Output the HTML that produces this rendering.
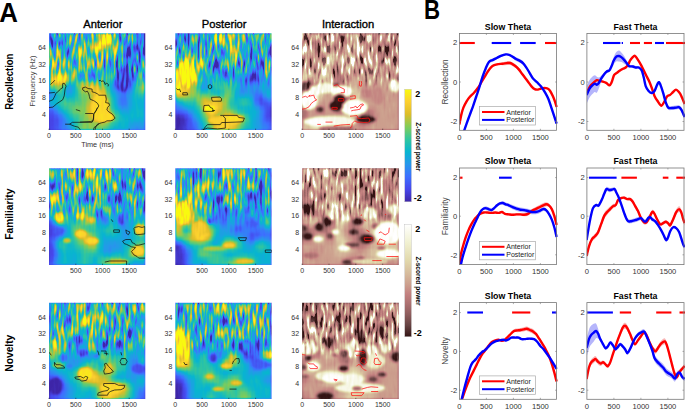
<!DOCTYPE html>
<html><head><meta charset="utf-8"><style>
html,body{margin:0;padding:0;background:#fff;width:685px;height:409px;overflow:hidden;position:relative}
</style></head><body>
<svg width="685" height="409" viewBox="0 0 685 409" style="position:absolute;left:0;top:0">
<defs>
<filter id="bl08" x="0" y="0" width="1" height="1"><feGaussianBlur stdDeviation="0.8" edgeMode="duplicate"/></filter>
<filter id="bl12" x="0" y="0" width="1" height="1"><feGaussianBlur stdDeviation="1.2" edgeMode="duplicate"/></filter>
<filter id="bl18" x="0" y="0" width="1" height="1"><feGaussianBlur stdDeviation="1.8" edgeMode="duplicate"/></filter>
<filter id="bl25" x="0" y="0" width="1" height="1"><feGaussianBlur stdDeviation="2.5" edgeMode="duplicate"/></filter>
</defs>
<filter id="hfra" x="0" y="0" width="1" height="1" color-interpolation-filters="sRGB"><feGaussianBlur in="SourceGraphic" stdDeviation="1.2" edgeMode="duplicate" result="base"/><feTurbulence type="fractalNoise" baseFrequency="0.4 0.08" numOctaves="1" seed="3" result="turb"/><feColorMatrix in="turb" type="matrix" values="1 0 0 0 0 0 0 0 0 0 0 0 0 0 0 0 0 0 0 1" result="n0"/><feOffset in="n0" dx="0" dy="0" result="n"/><feColorMatrix in="base" type="matrix" values="0 1 0 0 0 0 0 0 0 0 0 0 0 0 0 0 0 0 0 1" result="m"/><feComposite in="n" in2="m" operator="arithmetic" k1="1.8" k2="0" k3="-0.900" k4="0.5" result="pert"/><feComposite in="base" in2="pert" operator="arithmetic" k1="0" k2="1" k3="1" k4="-0.5" result="sum"/><feColorMatrix in="sum" type="matrix" values="1 0 0 0 0 1 0 0 0 0 1 0 0 0 0 0 0 0 0 1" result="gray"/><feComponentTransfer in="gray"><feFuncR type="table" tableValues="0.243 0.263 0.278 0.263 0.243 0.200 0.153 0.090 0.031 0.110 0.192 0.349 0.506 0.682 0.863 0.925 0.988 0.984 0.976"/><feFuncG type="table" tableValues="0.149 0.216 0.278 0.357 0.435 0.514 0.592 0.651 0.710 0.741 0.776 0.788 0.800 0.769 0.741 0.776 0.812 0.898 0.984"/><feFuncB type="table" tableValues="0.659 0.792 0.922 0.961 1.000 0.961 0.922 0.871 0.816 0.722 0.624 0.486 0.349 0.255 0.161 0.173 0.188 0.122 0.055"/></feComponentTransfer></filter>
<svg x="49" y="33.2" width="96.30" height="96.70" viewBox="0 0 96.30 96.70" preserveAspectRatio="none" overflow="hidden">
<g filter="url(#hfra)">
<linearGradient id="gra0"><stop offset="0.000" stop-color="#55ff00"/><stop offset="0.053" stop-color="#5cff00"/><stop offset="0.105" stop-color="#72ff00"/><stop offset="0.158" stop-color="#75ff00"/><stop offset="0.211" stop-color="#71ff00"/><stop offset="0.263" stop-color="#83ff00"/><stop offset="0.316" stop-color="#91ff00"/><stop offset="0.368" stop-color="#8eff00"/><stop offset="0.421" stop-color="#95ff00"/><stop offset="0.474" stop-color="#b1ff00"/><stop offset="0.526" stop-color="#d7ff00"/><stop offset="0.579" stop-color="#ddff00"/><stop offset="0.632" stop-color="#c0ff00"/><stop offset="0.684" stop-color="#99ff00"/><stop offset="0.737" stop-color="#80ff00"/><stop offset="0.789" stop-color="#74ff00"/><stop offset="0.842" stop-color="#61ff00"/><stop offset="0.895" stop-color="#55ff00"/><stop offset="0.947" stop-color="#58ff00"/><stop offset="1.000" stop-color="#59ff00"/></linearGradient>
<rect x="0" y="0.00" width="96.30" height="4.53" fill="url(#gra0)"/>
<linearGradient id="gra1"><stop offset="0.000" stop-color="#4aff00"/><stop offset="0.053" stop-color="#4fff00"/><stop offset="0.105" stop-color="#61ff00"/><stop offset="0.158" stop-color="#6bff00"/><stop offset="0.211" stop-color="#74ff00"/><stop offset="0.263" stop-color="#87ff00"/><stop offset="0.316" stop-color="#8fff00"/><stop offset="0.368" stop-color="#8cff00"/><stop offset="0.421" stop-color="#9aff00"/><stop offset="0.474" stop-color="#c0ff00"/><stop offset="0.526" stop-color="#e8ff00"/><stop offset="0.579" stop-color="#e6ff00"/><stop offset="0.632" stop-color="#c5ff00"/><stop offset="0.684" stop-color="#a3ff00"/><stop offset="0.737" stop-color="#86ff00"/><stop offset="0.789" stop-color="#6eff00"/><stop offset="0.842" stop-color="#58ff00"/><stop offset="0.895" stop-color="#4dff00"/><stop offset="0.947" stop-color="#4dff00"/><stop offset="1.000" stop-color="#4eff00"/></linearGradient>
<rect x="0" y="4.03" width="96.30" height="4.53" fill="url(#gra1)"/>
<linearGradient id="gra2"><stop offset="0.000" stop-color="#39ff00"/><stop offset="0.053" stop-color="#3dff00"/><stop offset="0.105" stop-color="#4bff00"/><stop offset="0.158" stop-color="#5fff00"/><stop offset="0.211" stop-color="#76ff00"/><stop offset="0.263" stop-color="#8aff00"/><stop offset="0.316" stop-color="#8dff00"/><stop offset="0.368" stop-color="#8aff00"/><stop offset="0.421" stop-color="#a3ff00"/><stop offset="0.474" stop-color="#d5ff00"/><stop offset="0.526" stop-color="#feff00"/><stop offset="0.579" stop-color="#f0ff00"/><stop offset="0.632" stop-color="#c8ff00"/><stop offset="0.684" stop-color="#b2ff00"/><stop offset="0.737" stop-color="#8fff00"/><stop offset="0.789" stop-color="#60ff00"/><stop offset="0.842" stop-color="#46ff00"/><stop offset="0.895" stop-color="#3dff00"/><stop offset="0.947" stop-color="#3cff00"/><stop offset="1.000" stop-color="#3cff00"/></linearGradient>
<rect x="0" y="8.06" width="96.30" height="4.53" fill="url(#gra2)"/>
<linearGradient id="gra3"><stop offset="0.000" stop-color="#3aff00"/><stop offset="0.053" stop-color="#43ff00"/><stop offset="0.105" stop-color="#5eff00"/><stop offset="0.158" stop-color="#69ff00"/><stop offset="0.211" stop-color="#6aff00"/><stop offset="0.263" stop-color="#81ff00"/><stop offset="0.316" stop-color="#90ff00"/><stop offset="0.368" stop-color="#93ff00"/><stop offset="0.421" stop-color="#a5ff00"/><stop offset="0.474" stop-color="#ccff00"/><stop offset="0.526" stop-color="#f0ff00"/><stop offset="0.579" stop-color="#dcff00"/><stop offset="0.632" stop-color="#b7ff00"/><stop offset="0.684" stop-color="#b1ff00"/><stop offset="0.737" stop-color="#8dff00"/><stop offset="0.789" stop-color="#4eff00"/><stop offset="0.842" stop-color="#35ff00"/><stop offset="0.895" stop-color="#36ff00"/><stop offset="0.947" stop-color="#3cff00"/><stop offset="1.000" stop-color="#3dff00"/></linearGradient>
<rect x="0" y="12.09" width="96.30" height="4.53" fill="url(#gra3)"/>
<linearGradient id="gra4"><stop offset="0.000" stop-color="#55ff00"/><stop offset="0.053" stop-color="#65ff00"/><stop offset="0.105" stop-color="#94ff00"/><stop offset="0.158" stop-color="#83ff00"/><stop offset="0.211" stop-color="#58ff00"/><stop offset="0.263" stop-color="#72ff00"/><stop offset="0.316" stop-color="#9aff00"/><stop offset="0.368" stop-color="#a4ff00"/><stop offset="0.421" stop-color="#9cff00"/><stop offset="0.474" stop-color="#a5ff00"/><stop offset="0.526" stop-color="#bfff00"/><stop offset="0.579" stop-color="#b1ff00"/><stop offset="0.632" stop-color="#98ff00"/><stop offset="0.684" stop-color="#9eff00"/><stop offset="0.737" stop-color="#7dff00"/><stop offset="0.789" stop-color="#3eff00"/><stop offset="0.842" stop-color="#2dff00"/><stop offset="0.895" stop-color="#3bff00"/><stop offset="0.947" stop-color="#4cff00"/><stop offset="1.000" stop-color="#50ff00"/></linearGradient>
<rect x="0" y="16.12" width="96.30" height="4.53" fill="url(#gra4)"/>
<linearGradient id="gra5"><stop offset="0.000" stop-color="#7fff00"/><stop offset="0.053" stop-color="#8dff00"/><stop offset="0.105" stop-color="#afff00"/><stop offset="0.158" stop-color="#8dff00"/><stop offset="0.211" stop-color="#57ff00"/><stop offset="0.263" stop-color="#75ff00"/><stop offset="0.316" stop-color="#a6ff00"/><stop offset="0.368" stop-color="#b0ff00"/><stop offset="0.421" stop-color="#91ff00"/><stop offset="0.474" stop-color="#81ff00"/><stop offset="0.526" stop-color="#97ff00"/><stop offset="0.579" stop-color="#96ff00"/><stop offset="0.632" stop-color="#89ff00"/><stop offset="0.684" stop-color="#8dff00"/><stop offset="0.737" stop-color="#6dff00"/><stop offset="0.789" stop-color="#3aff00"/><stop offset="0.842" stop-color="#33ff00"/><stop offset="0.895" stop-color="#46ff00"/><stop offset="0.947" stop-color="#55ff00"/><stop offset="1.000" stop-color="#58ff00"/></linearGradient>
<rect x="0" y="20.15" width="96.30" height="4.53" fill="url(#gra5)"/>
<linearGradient id="gra6"><stop offset="0.000" stop-color="#a5ff00"/><stop offset="0.053" stop-color="#a6ff00"/><stop offset="0.105" stop-color="#a2ff00"/><stop offset="0.158" stop-color="#82ff00"/><stop offset="0.211" stop-color="#68ff00"/><stop offset="0.263" stop-color="#8aff00"/><stop offset="0.316" stop-color="#b1ff00"/><stop offset="0.368" stop-color="#b0ff00"/><stop offset="0.421" stop-color="#88ff00"/><stop offset="0.474" stop-color="#72ff00"/><stop offset="0.526" stop-color="#88ff00"/><stop offset="0.579" stop-color="#93ff00"/><stop offset="0.632" stop-color="#8cff00"/><stop offset="0.684" stop-color="#83ff00"/><stop offset="0.737" stop-color="#61ff00"/><stop offset="0.789" stop-color="#3bff00"/><stop offset="0.842" stop-color="#42ff00"/><stop offset="0.895" stop-color="#53ff00"/><stop offset="0.947" stop-color="#54ff00"/><stop offset="1.000" stop-color="#53ff00"/></linearGradient>
<rect x="0" y="24.18" width="96.30" height="4.53" fill="url(#gra6)"/>
<linearGradient id="gra7"><stop offset="0.000" stop-color="#a7ff00"/><stop offset="0.053" stop-color="#a2ff00"/><stop offset="0.105" stop-color="#8eff00"/><stop offset="0.158" stop-color="#79ff00"/><stop offset="0.211" stop-color="#7aff00"/><stop offset="0.263" stop-color="#9cff00"/><stop offset="0.316" stop-color="#b5ff00"/><stop offset="0.368" stop-color="#aaff00"/><stop offset="0.421" stop-color="#85ff00"/><stop offset="0.474" stop-color="#74ff00"/><stop offset="0.526" stop-color="#88ff00"/><stop offset="0.579" stop-color="#91ff00"/><stop offset="0.632" stop-color="#88ff00"/><stop offset="0.684" stop-color="#79ff00"/><stop offset="0.737" stop-color="#53ff00"/><stop offset="0.789" stop-color="#33ff00"/><stop offset="0.842" stop-color="#47ff00"/><stop offset="0.895" stop-color="#5fff00"/><stop offset="0.947" stop-color="#5cff00"/><stop offset="1.000" stop-color="#5aff00"/></linearGradient>
<rect x="0" y="28.20" width="96.30" height="4.53" fill="url(#gra7)"/>
<linearGradient id="gra8"><stop offset="0.000" stop-color="#91ff00"/><stop offset="0.053" stop-color="#90ff00"/><stop offset="0.105" stop-color="#89ff00"/><stop offset="0.158" stop-color="#81ff00"/><stop offset="0.211" stop-color="#86ff00"/><stop offset="0.263" stop-color="#a3ff00"/><stop offset="0.316" stop-color="#afff00"/><stop offset="0.368" stop-color="#9cff00"/><stop offset="0.421" stop-color="#7fff00"/><stop offset="0.474" stop-color="#79ff00"/><stop offset="0.526" stop-color="#8bff00"/><stop offset="0.579" stop-color="#89ff00"/><stop offset="0.632" stop-color="#77ff00"/><stop offset="0.684" stop-color="#6aff00"/><stop offset="0.737" stop-color="#44ff00"/><stop offset="0.789" stop-color="#23ff00"/><stop offset="0.842" stop-color="#3eff00"/><stop offset="0.895" stop-color="#64ff00"/><stop offset="0.947" stop-color="#6cff00"/><stop offset="1.000" stop-color="#6cff00"/></linearGradient>
<rect x="0" y="32.23" width="96.30" height="4.53" fill="url(#gra8)"/>
<linearGradient id="gra9"><stop offset="0.000" stop-color="#96da00"/><stop offset="0.053" stop-color="#97da00"/><stop offset="0.105" stop-color="#9ada00"/><stop offset="0.158" stop-color="#98da00"/><stop offset="0.211" stop-color="#98da00"/><stop offset="0.263" stop-color="#a2da00"/><stop offset="0.316" stop-color="#9eda00"/><stop offset="0.368" stop-color="#84da00"/><stop offset="0.421" stop-color="#69da00"/><stop offset="0.474" stop-color="#6bda00"/><stop offset="0.526" stop-color="#89da00"/><stop offset="0.579" stop-color="#85da00"/><stop offset="0.632" stop-color="#6ada00"/><stop offset="0.684" stop-color="#59da00"/><stop offset="0.737" stop-color="#38da00"/><stop offset="0.789" stop-color="#1ada00"/><stop offset="0.842" stop-color="#32da00"/><stop offset="0.895" stop-color="#5ada00"/><stop offset="0.947" stop-color="#6fda00"/><stop offset="1.000" stop-color="#73da00"/></linearGradient>
<rect x="0" y="36.26" width="96.30" height="4.53" fill="url(#gra9)"/>
<linearGradient id="gra10"><stop offset="0.000" stop-color="#b8b000"/><stop offset="0.053" stop-color="#b9b000"/><stop offset="0.105" stop-color="#bab000"/><stop offset="0.158" stop-color="#b5b000"/><stop offset="0.211" stop-color="#a9b000"/><stop offset="0.263" stop-color="#9cb000"/><stop offset="0.316" stop-color="#8bb000"/><stop offset="0.368" stop-color="#71b000"/><stop offset="0.421" stop-color="#53b000"/><stop offset="0.474" stop-color="#59b000"/><stop offset="0.526" stop-color="#85b000"/><stop offset="0.579" stop-color="#89b000"/><stop offset="0.632" stop-color="#68b000"/><stop offset="0.684" stop-color="#4bb000"/><stop offset="0.737" stop-color="#2eb000"/><stop offset="0.789" stop-color="#1cb000"/><stop offset="0.842" stop-color="#29b000"/><stop offset="0.895" stop-color="#4ab000"/><stop offset="0.947" stop-color="#69b000"/><stop offset="1.000" stop-color="#71b000"/></linearGradient>
<rect x="0" y="40.29" width="96.30" height="4.53" fill="url(#gra10)"/>
<linearGradient id="gra11"><stop offset="0.000" stop-color="#cb8500"/><stop offset="0.053" stop-color="#cd8500"/><stop offset="0.105" stop-color="#d28500"/><stop offset="0.158" stop-color="#c08500"/><stop offset="0.211" stop-color="#a18500"/><stop offset="0.263" stop-color="#8f8500"/><stop offset="0.316" stop-color="#8a8500"/><stop offset="0.368" stop-color="#858500"/><stop offset="0.421" stop-color="#718500"/><stop offset="0.474" stop-color="#6f8500"/><stop offset="0.526" stop-color="#8b8500"/><stop offset="0.579" stop-color="#918500"/><stop offset="0.632" stop-color="#748500"/><stop offset="0.684" stop-color="#478500"/><stop offset="0.737" stop-color="#268500"/><stop offset="0.789" stop-color="#1b8500"/><stop offset="0.842" stop-color="#278500"/><stop offset="0.895" stop-color="#4b8500"/><stop offset="0.947" stop-color="#788500"/><stop offset="1.000" stop-color="#848500"/></linearGradient>
<rect x="0" y="44.32" width="96.30" height="4.53" fill="url(#gra11)"/>
<linearGradient id="gra12"><stop offset="0.000" stop-color="#b95b00"/><stop offset="0.053" stop-color="#c15b00"/><stop offset="0.105" stop-color="#d25b00"/><stop offset="0.158" stop-color="#b45b00"/><stop offset="0.211" stop-color="#825b00"/><stop offset="0.263" stop-color="#7f5b00"/><stop offset="0.316" stop-color="#9a5b00"/><stop offset="0.368" stop-color="#b45b00"/><stop offset="0.421" stop-color="#b55b00"/><stop offset="0.474" stop-color="#a95b00"/><stop offset="0.526" stop-color="#a05b00"/><stop offset="0.579" stop-color="#9b5b00"/><stop offset="0.632" stop-color="#845b00"/><stop offset="0.684" stop-color="#4d5b00"/><stop offset="0.737" stop-color="#225b00"/><stop offset="0.789" stop-color="#1a5b00"/><stop offset="0.842" stop-color="#2f5b00"/><stop offset="0.895" stop-color="#615b00"/><stop offset="0.947" stop-color="#985b00"/><stop offset="1.000" stop-color="#a75b00"/></linearGradient>
<rect x="0" y="48.35" width="96.30" height="4.53" fill="url(#gra12)"/>
<linearGradient id="gra13"><stop offset="0.000" stop-color="#8a3000"/><stop offset="0.053" stop-color="#973000"/><stop offset="0.105" stop-color="#b93000"/><stop offset="0.158" stop-color="#9a3000"/><stop offset="0.211" stop-color="#613000"/><stop offset="0.263" stop-color="#743000"/><stop offset="0.316" stop-color="#a43000"/><stop offset="0.368" stop-color="#c63000"/><stop offset="0.421" stop-color="#d43000"/><stop offset="0.474" stop-color="#d03000"/><stop offset="0.526" stop-color="#bf3000"/><stop offset="0.579" stop-color="#aa3000"/><stop offset="0.632" stop-color="#893000"/><stop offset="0.684" stop-color="#563000"/><stop offset="0.737" stop-color="#2c3000"/><stop offset="0.789" stop-color="#223000"/><stop offset="0.842" stop-color="#3f3000"/><stop offset="0.895" stop-color="#743000"/><stop offset="0.947" stop-color="#a53000"/><stop offset="1.000" stop-color="#b13000"/></linearGradient>
<rect x="0" y="52.38" width="96.30" height="4.53" fill="url(#gra13)"/>
<linearGradient id="gra14"><stop offset="0.000" stop-color="#591b00"/><stop offset="0.053" stop-color="#691b00"/><stop offset="0.105" stop-color="#951b00"/><stop offset="0.158" stop-color="#801b00"/><stop offset="0.211" stop-color="#521b00"/><stop offset="0.263" stop-color="#721b00"/><stop offset="0.316" stop-color="#a01b00"/><stop offset="0.368" stop-color="#b31b00"/><stop offset="0.421" stop-color="#c11b00"/><stop offset="0.474" stop-color="#d31b00"/><stop offset="0.526" stop-color="#dc1b00"/><stop offset="0.579" stop-color="#bc1b00"/><stop offset="0.632" stop-color="#861b00"/><stop offset="0.684" stop-color="#5f1b00"/><stop offset="0.737" stop-color="#3f1b00"/><stop offset="0.789" stop-color="#331b00"/><stop offset="0.842" stop-color="#511b00"/><stop offset="0.895" stop-color="#7c1b00"/><stop offset="0.947" stop-color="#971b00"/><stop offset="1.000" stop-color="#9c1b00"/></linearGradient>
<rect x="0" y="56.41" width="96.30" height="4.53" fill="url(#gra14)"/>
<linearGradient id="gra15"><stop offset="0.000" stop-color="#501500"/><stop offset="0.053" stop-color="#5d1500"/><stop offset="0.105" stop-color="#841500"/><stop offset="0.158" stop-color="#7c1500"/><stop offset="0.211" stop-color="#601500"/><stop offset="0.263" stop-color="#771500"/><stop offset="0.316" stop-color="#971500"/><stop offset="0.368" stop-color="#a41500"/><stop offset="0.421" stop-color="#b01500"/><stop offset="0.474" stop-color="#cc1500"/><stop offset="0.526" stop-color="#e91500"/><stop offset="0.579" stop-color="#cb1500"/><stop offset="0.632" stop-color="#8d1500"/><stop offset="0.684" stop-color="#651500"/><stop offset="0.737" stop-color="#461500"/><stop offset="0.789" stop-color="#3a1500"/><stop offset="0.842" stop-color="#5b1500"/><stop offset="0.895" stop-color="#7c1500"/><stop offset="0.947" stop-color="#831500"/><stop offset="1.000" stop-color="#831500"/></linearGradient>
<rect x="0" y="60.44" width="96.30" height="4.53" fill="url(#gra15)"/>
<linearGradient id="gra16"><stop offset="0.000" stop-color="#690f00"/><stop offset="0.053" stop-color="#700f00"/><stop offset="0.105" stop-color="#870f00"/><stop offset="0.158" stop-color="#8b0f00"/><stop offset="0.211" stop-color="#800f00"/><stop offset="0.263" stop-color="#830f00"/><stop offset="0.316" stop-color="#920f00"/><stop offset="0.368" stop-color="#a50f00"/><stop offset="0.421" stop-color="#b30f00"/><stop offset="0.474" stop-color="#ca0f00"/><stop offset="0.526" stop-color="#e50f00"/><stop offset="0.579" stop-color="#d30f00"/><stop offset="0.632" stop-color="#9e0f00"/><stop offset="0.684" stop-color="#690f00"/><stop offset="0.737" stop-color="#410f00"/><stop offset="0.789" stop-color="#370f00"/><stop offset="0.842" stop-color="#5b0f00"/><stop offset="0.895" stop-color="#790f00"/><stop offset="0.947" stop-color="#770f00"/><stop offset="1.000" stop-color="#740f00"/></linearGradient>
<rect x="0" y="64.47" width="96.30" height="4.53" fill="url(#gra16)"/>
<linearGradient id="gra17"><stop offset="0.000" stop-color="#680d00"/><stop offset="0.053" stop-color="#6e0d00"/><stop offset="0.105" stop-color="#840d00"/><stop offset="0.158" stop-color="#930d00"/><stop offset="0.211" stop-color="#950d00"/><stop offset="0.263" stop-color="#940d00"/><stop offset="0.316" stop-color="#990d00"/><stop offset="0.368" stop-color="#a90d00"/><stop offset="0.421" stop-color="#be0d00"/><stop offset="0.474" stop-color="#d50d00"/><stop offset="0.526" stop-color="#e20d00"/><stop offset="0.579" stop-color="#d10d00"/><stop offset="0.632" stop-color="#a40d00"/><stop offset="0.684" stop-color="#6e0d00"/><stop offset="0.737" stop-color="#450d00"/><stop offset="0.789" stop-color="#3c0d00"/><stop offset="0.842" stop-color="#5c0d00"/><stop offset="0.895" stop-color="#750d00"/><stop offset="0.947" stop-color="#710d00"/><stop offset="1.000" stop-color="#6e0d00"/></linearGradient>
<rect x="0" y="68.50" width="96.30" height="4.53" fill="url(#gra17)"/>
<linearGradient id="gra18"><stop offset="0.000" stop-color="#450c00"/><stop offset="0.053" stop-color="#4f0c00"/><stop offset="0.105" stop-color="#720c00"/><stop offset="0.158" stop-color="#890c00"/><stop offset="0.211" stop-color="#930c00"/><stop offset="0.263" stop-color="#a20c00"/><stop offset="0.316" stop-color="#a60c00"/><stop offset="0.368" stop-color="#a90c00"/><stop offset="0.421" stop-color="#c70c00"/><stop offset="0.474" stop-color="#e50c00"/><stop offset="0.526" stop-color="#e60c00"/><stop offset="0.579" stop-color="#cb0c00"/><stop offset="0.632" stop-color="#a20c00"/><stop offset="0.684" stop-color="#780c00"/><stop offset="0.737" stop-color="#570c00"/><stop offset="0.789" stop-color="#4b0c00"/><stop offset="0.842" stop-color="#610c00"/><stop offset="0.895" stop-color="#740c00"/><stop offset="0.947" stop-color="#710c00"/><stop offset="1.000" stop-color="#6f0c00"/></linearGradient>
<rect x="0" y="72.53" width="96.30" height="4.53" fill="url(#gra18)"/>
<linearGradient id="gra19"><stop offset="0.000" stop-color="#270c00"/><stop offset="0.053" stop-color="#310c00"/><stop offset="0.105" stop-color="#540c00"/><stop offset="0.158" stop-color="#730c00"/><stop offset="0.211" stop-color="#880c00"/><stop offset="0.263" stop-color="#a00c00"/><stop offset="0.316" stop-color="#a70c00"/><stop offset="0.368" stop-color="#a80c00"/><stop offset="0.421" stop-color="#c60c00"/><stop offset="0.474" stop-color="#e80c00"/><stop offset="0.526" stop-color="#eb0c00"/><stop offset="0.579" stop-color="#d30c00"/><stop offset="0.632" stop-color="#ae0c00"/><stop offset="0.684" stop-color="#8b0c00"/><stop offset="0.737" stop-color="#6d0c00"/><stop offset="0.789" stop-color="#5e0c00"/><stop offset="0.842" stop-color="#690c00"/><stop offset="0.895" stop-color="#760c00"/><stop offset="0.947" stop-color="#740c00"/><stop offset="1.000" stop-color="#730c00"/></linearGradient>
<rect x="0" y="76.55" width="96.30" height="4.53" fill="url(#gra19)"/>
<linearGradient id="gra20"><stop offset="0.000" stop-color="#1c0b00"/><stop offset="0.053" stop-color="#210b00"/><stop offset="0.105" stop-color="#370b00"/><stop offset="0.158" stop-color="#590b00"/><stop offset="0.211" stop-color="#7a0b00"/><stop offset="0.263" stop-color="#8e0b00"/><stop offset="0.316" stop-color="#9a0b00"/><stop offset="0.368" stop-color="#a80b00"/><stop offset="0.421" stop-color="#be0b00"/><stop offset="0.474" stop-color="#d80b00"/><stop offset="0.526" stop-color="#e80b00"/><stop offset="0.579" stop-color="#df0b00"/><stop offset="0.632" stop-color="#c10b00"/><stop offset="0.684" stop-color="#9c0b00"/><stop offset="0.737" stop-color="#7d0b00"/><stop offset="0.789" stop-color="#6d0b00"/><stop offset="0.842" stop-color="#700b00"/><stop offset="0.895" stop-color="#750b00"/><stop offset="0.947" stop-color="#750b00"/><stop offset="1.000" stop-color="#740b00"/></linearGradient>
<rect x="0" y="80.58" width="96.30" height="4.53" fill="url(#gra20)"/>
<linearGradient id="gra21"><stop offset="0.000" stop-color="#1a0b00"/><stop offset="0.053" stop-color="#1d0b00"/><stop offset="0.105" stop-color="#2b0b00"/><stop offset="0.158" stop-color="#480b00"/><stop offset="0.211" stop-color="#6a0b00"/><stop offset="0.263" stop-color="#800b00"/><stop offset="0.316" stop-color="#940b00"/><stop offset="0.368" stop-color="#a80b00"/><stop offset="0.421" stop-color="#b40b00"/><stop offset="0.474" stop-color="#c20b00"/><stop offset="0.526" stop-color="#d40b00"/><stop offset="0.579" stop-color="#d20b00"/><stop offset="0.632" stop-color="#b90b00"/><stop offset="0.684" stop-color="#970b00"/><stop offset="0.737" stop-color="#7e0b00"/><stop offset="0.789" stop-color="#740b00"/><stop offset="0.842" stop-color="#6d0b00"/><stop offset="0.895" stop-color="#6b0b00"/><stop offset="0.947" stop-color="#6b0b00"/><stop offset="1.000" stop-color="#6b0b00"/></linearGradient>
<rect x="0" y="84.61" width="96.30" height="4.53" fill="url(#gra21)"/>
<linearGradient id="gra22"><stop offset="0.000" stop-color="#1a0b00"/><stop offset="0.053" stop-color="#1e0b00"/><stop offset="0.105" stop-color="#2e0b00"/><stop offset="0.158" stop-color="#430b00"/><stop offset="0.211" stop-color="#5b0b00"/><stop offset="0.263" stop-color="#7b0b00"/><stop offset="0.316" stop-color="#980b00"/><stop offset="0.368" stop-color="#a90b00"/><stop offset="0.421" stop-color="#ad0b00"/><stop offset="0.474" stop-color="#b00b00"/><stop offset="0.526" stop-color="#b60b00"/><stop offset="0.579" stop-color="#af0b00"/><stop offset="0.632" stop-color="#980b00"/><stop offset="0.684" stop-color="#800b00"/><stop offset="0.737" stop-color="#750b00"/><stop offset="0.789" stop-color="#730b00"/><stop offset="0.842" stop-color="#640b00"/><stop offset="0.895" stop-color="#590b00"/><stop offset="0.947" stop-color="#5a0b00"/><stop offset="1.000" stop-color="#5c0b00"/></linearGradient>
<rect x="0" y="88.64" width="96.30" height="4.53" fill="url(#gra22)"/>
<linearGradient id="gra23"><stop offset="0.000" stop-color="#1a0a00"/><stop offset="0.053" stop-color="#1f0a00"/><stop offset="0.105" stop-color="#330a00"/><stop offset="0.158" stop-color="#420a00"/><stop offset="0.211" stop-color="#540a00"/><stop offset="0.263" stop-color="#7a0a00"/><stop offset="0.316" stop-color="#9b0a00"/><stop offset="0.368" stop-color="#a90a00"/><stop offset="0.421" stop-color="#aa0a00"/><stop offset="0.474" stop-color="#a80a00"/><stop offset="0.526" stop-color="#a70a00"/><stop offset="0.579" stop-color="#9a0a00"/><stop offset="0.632" stop-color="#850a00"/><stop offset="0.684" stop-color="#720a00"/><stop offset="0.737" stop-color="#6f0a00"/><stop offset="0.789" stop-color="#710a00"/><stop offset="0.842" stop-color="#5e0a00"/><stop offset="0.895" stop-color="#4f0a00"/><stop offset="0.947" stop-color="#510a00"/><stop offset="1.000" stop-color="#530a00"/></linearGradient>
<rect x="0" y="92.67" width="96.30" height="4.53" fill="url(#gra23)"/>
<ellipse cx="51.0" cy="74.8" rx="9.0" ry="14.0" fill="#e80c00"/>
<ellipse cx="57.0" cy="83.8" rx="8.0" ry="5.0" fill="#eb0b00"/>
<ellipse cx="74.0" cy="46.8" rx="8.0" ry="12.0" fill="#178100"/>
<ellipse cx="11.0" cy="46.8" rx="5.0" ry="5.0" fill="#e38100"/>
</g>
<path d="M1.5,51.4 L5.9,47.0" fill="none" stroke="#111" stroke-width="0.75" stroke-linejoin="round"/>
<path d="M0.0,68.1 L3.9,66.6 L5.9,62.7 L6.8,60.2 L9.8,57.8 L11.7,55.5 L13.5,54.8 L13.7,50.4 L15.2,50.0 L17.1,52.9 L16.1,55.8 L15.7,58.8 L15.2,62.7 L13.7,66.6 L10.8,68.5 L7.8,70.5 L3.9,73.9 L0.0,74.4" fill="none" stroke="#111" stroke-width="0.75" stroke-linejoin="round"/>
<path d="M0.0,59.8 L5.9,59.2" fill="none" stroke="#111" stroke-width="0.75" stroke-linejoin="round"/>
<path d="M16.1,91.0 L20.5,91.0 L23.5,89.1 L43.1,89.1 L44.5,86.2 L45.0,80.3 L47.0,77.3 L48.9,74.4" fill="none" stroke="#111" stroke-width="0.75" stroke-linejoin="round"/>
<path d="M20.5,91.0 L25.4,93.0 L29.4,94.0 L31.3,96.7" fill="none" stroke="#111" stroke-width="0.75" stroke-linejoin="round"/>
<path d="M46.0,96.7 L47.0,93.0 L50.0,90.6" fill="none" stroke="#111" stroke-width="0.75" stroke-linejoin="round"/>
<path d="M26.9,76.4 L31.3,77.8" fill="none" stroke="#111" stroke-width="0.75" stroke-linejoin="round"/>
<path d="M36.2,80.3 L44.0,80.3" fill="none" stroke="#111" stroke-width="0.75" stroke-linejoin="round"/>
<path d="M33.7,54.6 L36.4,53.9 L39.1,55.3 L43.1,55.9 L43.1,58.6 L45.8,59.3 L48.5,60.7 L49.9,62.0 L56.6,62.0 L57.3,66.0 L56.6,69.4 L60.0,70.1 L60.6,72.1 L58.6,74.1 L57.9,76.8 L60.0,78.8 L63.3,80.9 L65.3,83.6 L66.0,84.9 L64.0,86.9 L61.3,87.6 L57.9,87.6 L55.9,88.9 L52.5,89.6 L48.5,91.0 L47.2,93.0 L45.1,94.3 L44.5,96.7" fill="none" stroke="#111" stroke-width="0.75" stroke-linejoin="round"/>
<path d="M33.7,54.6 L33.7,56.6 L36.4,58.6 L38.4,58.0 L39.8,60.7 L40.4,63.3 L41.1,66.0 L44.5,67.4 L45.8,68.1 L48.5,70.1 L49.9,72.8 L47.8,75.5 L47.2,77.5 L45.8,79.5 L44.5,80.9 L44.5,84.9 L43.8,87.6 L41.8,88.3 L31.0,88.9" fill="none" stroke="#111" stroke-width="0.75" stroke-linejoin="round"/>
<path d="M49.9,47.6 L51.5,47.2 L52.5,48.3 L54.0,47.6 L55.5,48.8 L56.0,51.3 L57.8,50.0 L59.5,51.4 L59.0,53.2" fill="none" stroke="#111" stroke-width="0.75" stroke-linejoin="round"/>
</svg>
<filter id="hfrp" x="0" y="0" width="1" height="1" color-interpolation-filters="sRGB"><feGaussianBlur in="SourceGraphic" stdDeviation="1.2" edgeMode="duplicate" result="base"/><feTurbulence type="fractalNoise" baseFrequency="0.4 0.08" numOctaves="1" seed="7" result="turb"/><feColorMatrix in="turb" type="matrix" values="1 0 0 0 0 0 0 0 0 0 0 0 0 0 0 0 0 0 0 1" result="n0"/><feOffset in="n0" dx="0" dy="0" result="n"/><feColorMatrix in="base" type="matrix" values="0 1 0 0 0 0 0 0 0 0 0 0 0 0 0 0 0 0 0 1" result="m"/><feComposite in="n" in2="m" operator="arithmetic" k1="1.8" k2="0" k3="-0.900" k4="0.5" result="pert"/><feComposite in="base" in2="pert" operator="arithmetic" k1="0" k2="1" k3="1" k4="-0.5" result="sum"/><feColorMatrix in="sum" type="matrix" values="1 0 0 0 0 1 0 0 0 0 1 0 0 0 0 0 0 0 0 1" result="gray"/><feComponentTransfer in="gray"><feFuncR type="table" tableValues="0.243 0.263 0.278 0.263 0.243 0.200 0.153 0.090 0.031 0.110 0.192 0.349 0.506 0.682 0.863 0.925 0.988 0.984 0.976"/><feFuncG type="table" tableValues="0.149 0.216 0.278 0.357 0.435 0.514 0.592 0.651 0.710 0.741 0.776 0.788 0.800 0.769 0.741 0.776 0.812 0.898 0.984"/><feFuncB type="table" tableValues="0.659 0.792 0.922 0.961 1.000 0.961 0.922 0.871 0.816 0.722 0.624 0.486 0.349 0.255 0.161 0.173 0.188 0.122 0.055"/></feComponentTransfer></filter>
<svg x="175.3" y="33.2" width="96.30" height="96.70" viewBox="0 0 96.30 96.70" preserveAspectRatio="none" overflow="hidden">
<g filter="url(#hfrp)">
<linearGradient id="grp0"><stop offset="0.000" stop-color="#34ff00"/><stop offset="0.053" stop-color="#37ff00"/><stop offset="0.105" stop-color="#49ff00"/><stop offset="0.158" stop-color="#67ff00"/><stop offset="0.211" stop-color="#74ff00"/><stop offset="0.263" stop-color="#58ff00"/><stop offset="0.316" stop-color="#5bff00"/><stop offset="0.368" stop-color="#8bff00"/><stop offset="0.421" stop-color="#a7ff00"/><stop offset="0.474" stop-color="#acff00"/><stop offset="0.526" stop-color="#aaff00"/><stop offset="0.579" stop-color="#abff00"/><stop offset="0.632" stop-color="#aaff00"/><stop offset="0.684" stop-color="#9bff00"/><stop offset="0.737" stop-color="#82ff00"/><stop offset="0.789" stop-color="#74ff00"/><stop offset="0.842" stop-color="#88ff00"/><stop offset="0.895" stop-color="#8fff00"/><stop offset="0.947" stop-color="#76ff00"/><stop offset="1.000" stop-color="#6dff00"/></linearGradient>
<rect x="0" y="0.00" width="96.30" height="4.53" fill="url(#grp0)"/>
<linearGradient id="grp1"><stop offset="0.000" stop-color="#3eff00"/><stop offset="0.053" stop-color="#42ff00"/><stop offset="0.105" stop-color="#51ff00"/><stop offset="0.158" stop-color="#64ff00"/><stop offset="0.211" stop-color="#6aff00"/><stop offset="0.263" stop-color="#5fff00"/><stop offset="0.316" stop-color="#65ff00"/><stop offset="0.368" stop-color="#84ff00"/><stop offset="0.421" stop-color="#9cff00"/><stop offset="0.474" stop-color="#a7ff00"/><stop offset="0.526" stop-color="#abff00"/><stop offset="0.579" stop-color="#acff00"/><stop offset="0.632" stop-color="#a6ff00"/><stop offset="0.684" stop-color="#93ff00"/><stop offset="0.737" stop-color="#79ff00"/><stop offset="0.789" stop-color="#6aff00"/><stop offset="0.842" stop-color="#7bff00"/><stop offset="0.895" stop-color="#84ff00"/><stop offset="0.947" stop-color="#74ff00"/><stop offset="1.000" stop-color="#6eff00"/></linearGradient>
<rect x="0" y="4.03" width="96.30" height="4.53" fill="url(#grp1)"/>
<linearGradient id="grp2"><stop offset="0.000" stop-color="#4eff00"/><stop offset="0.053" stop-color="#53ff00"/><stop offset="0.105" stop-color="#64ff00"/><stop offset="0.158" stop-color="#63ff00"/><stop offset="0.211" stop-color="#5aff00"/><stop offset="0.263" stop-color="#68ff00"/><stop offset="0.316" stop-color="#74ff00"/><stop offset="0.368" stop-color="#77ff00"/><stop offset="0.421" stop-color="#86ff00"/><stop offset="0.474" stop-color="#9cff00"/><stop offset="0.526" stop-color="#aaff00"/><stop offset="0.579" stop-color="#aeff00"/><stop offset="0.632" stop-color="#a3ff00"/><stop offset="0.684" stop-color="#86ff00"/><stop offset="0.737" stop-color="#68ff00"/><stop offset="0.789" stop-color="#5aff00"/><stop offset="0.842" stop-color="#68ff00"/><stop offset="0.895" stop-color="#75ff00"/><stop offset="0.947" stop-color="#72ff00"/><stop offset="1.000" stop-color="#70ff00"/></linearGradient>
<rect x="0" y="8.06" width="96.30" height="4.53" fill="url(#grp2)"/>
<linearGradient id="grp3"><stop offset="0.000" stop-color="#4fff00"/><stop offset="0.053" stop-color="#5aff00"/><stop offset="0.105" stop-color="#7aff00"/><stop offset="0.158" stop-color="#71ff00"/><stop offset="0.211" stop-color="#55ff00"/><stop offset="0.263" stop-color="#5fff00"/><stop offset="0.316" stop-color="#6dff00"/><stop offset="0.368" stop-color="#6eff00"/><stop offset="0.421" stop-color="#79ff00"/><stop offset="0.474" stop-color="#8bff00"/><stop offset="0.526" stop-color="#9fff00"/><stop offset="0.579" stop-color="#b3ff00"/><stop offset="0.632" stop-color="#b0ff00"/><stop offset="0.684" stop-color="#85ff00"/><stop offset="0.737" stop-color="#5cff00"/><stop offset="0.789" stop-color="#54ff00"/><stop offset="0.842" stop-color="#6cff00"/><stop offset="0.895" stop-color="#7cff00"/><stop offset="0.947" stop-color="#74ff00"/><stop offset="1.000" stop-color="#71ff00"/></linearGradient>
<rect x="0" y="12.09" width="96.30" height="4.53" fill="url(#grp3)"/>
<linearGradient id="grp4"><stop offset="0.000" stop-color="#48ff00"/><stop offset="0.053" stop-color="#59ff00"/><stop offset="0.105" stop-color="#90ff00"/><stop offset="0.158" stop-color="#90ff00"/><stop offset="0.211" stop-color="#63ff00"/><stop offset="0.263" stop-color="#51ff00"/><stop offset="0.316" stop-color="#5aff00"/><stop offset="0.368" stop-color="#6dff00"/><stop offset="0.421" stop-color="#75ff00"/><stop offset="0.474" stop-color="#7aff00"/><stop offset="0.526" stop-color="#8cff00"/><stop offset="0.579" stop-color="#b4ff00"/><stop offset="0.632" stop-color="#c3ff00"/><stop offset="0.684" stop-color="#8dff00"/><stop offset="0.737" stop-color="#5aff00"/><stop offset="0.789" stop-color="#56ff00"/><stop offset="0.842" stop-color="#7dff00"/><stop offset="0.895" stop-color="#8eff00"/><stop offset="0.947" stop-color="#77ff00"/><stop offset="1.000" stop-color="#6fff00"/></linearGradient>
<rect x="0" y="16.12" width="96.30" height="4.53" fill="url(#grp4)"/>
<linearGradient id="grp5"><stop offset="0.000" stop-color="#57ff00"/><stop offset="0.053" stop-color="#6bff00"/><stop offset="0.105" stop-color="#acff00"/><stop offset="0.158" stop-color="#b0ff00"/><stop offset="0.211" stop-color="#7eff00"/><stop offset="0.263" stop-color="#66ff00"/><stop offset="0.316" stop-color="#6aff00"/><stop offset="0.368" stop-color="#74ff00"/><stop offset="0.421" stop-color="#6fff00"/><stop offset="0.474" stop-color="#6bff00"/><stop offset="0.526" stop-color="#7cff00"/><stop offset="0.579" stop-color="#a8ff00"/><stop offset="0.632" stop-color="#bdff00"/><stop offset="0.684" stop-color="#8dff00"/><stop offset="0.737" stop-color="#58ff00"/><stop offset="0.789" stop-color="#4dff00"/><stop offset="0.842" stop-color="#6dff00"/><stop offset="0.895" stop-color="#80ff00"/><stop offset="0.947" stop-color="#71ff00"/><stop offset="1.000" stop-color="#6bff00"/></linearGradient>
<rect x="0" y="20.15" width="96.30" height="4.53" fill="url(#grp5)"/>
<linearGradient id="grp6"><stop offset="0.000" stop-color="#78ff00"/><stop offset="0.053" stop-color="#8cff00"/><stop offset="0.105" stop-color="#cbff00"/><stop offset="0.158" stop-color="#caff00"/><stop offset="0.211" stop-color="#9dff00"/><stop offset="0.263" stop-color="#98ff00"/><stop offset="0.316" stop-color="#93ff00"/><stop offset="0.368" stop-color="#79ff00"/><stop offset="0.421" stop-color="#62ff00"/><stop offset="0.474" stop-color="#5eff00"/><stop offset="0.526" stop-color="#71ff00"/><stop offset="0.579" stop-color="#90ff00"/><stop offset="0.632" stop-color="#9eff00"/><stop offset="0.684" stop-color="#83ff00"/><stop offset="0.737" stop-color="#59ff00"/><stop offset="0.789" stop-color="#3bff00"/><stop offset="0.842" stop-color="#3fff00"/><stop offset="0.895" stop-color="#55ff00"/><stop offset="0.947" stop-color="#68ff00"/><stop offset="1.000" stop-color="#6dff00"/></linearGradient>
<rect x="0" y="24.18" width="96.30" height="4.53" fill="url(#grp6)"/>
<linearGradient id="grp7"><stop offset="0.000" stop-color="#86ff00"/><stop offset="0.053" stop-color="#9cff00"/><stop offset="0.105" stop-color="#e0ff00"/><stop offset="0.158" stop-color="#e0ff00"/><stop offset="0.211" stop-color="#b1ff00"/><stop offset="0.263" stop-color="#aeff00"/><stop offset="0.316" stop-color="#9fff00"/><stop offset="0.368" stop-color="#6fff00"/><stop offset="0.421" stop-color="#50ff00"/><stop offset="0.474" stop-color="#4eff00"/><stop offset="0.526" stop-color="#61ff00"/><stop offset="0.579" stop-color="#76ff00"/><stop offset="0.632" stop-color="#82ff00"/><stop offset="0.684" stop-color="#7dff00"/><stop offset="0.737" stop-color="#65ff00"/><stop offset="0.789" stop-color="#41ff00"/><stop offset="0.842" stop-color="#29ff00"/><stop offset="0.895" stop-color="#40ff00"/><stop offset="0.947" stop-color="#78ff00"/><stop offset="1.000" stop-color="#88ff00"/></linearGradient>
<rect x="0" y="28.20" width="96.30" height="4.53" fill="url(#grp7)"/>
<linearGradient id="grp8"><stop offset="0.000" stop-color="#80ff00"/><stop offset="0.053" stop-color="#99ff00"/><stop offset="0.105" stop-color="#e9ff00"/><stop offset="0.158" stop-color="#f2ff00"/><stop offset="0.211" stop-color="#bdff00"/><stop offset="0.263" stop-color="#a3ff00"/><stop offset="0.316" stop-color="#87ff00"/><stop offset="0.368" stop-color="#5dff00"/><stop offset="0.421" stop-color="#41ff00"/><stop offset="0.474" stop-color="#3fff00"/><stop offset="0.526" stop-color="#51ff00"/><stop offset="0.579" stop-color="#66ff00"/><stop offset="0.632" stop-color="#75ff00"/><stop offset="0.684" stop-color="#7aff00"/><stop offset="0.737" stop-color="#70ff00"/><stop offset="0.789" stop-color="#55ff00"/><stop offset="0.842" stop-color="#31ff00"/><stop offset="0.895" stop-color="#49ff00"/><stop offset="0.947" stop-color="#97ff00"/><stop offset="1.000" stop-color="#aeff00"/></linearGradient>
<rect x="0" y="32.23" width="96.30" height="4.53" fill="url(#grp8)"/>
<linearGradient id="grp9"><stop offset="0.000" stop-color="#8ada00"/><stop offset="0.053" stop-color="#a1da00"/><stop offset="0.105" stop-color="#efda00"/><stop offset="0.158" stop-color="#ffda00"/><stop offset="0.211" stop-color="#cfda00"/><stop offset="0.263" stop-color="#a1da00"/><stop offset="0.316" stop-color="#7cda00"/><stop offset="0.368" stop-color="#5dda00"/><stop offset="0.421" stop-color="#41da00"/><stop offset="0.474" stop-color="#3bda00"/><stop offset="0.526" stop-color="#50da00"/><stop offset="0.579" stop-color="#67da00"/><stop offset="0.632" stop-color="#70da00"/><stop offset="0.684" stop-color="#69da00"/><stop offset="0.737" stop-color="#5dda00"/><stop offset="0.789" stop-color="#4cda00"/><stop offset="0.842" stop-color="#33da00"/><stop offset="0.895" stop-color="#4eda00"/><stop offset="0.947" stop-color="#9ada00"/><stop offset="1.000" stop-color="#b1da00"/></linearGradient>
<rect x="0" y="36.26" width="96.30" height="4.53" fill="url(#grp9)"/>
<linearGradient id="grp10"><stop offset="0.000" stop-color="#acb000"/><stop offset="0.053" stop-color="#bcb000"/><stop offset="0.105" stop-color="#f3b000"/><stop offset="0.158" stop-color="#ffb000"/><stop offset="0.211" stop-color="#e1b000"/><stop offset="0.263" stop-color="#aab000"/><stop offset="0.316" stop-color="#83b000"/><stop offset="0.368" stop-color="#6db000"/><stop offset="0.421" stop-color="#51b000"/><stop offset="0.474" stop-color="#49b000"/><stop offset="0.526" stop-color="#60b000"/><stop offset="0.579" stop-color="#74b000"/><stop offset="0.632" stop-color="#6eb000"/><stop offset="0.684" stop-color="#50b000"/><stop offset="0.737" stop-color="#35b000"/><stop offset="0.789" stop-color="#29b000"/><stop offset="0.842" stop-color="#28b000"/><stop offset="0.895" stop-color="#48b000"/><stop offset="0.947" stop-color="#7db000"/><stop offset="1.000" stop-color="#8cb000"/></linearGradient>
<rect x="0" y="40.29" width="96.30" height="4.53" fill="url(#grp10)"/>
<linearGradient id="grp11"><stop offset="0.000" stop-color="#d58500"/><stop offset="0.053" stop-color="#dc8500"/><stop offset="0.105" stop-color="#f48500"/><stop offset="0.158" stop-color="#f88500"/><stop offset="0.211" stop-color="#d68500"/><stop offset="0.263" stop-color="#9a8500"/><stop offset="0.316" stop-color="#778500"/><stop offset="0.368" stop-color="#748500"/><stop offset="0.421" stop-color="#6c8500"/><stop offset="0.474" stop-color="#698500"/><stop offset="0.526" stop-color="#768500"/><stop offset="0.579" stop-color="#7c8500"/><stop offset="0.632" stop-color="#6e8500"/><stop offset="0.684" stop-color="#4c8500"/><stop offset="0.737" stop-color="#298500"/><stop offset="0.789" stop-color="#1b8500"/><stop offset="0.842" stop-color="#2c8500"/><stop offset="0.895" stop-color="#4a8500"/><stop offset="0.947" stop-color="#608500"/><stop offset="1.000" stop-color="#648500"/></linearGradient>
<rect x="0" y="44.32" width="96.30" height="4.53" fill="url(#grp11)"/>
<linearGradient id="grp12"><stop offset="0.000" stop-color="#f75b00"/><stop offset="0.053" stop-color="#f65b00"/><stop offset="0.105" stop-color="#ef5b00"/><stop offset="0.158" stop-color="#dd5b00"/><stop offset="0.211" stop-color="#b55b00"/><stop offset="0.263" stop-color="#755b00"/><stop offset="0.316" stop-color="#5a5b00"/><stop offset="0.368" stop-color="#6e5b00"/><stop offset="0.421" stop-color="#825b00"/><stop offset="0.474" stop-color="#8a5b00"/><stop offset="0.526" stop-color="#895b00"/><stop offset="0.579" stop-color="#7f5b00"/><stop offset="0.632" stop-color="#6f5b00"/><stop offset="0.684" stop-color="#5a5b00"/><stop offset="0.737" stop-color="#3e5b00"/><stop offset="0.789" stop-color="#2d5b00"/><stop offset="0.842" stop-color="#415b00"/><stop offset="0.895" stop-color="#555b00"/><stop offset="0.947" stop-color="#545b00"/><stop offset="1.000" stop-color="#525b00"/></linearGradient>
<rect x="0" y="48.35" width="96.30" height="4.53" fill="url(#grp12)"/>
<linearGradient id="grp13"><stop offset="0.000" stop-color="#ff3000"/><stop offset="0.053" stop-color="#ff3000"/><stop offset="0.105" stop-color="#e73000"/><stop offset="0.158" stop-color="#cb3000"/><stop offset="0.211" stop-color="#a33000"/><stop offset="0.263" stop-color="#6a3000"/><stop offset="0.316" stop-color="#583000"/><stop offset="0.368" stop-color="#713000"/><stop offset="0.421" stop-color="#813000"/><stop offset="0.474" stop-color="#8c3000"/><stop offset="0.526" stop-color="#963000"/><stop offset="0.579" stop-color="#893000"/><stop offset="0.632" stop-color="#6f3000"/><stop offset="0.684" stop-color="#5d3000"/><stop offset="0.737" stop-color="#4c3000"/><stop offset="0.789" stop-color="#423000"/><stop offset="0.842" stop-color="#4b3000"/><stop offset="0.895" stop-color="#583000"/><stop offset="0.947" stop-color="#5d3000"/><stop offset="1.000" stop-color="#5d3000"/></linearGradient>
<rect x="0" y="52.38" width="96.30" height="4.53" fill="url(#grp13)"/>
<linearGradient id="grp14"><stop offset="0.000" stop-color="#f81b00"/><stop offset="0.053" stop-color="#f21b00"/><stop offset="0.105" stop-color="#d91b00"/><stop offset="0.158" stop-color="#c11b00"/><stop offset="0.211" stop-color="#a71b00"/><stop offset="0.263" stop-color="#831b00"/><stop offset="0.316" stop-color="#791b00"/><stop offset="0.368" stop-color="#841b00"/><stop offset="0.421" stop-color="#751b00"/><stop offset="0.474" stop-color="#791b00"/><stop offset="0.526" stop-color="#a01b00"/><stop offset="0.579" stop-color="#971b00"/><stop offset="0.632" stop-color="#6d1b00"/><stop offset="0.684" stop-color="#551b00"/><stop offset="0.737" stop-color="#501b00"/><stop offset="0.789" stop-color="#4f1b00"/><stop offset="0.842" stop-color="#441b00"/><stop offset="0.895" stop-color="#4c1b00"/><stop offset="0.947" stop-color="#6b1b00"/><stop offset="1.000" stop-color="#741b00"/></linearGradient>
<rect x="0" y="56.41" width="96.30" height="4.53" fill="url(#grp14)"/>
<linearGradient id="grp15"><stop offset="0.000" stop-color="#ca1500"/><stop offset="0.053" stop-color="#c81500"/><stop offset="0.105" stop-color="#bf1500"/><stop offset="0.158" stop-color="#b21500"/><stop offset="0.211" stop-color="#a61500"/><stop offset="0.263" stop-color="#a21500"/><stop offset="0.316" stop-color="#a21500"/><stop offset="0.368" stop-color="#9b1500"/><stop offset="0.421" stop-color="#831500"/><stop offset="0.474" stop-color="#861500"/><stop offset="0.526" stop-color="#aa1500"/><stop offset="0.579" stop-color="#9a1500"/><stop offset="0.632" stop-color="#6c1500"/><stop offset="0.684" stop-color="#601500"/><stop offset="0.737" stop-color="#661500"/><stop offset="0.789" stop-color="#5e1500"/><stop offset="0.842" stop-color="#371500"/><stop offset="0.895" stop-color="#341500"/><stop offset="0.947" stop-color="#621500"/><stop offset="1.000" stop-color="#711500"/></linearGradient>
<rect x="0" y="60.44" width="96.30" height="4.53" fill="url(#grp15)"/>
<linearGradient id="grp16"><stop offset="0.000" stop-color="#8a0f00"/><stop offset="0.053" stop-color="#8e0f00"/><stop offset="0.105" stop-color="#9b0f00"/><stop offset="0.158" stop-color="#990f00"/><stop offset="0.211" stop-color="#970f00"/><stop offset="0.263" stop-color="#b30f00"/><stop offset="0.316" stop-color="#c20f00"/><stop offset="0.368" stop-color="#b70f00"/><stop offset="0.421" stop-color="#af0f00"/><stop offset="0.474" stop-color="#b30f00"/><stop offset="0.526" stop-color="#b30f00"/><stop offset="0.579" stop-color="#900f00"/><stop offset="0.632" stop-color="#6f0f00"/><stop offset="0.684" stop-color="#7c0f00"/><stop offset="0.737" stop-color="#880f00"/><stop offset="0.789" stop-color="#6e0f00"/><stop offset="0.842" stop-color="#320f00"/><stop offset="0.895" stop-color="#1e0f00"/><stop offset="0.947" stop-color="#430f00"/><stop offset="1.000" stop-color="#500f00"/></linearGradient>
<rect x="0" y="64.47" width="96.30" height="4.53" fill="url(#grp16)"/>
<linearGradient id="grp17"><stop offset="0.000" stop-color="#5b0d00"/><stop offset="0.053" stop-color="#620d00"/><stop offset="0.105" stop-color="#7a0d00"/><stop offset="0.158" stop-color="#800d00"/><stop offset="0.211" stop-color="#860d00"/><stop offset="0.263" stop-color="#ae0d00"/><stop offset="0.316" stop-color="#d10d00"/><stop offset="0.368" stop-color="#da0d00"/><stop offset="0.421" stop-color="#d90d00"/><stop offset="0.474" stop-color="#cd0d00"/><stop offset="0.526" stop-color="#b10d00"/><stop offset="0.579" stop-color="#8a0d00"/><stop offset="0.632" stop-color="#740d00"/><stop offset="0.684" stop-color="#820d00"/><stop offset="0.737" stop-color="#8c0d00"/><stop offset="0.789" stop-color="#750d00"/><stop offset="0.842" stop-color="#400d00"/><stop offset="0.895" stop-color="#210d00"/><stop offset="0.947" stop-color="#2a0d00"/><stop offset="1.000" stop-color="#2f0d00"/></linearGradient>
<rect x="0" y="68.50" width="96.30" height="4.53" fill="url(#grp17)"/>
<linearGradient id="grp18"><stop offset="0.000" stop-color="#420c00"/><stop offset="0.053" stop-color="#480c00"/><stop offset="0.105" stop-color="#5d0c00"/><stop offset="0.158" stop-color="#6b0c00"/><stop offset="0.211" stop-color="#790c00"/><stop offset="0.263" stop-color="#990c00"/><stop offset="0.316" stop-color="#ce0c00"/><stop offset="0.368" stop-color="#f80c00"/><stop offset="0.421" stop-color="#eb0c00"/><stop offset="0.474" stop-color="#c60c00"/><stop offset="0.526" stop-color="#ab0c00"/><stop offset="0.579" stop-color="#940c00"/><stop offset="0.632" stop-color="#800c00"/><stop offset="0.684" stop-color="#760c00"/><stop offset="0.737" stop-color="#760c00"/><stop offset="0.789" stop-color="#730c00"/><stop offset="0.842" stop-color="#5c0c00"/><stop offset="0.895" stop-color="#3c0c00"/><stop offset="0.947" stop-color="#230c00"/><stop offset="1.000" stop-color="#1d0c00"/></linearGradient>
<rect x="0" y="72.53" width="96.30" height="4.53" fill="url(#grp18)"/>
<linearGradient id="grp19"><stop offset="0.000" stop-color="#280c00"/><stop offset="0.053" stop-color="#2c0c00"/><stop offset="0.105" stop-color="#3c0c00"/><stop offset="0.158" stop-color="#540c00"/><stop offset="0.211" stop-color="#6c0c00"/><stop offset="0.263" stop-color="#880c00"/><stop offset="0.316" stop-color="#c10c00"/><stop offset="0.368" stop-color="#f70c00"/><stop offset="0.421" stop-color="#dd0c00"/><stop offset="0.474" stop-color="#b40c00"/><stop offset="0.526" stop-color="#b50c00"/><stop offset="0.579" stop-color="#b00c00"/><stop offset="0.632" stop-color="#9a0c00"/><stop offset="0.684" stop-color="#830c00"/><stop offset="0.737" stop-color="#750c00"/><stop offset="0.789" stop-color="#710c00"/><stop offset="0.842" stop-color="#6a0c00"/><stop offset="0.895" stop-color="#4c0c00"/><stop offset="0.947" stop-color="#200c00"/><stop offset="1.000" stop-color="#140c00"/></linearGradient>
<rect x="0" y="76.55" width="96.30" height="4.53" fill="url(#grp19)"/>
<linearGradient id="grp20"><stop offset="0.000" stop-color="#090b00"/><stop offset="0.053" stop-color="#0c0b00"/><stop offset="0.105" stop-color="#1c0b00"/><stop offset="0.158" stop-color="#3b0b00"/><stop offset="0.211" stop-color="#5e0b00"/><stop offset="0.263" stop-color="#7d0b00"/><stop offset="0.316" stop-color="#ae0b00"/><stop offset="0.368" stop-color="#d70b00"/><stop offset="0.421" stop-color="#bd0b00"/><stop offset="0.474" stop-color="#ac0b00"/><stop offset="0.526" stop-color="#cf0b00"/><stop offset="0.579" stop-color="#d30b00"/><stop offset="0.632" stop-color="#b90b00"/><stop offset="0.684" stop-color="#a70b00"/><stop offset="0.737" stop-color="#8f0b00"/><stop offset="0.789" stop-color="#720b00"/><stop offset="0.842" stop-color="#650b00"/><stop offset="0.895" stop-color="#4a0b00"/><stop offset="0.947" stop-color="#1f0b00"/><stop offset="1.000" stop-color="#130b00"/></linearGradient>
<rect x="0" y="80.58" width="96.30" height="4.53" fill="url(#grp20)"/>
<linearGradient id="grp21"><stop offset="0.000" stop-color="#000b00"/><stop offset="0.053" stop-color="#000b00"/><stop offset="0.105" stop-color="#0e0b00"/><stop offset="0.158" stop-color="#2b0b00"/><stop offset="0.211" stop-color="#4e0b00"/><stop offset="0.263" stop-color="#710b00"/><stop offset="0.316" stop-color="#990b00"/><stop offset="0.368" stop-color="#b80b00"/><stop offset="0.421" stop-color="#b40b00"/><stop offset="0.474" stop-color="#bc0b00"/><stop offset="0.526" stop-color="#e20b00"/><stop offset="0.579" stop-color="#e30b00"/><stop offset="0.632" stop-color="#c80b00"/><stop offset="0.684" stop-color="#b60b00"/><stop offset="0.737" stop-color="#980b00"/><stop offset="0.789" stop-color="#730b00"/><stop offset="0.842" stop-color="#600b00"/><stop offset="0.895" stop-color="#480b00"/><stop offset="0.947" stop-color="#270b00"/><stop offset="1.000" stop-color="#1e0b00"/></linearGradient>
<rect x="0" y="84.61" width="96.30" height="4.53" fill="url(#grp21)"/>
<linearGradient id="grp22"><stop offset="0.000" stop-color="#000b00"/><stop offset="0.053" stop-color="#000b00"/><stop offset="0.105" stop-color="#120b00"/><stop offset="0.158" stop-color="#270b00"/><stop offset="0.211" stop-color="#3f0b00"/><stop offset="0.263" stop-color="#620b00"/><stop offset="0.316" stop-color="#870b00"/><stop offset="0.368" stop-color="#a90b00"/><stop offset="0.421" stop-color="#c50b00"/><stop offset="0.474" stop-color="#db0b00"/><stop offset="0.526" stop-color="#e60b00"/><stop offset="0.579" stop-color="#de0b00"/><stop offset="0.632" stop-color="#c50b00"/><stop offset="0.684" stop-color="#a60b00"/><stop offset="0.737" stop-color="#890b00"/><stop offset="0.789" stop-color="#720b00"/><stop offset="0.842" stop-color="#600b00"/><stop offset="0.895" stop-color="#4b0b00"/><stop offset="0.947" stop-color="#350b00"/><stop offset="1.000" stop-color="#300b00"/></linearGradient>
<rect x="0" y="88.64" width="96.30" height="4.53" fill="url(#grp22)"/>
<linearGradient id="grp23"><stop offset="0.000" stop-color="#000a00"/><stop offset="0.053" stop-color="#040a00"/><stop offset="0.105" stop-color="#170a00"/><stop offset="0.158" stop-color="#260a00"/><stop offset="0.211" stop-color="#380a00"/><stop offset="0.263" stop-color="#5a0a00"/><stop offset="0.316" stop-color="#7f0a00"/><stop offset="0.368" stop-color="#a40a00"/><stop offset="0.421" stop-color="#d10a00"/><stop offset="0.474" stop-color="#ec0a00"/><stop offset="0.526" stop-color="#e50a00"/><stop offset="0.579" stop-color="#d80a00"/><stop offset="0.632" stop-color="#c10a00"/><stop offset="0.684" stop-color="#990a00"/><stop offset="0.737" stop-color="#7d0a00"/><stop offset="0.789" stop-color="#720a00"/><stop offset="0.842" stop-color="#620a00"/><stop offset="0.895" stop-color="#4e0a00"/><stop offset="0.947" stop-color="#3d0a00"/><stop offset="1.000" stop-color="#390a00"/></linearGradient>
<rect x="0" y="92.67" width="96.30" height="4.53" fill="url(#grp23)"/>
<ellipse cx="33.2" cy="75.1" rx="5.0" ry="3.0" fill="#ff0c00"/>
<ellipse cx="49.7" cy="87.3" rx="17.0" ry="4.5" fill="#e30b00"/>
<ellipse cx="59.7" cy="84.8" rx="9.0" ry="2.5" fill="#f10b00"/>
<ellipse cx="9.7" cy="41.8" rx="9.0" ry="14.0" fill="#ffb500"/>
<ellipse cx="40.7" cy="65.8" rx="5.0" ry="2.5" fill="#d41000"/>
</g>
<path d="M33.0,52.3 L34.8,51.4 L36.5,52.6 L36.3,54.8 L34.6,55.7 L33.1,54.8 Z" fill="none" stroke="#111" stroke-width="0.75" stroke-linejoin="round"/>
<path d="M1.1,55.3 L2.7,56.8 L4.2,55.8 L5.4,58.8" fill="none" stroke="#111" stroke-width="0.75" stroke-linejoin="round"/>
<path d="M7.5,59.5 L11.9,59.5 L12.4,61.7 L7.5,61.7 Z" fill="none" stroke="#111" stroke-width="0.75" stroke-linejoin="round"/>
<path d="M36.2,64.2 L44.7,63.8 L46.4,65.6 L45.9,68.0 L37.2,68.0 L36.5,66.4 Z" fill="none" stroke="#111" stroke-width="0.75" stroke-linejoin="round"/>
<path d="M28.0,78.2 L28.7,72.3 L33.7,72.0 L35.1,74.4 L37.2,75.1 L38.2,78.2 Z" fill="none" stroke="#111" stroke-width="0.75" stroke-linejoin="round"/>
<path d="M45.0,82.2 L62.0,82.2 L63.4,84.3 L69.1,85.0 L67.7,88.6 L50.7,89.3 L46.4,89.3 L45.0,91.4 L32.3,91.4 L30.1,93.5 L28.0,96.7" fill="none" stroke="#111" stroke-width="0.75" stroke-linejoin="round"/>
<path d="M47.8,82.9 L50.0,85.0 L50.0,94.9 L42.2,95.7 L32.3,94.9 L27.3,96.7" fill="none" stroke="#111" stroke-width="0.75" stroke-linejoin="round"/>
<path d="M36.7,77.3 L39.7,77.3" fill="none" stroke="#111" stroke-width="0.75" stroke-linejoin="round"/>
</svg>
<filter id="hfri" x="0" y="0" width="1" height="1" color-interpolation-filters="sRGB"><feGaussianBlur in="SourceGraphic" stdDeviation="1.2" edgeMode="duplicate" result="base"/><feTurbulence type="fractalNoise" baseFrequency="0.38 0.09" numOctaves="1" seed="11" result="turb"/><feColorMatrix in="turb" type="matrix" values="1 0 0 0 0 0 0 0 0 0 0 0 0 0 0 0 0 0 0 1" result="n0"/><feComponentTransfer in="n0" result="n"><feFuncR type="table" tableValues="0 0.2 0.3 0.38 0.47 0.5 0.53 0.62 0.7 0.8 1"/></feComponentTransfer><feColorMatrix in="base" type="matrix" values="0 1 0 0 0 0 0 0 0 0 0 0 0 0 0 0 0 0 0 1" result="m"/><feComposite in="n" in2="m" operator="arithmetic" k1="5.0" k2="0" k3="-2.500" k4="0.5" result="pert"/><feComposite in="base" in2="pert" operator="arithmetic" k1="0" k2="1" k3="1" k4="-0.5" result="sum"/><feColorMatrix in="sum" type="matrix" values="1 0 0 0 0 1 0 0 0 0 1 0 0 0 0 0 0 0 0 1" result="gray"/><feComponentTransfer in="gray"><feFuncR type="table" tableValues="0.200 0.298 0.396 0.475 0.557 0.620 0.682 0.725 0.765 0.784 0.800 0.820 0.839 0.863 0.886 0.918 0.945 0.973 1.000"/><feFuncG type="table" tableValues="0.078 0.169 0.259 0.310 0.365 0.408 0.447 0.478 0.506 0.565 0.620 0.675 0.733 0.792 0.851 0.898 0.945 0.973 1.000"/><feFuncB type="table" tableValues="0.078 0.169 0.259 0.310 0.365 0.408 0.447 0.475 0.502 0.529 0.553 0.584 0.612 0.643 0.675 0.749 0.824 0.914 1.000"/></feComponentTransfer></filter>
<svg x="302.1" y="33.2" width="96.70" height="96.70" viewBox="0 0 96.70 96.70" preserveAspectRatio="none" overflow="hidden">
<g filter="url(#hfri)">
<linearGradient id="gri0"><stop offset="0.000" stop-color="#8fff00"/><stop offset="0.053" stop-color="#8cff00"/><stop offset="0.105" stop-color="#7dff00"/><stop offset="0.158" stop-color="#6cff00"/><stop offset="0.211" stop-color="#71ff00"/><stop offset="0.263" stop-color="#9aff00"/><stop offset="0.316" stop-color="#abff00"/><stop offset="0.368" stop-color="#96ff00"/><stop offset="0.421" stop-color="#8cff00"/><stop offset="0.474" stop-color="#96ff00"/><stop offset="0.526" stop-color="#a5ff00"/><stop offset="0.579" stop-color="#a1ff00"/><stop offset="0.632" stop-color="#8bff00"/><stop offset="0.684" stop-color="#75ff00"/><stop offset="0.737" stop-color="#7bff00"/><stop offset="0.789" stop-color="#8dff00"/><stop offset="0.842" stop-color="#80ff00"/><stop offset="0.895" stop-color="#70ff00"/><stop offset="0.947" stop-color="#71ff00"/><stop offset="1.000" stop-color="#72ff00"/></linearGradient>
<rect x="0" y="0.00" width="96.70" height="4.53" fill="url(#gri0)"/>
<linearGradient id="gri1"><stop offset="0.000" stop-color="#91ff00"/><stop offset="0.053" stop-color="#8aff00"/><stop offset="0.105" stop-color="#70ff00"/><stop offset="0.158" stop-color="#63ff00"/><stop offset="0.211" stop-color="#75ff00"/><stop offset="0.263" stop-color="#9eff00"/><stop offset="0.316" stop-color="#a4ff00"/><stop offset="0.368" stop-color="#84ff00"/><stop offset="0.421" stop-color="#79ff00"/><stop offset="0.474" stop-color="#8eff00"/><stop offset="0.526" stop-color="#aeff00"/><stop offset="0.579" stop-color="#aaff00"/><stop offset="0.632" stop-color="#89ff00"/><stop offset="0.684" stop-color="#6eff00"/><stop offset="0.737" stop-color="#79ff00"/><stop offset="0.789" stop-color="#90ff00"/><stop offset="0.842" stop-color="#7cff00"/><stop offset="0.895" stop-color="#68ff00"/><stop offset="0.947" stop-color="#70ff00"/><stop offset="1.000" stop-color="#74ff00"/></linearGradient>
<rect x="0" y="4.03" width="96.70" height="4.53" fill="url(#gri1)"/>
<linearGradient id="gri2"><stop offset="0.000" stop-color="#94ff00"/><stop offset="0.053" stop-color="#87ff00"/><stop offset="0.105" stop-color="#5fff00"/><stop offset="0.158" stop-color="#56ff00"/><stop offset="0.211" stop-color="#78ff00"/><stop offset="0.263" stop-color="#a3ff00"/><stop offset="0.316" stop-color="#9aff00"/><stop offset="0.368" stop-color="#65ff00"/><stop offset="0.421" stop-color="#59ff00"/><stop offset="0.474" stop-color="#83ff00"/><stop offset="0.526" stop-color="#bcff00"/><stop offset="0.579" stop-color="#b7ff00"/><stop offset="0.632" stop-color="#87ff00"/><stop offset="0.684" stop-color="#69ff00"/><stop offset="0.737" stop-color="#7aff00"/><stop offset="0.789" stop-color="#91ff00"/><stop offset="0.842" stop-color="#71ff00"/><stop offset="0.895" stop-color="#5aff00"/><stop offset="0.947" stop-color="#6eff00"/><stop offset="1.000" stop-color="#76ff00"/></linearGradient>
<rect x="0" y="8.06" width="96.70" height="4.53" fill="url(#gri2)"/>
<linearGradient id="gri3"><stop offset="0.000" stop-color="#92ff00"/><stop offset="0.053" stop-color="#8aff00"/><stop offset="0.105" stop-color="#6bff00"/><stop offset="0.158" stop-color="#55ff00"/><stop offset="0.211" stop-color="#69ff00"/><stop offset="0.263" stop-color="#a4ff00"/><stop offset="0.316" stop-color="#9dff00"/><stop offset="0.368" stop-color="#57ff00"/><stop offset="0.421" stop-color="#56ff00"/><stop offset="0.474" stop-color="#8dff00"/><stop offset="0.526" stop-color="#beff00"/><stop offset="0.579" stop-color="#b4ff00"/><stop offset="0.632" stop-color="#8cff00"/><stop offset="0.684" stop-color="#7dff00"/><stop offset="0.737" stop-color="#86ff00"/><stop offset="0.789" stop-color="#87ff00"/><stop offset="0.842" stop-color="#62ff00"/><stop offset="0.895" stop-color="#52ff00"/><stop offset="0.947" stop-color="#6bff00"/><stop offset="1.000" stop-color="#75ff00"/></linearGradient>
<rect x="0" y="12.09" width="96.70" height="4.53" fill="url(#gri3)"/>
<linearGradient id="gri4"><stop offset="0.000" stop-color="#8dff00"/><stop offset="0.053" stop-color="#8fff00"/><stop offset="0.105" stop-color="#8dff00"/><stop offset="0.158" stop-color="#64ff00"/><stop offset="0.211" stop-color="#55ff00"/><stop offset="0.263" stop-color="#a5ff00"/><stop offset="0.316" stop-color="#afff00"/><stop offset="0.368" stop-color="#65ff00"/><stop offset="0.421" stop-color="#73ff00"/><stop offset="0.474" stop-color="#a9ff00"/><stop offset="0.526" stop-color="#b5ff00"/><stop offset="0.579" stop-color="#a0ff00"/><stop offset="0.632" stop-color="#91ff00"/><stop offset="0.684" stop-color="#9fff00"/><stop offset="0.737" stop-color="#99ff00"/><stop offset="0.789" stop-color="#76ff00"/><stop offset="0.842" stop-color="#57ff00"/><stop offset="0.895" stop-color="#55ff00"/><stop offset="0.947" stop-color="#6bff00"/><stop offset="1.000" stop-color="#72ff00"/></linearGradient>
<rect x="0" y="16.12" width="96.70" height="4.53" fill="url(#gri4)"/>
<linearGradient id="gri5"><stop offset="0.000" stop-color="#8bff00"/><stop offset="0.053" stop-color="#8fff00"/><stop offset="0.105" stop-color="#96ff00"/><stop offset="0.158" stop-color="#74ff00"/><stop offset="0.211" stop-color="#65ff00"/><stop offset="0.263" stop-color="#b1ff00"/><stop offset="0.316" stop-color="#c4ff00"/><stop offset="0.368" stop-color="#8aff00"/><stop offset="0.421" stop-color="#93ff00"/><stop offset="0.474" stop-color="#b6ff00"/><stop offset="0.526" stop-color="#afff00"/><stop offset="0.579" stop-color="#92ff00"/><stop offset="0.632" stop-color="#87ff00"/><stop offset="0.684" stop-color="#a1ff00"/><stop offset="0.737" stop-color="#9eff00"/><stop offset="0.789" stop-color="#76ff00"/><stop offset="0.842" stop-color="#5cff00"/><stop offset="0.895" stop-color="#5fff00"/><stop offset="0.947" stop-color="#74ff00"/><stop offset="1.000" stop-color="#7aff00"/></linearGradient>
<rect x="0" y="20.15" width="96.70" height="4.53" fill="url(#gri5)"/>
<linearGradient id="gri6"><stop offset="0.000" stop-color="#8eff00"/><stop offset="0.053" stop-color="#8bff00"/><stop offset="0.105" stop-color="#7fff00"/><stop offset="0.158" stop-color="#7dff00"/><stop offset="0.211" stop-color="#95ff00"/><stop offset="0.263" stop-color="#c2ff00"/><stop offset="0.316" stop-color="#caff00"/><stop offset="0.368" stop-color="#abff00"/><stop offset="0.421" stop-color="#a4ff00"/><stop offset="0.474" stop-color="#afff00"/><stop offset="0.526" stop-color="#b1ff00"/><stop offset="0.579" stop-color="#8fff00"/><stop offset="0.632" stop-color="#74ff00"/><stop offset="0.684" stop-color="#88ff00"/><stop offset="0.737" stop-color="#97ff00"/><stop offset="0.789" stop-color="#87ff00"/><stop offset="0.842" stop-color="#6fff00"/><stop offset="0.895" stop-color="#6dff00"/><stop offset="0.947" stop-color="#83ff00"/><stop offset="1.000" stop-color="#8aff00"/></linearGradient>
<rect x="0" y="24.18" width="96.70" height="4.53" fill="url(#gri6)"/>
<linearGradient id="gri7"><stop offset="0.000" stop-color="#97ff00"/><stop offset="0.053" stop-color="#8bff00"/><stop offset="0.105" stop-color="#6bff00"/><stop offset="0.158" stop-color="#83ff00"/><stop offset="0.211" stop-color="#baff00"/><stop offset="0.263" stop-color="#c2ff00"/><stop offset="0.316" stop-color="#adff00"/><stop offset="0.368" stop-color="#9dff00"/><stop offset="0.421" stop-color="#a2ff00"/><stop offset="0.474" stop-color="#afff00"/><stop offset="0.526" stop-color="#acff00"/><stop offset="0.579" stop-color="#8cff00"/><stop offset="0.632" stop-color="#74ff00"/><stop offset="0.684" stop-color="#86ff00"/><stop offset="0.737" stop-color="#98ff00"/><stop offset="0.789" stop-color="#92ff00"/><stop offset="0.842" stop-color="#7fff00"/><stop offset="0.895" stop-color="#7dff00"/><stop offset="0.947" stop-color="#90ff00"/><stop offset="1.000" stop-color="#96ff00"/></linearGradient>
<rect x="0" y="28.20" width="96.70" height="4.53" fill="url(#gri7)"/>
<linearGradient id="gri8"><stop offset="0.000" stop-color="#a7ff00"/><stop offset="0.053" stop-color="#97ff00"/><stop offset="0.105" stop-color="#6bff00"/><stop offset="0.158" stop-color="#89ff00"/><stop offset="0.211" stop-color="#c6ff00"/><stop offset="0.263" stop-color="#b3ff00"/><stop offset="0.316" stop-color="#7eff00"/><stop offset="0.368" stop-color="#68ff00"/><stop offset="0.421" stop-color="#91ff00"/><stop offset="0.474" stop-color="#b3ff00"/><stop offset="0.526" stop-color="#9eff00"/><stop offset="0.579" stop-color="#86ff00"/><stop offset="0.632" stop-color="#88ff00"/><stop offset="0.684" stop-color="#9fff00"/><stop offset="0.737" stop-color="#a2ff00"/><stop offset="0.789" stop-color="#90ff00"/><stop offset="0.842" stop-color="#88ff00"/><stop offset="0.895" stop-color="#8bff00"/><stop offset="0.947" stop-color="#93ff00"/><stop offset="1.000" stop-color="#95ff00"/></linearGradient>
<rect x="0" y="32.23" width="96.70" height="4.53" fill="url(#gri8)"/>
<linearGradient id="gri9"><stop offset="0.000" stop-color="#c0da00"/><stop offset="0.053" stop-color="#b0da00"/><stop offset="0.105" stop-color="#81da00"/><stop offset="0.158" stop-color="#96da00"/><stop offset="0.211" stop-color="#c9da00"/><stop offset="0.263" stop-color="#b2da00"/><stop offset="0.316" stop-color="#71da00"/><stop offset="0.368" stop-color="#4ada00"/><stop offset="0.421" stop-color="#76da00"/><stop offset="0.474" stop-color="#a0da00"/><stop offset="0.526" stop-color="#90da00"/><stop offset="0.579" stop-color="#85da00"/><stop offset="0.632" stop-color="#93da00"/><stop offset="0.684" stop-color="#a5da00"/><stop offset="0.737" stop-color="#a0da00"/><stop offset="0.789" stop-color="#8dda00"/><stop offset="0.842" stop-color="#8dda00"/><stop offset="0.895" stop-color="#8eda00"/><stop offset="0.947" stop-color="#85da00"/><stop offset="1.000" stop-color="#82da00"/></linearGradient>
<rect x="0" y="36.26" width="96.70" height="4.53" fill="url(#gri9)"/>
<linearGradient id="gri10"><stop offset="0.000" stop-color="#d2b000"/><stop offset="0.053" stop-color="#c3b000"/><stop offset="0.105" stop-color="#97b000"/><stop offset="0.158" stop-color="#a1b000"/><stop offset="0.211" stop-color="#cab000"/><stop offset="0.263" stop-color="#bfb000"/><stop offset="0.316" stop-color="#86b000"/><stop offset="0.368" stop-color="#52b000"/><stop offset="0.421" stop-color="#5eb000"/><stop offset="0.474" stop-color="#80b000"/><stop offset="0.526" stop-color="#8ab000"/><stop offset="0.579" stop-color="#8bb000"/><stop offset="0.632" stop-color="#8fb000"/><stop offset="0.684" stop-color="#95b000"/><stop offset="0.737" stop-color="#92b000"/><stop offset="0.789" stop-color="#8db000"/><stop offset="0.842" stop-color="#91b000"/><stop offset="0.895" stop-color="#89b000"/><stop offset="0.947" stop-color="#74b000"/><stop offset="1.000" stop-color="#6eb000"/></linearGradient>
<rect x="0" y="40.29" width="96.70" height="4.53" fill="url(#gri10)"/>
<linearGradient id="gri11"><stop offset="0.000" stop-color="#bb8500"/><stop offset="0.053" stop-color="#ad8500"/><stop offset="0.105" stop-color="#838500"/><stop offset="0.158" stop-color="#918500"/><stop offset="0.211" stop-color="#c18500"/><stop offset="0.263" stop-color="#bf8500"/><stop offset="0.316" stop-color="#8e8500"/><stop offset="0.368" stop-color="#5c8500"/><stop offset="0.421" stop-color="#608500"/><stop offset="0.474" stop-color="#7f8500"/><stop offset="0.526" stop-color="#918500"/><stop offset="0.579" stop-color="#938500"/><stop offset="0.632" stop-color="#8e8500"/><stop offset="0.684" stop-color="#8c8500"/><stop offset="0.737" stop-color="#8c8500"/><stop offset="0.789" stop-color="#8e8500"/><stop offset="0.842" stop-color="#8f8500"/><stop offset="0.895" stop-color="#8a8500"/><stop offset="0.947" stop-color="#7e8500"/><stop offset="1.000" stop-color="#7b8500"/></linearGradient>
<rect x="0" y="44.32" width="96.70" height="4.53" fill="url(#gri11)"/>
<linearGradient id="gri12"><stop offset="0.000" stop-color="#885b00"/><stop offset="0.053" stop-color="#7b5b00"/><stop offset="0.105" stop-color="#585b00"/><stop offset="0.158" stop-color="#755b00"/><stop offset="0.211" stop-color="#b15b00"/><stop offset="0.263" stop-color="#ac5b00"/><stop offset="0.316" stop-color="#825b00"/><stop offset="0.368" stop-color="#655b00"/><stop offset="0.421" stop-color="#765b00"/><stop offset="0.474" stop-color="#955b00"/><stop offset="0.526" stop-color="#a25b00"/><stop offset="0.579" stop-color="#9b5b00"/><stop offset="0.632" stop-color="#905b00"/><stop offset="0.684" stop-color="#8f5b00"/><stop offset="0.737" stop-color="#8f5b00"/><stop offset="0.789" stop-color="#8e5b00"/><stop offset="0.842" stop-color="#8b5b00"/><stop offset="0.895" stop-color="#915b00"/><stop offset="0.947" stop-color="#9d5b00"/><stop offset="1.000" stop-color="#a15b00"/></linearGradient>
<rect x="0" y="48.35" width="96.70" height="4.53" fill="url(#gri12)"/>
<linearGradient id="gri13"><stop offset="0.000" stop-color="#743000"/><stop offset="0.053" stop-color="#6e3000"/><stop offset="0.105" stop-color="#623000"/><stop offset="0.158" stop-color="#813000"/><stop offset="0.211" stop-color="#a93000"/><stop offset="0.263" stop-color="#983000"/><stop offset="0.316" stop-color="#853000"/><stop offset="0.368" stop-color="#863000"/><stop offset="0.421" stop-color="#7b3000"/><stop offset="0.474" stop-color="#873000"/><stop offset="0.526" stop-color="#ae3000"/><stop offset="0.579" stop-color="#a43000"/><stop offset="0.632" stop-color="#823000"/><stop offset="0.684" stop-color="#823000"/><stop offset="0.737" stop-color="#8b3000"/><stop offset="0.789" stop-color="#8e3000"/><stop offset="0.842" stop-color="#8b3000"/><stop offset="0.895" stop-color="#933000"/><stop offset="0.947" stop-color="#a73000"/><stop offset="1.000" stop-color="#ad3000"/></linearGradient>
<rect x="0" y="52.38" width="96.70" height="4.53" fill="url(#gri13)"/>
<linearGradient id="gri14"><stop offset="0.000" stop-color="#8f1b00"/><stop offset="0.053" stop-color="#931b00"/><stop offset="0.105" stop-color="#a31b00"/><stop offset="0.158" stop-color="#b01b00"/><stop offset="0.211" stop-color="#a91b00"/><stop offset="0.263" stop-color="#8e1b00"/><stop offset="0.316" stop-color="#981b00"/><stop offset="0.368" stop-color="#ad1b00"/><stop offset="0.421" stop-color="#691b00"/><stop offset="0.474" stop-color="#571b00"/><stop offset="0.526" stop-color="#b21b00"/><stop offset="0.579" stop-color="#af1b00"/><stop offset="0.632" stop-color="#6d1b00"/><stop offset="0.684" stop-color="#6a1b00"/><stop offset="0.737" stop-color="#811b00"/><stop offset="0.789" stop-color="#8d1b00"/><stop offset="0.842" stop-color="#8e1b00"/><stop offset="0.895" stop-color="#8f1b00"/><stop offset="0.947" stop-color="#961b00"/><stop offset="1.000" stop-color="#981b00"/></linearGradient>
<rect x="0" y="56.41" width="96.70" height="4.53" fill="url(#gri14)"/>
<linearGradient id="gri15"><stop offset="0.000" stop-color="#c01500"/><stop offset="0.053" stop-color="#c51500"/><stop offset="0.105" stop-color="#d51500"/><stop offset="0.158" stop-color="#c91500"/><stop offset="0.211" stop-color="#a51500"/><stop offset="0.263" stop-color="#8d1500"/><stop offset="0.316" stop-color="#991500"/><stop offset="0.368" stop-color="#9e1500"/><stop offset="0.421" stop-color="#501500"/><stop offset="0.474" stop-color="#451500"/><stop offset="0.526" stop-color="#b41500"/><stop offset="0.579" stop-color="#ba1500"/><stop offset="0.632" stop-color="#741500"/><stop offset="0.684" stop-color="#6c1500"/><stop offset="0.737" stop-color="#801500"/><stop offset="0.789" stop-color="#8d1500"/><stop offset="0.842" stop-color="#901500"/><stop offset="0.895" stop-color="#8c1500"/><stop offset="0.947" stop-color="#8a1500"/><stop offset="1.000" stop-color="#891500"/></linearGradient>
<rect x="0" y="60.44" width="96.70" height="4.53" fill="url(#gri15)"/>
<linearGradient id="gri16"><stop offset="0.000" stop-color="#e30f00"/><stop offset="0.053" stop-color="#e30f00"/><stop offset="0.105" stop-color="#db0f00"/><stop offset="0.158" stop-color="#ba0f00"/><stop offset="0.211" stop-color="#960f00"/><stop offset="0.263" stop-color="#910f00"/><stop offset="0.316" stop-color="#840f00"/><stop offset="0.368" stop-color="#5c0f00"/><stop offset="0.421" stop-color="#3b0f00"/><stop offset="0.474" stop-color="#5d0f00"/><stop offset="0.526" stop-color="#b70f00"/><stop offset="0.579" stop-color="#c30f00"/><stop offset="0.632" stop-color="#970f00"/><stop offset="0.684" stop-color="#870f00"/><stop offset="0.737" stop-color="#890f00"/><stop offset="0.789" stop-color="#8e0f00"/><stop offset="0.842" stop-color="#8e0f00"/><stop offset="0.895" stop-color="#8d0f00"/><stop offset="0.947" stop-color="#8b0f00"/><stop offset="1.000" stop-color="#8b0f00"/></linearGradient>
<rect x="0" y="64.47" width="96.70" height="4.53" fill="url(#gri16)"/>
<linearGradient id="gri17"><stop offset="0.000" stop-color="#d50d00"/><stop offset="0.053" stop-color="#d30d00"/><stop offset="0.105" stop-color="#c30d00"/><stop offset="0.158" stop-color="#9e0d00"/><stop offset="0.211" stop-color="#840d00"/><stop offset="0.263" stop-color="#930d00"/><stop offset="0.316" stop-color="#740d00"/><stop offset="0.368" stop-color="#2b0d00"/><stop offset="0.421" stop-color="#2f0d00"/><stop offset="0.474" stop-color="#740d00"/><stop offset="0.526" stop-color="#bb0d00"/><stop offset="0.579" stop-color="#ca0d00"/><stop offset="0.632" stop-color="#ad0d00"/><stop offset="0.684" stop-color="#940d00"/><stop offset="0.737" stop-color="#8b0d00"/><stop offset="0.789" stop-color="#8e0d00"/><stop offset="0.842" stop-color="#8e0d00"/><stop offset="0.895" stop-color="#8e0d00"/><stop offset="0.947" stop-color="#8f0d00"/><stop offset="1.000" stop-color="#8f0d00"/></linearGradient>
<rect x="0" y="68.50" width="96.70" height="4.53" fill="url(#gri17)"/>
<linearGradient id="gri18"><stop offset="0.000" stop-color="#a20c00"/><stop offset="0.053" stop-color="#a30c00"/><stop offset="0.105" stop-color="#a00c00"/><stop offset="0.158" stop-color="#860c00"/><stop offset="0.211" stop-color="#750c00"/><stop offset="0.263" stop-color="#900c00"/><stop offset="0.316" stop-color="#750c00"/><stop offset="0.368" stop-color="#2c0c00"/><stop offset="0.421" stop-color="#360c00"/><stop offset="0.474" stop-color="#7e0c00"/><stop offset="0.526" stop-color="#bf0c00"/><stop offset="0.579" stop-color="#c40c00"/><stop offset="0.632" stop-color="#a00c00"/><stop offset="0.684" stop-color="#830c00"/><stop offset="0.737" stop-color="#800c00"/><stop offset="0.789" stop-color="#8d0c00"/><stop offset="0.842" stop-color="#8f0c00"/><stop offset="0.895" stop-color="#8d0c00"/><stop offset="0.947" stop-color="#8e0c00"/><stop offset="1.000" stop-color="#8f0c00"/></linearGradient>
<rect x="0" y="72.53" width="96.70" height="4.53" fill="url(#gri18)"/>
<linearGradient id="gri19"><stop offset="0.000" stop-color="#820c00"/><stop offset="0.053" stop-color="#840c00"/><stop offset="0.105" stop-color="#880c00"/><stop offset="0.158" stop-color="#7b0c00"/><stop offset="0.211" stop-color="#730c00"/><stop offset="0.263" stop-color="#890c00"/><stop offset="0.316" stop-color="#800c00"/><stop offset="0.368" stop-color="#570c00"/><stop offset="0.421" stop-color="#5f0c00"/><stop offset="0.474" stop-color="#940c00"/><stop offset="0.526" stop-color="#c10c00"/><stop offset="0.579" stop-color="#a30c00"/><stop offset="0.632" stop-color="#670c00"/><stop offset="0.684" stop-color="#5c0c00"/><stop offset="0.737" stop-color="#730c00"/><stop offset="0.789" stop-color="#8d0c00"/><stop offset="0.842" stop-color="#910c00"/><stop offset="0.895" stop-color="#8d0c00"/><stop offset="0.947" stop-color="#8d0c00"/><stop offset="1.000" stop-color="#8e0c00"/></linearGradient>
<rect x="0" y="76.55" width="96.70" height="4.53" fill="url(#gri19)"/>
<linearGradient id="gri20"><stop offset="0.000" stop-color="#860b00"/><stop offset="0.053" stop-color="#860b00"/><stop offset="0.105" stop-color="#860b00"/><stop offset="0.158" stop-color="#830b00"/><stop offset="0.211" stop-color="#810b00"/><stop offset="0.263" stop-color="#870b00"/><stop offset="0.316" stop-color="#8e0b00"/><stop offset="0.368" stop-color="#930b00"/><stop offset="0.421" stop-color="#980b00"/><stop offset="0.474" stop-color="#ad0b00"/><stop offset="0.526" stop-color="#bd0b00"/><stop offset="0.579" stop-color="#760b00"/><stop offset="0.632" stop-color="#250b00"/><stop offset="0.684" stop-color="#3a0b00"/><stop offset="0.737" stop-color="#6e0b00"/><stop offset="0.789" stop-color="#8d0b00"/><stop offset="0.842" stop-color="#910b00"/><stop offset="0.895" stop-color="#8d0b00"/><stop offset="0.947" stop-color="#8d0b00"/><stop offset="1.000" stop-color="#8e0b00"/></linearGradient>
<rect x="0" y="80.58" width="96.70" height="4.53" fill="url(#gri20)"/>
<linearGradient id="gri21"><stop offset="0.000" stop-color="#960b00"/><stop offset="0.053" stop-color="#970b00"/><stop offset="0.105" stop-color="#990b00"/><stop offset="0.158" stop-color="#9e0b00"/><stop offset="0.211" stop-color="#9d0b00"/><stop offset="0.263" stop-color="#930b00"/><stop offset="0.316" stop-color="#9d0b00"/><stop offset="0.368" stop-color="#b30b00"/><stop offset="0.421" stop-color="#aa0b00"/><stop offset="0.474" stop-color="#a60b00"/><stop offset="0.526" stop-color="#ac0b00"/><stop offset="0.579" stop-color="#670b00"/><stop offset="0.632" stop-color="#220b00"/><stop offset="0.684" stop-color="#440b00"/><stop offset="0.737" stop-color="#780b00"/><stop offset="0.789" stop-color="#8d0b00"/><stop offset="0.842" stop-color="#8f0b00"/><stop offset="0.895" stop-color="#8d0b00"/><stop offset="0.947" stop-color="#8e0b00"/><stop offset="1.000" stop-color="#8e0b00"/></linearGradient>
<rect x="0" y="84.61" width="96.70" height="4.53" fill="url(#gri21)"/>
<linearGradient id="gri22"><stop offset="0.000" stop-color="#a30b00"/><stop offset="0.053" stop-color="#a70b00"/><stop offset="0.105" stop-color="#b60b00"/><stop offset="0.158" stop-color="#c00b00"/><stop offset="0.211" stop-color="#bb0b00"/><stop offset="0.263" stop-color="#a80b00"/><stop offset="0.316" stop-color="#a80b00"/><stop offset="0.368" stop-color="#b10b00"/><stop offset="0.421" stop-color="#930b00"/><stop offset="0.474" stop-color="#810b00"/><stop offset="0.526" stop-color="#930b00"/><stop offset="0.579" stop-color="#790b00"/><stop offset="0.632" stop-color="#590b00"/><stop offset="0.684" stop-color="#710b00"/><stop offset="0.737" stop-color="#8b0b00"/><stop offset="0.789" stop-color="#8e0b00"/><stop offset="0.842" stop-color="#8e0b00"/><stop offset="0.895" stop-color="#8e0b00"/><stop offset="0.947" stop-color="#8e0b00"/><stop offset="1.000" stop-color="#8e0b00"/></linearGradient>
<rect x="0" y="88.64" width="96.70" height="4.53" fill="url(#gri22)"/>
<linearGradient id="gri23"><stop offset="0.000" stop-color="#a90a00"/><stop offset="0.053" stop-color="#af0a00"/><stop offset="0.105" stop-color="#c40a00"/><stop offset="0.158" stop-color="#d20a00"/><stop offset="0.211" stop-color="#ca0a00"/><stop offset="0.263" stop-color="#b40a00"/><stop offset="0.316" stop-color="#ad0a00"/><stop offset="0.368" stop-color="#aa0a00"/><stop offset="0.421" stop-color="#810a00"/><stop offset="0.474" stop-color="#6b0a00"/><stop offset="0.526" stop-color="#860a00"/><stop offset="0.579" stop-color="#880a00"/><stop offset="0.632" stop-color="#7c0a00"/><stop offset="0.684" stop-color="#8c0a00"/><stop offset="0.737" stop-color="#950a00"/><stop offset="0.789" stop-color="#8e0a00"/><stop offset="0.842" stop-color="#8c0a00"/><stop offset="0.895" stop-color="#8e0a00"/><stop offset="0.947" stop-color="#8e0a00"/><stop offset="1.000" stop-color="#8e0a00"/></linearGradient>
<rect x="0" y="92.67" width="96.70" height="4.53" fill="url(#gri23)"/>
<ellipse cx="6.9" cy="66.8" rx="8.8" ry="10.0" fill="#ff0e00"/>
<ellipse cx="11.9" cy="57.8" rx="7.5" ry="5.0" fill="#ff1c00"/>
<ellipse cx="22.9" cy="54.8" rx="10.0" ry="5.6" fill="#f12c00"/>
<ellipse cx="39.9" cy="58.3" rx="10.6" ry="6.2" fill="#ff1b00"/>
<ellipse cx="51.9" cy="74.3" rx="13.8" ry="8.1" fill="#ff0c00"/>
<ellipse cx="27.9" cy="88.6" rx="26.2" ry="5.9" fill="#f10b00"/>
<ellipse cx="15.9" cy="88.8" rx="11.2" ry="3.8" fill="#ff0b00"/>
<ellipse cx="92.9" cy="52.8" rx="5.6" ry="6.2" fill="#f14100"/>
<ellipse cx="37.7" cy="66.2" rx="6.2" ry="5.6" fill="#000f00"/>
<ellipse cx="33.9" cy="72.8" rx="6.9" ry="5.6" fill="#000c00"/>
<ellipse cx="63.9" cy="86.3" rx="10.0" ry="3.8" fill="#000b00"/>
<ellipse cx="3.4" cy="53.3" rx="5.0" ry="5.0" fill="#1c3c00"/>
<ellipse cx="17.9" cy="76.3" rx="3.8" ry="3.1" fill="#0e0c00"/>
<ellipse cx="33.9" cy="51.4" rx="3.2" ry="1.9" fill="#1c5000"/>
<ellipse cx="33.9" cy="95.3" rx="17.5" ry="2.5" fill="#470a00"/>
<ellipse cx="2.4" cy="80.8" rx="3.1" ry="5.0" fill="#550c00"/>
<ellipse cx="75.9" cy="62.8" rx="6.2" ry="8.8" fill="#771400"/>
</g>
<path d="M6.9,63.1 L11.6,61.9 L12.8,65.4 L14.6,66.6 L11.6,68.3 L9.3,70.1 L6.9,73.6 L3.4,75.4 L-0.1,76.0" fill="none" stroke="#ff1010" stroke-width="0.75" stroke-linejoin="round"/>
<path d="M-0.1,64.2 L3.4,63.1 L5.2,64.2 L6.4,63.1 L8.1,61.9" fill="none" stroke="#ff1010" stroke-width="0.75" stroke-linejoin="round"/>
<path d="M36.3,65.4 L41.6,65.4 L41.6,67.8 L36.3,67.8 Z" fill="none" stroke="#ff1010" stroke-width="0.75" stroke-linejoin="round"/>
<path d="M29.8,74.2 L35.1,74.2 L35.1,76.0 L29.8,76.0 Z" fill="none" stroke="#ff1010" stroke-width="0.75" stroke-linejoin="round"/>
<path d="M31.6,52.5 L35.1,51.3 L37.5,53.7 L39.8,54.8 L42.2,56.0 L42.2,59.5 L38.6,59.5" fill="none" stroke="#ff1010" stroke-width="0.75" stroke-linejoin="round"/>
<path d="M15.2,91.2 L18.7,91.2" fill="none" stroke="#ff1010" stroke-width="0.75" stroke-linejoin="round"/>
<path d="M23.4,88.9 L30.4,88.9" fill="none" stroke="#ff1010" stroke-width="0.75" stroke-linejoin="round"/>
<path d="M31.6,93.0 L38.6,91.8 L47.9,91.2" fill="none" stroke="#ff1010" stroke-width="0.75" stroke-linejoin="round"/>
<path d="M57.3,47.8 L57.3,52.5 L59.1,53.1 L59.6,50.1 L59.1,47.8" fill="none" stroke="#ff1010" stroke-width="0.75" stroke-linejoin="round"/>
<path d="M47.9,63.1 L53.2,62.5 L53.2,65.4 L47.9,66.0" fill="none" stroke="#ff1010" stroke-width="0.75" stroke-linejoin="round"/>
<path d="M47.9,74.8 L51.4,74.2 L53.8,73.0 L54.9,74.8 L56.7,73.0 L58.5,71.3 L60.8,70.7 L61.4,71.9 L59.1,73.0 L57.9,76.0 L54.9,76.6 L51.4,77.1 L49.1,77.7" fill="none" stroke="#ff1010" stroke-width="0.75" stroke-linejoin="round"/>
<path d="M47.9,83.0 L54.9,82.4 L56.1,85.4 L59.6,85.4 L66.7,84.8 L67.9,87.7 L65.5,89.5 L54.9,88.9 L52.6,87.7 L50.2,90.1 L49.7,93.6 L47.9,94.8" fill="none" stroke="#ff1010" stroke-width="0.75" stroke-linejoin="round"/>
</svg>
<filter id="hffa" x="0" y="0" width="1" height="1" color-interpolation-filters="sRGB"><feGaussianBlur in="SourceGraphic" stdDeviation="1.2" edgeMode="duplicate" result="base"/><feTurbulence type="fractalNoise" baseFrequency="0.4 0.08" numOctaves="1" seed="5" result="turb"/><feColorMatrix in="turb" type="matrix" values="1 0 0 0 0 0 0 0 0 0 0 0 0 0 0 0 0 0 0 1" result="n0"/><feOffset in="n0" dx="0" dy="0" result="n"/><feColorMatrix in="base" type="matrix" values="0 1 0 0 0 0 0 0 0 0 0 0 0 0 0 0 0 0 0 1" result="m"/><feComposite in="n" in2="m" operator="arithmetic" k1="1.8" k2="0" k3="-0.900" k4="0.5" result="pert"/><feComposite in="base" in2="pert" operator="arithmetic" k1="0" k2="1" k3="1" k4="-0.5" result="sum"/><feColorMatrix in="sum" type="matrix" values="1 0 0 0 0 1 0 0 0 0 1 0 0 0 0 0 0 0 0 1" result="gray"/><feComponentTransfer in="gray"><feFuncR type="table" tableValues="0.243 0.263 0.278 0.263 0.243 0.200 0.153 0.090 0.031 0.110 0.192 0.349 0.506 0.682 0.863 0.925 0.988 0.984 0.976"/><feFuncG type="table" tableValues="0.149 0.216 0.278 0.357 0.435 0.514 0.592 0.651 0.710 0.741 0.776 0.788 0.800 0.769 0.741 0.776 0.812 0.898 0.984"/><feFuncB type="table" tableValues="0.659 0.792 0.922 0.961 1.000 0.961 0.922 0.871 0.816 0.722 0.624 0.486 0.349 0.255 0.161 0.173 0.188 0.122 0.055"/></feComponentTransfer></filter>
<svg x="49" y="168.2" width="96.30" height="96.70" viewBox="0 0 96.30 96.70" preserveAspectRatio="none" overflow="hidden">
<g filter="url(#hffa)">
<linearGradient id="gfa0"><stop offset="0.000" stop-color="#4aff00"/><stop offset="0.053" stop-color="#5aff00"/><stop offset="0.105" stop-color="#8dff00"/><stop offset="0.158" stop-color="#8aff00"/><stop offset="0.211" stop-color="#6eff00"/><stop offset="0.263" stop-color="#85ff00"/><stop offset="0.316" stop-color="#8aff00"/><stop offset="0.368" stop-color="#72ff00"/><stop offset="0.421" stop-color="#8bff00"/><stop offset="0.474" stop-color="#afff00"/><stop offset="0.526" stop-color="#b0ff00"/><stop offset="0.579" stop-color="#9eff00"/><stop offset="0.632" stop-color="#88ff00"/><stop offset="0.684" stop-color="#77ff00"/><stop offset="0.737" stop-color="#6eff00"/><stop offset="0.789" stop-color="#73ff00"/><stop offset="0.842" stop-color="#8aff00"/><stop offset="0.895" stop-color="#84ff00"/><stop offset="0.947" stop-color="#5bff00"/><stop offset="1.000" stop-color="#4fff00"/></linearGradient>
<rect x="0" y="0.00" width="96.30" height="4.53" fill="url(#gfa0)"/>
<linearGradient id="gfa1"><stop offset="0.000" stop-color="#59ff00"/><stop offset="0.053" stop-color="#60ff00"/><stop offset="0.105" stop-color="#77ff00"/><stop offset="0.158" stop-color="#7cff00"/><stop offset="0.211" stop-color="#79ff00"/><stop offset="0.263" stop-color="#88ff00"/><stop offset="0.316" stop-color="#82ff00"/><stop offset="0.368" stop-color="#6fff00"/><stop offset="0.421" stop-color="#91ff00"/><stop offset="0.474" stop-color="#b4ff00"/><stop offset="0.526" stop-color="#abff00"/><stop offset="0.579" stop-color="#9fff00"/><stop offset="0.632" stop-color="#93ff00"/><stop offset="0.684" stop-color="#7bff00"/><stop offset="0.737" stop-color="#68ff00"/><stop offset="0.789" stop-color="#6bff00"/><stop offset="0.842" stop-color="#89ff00"/><stop offset="0.895" stop-color="#87ff00"/><stop offset="0.947" stop-color="#5cff00"/><stop offset="1.000" stop-color="#4eff00"/></linearGradient>
<rect x="0" y="4.03" width="96.30" height="4.53" fill="url(#gfa1)"/>
<linearGradient id="gfa2"><stop offset="0.000" stop-color="#70ff00"/><stop offset="0.053" stop-color="#69ff00"/><stop offset="0.105" stop-color="#57ff00"/><stop offset="0.158" stop-color="#67ff00"/><stop offset="0.211" stop-color="#8aff00"/><stop offset="0.263" stop-color="#92ff00"/><stop offset="0.316" stop-color="#7aff00"/><stop offset="0.368" stop-color="#6dff00"/><stop offset="0.421" stop-color="#9fff00"/><stop offset="0.474" stop-color="#bfff00"/><stop offset="0.526" stop-color="#9fff00"/><stop offset="0.579" stop-color="#9cff00"/><stop offset="0.632" stop-color="#a5ff00"/><stop offset="0.684" stop-color="#84ff00"/><stop offset="0.737" stop-color="#5eff00"/><stop offset="0.789" stop-color="#5bff00"/><stop offset="0.842" stop-color="#83ff00"/><stop offset="0.895" stop-color="#8aff00"/><stop offset="0.947" stop-color="#5dff00"/><stop offset="1.000" stop-color="#4eff00"/></linearGradient>
<rect x="0" y="8.06" width="96.30" height="4.53" fill="url(#gfa2)"/>
<linearGradient id="gfa3"><stop offset="0.000" stop-color="#73ff00"/><stop offset="0.053" stop-color="#6fff00"/><stop offset="0.105" stop-color="#65ff00"/><stop offset="0.158" stop-color="#70ff00"/><stop offset="0.211" stop-color="#8dff00"/><stop offset="0.263" stop-color="#a1ff00"/><stop offset="0.316" stop-color="#8bff00"/><stop offset="0.368" stop-color="#72ff00"/><stop offset="0.421" stop-color="#acff00"/><stop offset="0.474" stop-color="#c7ff00"/><stop offset="0.526" stop-color="#8dff00"/><stop offset="0.579" stop-color="#8cff00"/><stop offset="0.632" stop-color="#a9ff00"/><stop offset="0.684" stop-color="#8cff00"/><stop offset="0.737" stop-color="#5dff00"/><stop offset="0.789" stop-color="#50ff00"/><stop offset="0.842" stop-color="#76ff00"/><stop offset="0.895" stop-color="#82ff00"/><stop offset="0.947" stop-color="#5bff00"/><stop offset="1.000" stop-color="#4eff00"/></linearGradient>
<rect x="0" y="12.09" width="96.30" height="4.53" fill="url(#gfa3)"/>
<linearGradient id="gfa4"><stop offset="0.000" stop-color="#66ff00"/><stop offset="0.053" stop-color="#73ff00"/><stop offset="0.105" stop-color="#97ff00"/><stop offset="0.158" stop-color="#8dff00"/><stop offset="0.211" stop-color="#7dff00"/><stop offset="0.263" stop-color="#afff00"/><stop offset="0.316" stop-color="#abff00"/><stop offset="0.368" stop-color="#78ff00"/><stop offset="0.421" stop-color="#abff00"/><stop offset="0.474" stop-color="#c7ff00"/><stop offset="0.526" stop-color="#80ff00"/><stop offset="0.579" stop-color="#77ff00"/><stop offset="0.632" stop-color="#9aff00"/><stop offset="0.684" stop-color="#8aff00"/><stop offset="0.737" stop-color="#62ff00"/><stop offset="0.789" stop-color="#50ff00"/><stop offset="0.842" stop-color="#68ff00"/><stop offset="0.895" stop-color="#72ff00"/><stop offset="0.947" stop-color="#58ff00"/><stop offset="1.000" stop-color="#4fff00"/></linearGradient>
<rect x="0" y="16.12" width="96.30" height="4.53" fill="url(#gfa4)"/>
<linearGradient id="gfa5"><stop offset="0.000" stop-color="#78ff00"/><stop offset="0.053" stop-color="#85ff00"/><stop offset="0.105" stop-color="#a7ff00"/><stop offset="0.158" stop-color="#87ff00"/><stop offset="0.211" stop-color="#67ff00"/><stop offset="0.263" stop-color="#b1ff00"/><stop offset="0.316" stop-color="#b3ff00"/><stop offset="0.368" stop-color="#66ff00"/><stop offset="0.421" stop-color="#8eff00"/><stop offset="0.474" stop-color="#b9ff00"/><stop offset="0.526" stop-color="#87ff00"/><stop offset="0.579" stop-color="#77ff00"/><stop offset="0.632" stop-color="#84ff00"/><stop offset="0.684" stop-color="#70ff00"/><stop offset="0.737" stop-color="#5bff00"/><stop offset="0.789" stop-color="#5dff00"/><stop offset="0.842" stop-color="#70ff00"/><stop offset="0.895" stop-color="#71ff00"/><stop offset="0.947" stop-color="#5bff00"/><stop offset="1.000" stop-color="#54ff00"/></linearGradient>
<rect x="0" y="20.15" width="96.30" height="4.53" fill="url(#gfa5)"/>
<linearGradient id="gfa6"><stop offset="0.000" stop-color="#a2ff00"/><stop offset="0.053" stop-color="#9fff00"/><stop offset="0.105" stop-color="#8dff00"/><stop offset="0.158" stop-color="#61ff00"/><stop offset="0.211" stop-color="#58ff00"/><stop offset="0.263" stop-color="#a4ff00"/><stop offset="0.316" stop-color="#9dff00"/><stop offset="0.368" stop-color="#45ff00"/><stop offset="0.421" stop-color="#64ff00"/><stop offset="0.474" stop-color="#a4ff00"/><stop offset="0.526" stop-color="#a0ff00"/><stop offset="0.579" stop-color="#8cff00"/><stop offset="0.632" stop-color="#71ff00"/><stop offset="0.684" stop-color="#4bff00"/><stop offset="0.737" stop-color="#4aff00"/><stop offset="0.789" stop-color="#6dff00"/><stop offset="0.842" stop-color="#87ff00"/><stop offset="0.895" stop-color="#7eff00"/><stop offset="0.947" stop-color="#5eff00"/><stop offset="1.000" stop-color="#55ff00"/></linearGradient>
<rect x="0" y="24.17" width="96.30" height="4.53" fill="url(#gfa6)"/>
<linearGradient id="gfa7"><stop offset="0.000" stop-color="#adff00"/><stop offset="0.053" stop-color="#a5ff00"/><stop offset="0.105" stop-color="#81ff00"/><stop offset="0.158" stop-color="#59ff00"/><stop offset="0.211" stop-color="#5bff00"/><stop offset="0.263" stop-color="#95ff00"/><stop offset="0.316" stop-color="#8aff00"/><stop offset="0.368" stop-color="#40ff00"/><stop offset="0.421" stop-color="#57ff00"/><stop offset="0.474" stop-color="#9cff00"/><stop offset="0.526" stop-color="#b8ff00"/><stop offset="0.579" stop-color="#9fff00"/><stop offset="0.632" stop-color="#68ff00"/><stop offset="0.684" stop-color="#3dff00"/><stop offset="0.737" stop-color="#40ff00"/><stop offset="0.789" stop-color="#6bff00"/><stop offset="0.842" stop-color="#90ff00"/><stop offset="0.895" stop-color="#84ff00"/><stop offset="0.947" stop-color="#53ff00"/><stop offset="1.000" stop-color="#44ff00"/></linearGradient>
<rect x="0" y="28.20" width="96.30" height="4.53" fill="url(#gfa7)"/>
<linearGradient id="gfa8"><stop offset="0.000" stop-color="#96ff00"/><stop offset="0.053" stop-color="#95ff00"/><stop offset="0.105" stop-color="#8dff00"/><stop offset="0.158" stop-color="#75ff00"/><stop offset="0.211" stop-color="#6bff00"/><stop offset="0.263" stop-color="#8aff00"/><stop offset="0.316" stop-color="#86ff00"/><stop offset="0.368" stop-color="#5fff00"/><stop offset="0.421" stop-color="#6dff00"/><stop offset="0.474" stop-color="#9dff00"/><stop offset="0.526" stop-color="#b9ff00"/><stop offset="0.579" stop-color="#9fff00"/><stop offset="0.632" stop-color="#6aff00"/><stop offset="0.684" stop-color="#4eff00"/><stop offset="0.737" stop-color="#47ff00"/><stop offset="0.789" stop-color="#5aff00"/><stop offset="0.842" stop-color="#87ff00"/><stop offset="0.895" stop-color="#82ff00"/><stop offset="0.947" stop-color="#42ff00"/><stop offset="1.000" stop-color="#2fff00"/></linearGradient>
<rect x="0" y="32.23" width="96.30" height="4.53" fill="url(#gfa8)"/>
<linearGradient id="gfa9"><stop offset="0.000" stop-color="#8bda00"/><stop offset="0.053" stop-color="#8dda00"/><stop offset="0.105" stop-color="#90da00"/><stop offset="0.158" stop-color="#82da00"/><stop offset="0.211" stop-color="#75da00"/><stop offset="0.263" stop-color="#84da00"/><stop offset="0.316" stop-color="#8eda00"/><stop offset="0.368" stop-color="#85da00"/><stop offset="0.421" stop-color="#81da00"/><stop offset="0.474" stop-color="#89da00"/><stop offset="0.526" stop-color="#92da00"/><stop offset="0.579" stop-color="#85da00"/><stop offset="0.632" stop-color="#70da00"/><stop offset="0.684" stop-color="#67da00"/><stop offset="0.737" stop-color="#56da00"/><stop offset="0.789" stop-color="#52da00"/><stop offset="0.842" stop-color="#7fda00"/><stop offset="0.895" stop-color="#85da00"/><stop offset="0.947" stop-color="#4dda00"/><stop offset="1.000" stop-color="#3ada00"/></linearGradient>
<rect x="0" y="36.26" width="96.30" height="4.53" fill="url(#gfa9)"/>
<linearGradient id="gfa10"><stop offset="0.000" stop-color="#90b000"/><stop offset="0.053" stop-color="#8fb000"/><stop offset="0.105" stop-color="#8bb000"/><stop offset="0.158" stop-color="#7db000"/><stop offset="0.211" stop-color="#73b000"/><stop offset="0.263" stop-color="#81b000"/><stop offset="0.316" stop-color="#98b000"/><stop offset="0.368" stop-color="#a1b000"/><stop offset="0.421" stop-color="#8bb000"/><stop offset="0.474" stop-color="#68b000"/><stop offset="0.526" stop-color="#52b000"/><stop offset="0.579" stop-color="#5db000"/><stop offset="0.632" stop-color="#75b000"/><stop offset="0.684" stop-color="#78b000"/><stop offset="0.737" stop-color="#62b000"/><stop offset="0.789" stop-color="#56b000"/><stop offset="0.842" stop-color="#7db000"/><stop offset="0.895" stop-color="#8eb000"/><stop offset="0.947" stop-color="#6cb000"/><stop offset="1.000" stop-color="#60b000"/></linearGradient>
<rect x="0" y="40.29" width="96.30" height="4.53" fill="url(#gfa10)"/>
<linearGradient id="gfa11"><stop offset="0.000" stop-color="#818500"/><stop offset="0.053" stop-color="#8a8500"/><stop offset="0.105" stop-color="#a08500"/><stop offset="0.158" stop-color="#908500"/><stop offset="0.211" stop-color="#708500"/><stop offset="0.263" stop-color="#7b8500"/><stop offset="0.316" stop-color="#9c8500"/><stop offset="0.368" stop-color="#b08500"/><stop offset="0.421" stop-color="#a08500"/><stop offset="0.474" stop-color="#698500"/><stop offset="0.526" stop-color="#2f8500"/><stop offset="0.579" stop-color="#418500"/><stop offset="0.632" stop-color="#748500"/><stop offset="0.684" stop-color="#778500"/><stop offset="0.737" stop-color="#5b8500"/><stop offset="0.789" stop-color="#4e8500"/><stop offset="0.842" stop-color="#738500"/><stop offset="0.895" stop-color="#898500"/><stop offset="0.947" stop-color="#768500"/><stop offset="1.000" stop-color="#6e8500"/></linearGradient>
<rect x="0" y="44.32" width="96.30" height="4.53" fill="url(#gfa11)"/>
<linearGradient id="gfa12"><stop offset="0.000" stop-color="#5b5b00"/><stop offset="0.053" stop-color="#735b00"/><stop offset="0.105" stop-color="#bd5b00"/><stop offset="0.158" stop-color="#b05b00"/><stop offset="0.211" stop-color="#6f5b00"/><stop offset="0.263" stop-color="#775b00"/><stop offset="0.316" stop-color="#9a5b00"/><stop offset="0.368" stop-color="#ae5b00"/><stop offset="0.421" stop-color="#b75b00"/><stop offset="0.474" stop-color="#8a5b00"/><stop offset="0.526" stop-color="#385b00"/><stop offset="0.579" stop-color="#3f5b00"/><stop offset="0.632" stop-color="#725b00"/><stop offset="0.684" stop-color="#695b00"/><stop offset="0.737" stop-color="#475b00"/><stop offset="0.789" stop-color="#3c5b00"/><stop offset="0.842" stop-color="#615b00"/><stop offset="0.895" stop-color="#7b5b00"/><stop offset="0.947" stop-color="#6e5b00"/><stop offset="1.000" stop-color="#685b00"/></linearGradient>
<rect x="0" y="48.35" width="96.30" height="4.53" fill="url(#gfa12)"/>
<linearGradient id="gfa13"><stop offset="0.000" stop-color="#373000"/><stop offset="0.053" stop-color="#503000"/><stop offset="0.105" stop-color="#9e3000"/><stop offset="0.158" stop-color="#9f3000"/><stop offset="0.211" stop-color="#713000"/><stop offset="0.263" stop-color="#823000"/><stop offset="0.316" stop-color="#9a3000"/><stop offset="0.368" stop-color="#9e3000"/><stop offset="0.421" stop-color="#b13000"/><stop offset="0.474" stop-color="#993000"/><stop offset="0.526" stop-color="#523000"/><stop offset="0.579" stop-color="#553000"/><stop offset="0.632" stop-color="#7b3000"/><stop offset="0.684" stop-color="#693000"/><stop offset="0.737" stop-color="#463000"/><stop offset="0.789" stop-color="#3c3000"/><stop offset="0.842" stop-color="#583000"/><stop offset="0.895" stop-color="#783000"/><stop offset="0.947" stop-color="#843000"/><stop offset="1.000" stop-color="#863000"/></linearGradient>
<rect x="0" y="52.38" width="96.30" height="4.53" fill="url(#gfa13)"/>
<linearGradient id="gfa14"><stop offset="0.000" stop-color="#211b00"/><stop offset="0.053" stop-color="#2b1b00"/><stop offset="0.105" stop-color="#4e1b00"/><stop offset="0.158" stop-color="#631b00"/><stop offset="0.211" stop-color="#731b00"/><stop offset="0.263" stop-color="#971b00"/><stop offset="0.316" stop-color="#a11b00"/><stop offset="0.368" stop-color="#8e1b00"/><stop offset="0.421" stop-color="#951b00"/><stop offset="0.474" stop-color="#8e1b00"/><stop offset="0.526" stop-color="#6b1b00"/><stop offset="0.579" stop-color="#731b00"/><stop offset="0.632" stop-color="#8a1b00"/><stop offset="0.684" stop-color="#771b00"/><stop offset="0.737" stop-color="#5a1b00"/><stop offset="0.789" stop-color="#4e1b00"/><stop offset="0.842" stop-color="#5a1b00"/><stop offset="0.895" stop-color="#821b00"/><stop offset="0.947" stop-color="#b31b00"/><stop offset="1.000" stop-color="#bf1b00"/></linearGradient>
<rect x="0" y="56.41" width="96.30" height="4.53" fill="url(#gfa14)"/>
<linearGradient id="gfa15"><stop offset="0.000" stop-color="#161500"/><stop offset="0.053" stop-color="#171500"/><stop offset="0.105" stop-color="#231500"/><stop offset="0.158" stop-color="#431500"/><stop offset="0.211" stop-color="#731500"/><stop offset="0.263" stop-color="#a21500"/><stop offset="0.316" stop-color="#ad1500"/><stop offset="0.368" stop-color="#9b1500"/><stop offset="0.421" stop-color="#921500"/><stop offset="0.474" stop-color="#881500"/><stop offset="0.526" stop-color="#771500"/><stop offset="0.579" stop-color="#7e1500"/><stop offset="0.632" stop-color="#8c1500"/><stop offset="0.684" stop-color="#811500"/><stop offset="0.737" stop-color="#691500"/><stop offset="0.789" stop-color="#571500"/><stop offset="0.842" stop-color="#5d1500"/><stop offset="0.895" stop-color="#851500"/><stop offset="0.947" stop-color="#bb1500"/><stop offset="1.000" stop-color="#c91500"/></linearGradient>
<rect x="0" y="60.44" width="96.30" height="4.53" fill="url(#gfa15)"/>
<linearGradient id="gfa16"><stop offset="0.000" stop-color="#130f00"/><stop offset="0.053" stop-color="#1a0f00"/><stop offset="0.105" stop-color="#350f00"/><stop offset="0.158" stop-color="#520f00"/><stop offset="0.211" stop-color="#730f00"/><stop offset="0.263" stop-color="#9b0f00"/><stop offset="0.316" stop-color="#b70f00"/><stop offset="0.368" stop-color="#bc0f00"/><stop offset="0.421" stop-color="#af0f00"/><stop offset="0.474" stop-color="#950f00"/><stop offset="0.526" stop-color="#780f00"/><stop offset="0.579" stop-color="#730f00"/><stop offset="0.632" stop-color="#7c0f00"/><stop offset="0.684" stop-color="#7d0f00"/><stop offset="0.737" stop-color="#690f00"/><stop offset="0.789" stop-color="#540f00"/><stop offset="0.842" stop-color="#5f0f00"/><stop offset="0.895" stop-color="#7e0f00"/><stop offset="0.947" stop-color="#9a0f00"/><stop offset="1.000" stop-color="#a10f00"/></linearGradient>
<rect x="0" y="64.47" width="96.30" height="4.53" fill="url(#gfa16)"/>
<linearGradient id="gfa17"><stop offset="0.000" stop-color="#1e0d00"/><stop offset="0.053" stop-color="#2c0d00"/><stop offset="0.105" stop-color="#5c0d00"/><stop offset="0.158" stop-color="#700d00"/><stop offset="0.211" stop-color="#720d00"/><stop offset="0.263" stop-color="#900d00"/><stop offset="0.316" stop-color="#b30d00"/><stop offset="0.368" stop-color="#c70d00"/><stop offset="0.421" stop-color="#c70d00"/><stop offset="0.474" stop-color="#ab0d00"/><stop offset="0.526" stop-color="#7b0d00"/><stop offset="0.579" stop-color="#660d00"/><stop offset="0.632" stop-color="#6a0d00"/><stop offset="0.684" stop-color="#6c0d00"/><stop offset="0.737" stop-color="#630d00"/><stop offset="0.789" stop-color="#5b0d00"/><stop offset="0.842" stop-color="#660d00"/><stop offset="0.895" stop-color="#7a0d00"/><stop offset="0.947" stop-color="#880d00"/><stop offset="1.000" stop-color="#8b0d00"/></linearGradient>
<rect x="0" y="68.50" width="96.30" height="4.53" fill="url(#gfa17)"/>
<linearGradient id="gfa18"><stop offset="0.000" stop-color="#2e0c00"/><stop offset="0.053" stop-color="#400c00"/><stop offset="0.105" stop-color="#7a0c00"/><stop offset="0.158" stop-color="#860c00"/><stop offset="0.211" stop-color="#710c00"/><stop offset="0.263" stop-color="#850c00"/><stop offset="0.316" stop-color="#a10c00"/><stop offset="0.368" stop-color="#b40c00"/><stop offset="0.421" stop-color="#ca0c00"/><stop offset="0.474" stop-color="#bc0c00"/><stop offset="0.526" stop-color="#800c00"/><stop offset="0.579" stop-color="#5f0c00"/><stop offset="0.632" stop-color="#5b0c00"/><stop offset="0.684" stop-color="#580c00"/><stop offset="0.737" stop-color="#5e0c00"/><stop offset="0.789" stop-color="#6b0c00"/><stop offset="0.842" stop-color="#770c00"/><stop offset="0.895" stop-color="#870c00"/><stop offset="0.947" stop-color="#980c00"/><stop offset="1.000" stop-color="#9d0c00"/></linearGradient>
<rect x="0" y="72.52" width="96.30" height="4.53" fill="url(#gfa18)"/>
<linearGradient id="gfa19"><stop offset="0.000" stop-color="#2a0c00"/><stop offset="0.053" stop-color="#3d0c00"/><stop offset="0.105" stop-color="#7c0c00"/><stop offset="0.158" stop-color="#8a0c00"/><stop offset="0.211" stop-color="#710c00"/><stop offset="0.263" stop-color="#7a0c00"/><stop offset="0.316" stop-color="#8c0c00"/><stop offset="0.368" stop-color="#9c0c00"/><stop offset="0.421" stop-color="#b90c00"/><stop offset="0.474" stop-color="#b50c00"/><stop offset="0.526" stop-color="#7f0c00"/><stop offset="0.579" stop-color="#580c00"/><stop offset="0.632" stop-color="#4e0c00"/><stop offset="0.684" stop-color="#510c00"/><stop offset="0.737" stop-color="#5d0c00"/><stop offset="0.789" stop-color="#720c00"/><stop offset="0.842" stop-color="#8f0c00"/><stop offset="0.895" stop-color="#aa0c00"/><stop offset="0.947" stop-color="#b80c00"/><stop offset="1.000" stop-color="#bb0c00"/></linearGradient>
<rect x="0" y="76.55" width="96.30" height="4.53" fill="url(#gfa19)"/>
<linearGradient id="gfa20"><stop offset="0.000" stop-color="#180b00"/><stop offset="0.053" stop-color="#2a0b00"/><stop offset="0.105" stop-color="#680b00"/><stop offset="0.158" stop-color="#800b00"/><stop offset="0.211" stop-color="#710b00"/><stop offset="0.263" stop-color="#700b00"/><stop offset="0.316" stop-color="#7d0b00"/><stop offset="0.368" stop-color="#8f0b00"/><stop offset="0.421" stop-color="#9e0b00"/><stop offset="0.474" stop-color="#990b00"/><stop offset="0.526" stop-color="#790b00"/><stop offset="0.579" stop-color="#580b00"/><stop offset="0.632" stop-color="#4c0b00"/><stop offset="0.684" stop-color="#5e0b00"/><stop offset="0.737" stop-color="#650b00"/><stop offset="0.789" stop-color="#6f0b00"/><stop offset="0.842" stop-color="#a40b00"/><stop offset="0.895" stop-color="#cd0b00"/><stop offset="0.947" stop-color="#cd0b00"/><stop offset="1.000" stop-color="#ca0b00"/></linearGradient>
<rect x="0" y="80.58" width="96.30" height="4.53" fill="url(#gfa20)"/>
<linearGradient id="gfa21"><stop offset="0.000" stop-color="#170b00"/><stop offset="0.053" stop-color="#270b00"/><stop offset="0.105" stop-color="#5d0b00"/><stop offset="0.158" stop-color="#780b00"/><stop offset="0.211" stop-color="#710b00"/><stop offset="0.263" stop-color="#6b0b00"/><stop offset="0.316" stop-color="#780b00"/><stop offset="0.368" stop-color="#8b0b00"/><stop offset="0.421" stop-color="#890b00"/><stop offset="0.474" stop-color="#800b00"/><stop offset="0.526" stop-color="#7a0b00"/><stop offset="0.579" stop-color="#6d0b00"/><stop offset="0.632" stop-color="#690b00"/><stop offset="0.684" stop-color="#7d0b00"/><stop offset="0.737" stop-color="#7c0b00"/><stop offset="0.789" stop-color="#760b00"/><stop offset="0.842" stop-color="#9f0b00"/><stop offset="0.895" stop-color="#bf0b00"/><stop offset="0.947" stop-color="#b80b00"/><stop offset="1.000" stop-color="#b30b00"/></linearGradient>
<rect x="0" y="84.61" width="96.30" height="4.53" fill="url(#gfa21)"/>
<linearGradient id="gfa22"><stop offset="0.000" stop-color="#2b0b00"/><stop offset="0.053" stop-color="#370b00"/><stop offset="0.105" stop-color="#620b00"/><stop offset="0.158" stop-color="#780b00"/><stop offset="0.211" stop-color="#710b00"/><stop offset="0.263" stop-color="#6c0b00"/><stop offset="0.316" stop-color="#7a0b00"/><stop offset="0.368" stop-color="#8c0b00"/><stop offset="0.421" stop-color="#800b00"/><stop offset="0.474" stop-color="#740b00"/><stop offset="0.526" stop-color="#820b00"/><stop offset="0.579" stop-color="#900b00"/><stop offset="0.632" stop-color="#990b00"/><stop offset="0.684" stop-color="#a10b00"/><stop offset="0.737" stop-color="#980b00"/><stop offset="0.789" stop-color="#880b00"/><stop offset="0.842" stop-color="#850b00"/><stop offset="0.895" stop-color="#870b00"/><stop offset="0.947" stop-color="#850b00"/><stop offset="1.000" stop-color="#840b00"/></linearGradient>
<rect x="0" y="88.64" width="96.30" height="4.53" fill="url(#gfa22)"/>
<linearGradient id="gfa23"><stop offset="0.000" stop-color="#370a00"/><stop offset="0.053" stop-color="#420a00"/><stop offset="0.105" stop-color="#670a00"/><stop offset="0.158" stop-color="#790a00"/><stop offset="0.211" stop-color="#710a00"/><stop offset="0.263" stop-color="#6d0a00"/><stop offset="0.316" stop-color="#7c0a00"/><stop offset="0.368" stop-color="#8e0a00"/><stop offset="0.421" stop-color="#7d0a00"/><stop offset="0.474" stop-color="#710a00"/><stop offset="0.526" stop-color="#870a00"/><stop offset="0.579" stop-color="#a30a00"/><stop offset="0.632" stop-color="#b30a00"/><stop offset="0.684" stop-color="#b30a00"/><stop offset="0.737" stop-color="#a70a00"/><stop offset="0.789" stop-color="#920a00"/><stop offset="0.842" stop-color="#750a00"/><stop offset="0.895" stop-color="#650a00"/><stop offset="0.947" stop-color="#680a00"/><stop offset="1.000" stop-color="#6a0a00"/></linearGradient>
<rect x="0" y="92.67" width="96.30" height="4.53" fill="url(#gfa23)"/>
<ellipse cx="10.0" cy="48.8" rx="4.5" ry="5.0" fill="#f16b00"/>
<ellipse cx="32.0" cy="47.8" rx="5.0" ry="3.5" fill="#e37600"/>
<ellipse cx="43.0" cy="51.8" rx="3.5" ry="3.0" fill="#d44c00"/>
<ellipse cx="32.0" cy="65.8" rx="6.0" ry="4.0" fill="#e81000"/>
<ellipse cx="43.0" cy="72.8" rx="7.0" ry="3.5" fill="#e80c00"/>
<ellipse cx="18.0" cy="72.3" rx="4.0" ry="2.5" fill="#c60c00"/>
<ellipse cx="10.0" cy="62.8" rx="6.0" ry="4.0" fill="#2a1400"/>
<ellipse cx="51.5" cy="45.3" rx="4.0" ry="4.0" fill="#2a9000"/>
<ellipse cx="72.0" cy="50.8" rx="4.0" ry="6.0" fill="#2a5600"/>
<ellipse cx="2.0" cy="84.8" rx="2.5" ry="12.0" fill="#1c0b00"/>
<ellipse cx="70.0" cy="93.0" rx="9.5" ry="1.8" fill="#d40b00"/>
<ellipse cx="90.6" cy="61.2" rx="5.0" ry="5.5" fill="#e31700"/>
<ellipse cx="89.0" cy="82.8" rx="6.5" ry="5.0" fill="#e30b00"/>
</g>
<path d="M62.3,51.2 L63.9,53.6" fill="none" stroke="#111" stroke-width="0.75" stroke-linejoin="round"/>
<path d="M64.7,61.7 L70.4,61.7 L70.4,64.1 L64.7,64.1 Z" fill="none" stroke="#111" stroke-width="0.75" stroke-linejoin="round"/>
<path d="M76.8,61.7 L78.5,62.8 L80.9,63.8 L79.5,66.5 L77.5,65.3 Z" fill="none" stroke="#111" stroke-width="0.75" stroke-linejoin="round"/>
<path d="M84.9,60.0 L85.7,59.2 L89.7,58.4 L93.0,59.2 L95.9,58.4 L95.9,65.7 L88.1,66.5 L85.7,65.7 Z" fill="none" stroke="#111" stroke-width="0.75" stroke-linejoin="round"/>
<path d="M73.6,73.0 L76.8,71.3 L81.7,71.3 L83.3,74.6 L85.7,75.4 L86.5,77.0 L89.7,77.0 L95.9,75.4" fill="none" stroke="#111" stroke-width="0.75" stroke-linejoin="round"/>
<path d="M95.9,89.9 L89.7,89.9 L88.1,88.3 L84.9,86.7 L82.5,83.4 L84.9,81.0 L86.5,79.4 L82.5,78.6 L77.6,76.2 L75.2,75.4 L73.6,73.0" fill="none" stroke="#111" stroke-width="0.75" stroke-linejoin="round"/>
<path d="M55.8,93.9 L60.7,92.8 L77.6,92.8 L77.6,96.6" fill="none" stroke="#111" stroke-width="0.75" stroke-linejoin="round"/>
</svg>
<filter id="hffp" x="0" y="0" width="1" height="1" color-interpolation-filters="sRGB"><feGaussianBlur in="SourceGraphic" stdDeviation="1.2" edgeMode="duplicate" result="base"/><feTurbulence type="fractalNoise" baseFrequency="0.4 0.08" numOctaves="1" seed="13" result="turb"/><feColorMatrix in="turb" type="matrix" values="1 0 0 0 0 0 0 0 0 0 0 0 0 0 0 0 0 0 0 1" result="n0"/><feOffset in="n0" dx="0" dy="0" result="n"/><feColorMatrix in="base" type="matrix" values="0 1 0 0 0 0 0 0 0 0 0 0 0 0 0 0 0 0 0 1" result="m"/><feComposite in="n" in2="m" operator="arithmetic" k1="1.8" k2="0" k3="-0.900" k4="0.5" result="pert"/><feComposite in="base" in2="pert" operator="arithmetic" k1="0" k2="1" k3="1" k4="-0.5" result="sum"/><feColorMatrix in="sum" type="matrix" values="1 0 0 0 0 1 0 0 0 0 1 0 0 0 0 0 0 0 0 1" result="gray"/><feComponentTransfer in="gray"><feFuncR type="table" tableValues="0.243 0.263 0.278 0.263 0.243 0.200 0.153 0.090 0.031 0.110 0.192 0.349 0.506 0.682 0.863 0.925 0.988 0.984 0.976"/><feFuncG type="table" tableValues="0.149 0.216 0.278 0.357 0.435 0.514 0.592 0.651 0.710 0.741 0.776 0.788 0.800 0.769 0.741 0.776 0.812 0.898 0.984"/><feFuncB type="table" tableValues="0.659 0.792 0.922 0.961 1.000 0.961 0.922 0.871 0.816 0.722 0.624 0.486 0.349 0.255 0.161 0.173 0.188 0.122 0.055"/></feComponentTransfer></filter>
<svg x="175.3" y="168.2" width="96.30" height="96.70" viewBox="0 0 96.30 96.70" preserveAspectRatio="none" overflow="hidden">
<g filter="url(#hffp)">
<linearGradient id="gfp0"><stop offset="0.000" stop-color="#50ff00"/><stop offset="0.053" stop-color="#5cff00"/><stop offset="0.105" stop-color="#83ff00"/><stop offset="0.158" stop-color="#8dff00"/><stop offset="0.211" stop-color="#79ff00"/><stop offset="0.263" stop-color="#6cff00"/><stop offset="0.316" stop-color="#7aff00"/><stop offset="0.368" stop-color="#8eff00"/><stop offset="0.421" stop-color="#76ff00"/><stop offset="0.474" stop-color="#7dff00"/><stop offset="0.526" stop-color="#beff00"/><stop offset="0.579" stop-color="#baff00"/><stop offset="0.632" stop-color="#8dff00"/><stop offset="0.684" stop-color="#88ff00"/><stop offset="0.737" stop-color="#92ff00"/><stop offset="0.789" stop-color="#91ff00"/><stop offset="0.842" stop-color="#82ff00"/><stop offset="0.895" stop-color="#6aff00"/><stop offset="0.947" stop-color="#55ff00"/><stop offset="1.000" stop-color="#50ff00"/></linearGradient>
<rect x="0" y="0.00" width="96.30" height="4.53" fill="url(#gfp0)"/>
<linearGradient id="gfp1"><stop offset="0.000" stop-color="#4bff00"/><stop offset="0.053" stop-color="#5aff00"/><stop offset="0.105" stop-color="#88ff00"/><stop offset="0.158" stop-color="#83ff00"/><stop offset="0.211" stop-color="#5eff00"/><stop offset="0.263" stop-color="#65ff00"/><stop offset="0.316" stop-color="#84ff00"/><stop offset="0.368" stop-color="#91ff00"/><stop offset="0.421" stop-color="#75ff00"/><stop offset="0.474" stop-color="#7dff00"/><stop offset="0.526" stop-color="#bbff00"/><stop offset="0.579" stop-color="#b1ff00"/><stop offset="0.632" stop-color="#83ff00"/><stop offset="0.684" stop-color="#88ff00"/><stop offset="0.737" stop-color="#91ff00"/><stop offset="0.789" stop-color="#87ff00"/><stop offset="0.842" stop-color="#77ff00"/><stop offset="0.895" stop-color="#67ff00"/><stop offset="0.947" stop-color="#5cff00"/><stop offset="1.000" stop-color="#5aff00"/></linearGradient>
<rect x="0" y="4.03" width="96.30" height="4.53" fill="url(#gfp1)"/>
<linearGradient id="gfp2"><stop offset="0.000" stop-color="#47ff00"/><stop offset="0.053" stop-color="#5aff00"/><stop offset="0.105" stop-color="#8eff00"/><stop offset="0.158" stop-color="#72ff00"/><stop offset="0.211" stop-color="#39ff00"/><stop offset="0.263" stop-color="#62ff00"/><stop offset="0.316" stop-color="#95ff00"/><stop offset="0.368" stop-color="#94ff00"/><stop offset="0.421" stop-color="#74ff00"/><stop offset="0.474" stop-color="#7cff00"/><stop offset="0.526" stop-color="#b0ff00"/><stop offset="0.579" stop-color="#9eff00"/><stop offset="0.632" stop-color="#74ff00"/><stop offset="0.684" stop-color="#86ff00"/><stop offset="0.737" stop-color="#8fff00"/><stop offset="0.789" stop-color="#76ff00"/><stop offset="0.842" stop-color="#62ff00"/><stop offset="0.895" stop-color="#5fff00"/><stop offset="0.947" stop-color="#69ff00"/><stop offset="1.000" stop-color="#6dff00"/></linearGradient>
<rect x="0" y="8.06" width="96.30" height="4.53" fill="url(#gfp2)"/>
<linearGradient id="gfp3"><stop offset="0.000" stop-color="#5aff00"/><stop offset="0.053" stop-color="#66ff00"/><stop offset="0.105" stop-color="#85ff00"/><stop offset="0.158" stop-color="#6dff00"/><stop offset="0.211" stop-color="#4cff00"/><stop offset="0.263" stop-color="#7cff00"/><stop offset="0.316" stop-color="#a0ff00"/><stop offset="0.368" stop-color="#8cff00"/><stop offset="0.421" stop-color="#72ff00"/><stop offset="0.474" stop-color="#7aff00"/><stop offset="0.526" stop-color="#99ff00"/><stop offset="0.579" stop-color="#8cff00"/><stop offset="0.632" stop-color="#72ff00"/><stop offset="0.684" stop-color="#80ff00"/><stop offset="0.737" stop-color="#88ff00"/><stop offset="0.789" stop-color="#74ff00"/><stop offset="0.842" stop-color="#54ff00"/><stop offset="0.895" stop-color="#52ff00"/><stop offset="0.947" stop-color="#6fff00"/><stop offset="1.000" stop-color="#79ff00"/></linearGradient>
<rect x="0" y="12.09" width="96.30" height="4.53" fill="url(#gfp3)"/>
<linearGradient id="gfp4"><stop offset="0.000" stop-color="#81ff00"/><stop offset="0.053" stop-color="#7dff00"/><stop offset="0.105" stop-color="#74ff00"/><stop offset="0.158" stop-color="#79ff00"/><stop offset="0.211" stop-color="#90ff00"/><stop offset="0.263" stop-color="#a8ff00"/><stop offset="0.316" stop-color="#9fff00"/><stop offset="0.368" stop-color="#7bff00"/><stop offset="0.421" stop-color="#6fff00"/><stop offset="0.474" stop-color="#75ff00"/><stop offset="0.526" stop-color="#7bff00"/><stop offset="0.579" stop-color="#82ff00"/><stop offset="0.632" stop-color="#82ff00"/><stop offset="0.684" stop-color="#79ff00"/><stop offset="0.737" stop-color="#7cff00"/><stop offset="0.789" stop-color="#79ff00"/><stop offset="0.842" stop-color="#4eff00"/><stop offset="0.895" stop-color="#43ff00"/><stop offset="0.947" stop-color="#6cff00"/><stop offset="1.000" stop-color="#7aff00"/></linearGradient>
<rect x="0" y="16.12" width="96.30" height="4.53" fill="url(#gfp4)"/>
<linearGradient id="gfp5"><stop offset="0.000" stop-color="#9eff00"/><stop offset="0.053" stop-color="#94ff00"/><stop offset="0.105" stop-color="#79ff00"/><stop offset="0.158" stop-color="#8cff00"/><stop offset="0.211" stop-color="#b7ff00"/><stop offset="0.263" stop-color="#b4ff00"/><stop offset="0.316" stop-color="#91ff00"/><stop offset="0.368" stop-color="#70ff00"/><stop offset="0.421" stop-color="#6bff00"/><stop offset="0.474" stop-color="#6bff00"/><stop offset="0.526" stop-color="#66ff00"/><stop offset="0.579" stop-color="#81ff00"/><stop offset="0.632" stop-color="#98ff00"/><stop offset="0.684" stop-color="#7cff00"/><stop offset="0.737" stop-color="#68ff00"/><stop offset="0.789" stop-color="#61ff00"/><stop offset="0.842" stop-color="#3fff00"/><stop offset="0.895" stop-color="#3dff00"/><stop offset="0.947" stop-color="#69ff00"/><stop offset="1.000" stop-color="#77ff00"/></linearGradient>
<rect x="0" y="20.15" width="96.30" height="4.53" fill="url(#gfp5)"/>
<linearGradient id="gfp6"><stop offset="0.000" stop-color="#a8ff00"/><stop offset="0.053" stop-color="#a3ff00"/><stop offset="0.105" stop-color="#97ff00"/><stop offset="0.158" stop-color="#a1ff00"/><stop offset="0.211" stop-color="#b0ff00"/><stop offset="0.263" stop-color="#9fff00"/><stop offset="0.316" stop-color="#84ff00"/><stop offset="0.368" stop-color="#71ff00"/><stop offset="0.421" stop-color="#64ff00"/><stop offset="0.474" stop-color="#5cff00"/><stop offset="0.526" stop-color="#62ff00"/><stop offset="0.579" stop-color="#8aff00"/><stop offset="0.632" stop-color="#a7ff00"/><stop offset="0.684" stop-color="#88ff00"/><stop offset="0.737" stop-color="#54ff00"/><stop offset="0.789" stop-color="#30ff00"/><stop offset="0.842" stop-color="#29ff00"/><stop offset="0.895" stop-color="#42ff00"/><stop offset="0.947" stop-color="#6aff00"/><stop offset="1.000" stop-color="#75ff00"/></linearGradient>
<rect x="0" y="24.17" width="96.30" height="4.53" fill="url(#gfp6)"/>
<linearGradient id="gfp7"><stop offset="0.000" stop-color="#acff00"/><stop offset="0.053" stop-color="#b0ff00"/><stop offset="0.105" stop-color="#baff00"/><stop offset="0.158" stop-color="#b7ff00"/><stop offset="0.211" stop-color="#a8ff00"/><stop offset="0.263" stop-color="#9bff00"/><stop offset="0.316" stop-color="#8eff00"/><stop offset="0.368" stop-color="#78ff00"/><stop offset="0.421" stop-color="#56ff00"/><stop offset="0.474" stop-color="#4eff00"/><stop offset="0.526" stop-color="#70ff00"/><stop offset="0.579" stop-color="#99ff00"/><stop offset="0.632" stop-color="#a8ff00"/><stop offset="0.684" stop-color="#8dff00"/><stop offset="0.737" stop-color="#4cff00"/><stop offset="0.789" stop-color="#14ff00"/><stop offset="0.842" stop-color="#22ff00"/><stop offset="0.895" stop-color="#50ff00"/><stop offset="0.947" stop-color="#70ff00"/><stop offset="1.000" stop-color="#77ff00"/></linearGradient>
<rect x="0" y="28.20" width="96.30" height="4.53" fill="url(#gfp7)"/>
<linearGradient id="gfp8"><stop offset="0.000" stop-color="#b7ff00"/><stop offset="0.053" stop-color="#bfff00"/><stop offset="0.105" stop-color="#d7ff00"/><stop offset="0.158" stop-color="#caff00"/><stop offset="0.211" stop-color="#abff00"/><stop offset="0.263" stop-color="#aaff00"/><stop offset="0.316" stop-color="#a3ff00"/><stop offset="0.368" stop-color="#7bff00"/><stop offset="0.421" stop-color="#47ff00"/><stop offset="0.474" stop-color="#44ff00"/><stop offset="0.526" stop-color="#81ff00"/><stop offset="0.579" stop-color="#a0ff00"/><stop offset="0.632" stop-color="#98ff00"/><stop offset="0.684" stop-color="#85ff00"/><stop offset="0.737" stop-color="#53ff00"/><stop offset="0.789" stop-color="#23ff00"/><stop offset="0.842" stop-color="#34ff00"/><stop offset="0.895" stop-color="#5dff00"/><stop offset="0.947" stop-color="#73ff00"/><stop offset="1.000" stop-color="#78ff00"/></linearGradient>
<rect x="0" y="32.23" width="96.30" height="4.53" fill="url(#gfp8)"/>
<linearGradient id="gfp9"><stop offset="0.000" stop-color="#d2da00"/><stop offset="0.053" stop-color="#dada00"/><stop offset="0.105" stop-color="#edda00"/><stop offset="0.158" stop-color="#d2da00"/><stop offset="0.211" stop-color="#a2da00"/><stop offset="0.263" stop-color="#9dda00"/><stop offset="0.316" stop-color="#95da00"/><stop offset="0.368" stop-color="#70da00"/><stop offset="0.421" stop-color="#43da00"/><stop offset="0.474" stop-color="#41da00"/><stop offset="0.526" stop-color="#72da00"/><stop offset="0.579" stop-color="#87da00"/><stop offset="0.632" stop-color="#7eda00"/><stop offset="0.684" stop-color="#73da00"/><stop offset="0.737" stop-color="#66da00"/><stop offset="0.789" stop-color="#58da00"/><stop offset="0.842" stop-color="#55da00"/><stop offset="0.895" stop-color="#5cda00"/><stop offset="0.947" stop-color="#67da00"/><stop offset="1.000" stop-color="#6ada00"/></linearGradient>
<rect x="0" y="36.26" width="96.30" height="4.53" fill="url(#gfp9)"/>
<linearGradient id="gfp10"><stop offset="0.000" stop-color="#f3b000"/><stop offset="0.053" stop-color="#f9b000"/><stop offset="0.105" stop-color="#ffb000"/><stop offset="0.158" stop-color="#d3b000"/><stop offset="0.211" stop-color="#90b000"/><stop offset="0.263" stop-color="#7ab000"/><stop offset="0.316" stop-color="#71b000"/><stop offset="0.368" stop-color="#5cb000"/><stop offset="0.421" stop-color="#48b000"/><stop offset="0.474" stop-color="#40b000"/><stop offset="0.526" stop-color="#49b000"/><stop offset="0.579" stop-color="#5bb000"/><stop offset="0.632" stop-color="#63b000"/><stop offset="0.684" stop-color="#5db000"/><stop offset="0.737" stop-color="#73b000"/><stop offset="0.789" stop-color="#8fb000"/><stop offset="0.842" stop-color="#72b000"/><stop offset="0.895" stop-color="#54b000"/><stop offset="0.947" stop-color="#57b000"/><stop offset="1.000" stop-color="#5ab000"/></linearGradient>
<rect x="0" y="40.29" width="96.30" height="4.53" fill="url(#gfp10)"/>
<linearGradient id="gfp11"><stop offset="0.000" stop-color="#fb8500"/><stop offset="0.053" stop-color="#ff8500"/><stop offset="0.105" stop-color="#ff8500"/><stop offset="0.158" stop-color="#dd8500"/><stop offset="0.211" stop-color="#8e8500"/><stop offset="0.263" stop-color="#7e8500"/><stop offset="0.316" stop-color="#778500"/><stop offset="0.368" stop-color="#598500"/><stop offset="0.421" stop-color="#408500"/><stop offset="0.474" stop-color="#348500"/><stop offset="0.526" stop-color="#388500"/><stop offset="0.579" stop-color="#4b8500"/><stop offset="0.632" stop-color="#588500"/><stop offset="0.684" stop-color="#508500"/><stop offset="0.737" stop-color="#638500"/><stop offset="0.789" stop-color="#808500"/><stop offset="0.842" stop-color="#6c8500"/><stop offset="0.895" stop-color="#598500"/><stop offset="0.947" stop-color="#658500"/><stop offset="1.000" stop-color="#6a8500"/></linearGradient>
<rect x="0" y="44.32" width="96.30" height="4.53" fill="url(#gfp11)"/>
<linearGradient id="gfp12"><stop offset="0.000" stop-color="#e85b00"/><stop offset="0.053" stop-color="#f55b00"/><stop offset="0.105" stop-color="#ff5b00"/><stop offset="0.158" stop-color="#e75b00"/><stop offset="0.211" stop-color="#9f5b00"/><stop offset="0.263" stop-color="#aa5b00"/><stop offset="0.316" stop-color="#a95b00"/><stop offset="0.368" stop-color="#6d5b00"/><stop offset="0.421" stop-color="#335b00"/><stop offset="0.474" stop-color="#265b00"/><stop offset="0.526" stop-color="#465b00"/><stop offset="0.579" stop-color="#5d5b00"/><stop offset="0.632" stop-color="#5a5b00"/><stop offset="0.684" stop-color="#4b5b00"/><stop offset="0.737" stop-color="#3d5b00"/><stop offset="0.789" stop-color="#3a5b00"/><stop offset="0.842" stop-color="#4b5b00"/><stop offset="0.895" stop-color="#695b00"/><stop offset="0.947" stop-color="#875b00"/><stop offset="1.000" stop-color="#8e5b00"/></linearGradient>
<rect x="0" y="48.35" width="96.30" height="4.53" fill="url(#gfp12)"/>
<linearGradient id="gfp13"><stop offset="0.000" stop-color="#d63000"/><stop offset="0.053" stop-color="#da3000"/><stop offset="0.105" stop-color="#e13000"/><stop offset="0.158" stop-color="#c93000"/><stop offset="0.211" stop-color="#b13000"/><stop offset="0.263" stop-color="#c53000"/><stop offset="0.316" stop-color="#c23000"/><stop offset="0.368" stop-color="#893000"/><stop offset="0.421" stop-color="#433000"/><stop offset="0.474" stop-color="#2e3000"/><stop offset="0.526" stop-color="#563000"/><stop offset="0.579" stop-color="#643000"/><stop offset="0.632" stop-color="#533000"/><stop offset="0.684" stop-color="#443000"/><stop offset="0.737" stop-color="#2d3000"/><stop offset="0.789" stop-color="#1d3000"/><stop offset="0.842" stop-color="#383000"/><stop offset="0.895" stop-color="#673000"/><stop offset="0.947" stop-color="#8b3000"/><stop offset="1.000" stop-color="#943000"/></linearGradient>
<rect x="0" y="52.38" width="96.30" height="4.53" fill="url(#gfp13)"/>
<linearGradient id="gfp14"><stop offset="0.000" stop-color="#d11b00"/><stop offset="0.053" stop-color="#c21b00"/><stop offset="0.105" stop-color="#911b00"/><stop offset="0.158" stop-color="#951b00"/><stop offset="0.211" stop-color="#bf1b00"/><stop offset="0.263" stop-color="#c81b00"/><stop offset="0.316" stop-color="#be1b00"/><stop offset="0.368" stop-color="#a41b00"/><stop offset="0.421" stop-color="#6b1b00"/><stop offset="0.474" stop-color="#4b1b00"/><stop offset="0.526" stop-color="#5a1b00"/><stop offset="0.579" stop-color="#571b00"/><stop offset="0.632" stop-color="#431b00"/><stop offset="0.684" stop-color="#3c1b00"/><stop offset="0.737" stop-color="#391b00"/><stop offset="0.789" stop-color="#351b00"/><stop offset="0.842" stop-color="#3b1b00"/><stop offset="0.895" stop-color="#511b00"/><stop offset="0.947" stop-color="#6b1b00"/><stop offset="1.000" stop-color="#721b00"/></linearGradient>
<rect x="0" y="56.41" width="96.30" height="4.53" fill="url(#gfp14)"/>
<linearGradient id="gfp15"><stop offset="0.000" stop-color="#d11500"/><stop offset="0.053" stop-color="#bb1500"/><stop offset="0.105" stop-color="#7a1500"/><stop offset="0.158" stop-color="#8d1500"/><stop offset="0.211" stop-color="#d41500"/><stop offset="0.263" stop-color="#e01500"/><stop offset="0.316" stop-color="#cf1500"/><stop offset="0.368" stop-color="#b71500"/><stop offset="0.421" stop-color="#811500"/><stop offset="0.474" stop-color="#5a1500"/><stop offset="0.526" stop-color="#5b1500"/><stop offset="0.579" stop-color="#4d1500"/><stop offset="0.632" stop-color="#3b1500"/><stop offset="0.684" stop-color="#401500"/><stop offset="0.737" stop-color="#441500"/><stop offset="0.789" stop-color="#3c1500"/><stop offset="0.842" stop-color="#361500"/><stop offset="0.895" stop-color="#3b1500"/><stop offset="0.947" stop-color="#491500"/><stop offset="1.000" stop-color="#4d1500"/></linearGradient>
<rect x="0" y="60.44" width="96.30" height="4.53" fill="url(#gfp15)"/>
<linearGradient id="gfp16"><stop offset="0.000" stop-color="#c10f00"/><stop offset="0.053" stop-color="#b70f00"/><stop offset="0.105" stop-color="#9b0f00"/><stop offset="0.158" stop-color="#b00f00"/><stop offset="0.211" stop-color="#e70f00"/><stop offset="0.263" stop-color="#ff0f00"/><stop offset="0.316" stop-color="#f00f00"/><stop offset="0.368" stop-color="#bb0f00"/><stop offset="0.421" stop-color="#790f00"/><stop offset="0.474" stop-color="#5a0f00"/><stop offset="0.526" stop-color="#650f00"/><stop offset="0.579" stop-color="#5a0f00"/><stop offset="0.632" stop-color="#490f00"/><stop offset="0.684" stop-color="#520f00"/><stop offset="0.737" stop-color="#460f00"/><stop offset="0.789" stop-color="#280f00"/><stop offset="0.842" stop-color="#2b0f00"/><stop offset="0.895" stop-color="#380f00"/><stop offset="0.947" stop-color="#3c0f00"/><stop offset="1.000" stop-color="#3c0f00"/></linearGradient>
<rect x="0" y="64.47" width="96.30" height="4.53" fill="url(#gfp16)"/>
<linearGradient id="gfp17"><stop offset="0.000" stop-color="#880d00"/><stop offset="0.053" stop-color="#8d0d00"/><stop offset="0.105" stop-color="#a10d00"/><stop offset="0.158" stop-color="#ba0d00"/><stop offset="0.211" stop-color="#d50d00"/><stop offset="0.263" stop-color="#ec0d00"/><stop offset="0.316" stop-color="#dc0d00"/><stop offset="0.368" stop-color="#a30d00"/><stop offset="0.421" stop-color="#6a0d00"/><stop offset="0.474" stop-color="#620d00"/><stop offset="0.526" stop-color="#890d00"/><stop offset="0.579" stop-color="#8a0d00"/><stop offset="0.632" stop-color="#710d00"/><stop offset="0.684" stop-color="#6c0d00"/><stop offset="0.737" stop-color="#4c0d00"/><stop offset="0.789" stop-color="#280d00"/><stop offset="0.842" stop-color="#3e0d00"/><stop offset="0.895" stop-color="#550d00"/><stop offset="0.947" stop-color="#4b0d00"/><stop offset="1.000" stop-color="#460d00"/></linearGradient>
<rect x="0" y="68.50" width="96.30" height="4.53" fill="url(#gfp17)"/>
<linearGradient id="gfp18"><stop offset="0.000" stop-color="#350c00"/><stop offset="0.053" stop-color="#430c00"/><stop offset="0.105" stop-color="#760c00"/><stop offset="0.158" stop-color="#9a0c00"/><stop offset="0.211" stop-color="#a40c00"/><stop offset="0.263" stop-color="#a90c00"/><stop offset="0.316" stop-color="#9d0c00"/><stop offset="0.368" stop-color="#7e0c00"/><stop offset="0.421" stop-color="#630c00"/><stop offset="0.474" stop-color="#760c00"/><stop offset="0.526" stop-color="#b40c00"/><stop offset="0.579" stop-color="#bf0c00"/><stop offset="0.632" stop-color="#9e0c00"/><stop offset="0.684" stop-color="#7f0c00"/><stop offset="0.737" stop-color="#590c00"/><stop offset="0.789" stop-color="#450c00"/><stop offset="0.842" stop-color="#6a0c00"/><stop offset="0.895" stop-color="#810c00"/><stop offset="0.947" stop-color="#6a0c00"/><stop offset="1.000" stop-color="#610c00"/></linearGradient>
<rect x="0" y="72.52" width="96.30" height="4.53" fill="url(#gfp18)"/>
<linearGradient id="gfp19"><stop offset="0.000" stop-color="#010c00"/><stop offset="0.053" stop-color="#110c00"/><stop offset="0.105" stop-color="#490c00"/><stop offset="0.158" stop-color="#710c00"/><stop offset="0.211" stop-color="#7f0c00"/><stop offset="0.263" stop-color="#8a0c00"/><stop offset="0.316" stop-color="#850c00"/><stop offset="0.368" stop-color="#740c00"/><stop offset="0.421" stop-color="#6d0c00"/><stop offset="0.474" stop-color="#850c00"/><stop offset="0.526" stop-color="#b20c00"/><stop offset="0.579" stop-color="#b90c00"/><stop offset="0.632" stop-color="#9d0c00"/><stop offset="0.684" stop-color="#7d0c00"/><stop offset="0.737" stop-color="#630c00"/><stop offset="0.789" stop-color="#5f0c00"/><stop offset="0.842" stop-color="#7f0c00"/><stop offset="0.895" stop-color="#8f0c00"/><stop offset="0.947" stop-color="#7a0c00"/><stop offset="1.000" stop-color="#730c00"/></linearGradient>
<rect x="0" y="76.55" width="96.30" height="4.53" fill="url(#gfp19)"/>
<linearGradient id="gfp20"><stop offset="0.000" stop-color="#000b00"/><stop offset="0.053" stop-color="#050b00"/><stop offset="0.105" stop-color="#300b00"/><stop offset="0.158" stop-color="#560b00"/><stop offset="0.211" stop-color="#740b00"/><stop offset="0.263" stop-color="#990b00"/><stop offset="0.316" stop-color="#9e0b00"/><stop offset="0.368" stop-color="#870b00"/><stop offset="0.421" stop-color="#840b00"/><stop offset="0.474" stop-color="#8a0b00"/><stop offset="0.526" stop-color="#860b00"/><stop offset="0.579" stop-color="#810b00"/><stop offset="0.632" stop-color="#7b0b00"/><stop offset="0.684" stop-color="#710b00"/><stop offset="0.737" stop-color="#6a0b00"/><stop offset="0.789" stop-color="#6c0b00"/><stop offset="0.842" stop-color="#770b00"/><stop offset="0.895" stop-color="#7c0b00"/><stop offset="0.947" stop-color="#750b00"/><stop offset="1.000" stop-color="#730b00"/></linearGradient>
<rect x="0" y="80.58" width="96.30" height="4.53" fill="url(#gfp20)"/>
<linearGradient id="gfp21"><stop offset="0.000" stop-color="#000b00"/><stop offset="0.053" stop-color="#050b00"/><stop offset="0.105" stop-color="#260b00"/><stop offset="0.158" stop-color="#4d0b00"/><stop offset="0.211" stop-color="#730b00"/><stop offset="0.263" stop-color="#990b00"/><stop offset="0.316" stop-color="#a30b00"/><stop offset="0.368" stop-color="#930b00"/><stop offset="0.421" stop-color="#920b00"/><stop offset="0.474" stop-color="#8b0b00"/><stop offset="0.526" stop-color="#720b00"/><stop offset="0.579" stop-color="#6d0b00"/><stop offset="0.632" stop-color="#770b00"/><stop offset="0.684" stop-color="#7d0b00"/><stop offset="0.737" stop-color="#7d0b00"/><stop offset="0.789" stop-color="#790b00"/><stop offset="0.842" stop-color="#700b00"/><stop offset="0.895" stop-color="#6c0b00"/><stop offset="0.947" stop-color="#6f0b00"/><stop offset="1.000" stop-color="#710b00"/></linearGradient>
<rect x="0" y="84.61" width="96.30" height="4.53" fill="url(#gfp21)"/>
<linearGradient id="gfp22"><stop offset="0.000" stop-color="#000b00"/><stop offset="0.053" stop-color="#040b00"/><stop offset="0.105" stop-color="#270b00"/><stop offset="0.158" stop-color="#520b00"/><stop offset="0.211" stop-color="#720b00"/><stop offset="0.263" stop-color="#7e0b00"/><stop offset="0.316" stop-color="#850b00"/><stop offset="0.368" stop-color="#8f0b00"/><stop offset="0.421" stop-color="#930b00"/><stop offset="0.474" stop-color="#8c0b00"/><stop offset="0.526" stop-color="#820b00"/><stop offset="0.579" stop-color="#8a0b00"/><stop offset="0.632" stop-color="#9b0b00"/><stop offset="0.684" stop-color="#a00b00"/><stop offset="0.737" stop-color="#980b00"/><stop offset="0.789" stop-color="#890b00"/><stop offset="0.842" stop-color="#760b00"/><stop offset="0.895" stop-color="#6d0b00"/><stop offset="0.947" stop-color="#700b00"/><stop offset="1.000" stop-color="#710b00"/></linearGradient>
<rect x="0" y="88.64" width="96.30" height="4.53" fill="url(#gfp22)"/>
<linearGradient id="gfp23"><stop offset="0.000" stop-color="#000a00"/><stop offset="0.053" stop-color="#040a00"/><stop offset="0.105" stop-color="#280a00"/><stop offset="0.158" stop-color="#560a00"/><stop offset="0.211" stop-color="#720a00"/><stop offset="0.263" stop-color="#6c0a00"/><stop offset="0.316" stop-color="#710a00"/><stop offset="0.368" stop-color="#8a0a00"/><stop offset="0.421" stop-color="#910a00"/><stop offset="0.474" stop-color="#8c0a00"/><stop offset="0.526" stop-color="#8f0a00"/><stop offset="0.579" stop-color="#a10a00"/><stop offset="0.632" stop-color="#b30a00"/><stop offset="0.684" stop-color="#b40a00"/><stop offset="0.737" stop-color="#a70a00"/><stop offset="0.789" stop-color="#910a00"/><stop offset="0.842" stop-color="#7b0a00"/><stop offset="0.895" stop-color="#700a00"/><stop offset="0.947" stop-color="#710a00"/><stop offset="1.000" stop-color="#720a00"/></linearGradient>
<rect x="0" y="92.67" width="96.30" height="4.53" fill="url(#gfp23)"/>
<ellipse cx="6.7" cy="44.8" rx="7.0" ry="12.0" fill="#ff9600"/>
<ellipse cx="23.7" cy="60.8" rx="8.0" ry="8.0" fill="#dd1700"/>
<ellipse cx="34.6" cy="52.6" rx="3.2" ry="3.3" fill="#2a4300"/>
<ellipse cx="63.3" cy="60.4" rx="3.2" ry="3.2" fill="#2a1800"/>
<ellipse cx="77.4" cy="55.6" rx="6.3" ry="3.2" fill="#2a2400"/>
<ellipse cx="48.2" cy="41.4" rx="4.0" ry="3.2" fill="#2aba00"/>
<ellipse cx="53.7" cy="77.1" rx="6.5" ry="2.4" fill="#e30c00"/>
<ellipse cx="39.5" cy="80.3" rx="12.0" ry="2.6" fill="#b80c00"/>
<ellipse cx="69.7" cy="93.0" rx="9.5" ry="2.4" fill="#d40b00"/>
<ellipse cx="3.2" cy="88.8" rx="4.0" ry="8.0" fill="#0e0b00"/>
</g>
<path d="M63.0,69.5 L71.2,69.5 L70.2,72.4 L64.7,72.4 Z" fill="none" stroke="#111" stroke-width="0.75" stroke-linejoin="round"/>
<path d="M90.0,81.8 L96.2,81.8 L96.2,84.2 L90.0,84.2 Z" fill="none" stroke="#111" stroke-width="0.75" stroke-linejoin="round"/>
</svg>
<filter id="hffi" x="0" y="0" width="1" height="1" color-interpolation-filters="sRGB"><feGaussianBlur in="SourceGraphic" stdDeviation="1.2" edgeMode="duplicate" result="base"/><feTurbulence type="fractalNoise" baseFrequency="0.38 0.09" numOctaves="1" seed="17" result="turb"/><feColorMatrix in="turb" type="matrix" values="1 0 0 0 0 0 0 0 0 0 0 0 0 0 0 0 0 0 0 1" result="n0"/><feComponentTransfer in="n0" result="n"><feFuncR type="table" tableValues="0 0.2 0.3 0.38 0.47 0.5 0.53 0.62 0.7 0.8 1"/></feComponentTransfer><feColorMatrix in="base" type="matrix" values="0 1 0 0 0 0 0 0 0 0 0 0 0 0 0 0 0 0 0 1" result="m"/><feComposite in="n" in2="m" operator="arithmetic" k1="5.0" k2="0" k3="-2.500" k4="0.5" result="pert"/><feComposite in="base" in2="pert" operator="arithmetic" k1="0" k2="1" k3="1" k4="-0.5" result="sum"/><feColorMatrix in="sum" type="matrix" values="1 0 0 0 0 1 0 0 0 0 1 0 0 0 0 0 0 0 0 1" result="gray"/><feComponentTransfer in="gray"><feFuncR type="table" tableValues="0.200 0.298 0.396 0.475 0.557 0.620 0.682 0.725 0.765 0.784 0.800 0.820 0.839 0.863 0.886 0.918 0.945 0.973 1.000"/><feFuncG type="table" tableValues="0.078 0.169 0.259 0.310 0.365 0.408 0.447 0.478 0.506 0.565 0.620 0.675 0.733 0.792 0.851 0.898 0.945 0.973 1.000"/><feFuncB type="table" tableValues="0.078 0.169 0.259 0.310 0.365 0.408 0.447 0.475 0.502 0.529 0.553 0.584 0.612 0.643 0.675 0.749 0.824 0.914 1.000"/></feComponentTransfer></filter>
<svg x="302.1" y="168.2" width="96.70" height="96.70" viewBox="0 0 96.70 96.70" preserveAspectRatio="none" overflow="hidden">
<g filter="url(#hffi)">
<linearGradient id="gfi0"><stop offset="0.000" stop-color="#aaff00"/><stop offset="0.053" stop-color="#acff00"/><stop offset="0.105" stop-color="#adff00"/><stop offset="0.158" stop-color="#9cff00"/><stop offset="0.211" stop-color="#8eff00"/><stop offset="0.263" stop-color="#a2ff00"/><stop offset="0.316" stop-color="#a8ff00"/><stop offset="0.368" stop-color="#94ff00"/><stop offset="0.421" stop-color="#8aff00"/><stop offset="0.474" stop-color="#8bff00"/><stop offset="0.526" stop-color="#8fff00"/><stop offset="0.579" stop-color="#94ff00"/><stop offset="0.632" stop-color="#8fff00"/><stop offset="0.684" stop-color="#7bff00"/><stop offset="0.737" stop-color="#75ff00"/><stop offset="0.789" stop-color="#89ff00"/><stop offset="0.842" stop-color="#abff00"/><stop offset="0.895" stop-color="#a4ff00"/><stop offset="0.947" stop-color="#75ff00"/><stop offset="1.000" stop-color="#67ff00"/></linearGradient>
<rect x="0" y="0.00" width="96.70" height="4.53" fill="url(#gfi0)"/>
<linearGradient id="gfi1"><stop offset="0.000" stop-color="#a6ff00"/><stop offset="0.053" stop-color="#a9ff00"/><stop offset="0.105" stop-color="#afff00"/><stop offset="0.158" stop-color="#9dff00"/><stop offset="0.211" stop-color="#8dff00"/><stop offset="0.263" stop-color="#a3ff00"/><stop offset="0.316" stop-color="#a3ff00"/><stop offset="0.368" stop-color="#86ff00"/><stop offset="0.421" stop-color="#8bff00"/><stop offset="0.474" stop-color="#95ff00"/><stop offset="0.526" stop-color="#8aff00"/><stop offset="0.579" stop-color="#89ff00"/><stop offset="0.632" stop-color="#85ff00"/><stop offset="0.684" stop-color="#6eff00"/><stop offset="0.737" stop-color="#73ff00"/><stop offset="0.789" stop-color="#93ff00"/><stop offset="0.842" stop-color="#a4ff00"/><stop offset="0.895" stop-color="#97ff00"/><stop offset="0.947" stop-color="#7cff00"/><stop offset="1.000" stop-color="#74ff00"/></linearGradient>
<rect x="0" y="4.03" width="96.70" height="4.53" fill="url(#gfi1)"/>
<linearGradient id="gfi2"><stop offset="0.000" stop-color="#97ff00"/><stop offset="0.053" stop-color="#9dff00"/><stop offset="0.105" stop-color="#aeff00"/><stop offset="0.158" stop-color="#9fff00"/><stop offset="0.211" stop-color="#8cff00"/><stop offset="0.263" stop-color="#a6ff00"/><stop offset="0.316" stop-color="#9bff00"/><stop offset="0.368" stop-color="#72ff00"/><stop offset="0.421" stop-color="#8eff00"/><stop offset="0.474" stop-color="#a5ff00"/><stop offset="0.526" stop-color="#80ff00"/><stop offset="0.579" stop-color="#75ff00"/><stop offset="0.632" stop-color="#74ff00"/><stop offset="0.684" stop-color="#59ff00"/><stop offset="0.737" stop-color="#71ff00"/><stop offset="0.789" stop-color="#a4ff00"/><stop offset="0.842" stop-color="#94ff00"/><stop offset="0.895" stop-color="#7dff00"/><stop offset="0.947" stop-color="#86ff00"/><stop offset="1.000" stop-color="#8bff00"/></linearGradient>
<rect x="0" y="8.06" width="96.70" height="4.53" fill="url(#gfi2)"/>
<linearGradient id="gfi3"><stop offset="0.000" stop-color="#79ff00"/><stop offset="0.053" stop-color="#81ff00"/><stop offset="0.105" stop-color="#9dff00"/><stop offset="0.158" stop-color="#9cff00"/><stop offset="0.211" stop-color="#92ff00"/><stop offset="0.263" stop-color="#a7ff00"/><stop offset="0.316" stop-color="#9eff00"/><stop offset="0.368" stop-color="#7dff00"/><stop offset="0.421" stop-color="#96ff00"/><stop offset="0.474" stop-color="#a2ff00"/><stop offset="0.526" stop-color="#77ff00"/><stop offset="0.579" stop-color="#6dff00"/><stop offset="0.632" stop-color="#6eff00"/><stop offset="0.684" stop-color="#52ff00"/><stop offset="0.737" stop-color="#73ff00"/><stop offset="0.789" stop-color="#abff00"/><stop offset="0.842" stop-color="#83ff00"/><stop offset="0.895" stop-color="#64ff00"/><stop offset="0.947" stop-color="#87ff00"/><stop offset="1.000" stop-color="#95ff00"/></linearGradient>
<rect x="0" y="12.09" width="96.70" height="4.53" fill="url(#gfi3)"/>
<linearGradient id="gfi4"><stop offset="0.000" stop-color="#58ff00"/><stop offset="0.053" stop-color="#62ff00"/><stop offset="0.105" stop-color="#85ff00"/><stop offset="0.158" stop-color="#95ff00"/><stop offset="0.211" stop-color="#95ff00"/><stop offset="0.263" stop-color="#a4ff00"/><stop offset="0.316" stop-color="#aaff00"/><stop offset="0.368" stop-color="#a1ff00"/><stop offset="0.421" stop-color="#9dff00"/><stop offset="0.474" stop-color="#8eff00"/><stop offset="0.526" stop-color="#73ff00"/><stop offset="0.579" stop-color="#72ff00"/><stop offset="0.632" stop-color="#71ff00"/><stop offset="0.684" stop-color="#55ff00"/><stop offset="0.737" stop-color="#76ff00"/><stop offset="0.789" stop-color="#a9ff00"/><stop offset="0.842" stop-color="#77ff00"/><stop offset="0.895" stop-color="#57ff00"/><stop offset="0.947" stop-color="#83ff00"/><stop offset="1.000" stop-color="#93ff00"/></linearGradient>
<rect x="0" y="16.12" width="96.70" height="4.53" fill="url(#gfi4)"/>
<linearGradient id="gfi5"><stop offset="0.000" stop-color="#4fff00"/><stop offset="0.053" stop-color="#5eff00"/><stop offset="0.105" stop-color="#8bff00"/><stop offset="0.158" stop-color="#8fff00"/><stop offset="0.211" stop-color="#7eff00"/><stop offset="0.263" stop-color="#99ff00"/><stop offset="0.316" stop-color="#b1ff00"/><stop offset="0.368" stop-color="#aaff00"/><stop offset="0.421" stop-color="#99ff00"/><stop offset="0.474" stop-color="#85ff00"/><stop offset="0.526" stop-color="#76ff00"/><stop offset="0.579" stop-color="#74ff00"/><stop offset="0.632" stop-color="#66ff00"/><stop offset="0.684" stop-color="#46ff00"/><stop offset="0.737" stop-color="#6fff00"/><stop offset="0.789" stop-color="#adff00"/><stop offset="0.842" stop-color="#7aff00"/><stop offset="0.895" stop-color="#5aff00"/><stop offset="0.947" stop-color="#8dff00"/><stop offset="1.000" stop-color="#a0ff00"/></linearGradient>
<rect x="0" y="20.15" width="96.70" height="4.53" fill="url(#gfi5)"/>
<linearGradient id="gfi6"><stop offset="0.000" stop-color="#60ff00"/><stop offset="0.053" stop-color="#72ff00"/><stop offset="0.105" stop-color="#a6ff00"/><stop offset="0.158" stop-color="#8cff00"/><stop offset="0.211" stop-color="#5bff00"/><stop offset="0.263" stop-color="#8dff00"/><stop offset="0.316" stop-color="#b0ff00"/><stop offset="0.368" stop-color="#97ff00"/><stop offset="0.421" stop-color="#8cff00"/><stop offset="0.474" stop-color="#8cff00"/><stop offset="0.526" stop-color="#85ff00"/><stop offset="0.579" stop-color="#75ff00"/><stop offset="0.632" stop-color="#53ff00"/><stop offset="0.684" stop-color="#2eff00"/><stop offset="0.737" stop-color="#62ff00"/><stop offset="0.789" stop-color="#b1ff00"/><stop offset="0.842" stop-color="#87ff00"/><stop offset="0.895" stop-color="#6aff00"/><stop offset="0.947" stop-color="#a0ff00"/><stop offset="1.000" stop-color="#b3ff00"/></linearGradient>
<rect x="0" y="24.17" width="96.70" height="4.53" fill="url(#gfi6)"/>
<linearGradient id="gfi7"><stop offset="0.000" stop-color="#6dff00"/><stop offset="0.053" stop-color="#7bff00"/><stop offset="0.105" stop-color="#9eff00"/><stop offset="0.158" stop-color="#83ff00"/><stop offset="0.211" stop-color="#5cff00"/><stop offset="0.263" stop-color="#8dff00"/><stop offset="0.316" stop-color="#adff00"/><stop offset="0.368" stop-color="#93ff00"/><stop offset="0.421" stop-color="#86ff00"/><stop offset="0.474" stop-color="#93ff00"/><stop offset="0.526" stop-color="#a1ff00"/><stop offset="0.579" stop-color="#86ff00"/><stop offset="0.632" stop-color="#54ff00"/><stop offset="0.684" stop-color="#3fff00"/><stop offset="0.737" stop-color="#65ff00"/><stop offset="0.789" stop-color="#98ff00"/><stop offset="0.842" stop-color="#8aff00"/><stop offset="0.895" stop-color="#7fff00"/><stop offset="0.947" stop-color="#9bff00"/><stop offset="1.000" stop-color="#a4ff00"/></linearGradient>
<rect x="0" y="28.20" width="96.70" height="4.53" fill="url(#gfi7)"/>
<linearGradient id="gfi8"><stop offset="0.000" stop-color="#65ff00"/><stop offset="0.053" stop-color="#67ff00"/><stop offset="0.105" stop-color="#6dff00"/><stop offset="0.158" stop-color="#73ff00"/><stop offset="0.211" stop-color="#80ff00"/><stop offset="0.263" stop-color="#9aff00"/><stop offset="0.316" stop-color="#acff00"/><stop offset="0.368" stop-color="#a5ff00"/><stop offset="0.421" stop-color="#8cff00"/><stop offset="0.474" stop-color="#95ff00"/><stop offset="0.526" stop-color="#bfff00"/><stop offset="0.579" stop-color="#9eff00"/><stop offset="0.632" stop-color="#68ff00"/><stop offset="0.684" stop-color="#73ff00"/><stop offset="0.737" stop-color="#76ff00"/><stop offset="0.789" stop-color="#68ff00"/><stop offset="0.842" stop-color="#7fff00"/><stop offset="0.895" stop-color="#8eff00"/><stop offset="0.947" stop-color="#80ff00"/><stop offset="1.000" stop-color="#7aff00"/></linearGradient>
<rect x="0" y="32.23" width="96.70" height="4.53" fill="url(#gfi8)"/>
<linearGradient id="gfi9"><stop offset="0.000" stop-color="#40da00"/><stop offset="0.053" stop-color="#3cda00"/><stop offset="0.105" stop-color="#38da00"/><stop offset="0.158" stop-color="#5dda00"/><stop offset="0.211" stop-color="#95da00"/><stop offset="0.263" stop-color="#adda00"/><stop offset="0.316" stop-color="#b3da00"/><stop offset="0.368" stop-color="#aeda00"/><stop offset="0.421" stop-color="#96da00"/><stop offset="0.474" stop-color="#9cda00"/><stop offset="0.526" stop-color="#c2da00"/><stop offset="0.579" stop-color="#9fda00"/><stop offset="0.632" stop-color="#71da00"/><stop offset="0.684" stop-color="#90da00"/><stop offset="0.737" stop-color="#7fda00"/><stop offset="0.789" stop-color="#4bda00"/><stop offset="0.842" stop-color="#6bda00"/><stop offset="0.895" stop-color="#8bda00"/><stop offset="0.947" stop-color="#75da00"/><stop offset="1.000" stop-color="#6bda00"/></linearGradient>
<rect x="0" y="36.26" width="96.70" height="4.53" fill="url(#gfi9)"/>
<linearGradient id="gfi10"><stop offset="0.000" stop-color="#1bb000"/><stop offset="0.053" stop-color="#1ab000"/><stop offset="0.105" stop-color="#22b000"/><stop offset="0.158" stop-color="#51b000"/><stop offset="0.211" stop-color="#91b000"/><stop offset="0.263" stop-color="#b2b000"/><stop offset="0.316" stop-color="#b5b000"/><stop offset="0.368" stop-color="#aab000"/><stop offset="0.421" stop-color="#a2b000"/><stop offset="0.474" stop-color="#a5b000"/><stop offset="0.526" stop-color="#a8b000"/><stop offset="0.579" stop-color="#86b000"/><stop offset="0.632" stop-color="#6fb000"/><stop offset="0.684" stop-color="#8cb000"/><stop offset="0.737" stop-color="#7db000"/><stop offset="0.789" stop-color="#4db000"/><stop offset="0.842" stop-color="#5db000"/><stop offset="0.895" stop-color="#7db000"/><stop offset="0.947" stop-color="#82b000"/><stop offset="1.000" stop-color="#82b000"/></linearGradient>
<rect x="0" y="40.29" width="96.70" height="4.53" fill="url(#gfi10)"/>
<linearGradient id="gfi11"><stop offset="0.000" stop-color="#318500"/><stop offset="0.053" stop-color="#348500"/><stop offset="0.105" stop-color="#458500"/><stop offset="0.158" stop-color="#6e8500"/><stop offset="0.211" stop-color="#938500"/><stop offset="0.263" stop-color="#908500"/><stop offset="0.316" stop-color="#948500"/><stop offset="0.368" stop-color="#ae8500"/><stop offset="0.421" stop-color="#b88500"/><stop offset="0.474" stop-color="#a68500"/><stop offset="0.526" stop-color="#838500"/><stop offset="0.579" stop-color="#748500"/><stop offset="0.632" stop-color="#7f8500"/><stop offset="0.684" stop-color="#938500"/><stop offset="0.737" stop-color="#838500"/><stop offset="0.789" stop-color="#618500"/><stop offset="0.842" stop-color="#678500"/><stop offset="0.895" stop-color="#818500"/><stop offset="0.947" stop-color="#958500"/><stop offset="1.000" stop-color="#998500"/></linearGradient>
<rect x="0" y="44.32" width="96.70" height="4.53" fill="url(#gfi11)"/>
<linearGradient id="gfi12"><stop offset="0.000" stop-color="#755b00"/><stop offset="0.053" stop-color="#795b00"/><stop offset="0.105" stop-color="#8a5b00"/><stop offset="0.158" stop-color="#a15b00"/><stop offset="0.211" stop-color="#965b00"/><stop offset="0.263" stop-color="#565b00"/><stop offset="0.316" stop-color="#615b00"/><stop offset="0.368" stop-color="#bb5b00"/><stop offset="0.421" stop-color="#cf5b00"/><stop offset="0.474" stop-color="#9b5b00"/><stop offset="0.526" stop-color="#635b00"/><stop offset="0.579" stop-color="#725b00"/><stop offset="0.632" stop-color="#a25b00"/><stop offset="0.684" stop-color="#ab5b00"/><stop offset="0.737" stop-color="#945b00"/><stop offset="0.789" stop-color="#7e5b00"/><stop offset="0.842" stop-color="#895b00"/><stop offset="0.895" stop-color="#9d5b00"/><stop offset="0.947" stop-color="#a35b00"/><stop offset="1.000" stop-color="#a45b00"/></linearGradient>
<rect x="0" y="48.35" width="96.70" height="4.53" fill="url(#gfi12)"/>
<linearGradient id="gfi13"><stop offset="0.000" stop-color="#8c3000"/><stop offset="0.053" stop-color="#953000"/><stop offset="0.105" stop-color="#ae3000"/><stop offset="0.158" stop-color="#a63000"/><stop offset="0.211" stop-color="#733000"/><stop offset="0.263" stop-color="#3b3000"/><stop offset="0.316" stop-color="#5b3000"/><stop offset="0.368" stop-color="#b93000"/><stop offset="0.421" stop-color="#ca3000"/><stop offset="0.474" stop-color="#8e3000"/><stop offset="0.526" stop-color="#523000"/><stop offset="0.579" stop-color="#723000"/><stop offset="0.632" stop-color="#b43000"/><stop offset="0.684" stop-color="#b73000"/><stop offset="0.737" stop-color="#a23000"/><stop offset="0.789" stop-color="#9e3000"/><stop offset="0.842" stop-color="#b13000"/><stop offset="0.895" stop-color="#bc3000"/><stop offset="0.947" stop-color="#b33000"/><stop offset="1.000" stop-color="#af3000"/></linearGradient>
<rect x="0" y="52.38" width="96.70" height="4.53" fill="url(#gfi13)"/>
<linearGradient id="gfi14"><stop offset="0.000" stop-color="#651b00"/><stop offset="0.053" stop-color="#741b00"/><stop offset="0.105" stop-color="#9d1b00"/><stop offset="0.158" stop-color="#7e1b00"/><stop offset="0.211" stop-color="#3e1b00"/><stop offset="0.263" stop-color="#481b00"/><stop offset="0.316" stop-color="#7d1b00"/><stop offset="0.368" stop-color="#ab1b00"/><stop offset="0.421" stop-color="#af1b00"/><stop offset="0.474" stop-color="#841b00"/><stop offset="0.526" stop-color="#521b00"/><stop offset="0.579" stop-color="#6c1b00"/><stop offset="0.632" stop-color="#a41b00"/><stop offset="0.684" stop-color="#ad1b00"/><stop offset="0.737" stop-color="#ac1b00"/><stop offset="0.789" stop-color="#bb1b00"/><stop offset="0.842" stop-color="#d21b00"/><stop offset="0.895" stop-color="#d51b00"/><stop offset="0.947" stop-color="#c31b00"/><stop offset="1.000" stop-color="#bd1b00"/></linearGradient>
<rect x="0" y="56.41" width="96.70" height="4.53" fill="url(#gfi14)"/>
<linearGradient id="gfi15"><stop offset="0.000" stop-color="#3a1500"/><stop offset="0.053" stop-color="#491500"/><stop offset="0.105" stop-color="#791500"/><stop offset="0.158" stop-color="#711500"/><stop offset="0.211" stop-color="#491500"/><stop offset="0.263" stop-color="#581500"/><stop offset="0.316" stop-color="#881500"/><stop offset="0.368" stop-color="#ad1500"/><stop offset="0.421" stop-color="#a21500"/><stop offset="0.474" stop-color="#7d1500"/><stop offset="0.526" stop-color="#601500"/><stop offset="0.579" stop-color="#601500"/><stop offset="0.632" stop-color="#7a1500"/><stop offset="0.684" stop-color="#9d1500"/><stop offset="0.737" stop-color="#b81500"/><stop offset="0.789" stop-color="#cc1500"/><stop offset="0.842" stop-color="#e51500"/><stop offset="0.895" stop-color="#e71500"/><stop offset="0.947" stop-color="#cf1500"/><stop offset="1.000" stop-color="#c71500"/></linearGradient>
<rect x="0" y="60.44" width="96.70" height="4.53" fill="url(#gfi15)"/>
<linearGradient id="gfi16"><stop offset="0.000" stop-color="#2d0f00"/><stop offset="0.053" stop-color="#370f00"/><stop offset="0.105" stop-color="#5f0f00"/><stop offset="0.158" stop-color="#8a0f00"/><stop offset="0.211" stop-color="#8e0f00"/><stop offset="0.263" stop-color="#600f00"/><stop offset="0.316" stop-color="#720f00"/><stop offset="0.368" stop-color="#bd0f00"/><stop offset="0.421" stop-color="#ac0f00"/><stop offset="0.474" stop-color="#7e0f00"/><stop offset="0.526" stop-color="#720f00"/><stop offset="0.579" stop-color="#530f00"/><stop offset="0.632" stop-color="#4b0f00"/><stop offset="0.684" stop-color="#8f0f00"/><stop offset="0.737" stop-color="#c00f00"/><stop offset="0.789" stop-color="#cc0f00"/><stop offset="0.842" stop-color="#e40f00"/><stop offset="0.895" stop-color="#e90f00"/><stop offset="0.947" stop-color="#d00f00"/><stop offset="1.000" stop-color="#c70f00"/></linearGradient>
<rect x="0" y="64.47" width="96.70" height="4.53" fill="url(#gfi16)"/>
<linearGradient id="gfi17"><stop offset="0.000" stop-color="#480d00"/><stop offset="0.053" stop-color="#4d0d00"/><stop offset="0.105" stop-color="#670d00"/><stop offset="0.158" stop-color="#9c0d00"/><stop offset="0.211" stop-color="#b00d00"/><stop offset="0.263" stop-color="#6e0d00"/><stop offset="0.316" stop-color="#6f0d00"/><stop offset="0.368" stop-color="#be0d00"/><stop offset="0.421" stop-color="#bb0d00"/><stop offset="0.474" stop-color="#920d00"/><stop offset="0.526" stop-color="#7c0d00"/><stop offset="0.579" stop-color="#4b0d00"/><stop offset="0.632" stop-color="#380d00"/><stop offset="0.684" stop-color="#800d00"/><stop offset="0.737" stop-color="#b60d00"/><stop offset="0.789" stop-color="#bd0d00"/><stop offset="0.842" stop-color="#cb0d00"/><stop offset="0.895" stop-color="#cf0d00"/><stop offset="0.947" stop-color="#c00d00"/><stop offset="1.000" stop-color="#bb0d00"/></linearGradient>
<rect x="0" y="68.50" width="96.70" height="4.53" fill="url(#gfi17)"/>
<linearGradient id="gfi18"><stop offset="0.000" stop-color="#7a0c00"/><stop offset="0.053" stop-color="#7c0c00"/><stop offset="0.105" stop-color="#850c00"/><stop offset="0.158" stop-color="#960c00"/><stop offset="0.211" stop-color="#9b0c00"/><stop offset="0.263" stop-color="#840c00"/><stop offset="0.316" stop-color="#870c00"/><stop offset="0.368" stop-color="#ad0c00"/><stop offset="0.421" stop-color="#c30c00"/><stop offset="0.474" stop-color="#b20c00"/><stop offset="0.526" stop-color="#7f0c00"/><stop offset="0.579" stop-color="#4e0c00"/><stop offset="0.632" stop-color="#480c00"/><stop offset="0.684" stop-color="#790c00"/><stop offset="0.737" stop-color="#a20c00"/><stop offset="0.789" stop-color="#ac0c00"/><stop offset="0.842" stop-color="#ae0c00"/><stop offset="0.895" stop-color="#ad0c00"/><stop offset="0.947" stop-color="#ac0c00"/><stop offset="1.000" stop-color="#ab0c00"/></linearGradient>
<rect x="0" y="72.52" width="96.70" height="4.53" fill="url(#gfi18)"/>
<linearGradient id="gfi19"><stop offset="0.000" stop-color="#970c00"/><stop offset="0.053" stop-color="#950c00"/><stop offset="0.105" stop-color="#8c0c00"/><stop offset="0.158" stop-color="#860c00"/><stop offset="0.211" stop-color="#880c00"/><stop offset="0.263" stop-color="#900c00"/><stop offset="0.316" stop-color="#980c00"/><stop offset="0.368" stop-color="#a50c00"/><stop offset="0.421" stop-color="#c30c00"/><stop offset="0.474" stop-color="#c00c00"/><stop offset="0.526" stop-color="#890c00"/><stop offset="0.579" stop-color="#640c00"/><stop offset="0.632" stop-color="#680c00"/><stop offset="0.684" stop-color="#840c00"/><stop offset="0.737" stop-color="#a00c00"/><stop offset="0.789" stop-color="#af0c00"/><stop offset="0.842" stop-color="#b50c00"/><stop offset="0.895" stop-color="#b50c00"/><stop offset="0.947" stop-color="#b10c00"/><stop offset="1.000" stop-color="#b00c00"/></linearGradient>
<rect x="0" y="76.55" width="96.70" height="4.53" fill="url(#gfi19)"/>
<linearGradient id="gfi20"><stop offset="0.000" stop-color="#960b00"/><stop offset="0.053" stop-color="#8f0b00"/><stop offset="0.105" stop-color="#7a0b00"/><stop offset="0.158" stop-color="#7b0b00"/><stop offset="0.211" stop-color="#8b0b00"/><stop offset="0.263" stop-color="#8f0b00"/><stop offset="0.316" stop-color="#960b00"/><stop offset="0.368" stop-color="#a80b00"/><stop offset="0.421" stop-color="#b90b00"/><stop offset="0.474" stop-color="#b30b00"/><stop offset="0.526" stop-color="#950b00"/><stop offset="0.579" stop-color="#810b00"/><stop offset="0.632" stop-color="#860b00"/><stop offset="0.684" stop-color="#9b0b00"/><stop offset="0.737" stop-color="#af0b00"/><stop offset="0.789" stop-color="#c10b00"/><stop offset="0.842" stop-color="#d60b00"/><stop offset="0.895" stop-color="#d90b00"/><stop offset="0.947" stop-color="#c70b00"/><stop offset="1.000" stop-color="#c10b00"/></linearGradient>
<rect x="0" y="80.58" width="96.70" height="4.53" fill="url(#gfi20)"/>
<linearGradient id="gfi21"><stop offset="0.000" stop-color="#8f0b00"/><stop offset="0.053" stop-color="#880b00"/><stop offset="0.105" stop-color="#760b00"/><stop offset="0.158" stop-color="#7d0b00"/><stop offset="0.211" stop-color="#900b00"/><stop offset="0.263" stop-color="#8d0b00"/><stop offset="0.316" stop-color="#910b00"/><stop offset="0.368" stop-color="#a40b00"/><stop offset="0.421" stop-color="#a40b00"/><stop offset="0.474" stop-color="#950b00"/><stop offset="0.526" stop-color="#860b00"/><stop offset="0.579" stop-color="#870b00"/><stop offset="0.632" stop-color="#940b00"/><stop offset="0.684" stop-color="#a10b00"/><stop offset="0.737" stop-color="#b00b00"/><stop offset="0.789" stop-color="#c30b00"/><stop offset="0.842" stop-color="#d50b00"/><stop offset="0.895" stop-color="#d30b00"/><stop offset="0.947" stop-color="#c00b00"/><stop offset="1.000" stop-color="#bb0b00"/></linearGradient>
<rect x="0" y="84.61" width="96.70" height="4.53" fill="url(#gfi21)"/>
<linearGradient id="gfi22"><stop offset="0.000" stop-color="#8d0b00"/><stop offset="0.053" stop-color="#8b0b00"/><stop offset="0.105" stop-color="#860b00"/><stop offset="0.158" stop-color="#890b00"/><stop offset="0.211" stop-color="#8f0b00"/><stop offset="0.263" stop-color="#8d0b00"/><stop offset="0.316" stop-color="#8f0b00"/><stop offset="0.368" stop-color="#940b00"/><stop offset="0.421" stop-color="#8b0b00"/><stop offset="0.474" stop-color="#740b00"/><stop offset="0.526" stop-color="#620b00"/><stop offset="0.579" stop-color="#750b00"/><stop offset="0.632" stop-color="#920b00"/><stop offset="0.684" stop-color="#940b00"/><stop offset="0.737" stop-color="#9f0b00"/><stop offset="0.789" stop-color="#b20b00"/><stop offset="0.842" stop-color="#ad0b00"/><stop offset="0.895" stop-color="#a00b00"/><stop offset="0.947" stop-color="#9c0b00"/><stop offset="1.000" stop-color="#9c0b00"/></linearGradient>
<rect x="0" y="88.64" width="96.70" height="4.53" fill="url(#gfi22)"/>
<linearGradient id="gfi23"><stop offset="0.000" stop-color="#8e0a00"/><stop offset="0.053" stop-color="#8f0a00"/><stop offset="0.105" stop-color="#910a00"/><stop offset="0.158" stop-color="#900a00"/><stop offset="0.211" stop-color="#8d0a00"/><stop offset="0.263" stop-color="#8d0a00"/><stop offset="0.316" stop-color="#8f0a00"/><stop offset="0.368" stop-color="#8c0a00"/><stop offset="0.421" stop-color="#7f0a00"/><stop offset="0.474" stop-color="#640a00"/><stop offset="0.526" stop-color="#4d0a00"/><stop offset="0.579" stop-color="#690a00"/><stop offset="0.632" stop-color="#8f0a00"/><stop offset="0.684" stop-color="#8b0a00"/><stop offset="0.737" stop-color="#930a00"/><stop offset="0.789" stop-color="#a60a00"/><stop offset="0.842" stop-color="#930a00"/><stop offset="0.895" stop-color="#800a00"/><stop offset="0.947" stop-color="#860a00"/><stop offset="1.000" stop-color="#890a00"/></linearGradient>
<rect x="0" y="92.67" width="96.70" height="4.53" fill="url(#gfi23)"/>
<ellipse cx="4.9" cy="40.8" rx="6.2" ry="5.0" fill="#00c000"/>
<ellipse cx="25.4" cy="53.3" rx="5.0" ry="5.0" fill="#003c00"/>
<ellipse cx="16.9" cy="58.8" rx="4.4" ry="4.4" fill="#001a00"/>
<ellipse cx="5.9" cy="68.3" rx="5.0" ry="3.8" fill="#000d00"/>
<ellipse cx="1.9" cy="59.8" rx="3.1" ry="3.1" fill="#1c1900"/>
<ellipse cx="27.9" cy="67.8" rx="3.1" ry="3.1" fill="#1c0d00"/>
<ellipse cx="55.9" cy="53.3" rx="5.6" ry="3.8" fill="#003c00"/>
<ellipse cx="51.4" cy="63.8" rx="5.0" ry="3.1" fill="#0e1300"/>
<ellipse cx="64.9" cy="70.8" rx="7.5" ry="5.0" fill="#000c00"/>
<ellipse cx="49.9" cy="76.8" rx="7.5" ry="2.5" fill="#1c0c00"/>
<ellipse cx="44.9" cy="93.8" rx="5.0" ry="2.5" fill="#0e0a00"/>
<ellipse cx="58.6" cy="90.3" rx="3.8" ry="1.9" fill="#2a0b00"/>
<ellipse cx="8.9" cy="87.4" rx="7.5" ry="2.8" fill="#550b00"/>
<ellipse cx="73.2" cy="58.1" rx="3.8" ry="2.8" fill="#391c00"/>
<ellipse cx="66.6" cy="41.2" rx="4.6" ry="5.5" fill="#39bc00"/>
<ellipse cx="79.1" cy="79.8" rx="3.8" ry="1.5" fill="#390c00"/>
<ellipse cx="30.9" cy="46.8" rx="5.0" ry="5.0" fill="#e38100"/>
<ellipse cx="33.4" cy="63.8" rx="3.8" ry="2.8" fill="#ff1300"/>
<ellipse cx="15.9" cy="70.8" rx="5.0" ry="3.1" fill="#ff0c00"/>
<ellipse cx="43.2" cy="50.6" rx="4.6" ry="2.8" fill="#e35800"/>
<ellipse cx="85.9" cy="64.8" rx="13.8" ry="11.2" fill="#ff1100"/>
<ellipse cx="67.4" cy="44.8" rx="7.4" ry="6.2" fill="#e39600"/>
<ellipse cx="41.9" cy="79.8" rx="6.2" ry="3.1" fill="#ff0c00"/>
<ellipse cx="86.9" cy="85.8" rx="12.5" ry="4.4" fill="#ff0b00"/>
<ellipse cx="67.4" cy="93.3" rx="18.4" ry="2.8" fill="#c60a00"/>
<ellipse cx="92.4" cy="41.2" rx="5.6" ry="5.5" fill="#e3bc00"/>
</g>
<path d="M62.0,51.3 L63.7,53.1" fill="none" stroke="#ff1010" stroke-width="0.75" stroke-linejoin="round"/>
<path d="M64.3,61.9 L67.3,63.6" fill="none" stroke="#ff1010" stroke-width="0.75" stroke-linejoin="round"/>
<path d="M62.0,69.5 L70.2,69.5 L69.4,72.4 L62.7,72.4 Z" fill="none" stroke="#ff1010" stroke-width="0.75" stroke-linejoin="round"/>
<path d="M76.7,64.8 L79.0,63.6 L80.8,65.4 L83.1,66.6 L85.5,65.4 L86.6,64.2 L87.2,59.5" fill="none" stroke="#ff1010" stroke-width="0.75" stroke-linejoin="round"/>
<path d="M74.9,76.0 L76.7,73.0 L77.8,70.7 L80.8,71.9 L83.1,73.0 L81.9,76.0 Z" fill="none" stroke="#ff1010" stroke-width="0.75" stroke-linejoin="round"/>
<path d="M86.6,76.0 L93.7,76.0" fill="none" stroke="#ff1010" stroke-width="0.75" stroke-linejoin="round"/>
<path d="M84.3,88.3 L96.4,88.3" fill="none" stroke="#ff1010" stroke-width="0.75" stroke-linejoin="round"/>
<path d="M70.2,92.4 L79.6,92.4" fill="none" stroke="#ff1010" stroke-width="0.75" stroke-linejoin="round"/>
<path d="M58.9,47.8 L59.4,46.3" fill="none" stroke="#ff1010" stroke-width="0.75" stroke-linejoin="round"/>
<path d="M82.9,46.8 L83.9,45.8" fill="none" stroke="#ff1010" stroke-width="0.75" stroke-linejoin="round"/>
</svg>
<filter id="hfna" x="0" y="0" width="1" height="1" color-interpolation-filters="sRGB"><feGaussianBlur in="SourceGraphic" stdDeviation="1.2" edgeMode="duplicate" result="base"/><feTurbulence type="fractalNoise" baseFrequency="0.4 0.08" numOctaves="1" seed="19" result="turb"/><feColorMatrix in="turb" type="matrix" values="1 0 0 0 0 0 0 0 0 0 0 0 0 0 0 0 0 0 0 1" result="n0"/><feOffset in="n0" dx="0" dy="0" result="n"/><feColorMatrix in="base" type="matrix" values="0 1 0 0 0 0 0 0 0 0 0 0 0 0 0 0 0 0 0 1" result="m"/><feComposite in="n" in2="m" operator="arithmetic" k1="1.8" k2="0" k3="-0.900" k4="0.5" result="pert"/><feComposite in="base" in2="pert" operator="arithmetic" k1="0" k2="1" k3="1" k4="-0.5" result="sum"/><feColorMatrix in="sum" type="matrix" values="1 0 0 0 0 1 0 0 0 0 1 0 0 0 0 0 0 0 0 1" result="gray"/><feComponentTransfer in="gray"><feFuncR type="table" tableValues="0.243 0.263 0.278 0.263 0.243 0.200 0.153 0.090 0.031 0.110 0.192 0.349 0.506 0.682 0.863 0.925 0.988 0.984 0.976"/><feFuncG type="table" tableValues="0.149 0.216 0.278 0.357 0.435 0.514 0.592 0.651 0.710 0.741 0.776 0.788 0.800 0.769 0.741 0.776 0.812 0.898 0.984"/><feFuncB type="table" tableValues="0.659 0.792 0.922 0.961 1.000 0.961 0.922 0.871 0.816 0.722 0.624 0.486 0.349 0.255 0.161 0.173 0.188 0.122 0.055"/></feComponentTransfer></filter>
<svg x="49" y="302.7" width="96.30" height="96.30" viewBox="0 0 96.30 96.30" preserveAspectRatio="none" overflow="hidden">
<g filter="url(#hfna)">
<linearGradient id="gna0"><stop offset="0.000" stop-color="#93ff00"/><stop offset="0.053" stop-color="#8eff00"/><stop offset="0.105" stop-color="#79ff00"/><stop offset="0.158" stop-color="#6cff00"/><stop offset="0.211" stop-color="#71ff00"/><stop offset="0.263" stop-color="#84ff00"/><stop offset="0.316" stop-color="#95ff00"/><stop offset="0.368" stop-color="#92ff00"/><stop offset="0.421" stop-color="#73ff00"/><stop offset="0.474" stop-color="#74ff00"/><stop offset="0.526" stop-color="#a1ff00"/><stop offset="0.579" stop-color="#93ff00"/><stop offset="0.632" stop-color="#71ff00"/><stop offset="0.684" stop-color="#85ff00"/><stop offset="0.737" stop-color="#8aff00"/><stop offset="0.789" stop-color="#73ff00"/><stop offset="0.842" stop-color="#6eff00"/><stop offset="0.895" stop-color="#72ff00"/><stop offset="0.947" stop-color="#72ff00"/><stop offset="1.000" stop-color="#71ff00"/></linearGradient>
<rect x="0" y="0.00" width="96.30" height="4.51" fill="url(#gna0)"/>
<linearGradient id="gna1"><stop offset="0.000" stop-color="#8aff00"/><stop offset="0.053" stop-color="#85ff00"/><stop offset="0.105" stop-color="#75ff00"/><stop offset="0.158" stop-color="#6dff00"/><stop offset="0.211" stop-color="#74ff00"/><stop offset="0.263" stop-color="#84ff00"/><stop offset="0.316" stop-color="#91ff00"/><stop offset="0.368" stop-color="#8dff00"/><stop offset="0.421" stop-color="#7bff00"/><stop offset="0.474" stop-color="#87ff00"/><stop offset="0.526" stop-color="#b1ff00"/><stop offset="0.579" stop-color="#97ff00"/><stop offset="0.632" stop-color="#6eff00"/><stop offset="0.684" stop-color="#85ff00"/><stop offset="0.737" stop-color="#8aff00"/><stop offset="0.789" stop-color="#70ff00"/><stop offset="0.842" stop-color="#6dff00"/><stop offset="0.895" stop-color="#72ff00"/><stop offset="0.947" stop-color="#71ff00"/><stop offset="1.000" stop-color="#71ff00"/></linearGradient>
<rect x="0" y="4.01" width="96.30" height="4.51" fill="url(#gna1)"/>
<linearGradient id="gna2"><stop offset="0.000" stop-color="#78ff00"/><stop offset="0.053" stop-color="#77ff00"/><stop offset="0.105" stop-color="#71ff00"/><stop offset="0.158" stop-color="#6fff00"/><stop offset="0.211" stop-color="#75ff00"/><stop offset="0.263" stop-color="#85ff00"/><stop offset="0.316" stop-color="#8dff00"/><stop offset="0.368" stop-color="#8aff00"/><stop offset="0.421" stop-color="#8dff00"/><stop offset="0.474" stop-color="#a9ff00"/><stop offset="0.526" stop-color="#c8ff00"/><stop offset="0.579" stop-color="#9eff00"/><stop offset="0.632" stop-color="#6cff00"/><stop offset="0.684" stop-color="#84ff00"/><stop offset="0.737" stop-color="#8bff00"/><stop offset="0.789" stop-color="#6fff00"/><stop offset="0.842" stop-color="#6bff00"/><stop offset="0.895" stop-color="#72ff00"/><stop offset="0.947" stop-color="#71ff00"/><stop offset="1.000" stop-color="#70ff00"/></linearGradient>
<rect x="0" y="8.03" width="96.30" height="4.51" fill="url(#gna2)"/>
<linearGradient id="gna3"><stop offset="0.000" stop-color="#6dff00"/><stop offset="0.053" stop-color="#70ff00"/><stop offset="0.105" stop-color="#76ff00"/><stop offset="0.158" stop-color="#6eff00"/><stop offset="0.211" stop-color="#6aff00"/><stop offset="0.263" stop-color="#84ff00"/><stop offset="0.316" stop-color="#97ff00"/><stop offset="0.368" stop-color="#97ff00"/><stop offset="0.421" stop-color="#a1ff00"/><stop offset="0.474" stop-color="#b8ff00"/><stop offset="0.526" stop-color="#c4ff00"/><stop offset="0.579" stop-color="#9fff00"/><stop offset="0.632" stop-color="#77ff00"/><stop offset="0.684" stop-color="#83ff00"/><stop offset="0.737" stop-color="#89ff00"/><stop offset="0.789" stop-color="#7aff00"/><stop offset="0.842" stop-color="#73ff00"/><stop offset="0.895" stop-color="#73ff00"/><stop offset="0.947" stop-color="#72ff00"/><stop offset="1.000" stop-color="#72ff00"/></linearGradient>
<rect x="0" y="12.04" width="96.30" height="4.51" fill="url(#gna3)"/>
<linearGradient id="gna4"><stop offset="0.000" stop-color="#6cff00"/><stop offset="0.053" stop-color="#74ff00"/><stop offset="0.105" stop-color="#86ff00"/><stop offset="0.158" stop-color="#70ff00"/><stop offset="0.211" stop-color="#59ff00"/><stop offset="0.263" stop-color="#85ff00"/><stop offset="0.316" stop-color="#acff00"/><stop offset="0.368" stop-color="#abff00"/><stop offset="0.421" stop-color="#adff00"/><stop offset="0.474" stop-color="#adff00"/><stop offset="0.526" stop-color="#a3ff00"/><stop offset="0.579" stop-color="#96ff00"/><stop offset="0.632" stop-color="#89ff00"/><stop offset="0.684" stop-color="#7dff00"/><stop offset="0.737" stop-color="#81ff00"/><stop offset="0.789" stop-color="#8aff00"/><stop offset="0.842" stop-color="#7eff00"/><stop offset="0.895" stop-color="#71ff00"/><stop offset="0.947" stop-color="#73ff00"/><stop offset="1.000" stop-color="#74ff00"/></linearGradient>
<rect x="0" y="16.05" width="96.30" height="4.51" fill="url(#gna4)"/>
<linearGradient id="gna5"><stop offset="0.000" stop-color="#6bff00"/><stop offset="0.053" stop-color="#78ff00"/><stop offset="0.105" stop-color="#99ff00"/><stop offset="0.158" stop-color="#7cff00"/><stop offset="0.211" stop-color="#59ff00"/><stop offset="0.263" stop-color="#94ff00"/><stop offset="0.316" stop-color="#b8ff00"/><stop offset="0.368" stop-color="#a1ff00"/><stop offset="0.421" stop-color="#a2ff00"/><stop offset="0.474" stop-color="#a0ff00"/><stop offset="0.526" stop-color="#84ff00"/><stop offset="0.579" stop-color="#85ff00"/><stop offset="0.632" stop-color="#88ff00"/><stop offset="0.684" stop-color="#6aff00"/><stop offset="0.737" stop-color="#6eff00"/><stop offset="0.789" stop-color="#8aff00"/><stop offset="0.842" stop-color="#7bff00"/><stop offset="0.895" stop-color="#68ff00"/><stop offset="0.947" stop-color="#6cff00"/><stop offset="1.000" stop-color="#6fff00"/></linearGradient>
<rect x="0" y="20.06" width="96.30" height="4.51" fill="url(#gna5)"/>
<linearGradient id="gna6"><stop offset="0.000" stop-color="#68ff00"/><stop offset="0.053" stop-color="#79ff00"/><stop offset="0.105" stop-color="#a6ff00"/><stop offset="0.158" stop-color="#8fff00"/><stop offset="0.211" stop-color="#6aff00"/><stop offset="0.263" stop-color="#a0ff00"/><stop offset="0.316" stop-color="#afff00"/><stop offset="0.368" stop-color="#7fff00"/><stop offset="0.421" stop-color="#88ff00"/><stop offset="0.474" stop-color="#95ff00"/><stop offset="0.526" stop-color="#78ff00"/><stop offset="0.579" stop-color="#74ff00"/><stop offset="0.632" stop-color="#77ff00"/><stop offset="0.684" stop-color="#58ff00"/><stop offset="0.737" stop-color="#5cff00"/><stop offset="0.789" stop-color="#78ff00"/><stop offset="0.842" stop-color="#6aff00"/><stop offset="0.895" stop-color="#5bff00"/><stop offset="0.947" stop-color="#68ff00"/><stop offset="1.000" stop-color="#6dff00"/></linearGradient>
<rect x="0" y="24.08" width="96.30" height="4.51" fill="url(#gna6)"/>
<linearGradient id="gna7"><stop offset="0.000" stop-color="#6eff00"/><stop offset="0.053" stop-color="#7aff00"/><stop offset="0.105" stop-color="#a0ff00"/><stop offset="0.158" stop-color="#94ff00"/><stop offset="0.211" stop-color="#74ff00"/><stop offset="0.263" stop-color="#86ff00"/><stop offset="0.316" stop-color="#8cff00"/><stop offset="0.368" stop-color="#74ff00"/><stop offset="0.421" stop-color="#78ff00"/><stop offset="0.474" stop-color="#82ff00"/><stop offset="0.526" stop-color="#78ff00"/><stop offset="0.579" stop-color="#71ff00"/><stop offset="0.632" stop-color="#6dff00"/><stop offset="0.684" stop-color="#65ff00"/><stop offset="0.737" stop-color="#6aff00"/><stop offset="0.789" stop-color="#6fff00"/><stop offset="0.842" stop-color="#58ff00"/><stop offset="0.895" stop-color="#57ff00"/><stop offset="0.947" stop-color="#7bff00"/><stop offset="1.000" stop-color="#86ff00"/></linearGradient>
<rect x="0" y="28.09" width="96.30" height="4.51" fill="url(#gna7)"/>
<linearGradient id="gna8"><stop offset="0.000" stop-color="#80ff00"/><stop offset="0.053" stop-color="#84ff00"/><stop offset="0.105" stop-color="#90ff00"/><stop offset="0.158" stop-color="#8cff00"/><stop offset="0.211" stop-color="#71ff00"/><stop offset="0.263" stop-color="#51ff00"/><stop offset="0.316" stop-color="#5cff00"/><stop offset="0.368" stop-color="#84ff00"/><stop offset="0.421" stop-color="#7dff00"/><stop offset="0.474" stop-color="#6eff00"/><stop offset="0.526" stop-color="#77ff00"/><stop offset="0.579" stop-color="#74ff00"/><stop offset="0.632" stop-color="#71ff00"/><stop offset="0.684" stop-color="#84ff00"/><stop offset="0.737" stop-color="#89ff00"/><stop offset="0.789" stop-color="#72ff00"/><stop offset="0.842" stop-color="#50ff00"/><stop offset="0.895" stop-color="#5fff00"/><stop offset="0.947" stop-color="#9aff00"/><stop offset="1.000" stop-color="#acff00"/></linearGradient>
<rect x="0" y="32.10" width="96.30" height="4.51" fill="url(#gna8)"/>
<linearGradient id="gna9"><stop offset="0.000" stop-color="#9eda00"/><stop offset="0.053" stop-color="#9dda00"/><stop offset="0.105" stop-color="#95da00"/><stop offset="0.158" stop-color="#8cda00"/><stop offset="0.211" stop-color="#70da00"/><stop offset="0.263" stop-color="#3ada00"/><stop offset="0.316" stop-color="#44da00"/><stop offset="0.368" stop-color="#88da00"/><stop offset="0.421" stop-color="#93da00"/><stop offset="0.474" stop-color="#76da00"/><stop offset="0.526" stop-color="#62da00"/><stop offset="0.579" stop-color="#64da00"/><stop offset="0.632" stop-color="#73da00"/><stop offset="0.684" stop-color="#7dda00"/><stop offset="0.737" stop-color="#7eda00"/><stop offset="0.789" stop-color="#72da00"/><stop offset="0.842" stop-color="#5bda00"/><stop offset="0.895" stop-color="#6ada00"/><stop offset="0.947" stop-color="#9cda00"/><stop offset="1.000" stop-color="#abda00"/></linearGradient>
<rect x="0" y="36.11" width="96.30" height="4.51" fill="url(#gna9)"/>
<linearGradient id="gna10"><stop offset="0.000" stop-color="#bfb000"/><stop offset="0.053" stop-color="#bcb000"/><stop offset="0.105" stop-color="#adb000"/><stop offset="0.158" stop-color="#94b000"/><stop offset="0.211" stop-color="#72b000"/><stop offset="0.263" stop-color="#4db000"/><stop offset="0.316" stop-color="#4bb000"/><stop offset="0.368" stop-color="#76b000"/><stop offset="0.421" stop-color="#a5b000"/><stop offset="0.474" stop-color="#92b000"/><stop offset="0.526" stop-color="#47b000"/><stop offset="0.579" stop-color="#4cb000"/><stop offset="0.632" stop-color="#70b000"/><stop offset="0.684" stop-color="#54b000"/><stop offset="0.737" stop-color="#50b000"/><stop offset="0.789" stop-color="#6eb000"/><stop offset="0.842" stop-color="#71b000"/><stop offset="0.895" stop-color="#70b000"/><stop offset="0.947" stop-color="#7fb000"/><stop offset="1.000" stop-color="#84b000"/></linearGradient>
<rect x="0" y="40.12" width="96.30" height="4.51" fill="url(#gna10)"/>
<linearGradient id="gna11"><stop offset="0.000" stop-color="#c98500"/><stop offset="0.053" stop-color="#c68500"/><stop offset="0.105" stop-color="#b38500"/><stop offset="0.158" stop-color="#8e8500"/><stop offset="0.211" stop-color="#6b8500"/><stop offset="0.263" stop-color="#648500"/><stop offset="0.316" stop-color="#5f8500"/><stop offset="0.368" stop-color="#638500"/><stop offset="0.421" stop-color="#958500"/><stop offset="0.474" stop-color="#988500"/><stop offset="0.526" stop-color="#528500"/><stop offset="0.579" stop-color="#588500"/><stop offset="0.632" stop-color="#758500"/><stop offset="0.684" stop-color="#488500"/><stop offset="0.737" stop-color="#458500"/><stop offset="0.789" stop-color="#768500"/><stop offset="0.842" stop-color="#7a8500"/><stop offset="0.895" stop-color="#6c8500"/><stop offset="0.947" stop-color="#698500"/><stop offset="1.000" stop-color="#698500"/></linearGradient>
<rect x="0" y="44.14" width="96.30" height="4.51" fill="url(#gna11)"/>
<linearGradient id="gna12"><stop offset="0.000" stop-color="#ba5b00"/><stop offset="0.053" stop-color="#b65b00"/><stop offset="0.105" stop-color="#a35b00"/><stop offset="0.158" stop-color="#795b00"/><stop offset="0.211" stop-color="#5c5b00"/><stop offset="0.263" stop-color="#6c5b00"/><stop offset="0.316" stop-color="#6d5b00"/><stop offset="0.368" stop-color="#595b00"/><stop offset="0.421" stop-color="#6c5b00"/><stop offset="0.474" stop-color="#825b00"/><stop offset="0.526" stop-color="#7c5b00"/><stop offset="0.579" stop-color="#835b00"/><stop offset="0.632" stop-color="#835b00"/><stop offset="0.684" stop-color="#635b00"/><stop offset="0.737" stop-color="#695b00"/><stop offset="0.789" stop-color="#875b00"/><stop offset="0.842" stop-color="#725b00"/><stop offset="0.895" stop-color="#5d5b00"/><stop offset="0.947" stop-color="#695b00"/><stop offset="1.000" stop-color="#6e5b00"/></linearGradient>
<rect x="0" y="48.15" width="96.30" height="4.51" fill="url(#gna12)"/>
<linearGradient id="gna13"><stop offset="0.000" stop-color="#9a3000"/><stop offset="0.053" stop-color="#9b3000"/><stop offset="0.105" stop-color="#943000"/><stop offset="0.158" stop-color="#713000"/><stop offset="0.211" stop-color="#503000"/><stop offset="0.263" stop-color="#603000"/><stop offset="0.316" stop-color="#673000"/><stop offset="0.368" stop-color="#563000"/><stop offset="0.421" stop-color="#5d3000"/><stop offset="0.474" stop-color="#753000"/><stop offset="0.526" stop-color="#8c3000"/><stop offset="0.579" stop-color="#983000"/><stop offset="0.632" stop-color="#923000"/><stop offset="0.684" stop-color="#803000"/><stop offset="0.737" stop-color="#893000"/><stop offset="0.789" stop-color="#933000"/><stop offset="0.842" stop-color="#623000"/><stop offset="0.895" stop-color="#4c3000"/><stop offset="0.947" stop-color="#713000"/><stop offset="1.000" stop-color="#7e3000"/></linearGradient>
<rect x="0" y="52.16" width="96.30" height="4.51" fill="url(#gna13)"/>
<linearGradient id="gna14"><stop offset="0.000" stop-color="#7a1b00"/><stop offset="0.053" stop-color="#801b00"/><stop offset="0.105" stop-color="#901b00"/><stop offset="0.158" stop-color="#781b00"/><stop offset="0.211" stop-color="#501b00"/><stop offset="0.263" stop-color="#501b00"/><stop offset="0.316" stop-color="#5a1b00"/><stop offset="0.368" stop-color="#611b00"/><stop offset="0.421" stop-color="#751b00"/><stop offset="0.474" stop-color="#7f1b00"/><stop offset="0.526" stop-color="#791b00"/><stop offset="0.579" stop-color="#8e1b00"/><stop offset="0.632" stop-color="#a21b00"/><stop offset="0.684" stop-color="#8f1b00"/><stop offset="0.737" stop-color="#911b00"/><stop offset="0.789" stop-color="#931b00"/><stop offset="0.842" stop-color="#551b00"/><stop offset="0.895" stop-color="#3e1b00"/><stop offset="0.947" stop-color="#711b00"/><stop offset="1.000" stop-color="#821b00"/></linearGradient>
<rect x="0" y="56.18" width="96.30" height="4.51" fill="url(#gna14)"/>
<linearGradient id="gna15"><stop offset="0.000" stop-color="#651500"/><stop offset="0.053" stop-color="#6e1500"/><stop offset="0.105" stop-color="#891500"/><stop offset="0.158" stop-color="#7d1500"/><stop offset="0.211" stop-color="#5a1500"/><stop offset="0.263" stop-color="#561500"/><stop offset="0.316" stop-color="#671500"/><stop offset="0.368" stop-color="#821500"/><stop offset="0.421" stop-color="#9d1500"/><stop offset="0.474" stop-color="#931500"/><stop offset="0.526" stop-color="#701500"/><stop offset="0.579" stop-color="#8c1500"/><stop offset="0.632" stop-color="#b61500"/><stop offset="0.684" stop-color="#9e1500"/><stop offset="0.737" stop-color="#8f1500"/><stop offset="0.789" stop-color="#891500"/><stop offset="0.842" stop-color="#561500"/><stop offset="0.895" stop-color="#3d1500"/><stop offset="0.947" stop-color="#5c1500"/><stop offset="1.000" stop-color="#671500"/></linearGradient>
<rect x="0" y="60.19" width="96.30" height="4.51" fill="url(#gna15)"/>
<linearGradient id="gna16"><stop offset="0.000" stop-color="#5a0f00"/><stop offset="0.053" stop-color="#610f00"/><stop offset="0.105" stop-color="#780f00"/><stop offset="0.158" stop-color="#790f00"/><stop offset="0.211" stop-color="#6b0f00"/><stop offset="0.263" stop-color="#720f00"/><stop offset="0.316" stop-color="#8e0f00"/><stop offset="0.368" stop-color="#b10f00"/><stop offset="0.421" stop-color="#c30f00"/><stop offset="0.474" stop-color="#ac0f00"/><stop offset="0.526" stop-color="#800f00"/><stop offset="0.579" stop-color="#9c0f00"/><stop offset="0.632" stop-color="#c70f00"/><stop offset="0.684" stop-color="#a80f00"/><stop offset="0.737" stop-color="#870f00"/><stop offset="0.789" stop-color="#7a0f00"/><stop offset="0.842" stop-color="#600f00"/><stop offset="0.895" stop-color="#470f00"/><stop offset="0.947" stop-color="#3f0f00"/><stop offset="1.000" stop-color="#3e0f00"/></linearGradient>
<rect x="0" y="64.20" width="96.30" height="4.51" fill="url(#gna16)"/>
<linearGradient id="gna17"><stop offset="0.000" stop-color="#470d00"/><stop offset="0.053" stop-color="#4c0d00"/><stop offset="0.105" stop-color="#5d0d00"/><stop offset="0.158" stop-color="#6c0d00"/><stop offset="0.211" stop-color="#760d00"/><stop offset="0.263" stop-color="#860d00"/><stop offset="0.316" stop-color="#a60d00"/><stop offset="0.368" stop-color="#cc0d00"/><stop offset="0.421" stop-color="#df0d00"/><stop offset="0.474" stop-color="#ca0d00"/><stop offset="0.526" stop-color="#a20d00"/><stop offset="0.579" stop-color="#ac0d00"/><stop offset="0.632" stop-color="#be0d00"/><stop offset="0.684" stop-color="#960d00"/><stop offset="0.737" stop-color="#730d00"/><stop offset="0.789" stop-color="#6a0d00"/><stop offset="0.842" stop-color="#600d00"/><stop offset="0.895" stop-color="#510d00"/><stop offset="0.947" stop-color="#420d00"/><stop offset="1.000" stop-color="#3f0d00"/></linearGradient>
<rect x="0" y="68.21" width="96.30" height="4.51" fill="url(#gna17)"/>
<linearGradient id="gna18"><stop offset="0.000" stop-color="#2a0c00"/><stop offset="0.053" stop-color="#2d0c00"/><stop offset="0.105" stop-color="#3d0c00"/><stop offset="0.158" stop-color="#5a0c00"/><stop offset="0.211" stop-color="#760c00"/><stop offset="0.263" stop-color="#880c00"/><stop offset="0.316" stop-color="#a30c00"/><stop offset="0.368" stop-color="#cb0c00"/><stop offset="0.421" stop-color="#e60c00"/><stop offset="0.474" stop-color="#e10c00"/><stop offset="0.526" stop-color="#c30c00"/><stop offset="0.579" stop-color="#b70c00"/><stop offset="0.632" stop-color="#a80c00"/><stop offset="0.684" stop-color="#7c0c00"/><stop offset="0.737" stop-color="#650c00"/><stop offset="0.789" stop-color="#670c00"/><stop offset="0.842" stop-color="#5a0c00"/><stop offset="0.895" stop-color="#550c00"/><stop offset="0.947" stop-color="#620c00"/><stop offset="1.000" stop-color="#660c00"/></linearGradient>
<rect x="0" y="72.23" width="96.30" height="4.51" fill="url(#gna18)"/>
<linearGradient id="gna19"><stop offset="0.000" stop-color="#0e0c00"/><stop offset="0.053" stop-color="#110c00"/><stop offset="0.105" stop-color="#210c00"/><stop offset="0.158" stop-color="#460c00"/><stop offset="0.211" stop-color="#6c0c00"/><stop offset="0.263" stop-color="#7c0c00"/><stop offset="0.316" stop-color="#930c00"/><stop offset="0.368" stop-color="#b60c00"/><stop offset="0.421" stop-color="#cd0c00"/><stop offset="0.474" stop-color="#d40c00"/><stop offset="0.526" stop-color="#cd0c00"/><stop offset="0.579" stop-color="#c30c00"/><stop offset="0.632" stop-color="#af0c00"/><stop offset="0.684" stop-color="#910c00"/><stop offset="0.737" stop-color="#880c00"/><stop offset="0.789" stop-color="#870c00"/><stop offset="0.842" stop-color="#690c00"/><stop offset="0.895" stop-color="#5b0c00"/><stop offset="0.947" stop-color="#700c00"/><stop offset="1.000" stop-color="#770c00"/></linearGradient>
<rect x="0" y="76.24" width="96.30" height="4.51" fill="url(#gna19)"/>
<linearGradient id="gna20"><stop offset="0.000" stop-color="#000b00"/><stop offset="0.053" stop-color="#020b00"/><stop offset="0.105" stop-color="#120b00"/><stop offset="0.158" stop-color="#360b00"/><stop offset="0.211" stop-color="#5c0b00"/><stop offset="0.263" stop-color="#6e0b00"/><stop offset="0.316" stop-color="#810b00"/><stop offset="0.368" stop-color="#9a0b00"/><stop offset="0.421" stop-color="#a00b00"/><stop offset="0.474" stop-color="#a90b00"/><stop offset="0.526" stop-color="#c20b00"/><stop offset="0.579" stop-color="#d30b00"/><stop offset="0.632" stop-color="#d40b00"/><stop offset="0.684" stop-color="#ce0b00"/><stop offset="0.737" stop-color="#c90b00"/><stop offset="0.789" stop-color="#b90b00"/><stop offset="0.842" stop-color="#870b00"/><stop offset="0.895" stop-color="#620b00"/><stop offset="0.947" stop-color="#610b00"/><stop offset="1.000" stop-color="#630b00"/></linearGradient>
<rect x="0" y="80.25" width="96.30" height="4.51" fill="url(#gna20)"/>
<linearGradient id="gna21"><stop offset="0.000" stop-color="#030b00"/><stop offset="0.053" stop-color="#060b00"/><stop offset="0.105" stop-color="#170b00"/><stop offset="0.158" stop-color="#350b00"/><stop offset="0.211" stop-color="#530b00"/><stop offset="0.263" stop-color="#660b00"/><stop offset="0.316" stop-color="#770b00"/><stop offset="0.368" stop-color="#830b00"/><stop offset="0.421" stop-color="#7b0b00"/><stop offset="0.474" stop-color="#870b00"/><stop offset="0.526" stop-color="#b70b00"/><stop offset="0.579" stop-color="#dc0b00"/><stop offset="0.632" stop-color="#ea0b00"/><stop offset="0.684" stop-color="#eb0b00"/><stop offset="0.737" stop-color="#e30b00"/><stop offset="0.789" stop-color="#ca0b00"/><stop offset="0.842" stop-color="#960b00"/><stop offset="0.895" stop-color="#650b00"/><stop offset="0.947" stop-color="#4d0b00"/><stop offset="1.000" stop-color="#480b00"/></linearGradient>
<rect x="0" y="84.26" width="96.30" height="4.51" fill="url(#gna21)"/>
<linearGradient id="gna22"><stop offset="0.000" stop-color="#130b00"/><stop offset="0.053" stop-color="#180b00"/><stop offset="0.105" stop-color="#290b00"/><stop offset="0.158" stop-color="#3f0b00"/><stop offset="0.211" stop-color="#540b00"/><stop offset="0.263" stop-color="#680b00"/><stop offset="0.316" stop-color="#750b00"/><stop offset="0.368" stop-color="#760b00"/><stop offset="0.421" stop-color="#6c0b00"/><stop offset="0.474" stop-color="#7e0b00"/><stop offset="0.526" stop-color="#b60b00"/><stop offset="0.579" stop-color="#de0b00"/><stop offset="0.632" stop-color="#e60b00"/><stop offset="0.684" stop-color="#da0b00"/><stop offset="0.737" stop-color="#cb0b00"/><stop offset="0.789" stop-color="#b60b00"/><stop offset="0.842" stop-color="#8f0b00"/><stop offset="0.895" stop-color="#620b00"/><stop offset="0.947" stop-color="#400b00"/><stop offset="1.000" stop-color="#380b00"/></linearGradient>
<rect x="0" y="88.28" width="96.30" height="4.51" fill="url(#gna22)"/>
<linearGradient id="gna23"><stop offset="0.000" stop-color="#1d0a00"/><stop offset="0.053" stop-color="#220a00"/><stop offset="0.105" stop-color="#340a00"/><stop offset="0.158" stop-color="#460a00"/><stop offset="0.211" stop-color="#560a00"/><stop offset="0.263" stop-color="#6a0a00"/><stop offset="0.316" stop-color="#750a00"/><stop offset="0.368" stop-color="#710a00"/><stop offset="0.421" stop-color="#680a00"/><stop offset="0.474" stop-color="#7d0a00"/><stop offset="0.526" stop-color="#b70a00"/><stop offset="0.579" stop-color="#de0a00"/><stop offset="0.632" stop-color="#e00a00"/><stop offset="0.684" stop-color="#cb0a00"/><stop offset="0.737" stop-color="#b70a00"/><stop offset="0.789" stop-color="#a60a00"/><stop offset="0.842" stop-color="#890a00"/><stop offset="0.895" stop-color="#600a00"/><stop offset="0.947" stop-color="#3c0a00"/><stop offset="1.000" stop-color="#330a00"/></linearGradient>
<rect x="0" y="92.29" width="96.30" height="4.51" fill="url(#gna23)"/>
<ellipse cx="36.3" cy="71.1" rx="7.5" ry="6.5" fill="#f10c00"/>
<ellipse cx="63.0" cy="85.3" rx="12.0" ry="5.5" fill="#e80b00"/>
<ellipse cx="5.0" cy="41.6" rx="5.0" ry="4.3" fill="#d4b600"/>
<ellipse cx="59.5" cy="65.8" rx="4.5" ry="5.0" fill="#d40f00"/>
<ellipse cx="9.0" cy="62.8" rx="6.0" ry="2.5" fill="#b81400"/>
<ellipse cx="46.0" cy="63.3" rx="4.0" ry="2.5" fill="#8e1300"/>
<ellipse cx="33.7" cy="50.1" rx="5.0" ry="4.0" fill="#175c00"/>
<ellipse cx="14.3" cy="55.1" rx="4.3" ry="4.2" fill="#392700"/>
<ellipse cx="20.3" cy="63.5" rx="3.5" ry="2.5" fill="#471300"/>
<ellipse cx="70.8" cy="41.6" rx="3.5" ry="4.3" fill="#1cb600"/>
<ellipse cx="56.5" cy="40.8" rx="2.5" ry="3.5" fill="#1cbe00"/>
<ellipse cx="29.3" cy="36.5" rx="4.3" ry="4.2" fill="#22ec00"/>
<ellipse cx="89.3" cy="66.1" rx="7.0" ry="5.0" fill="#220f00"/>
<ellipse cx="47.3" cy="53.3" rx="3.5" ry="2.5" fill="#473a00"/>
<ellipse cx="7.0" cy="83.3" rx="7.0" ry="9.0" fill="#000b00"/>
</g>
<path d="M0.0,49.5 L2.3,52.6" fill="none" stroke="#111" stroke-width="0.75" stroke-linejoin="round"/>
<path d="M5.5,59.7 L7.0,62.0 L10.9,62.0 L14.9,63.6 L15.6,65.4 L7.8,65.4 L5.5,62.8 Z" fill="none" stroke="#111" stroke-width="0.75" stroke-linejoin="round"/>
<path d="M25.8,74.5 L31.3,73.7 L34.4,75.3 L36.7,73.7 L38.8,74.5 L37.5,77.6 L32.8,78.4 L30.5,76.9 L26.6,76.1 Z" fill="none" stroke="#111" stroke-width="0.75" stroke-linejoin="round"/>
<path d="M48.5,47.9 L49.5,50.3 L50.0,52.6" fill="none" stroke="#111" stroke-width="0.75" stroke-linejoin="round"/>
<path d="M52.0,48.3 L57.0,48.3 L57.5,52.6" fill="none" stroke="#111" stroke-width="0.75" stroke-linejoin="round"/>
<path d="M55.0,50.3 L59.4,51.3" fill="none" stroke="#111" stroke-width="0.75" stroke-linejoin="round"/>
<path d="M55.5,61.2 L57.1,60.4 L59.4,63.6 L61.8,65.9 L64.4,69.0 L61.0,70.6 L55.5,71.4 L54.7,68.3 L56.3,65.1 Z" fill="none" stroke="#111" stroke-width="0.75" stroke-linejoin="round"/>
<path d="M72.5,55.8 L76.5,55.8 L78.2,58.8 L76.5,62.0 L72.5,62.0 L71.1,58.8 Z" fill="none" stroke="#111" stroke-width="0.75" stroke-linejoin="round"/>
<path d="M71.9,49.5 L72.7,52.6" fill="none" stroke="#111" stroke-width="0.75" stroke-linejoin="round"/>
<path d="M54.7,80.8 L65.7,80.8 L69.6,82.6 L75.8,82.6 L75.0,85.5 L71.9,87.0 L65.7,87.3 L61.8,88.6 L59.4,90.2 L58.6,92.5 L48.5,92.5 L49.2,90.2 L53.9,88.6 L58.6,87.8 L60.2,85.5 L54.7,83.1 Z" fill="none" stroke="#111" stroke-width="0.75" stroke-linejoin="round"/>
</svg>
<filter id="hfnp" x="0" y="0" width="1" height="1" color-interpolation-filters="sRGB"><feGaussianBlur in="SourceGraphic" stdDeviation="1.2" edgeMode="duplicate" result="base"/><feTurbulence type="fractalNoise" baseFrequency="0.4 0.08" numOctaves="1" seed="23" result="turb"/><feColorMatrix in="turb" type="matrix" values="1 0 0 0 0 0 0 0 0 0 0 0 0 0 0 0 0 0 0 1" result="n0"/><feOffset in="n0" dx="0" dy="0" result="n"/><feColorMatrix in="base" type="matrix" values="0 1 0 0 0 0 0 0 0 0 0 0 0 0 0 0 0 0 0 1" result="m"/><feComposite in="n" in2="m" operator="arithmetic" k1="1.8" k2="0" k3="-0.900" k4="0.5" result="pert"/><feComposite in="base" in2="pert" operator="arithmetic" k1="0" k2="1" k3="1" k4="-0.5" result="sum"/><feColorMatrix in="sum" type="matrix" values="1 0 0 0 0 1 0 0 0 0 1 0 0 0 0 0 0 0 0 1" result="gray"/><feComponentTransfer in="gray"><feFuncR type="table" tableValues="0.243 0.263 0.278 0.263 0.243 0.200 0.153 0.090 0.031 0.110 0.192 0.349 0.506 0.682 0.863 0.925 0.988 0.984 0.976"/><feFuncG type="table" tableValues="0.149 0.216 0.278 0.357 0.435 0.514 0.592 0.651 0.710 0.741 0.776 0.788 0.800 0.769 0.741 0.776 0.812 0.898 0.984"/><feFuncB type="table" tableValues="0.659 0.792 0.922 0.961 1.000 0.961 0.922 0.871 0.816 0.722 0.624 0.486 0.349 0.255 0.161 0.173 0.188 0.122 0.055"/></feComponentTransfer></filter>
<svg x="175.3" y="302.7" width="96.30" height="96.30" viewBox="0 0 96.30 96.30" preserveAspectRatio="none" overflow="hidden">
<g filter="url(#hfnp)">
<linearGradient id="gnp0"><stop offset="0.000" stop-color="#98ff00"/><stop offset="0.053" stop-color="#8fff00"/><stop offset="0.105" stop-color="#75ff00"/><stop offset="0.158" stop-color="#7cff00"/><stop offset="0.211" stop-color="#8dff00"/><stop offset="0.263" stop-color="#7aff00"/><stop offset="0.316" stop-color="#72ff00"/><stop offset="0.368" stop-color="#8aff00"/><stop offset="0.421" stop-color="#a5ff00"/><stop offset="0.474" stop-color="#aaff00"/><stop offset="0.526" stop-color="#93ff00"/><stop offset="0.579" stop-color="#7cff00"/><stop offset="0.632" stop-color="#6eff00"/><stop offset="0.684" stop-color="#6cff00"/><stop offset="0.737" stop-color="#7bff00"/><stop offset="0.789" stop-color="#8eff00"/><stop offset="0.842" stop-color="#94ff00"/><stop offset="0.895" stop-color="#89ff00"/><stop offset="0.947" stop-color="#77ff00"/><stop offset="1.000" stop-color="#72ff00"/></linearGradient>
<rect x="0" y="0.00" width="96.30" height="4.51" fill="url(#gnp0)"/>
<linearGradient id="gnp1"><stop offset="0.000" stop-color="#84ff00"/><stop offset="0.053" stop-color="#7eff00"/><stop offset="0.105" stop-color="#6fff00"/><stop offset="0.158" stop-color="#7cff00"/><stop offset="0.211" stop-color="#8fff00"/><stop offset="0.263" stop-color="#7dff00"/><stop offset="0.316" stop-color="#74ff00"/><stop offset="0.368" stop-color="#8aff00"/><stop offset="0.421" stop-color="#a0ff00"/><stop offset="0.474" stop-color="#a5ff00"/><stop offset="0.526" stop-color="#98ff00"/><stop offset="0.579" stop-color="#85ff00"/><stop offset="0.632" stop-color="#75ff00"/><stop offset="0.684" stop-color="#70ff00"/><stop offset="0.737" stop-color="#79ff00"/><stop offset="0.789" stop-color="#8bff00"/><stop offset="0.842" stop-color="#91ff00"/><stop offset="0.895" stop-color="#84ff00"/><stop offset="0.947" stop-color="#6dff00"/><stop offset="1.000" stop-color="#66ff00"/></linearGradient>
<rect x="0" y="4.01" width="96.30" height="4.51" fill="url(#gnp1)"/>
<linearGradient id="gnp2"><stop offset="0.000" stop-color="#60ff00"/><stop offset="0.053" stop-color="#61ff00"/><stop offset="0.105" stop-color="#67ff00"/><stop offset="0.158" stop-color="#7fff00"/><stop offset="0.211" stop-color="#8fff00"/><stop offset="0.263" stop-color="#7dff00"/><stop offset="0.316" stop-color="#77ff00"/><stop offset="0.368" stop-color="#8bff00"/><stop offset="0.421" stop-color="#96ff00"/><stop offset="0.474" stop-color="#98ff00"/><stop offset="0.526" stop-color="#97ff00"/><stop offset="0.579" stop-color="#91ff00"/><stop offset="0.632" stop-color="#85ff00"/><stop offset="0.684" stop-color="#75ff00"/><stop offset="0.737" stop-color="#77ff00"/><stop offset="0.789" stop-color="#89ff00"/><stop offset="0.842" stop-color="#92ff00"/><stop offset="0.895" stop-color="#80ff00"/><stop offset="0.947" stop-color="#5dff00"/><stop offset="1.000" stop-color="#53ff00"/></linearGradient>
<rect x="0" y="8.03" width="96.30" height="4.51" fill="url(#gnp2)"/>
<linearGradient id="gnp3"><stop offset="0.000" stop-color="#4fff00"/><stop offset="0.053" stop-color="#55ff00"/><stop offset="0.105" stop-color="#6eff00"/><stop offset="0.158" stop-color="#86ff00"/><stop offset="0.211" stop-color="#89ff00"/><stop offset="0.263" stop-color="#70ff00"/><stop offset="0.316" stop-color="#70ff00"/><stop offset="0.368" stop-color="#8cff00"/><stop offset="0.421" stop-color="#8eff00"/><stop offset="0.474" stop-color="#7fff00"/><stop offset="0.526" stop-color="#7aff00"/><stop offset="0.579" stop-color="#8aff00"/><stop offset="0.632" stop-color="#91ff00"/><stop offset="0.684" stop-color="#75ff00"/><stop offset="0.737" stop-color="#76ff00"/><stop offset="0.789" stop-color="#96ff00"/><stop offset="0.842" stop-color="#a0ff00"/><stop offset="0.895" stop-color="#87ff00"/><stop offset="0.947" stop-color="#5eff00"/><stop offset="1.000" stop-color="#53ff00"/></linearGradient>
<rect x="0" y="12.04" width="96.30" height="4.51" fill="url(#gnp3)"/>
<linearGradient id="gnp4"><stop offset="0.000" stop-color="#5dff00"/><stop offset="0.053" stop-color="#65ff00"/><stop offset="0.105" stop-color="#81ff00"/><stop offset="0.158" stop-color="#8cff00"/><stop offset="0.211" stop-color="#7aff00"/><stop offset="0.263" stop-color="#5bff00"/><stop offset="0.316" stop-color="#65ff00"/><stop offset="0.368" stop-color="#8cff00"/><stop offset="0.421" stop-color="#89ff00"/><stop offset="0.474" stop-color="#68ff00"/><stop offset="0.526" stop-color="#55ff00"/><stop offset="0.579" stop-color="#75ff00"/><stop offset="0.632" stop-color="#92ff00"/><stop offset="0.684" stop-color="#74ff00"/><stop offset="0.737" stop-color="#79ff00"/><stop offset="0.789" stop-color="#a8ff00"/><stop offset="0.842" stop-color="#b4ff00"/><stop offset="0.895" stop-color="#97ff00"/><stop offset="0.947" stop-color="#6fff00"/><stop offset="1.000" stop-color="#65ff00"/></linearGradient>
<rect x="0" y="16.05" width="96.30" height="4.51" fill="url(#gnp4)"/>
<linearGradient id="gnp5"><stop offset="0.000" stop-color="#83ff00"/><stop offset="0.053" stop-color="#87ff00"/><stop offset="0.105" stop-color="#8fff00"/><stop offset="0.158" stop-color="#83ff00"/><stop offset="0.211" stop-color="#66ff00"/><stop offset="0.263" stop-color="#54ff00"/><stop offset="0.316" stop-color="#66ff00"/><stop offset="0.368" stop-color="#89ff00"/><stop offset="0.421" stop-color="#88ff00"/><stop offset="0.474" stop-color="#70ff00"/><stop offset="0.526" stop-color="#61ff00"/><stop offset="0.579" stop-color="#73ff00"/><stop offset="0.632" stop-color="#86ff00"/><stop offset="0.684" stop-color="#7eff00"/><stop offset="0.737" stop-color="#84ff00"/><stop offset="0.789" stop-color="#a0ff00"/><stop offset="0.842" stop-color="#afff00"/><stop offset="0.895" stop-color="#9eff00"/><stop offset="0.947" stop-color="#79ff00"/><stop offset="1.000" stop-color="#6fff00"/></linearGradient>
<rect x="0" y="20.06" width="96.30" height="4.51" fill="url(#gnp5)"/>
<linearGradient id="gnp6"><stop offset="0.000" stop-color="#b3ff00"/><stop offset="0.053" stop-color="#aeff00"/><stop offset="0.105" stop-color="#97ff00"/><stop offset="0.158" stop-color="#72ff00"/><stop offset="0.211" stop-color="#57ff00"/><stop offset="0.263" stop-color="#5eff00"/><stop offset="0.316" stop-color="#71ff00"/><stop offset="0.368" stop-color="#7eff00"/><stop offset="0.421" stop-color="#84ff00"/><stop offset="0.474" stop-color="#8eff00"/><stop offset="0.526" stop-color="#99ff00"/><stop offset="0.579" stop-color="#84ff00"/><stop offset="0.632" stop-color="#76ff00"/><stop offset="0.684" stop-color="#93ff00"/><stop offset="0.737" stop-color="#96ff00"/><stop offset="0.789" stop-color="#80ff00"/><stop offset="0.842" stop-color="#90ff00"/><stop offset="0.895" stop-color="#94ff00"/><stop offset="0.947" stop-color="#77ff00"/><stop offset="1.000" stop-color="#6dff00"/></linearGradient>
<rect x="0" y="24.08" width="96.30" height="4.51" fill="url(#gnp6)"/>
<linearGradient id="gnp7"><stop offset="0.000" stop-color="#deff00"/><stop offset="0.053" stop-color="#d5ff00"/><stop offset="0.105" stop-color="#acff00"/><stop offset="0.158" stop-color="#76ff00"/><stop offset="0.211" stop-color="#59ff00"/><stop offset="0.263" stop-color="#6dff00"/><stop offset="0.316" stop-color="#73ff00"/><stop offset="0.368" stop-color="#60ff00"/><stop offset="0.421" stop-color="#6dff00"/><stop offset="0.474" stop-color="#97ff00"/><stop offset="0.526" stop-color="#b2ff00"/><stop offset="0.579" stop-color="#8fff00"/><stop offset="0.632" stop-color="#75ff00"/><stop offset="0.684" stop-color="#a7ff00"/><stop offset="0.737" stop-color="#a3ff00"/><stop offset="0.789" stop-color="#6bff00"/><stop offset="0.842" stop-color="#73ff00"/><stop offset="0.895" stop-color="#84ff00"/><stop offset="0.947" stop-color="#75ff00"/><stop offset="1.000" stop-color="#70ff00"/></linearGradient>
<rect x="0" y="28.09" width="96.30" height="4.51" fill="url(#gnp7)"/>
<linearGradient id="gnp8"><stop offset="0.000" stop-color="#fbff00"/><stop offset="0.053" stop-color="#f2ff00"/><stop offset="0.105" stop-color="#ccff00"/><stop offset="0.158" stop-color="#90ff00"/><stop offset="0.211" stop-color="#69ff00"/><stop offset="0.263" stop-color="#75ff00"/><stop offset="0.316" stop-color="#68ff00"/><stop offset="0.368" stop-color="#3fff00"/><stop offset="0.421" stop-color="#52ff00"/><stop offset="0.474" stop-color="#85ff00"/><stop offset="0.526" stop-color="#9eff00"/><stop offset="0.579" stop-color="#87ff00"/><stop offset="0.632" stop-color="#7bff00"/><stop offset="0.684" stop-color="#a9ff00"/><stop offset="0.737" stop-color="#a5ff00"/><stop offset="0.789" stop-color="#6dff00"/><stop offset="0.842" stop-color="#5fff00"/><stop offset="0.895" stop-color="#6bff00"/><stop offset="0.947" stop-color="#74ff00"/><stop offset="1.000" stop-color="#76ff00"/></linearGradient>
<rect x="0" y="32.10" width="96.30" height="4.51" fill="url(#gnp8)"/>
<linearGradient id="gnp9"><stop offset="0.000" stop-color="#ffda00"/><stop offset="0.053" stop-color="#ffda00"/><stop offset="0.105" stop-color="#e5da00"/><stop offset="0.158" stop-color="#abda00"/><stop offset="0.211" stop-color="#75da00"/><stop offset="0.263" stop-color="#6dda00"/><stop offset="0.316" stop-color="#5dda00"/><stop offset="0.368" stop-color="#43da00"/><stop offset="0.421" stop-color="#56da00"/><stop offset="0.474" stop-color="#7bda00"/><stop offset="0.526" stop-color="#86da00"/><stop offset="0.579" stop-color="#6dda00"/><stop offset="0.632" stop-color="#62da00"/><stop offset="0.684" stop-color="#89da00"/><stop offset="0.737" stop-color="#9ada00"/><stop offset="0.789" stop-color="#7ada00"/><stop offset="0.842" stop-color="#4cda00"/><stop offset="0.895" stop-color="#44da00"/><stop offset="0.947" stop-color="#64da00"/><stop offset="1.000" stop-color="#6fda00"/></linearGradient>
<rect x="0" y="36.11" width="96.30" height="4.51" fill="url(#gnp9)"/>
<linearGradient id="gnp10"><stop offset="0.000" stop-color="#ffb000"/><stop offset="0.053" stop-color="#ffb000"/><stop offset="0.105" stop-color="#f0b000"/><stop offset="0.158" stop-color="#b7b000"/><stop offset="0.211" stop-color="#74b000"/><stop offset="0.263" stop-color="#5ab000"/><stop offset="0.316" stop-color="#5bb000"/><stop offset="0.368" stop-color="#65b000"/><stop offset="0.421" stop-color="#6fb000"/><stop offset="0.474" stop-color="#7ab000"/><stop offset="0.526" stop-color="#7ab000"/><stop offset="0.579" stop-color="#57b000"/><stop offset="0.632" stop-color="#3ab000"/><stop offset="0.684" stop-color="#56b000"/><stop offset="0.737" stop-color="#7fb000"/><stop offset="0.789" stop-color="#7db000"/><stop offset="0.842" stop-color="#3ab000"/><stop offset="0.895" stop-color="#24b000"/><stop offset="0.947" stop-color="#59b000"/><stop offset="1.000" stop-color="#6cb000"/></linearGradient>
<rect x="0" y="40.12" width="96.30" height="4.51" fill="url(#gnp10)"/>
<linearGradient id="gnp11"><stop offset="0.000" stop-color="#fc8500"/><stop offset="0.053" stop-color="#fd8500"/><stop offset="0.105" stop-color="#f38500"/><stop offset="0.158" stop-color="#b58500"/><stop offset="0.211" stop-color="#678500"/><stop offset="0.263" stop-color="#518500"/><stop offset="0.316" stop-color="#608500"/><stop offset="0.368" stop-color="#708500"/><stop offset="0.421" stop-color="#698500"/><stop offset="0.474" stop-color="#658500"/><stop offset="0.526" stop-color="#728500"/><stop offset="0.579" stop-color="#648500"/><stop offset="0.632" stop-color="#478500"/><stop offset="0.684" stop-color="#3e8500"/><stop offset="0.737" stop-color="#538500"/><stop offset="0.789" stop-color="#5e8500"/><stop offset="0.842" stop-color="#338500"/><stop offset="0.895" stop-color="#388500"/><stop offset="0.947" stop-color="#868500"/><stop offset="1.000" stop-color="#9e8500"/></linearGradient>
<rect x="0" y="44.14" width="96.30" height="4.51" fill="url(#gnp11)"/>
<linearGradient id="gnp12"><stop offset="0.000" stop-color="#fa5b00"/><stop offset="0.053" stop-color="#fc5b00"/><stop offset="0.105" stop-color="#f45b00"/><stop offset="0.158" stop-color="#aa5b00"/><stop offset="0.211" stop-color="#575b00"/><stop offset="0.263" stop-color="#595b00"/><stop offset="0.316" stop-color="#6c5b00"/><stop offset="0.368" stop-color="#605b00"/><stop offset="0.421" stop-color="#445b00"/><stop offset="0.474" stop-color="#465b00"/><stop offset="0.526" stop-color="#725b00"/><stop offset="0.579" stop-color="#945b00"/><stop offset="0.632" stop-color="#875b00"/><stop offset="0.684" stop-color="#4c5b00"/><stop offset="0.737" stop-color="#295b00"/><stop offset="0.789" stop-color="#2c5b00"/><stop offset="0.842" stop-color="#335b00"/><stop offset="0.895" stop-color="#6c5b00"/><stop offset="0.947" stop-color="#cc5b00"/><stop offset="1.000" stop-color="#e65b00"/></linearGradient>
<rect x="0" y="48.15" width="96.30" height="4.51" fill="url(#gnp12)"/>
<linearGradient id="gnp13"><stop offset="0.000" stop-color="#ff3000"/><stop offset="0.053" stop-color="#ff3000"/><stop offset="0.105" stop-color="#fb3000"/><stop offset="0.158" stop-color="#a93000"/><stop offset="0.211" stop-color="#553000"/><stop offset="0.263" stop-color="#683000"/><stop offset="0.316" stop-color="#7c3000"/><stop offset="0.368" stop-color="#5b3000"/><stop offset="0.421" stop-color="#3b3000"/><stop offset="0.474" stop-color="#4c3000"/><stop offset="0.526" stop-color="#8e3000"/><stop offset="0.579" stop-color="#c13000"/><stop offset="0.632" stop-color="#b43000"/><stop offset="0.684" stop-color="#673000"/><stop offset="0.737" stop-color="#293000"/><stop offset="0.789" stop-color="#193000"/><stop offset="0.842" stop-color="#2b3000"/><stop offset="0.895" stop-color="#6c3000"/><stop offset="0.947" stop-color="#c23000"/><stop offset="1.000" stop-color="#d93000"/></linearGradient>
<rect x="0" y="52.16" width="96.30" height="4.51" fill="url(#gnp13)"/>
<linearGradient id="gnp14"><stop offset="0.000" stop-color="#ff1b00"/><stop offset="0.053" stop-color="#ff1b00"/><stop offset="0.105" stop-color="#fe1b00"/><stop offset="0.158" stop-color="#b11b00"/><stop offset="0.211" stop-color="#651b00"/><stop offset="0.263" stop-color="#781b00"/><stop offset="0.316" stop-color="#8a1b00"/><stop offset="0.368" stop-color="#6b1b00"/><stop offset="0.421" stop-color="#561b00"/><stop offset="0.474" stop-color="#721b00"/><stop offset="0.526" stop-color="#b61b00"/><stop offset="0.579" stop-color="#d01b00"/><stop offset="0.632" stop-color="#b21b00"/><stop offset="0.684" stop-color="#7d1b00"/><stop offset="0.737" stop-color="#4d1b00"/><stop offset="0.789" stop-color="#2d1b00"/><stop offset="0.842" stop-color="#1e1b00"/><stop offset="0.895" stop-color="#381b00"/><stop offset="0.947" stop-color="#6e1b00"/><stop offset="1.000" stop-color="#7e1b00"/></linearGradient>
<rect x="0" y="56.18" width="96.30" height="4.51" fill="url(#gnp14)"/>
<linearGradient id="gnp15"><stop offset="0.000" stop-color="#e41500"/><stop offset="0.053" stop-color="#e51500"/><stop offset="0.105" stop-color="#df1500"/><stop offset="0.158" stop-color="#af1500"/><stop offset="0.211" stop-color="#7b1500"/><stop offset="0.263" stop-color="#851500"/><stop offset="0.316" stop-color="#8f1500"/><stop offset="0.368" stop-color="#7c1500"/><stop offset="0.421" stop-color="#6d1500"/><stop offset="0.474" stop-color="#821500"/><stop offset="0.526" stop-color="#b01500"/><stop offset="0.579" stop-color="#b21500"/><stop offset="0.632" stop-color="#941500"/><stop offset="0.684" stop-color="#811500"/><stop offset="0.737" stop-color="#681500"/><stop offset="0.789" stop-color="#441500"/><stop offset="0.842" stop-color="#241500"/><stop offset="0.895" stop-color="#271500"/><stop offset="0.947" stop-color="#471500"/><stop offset="1.000" stop-color="#511500"/></linearGradient>
<rect x="0" y="60.19" width="96.30" height="4.51" fill="url(#gnp15)"/>
<linearGradient id="gnp16"><stop offset="0.000" stop-color="#950f00"/><stop offset="0.053" stop-color="#990f00"/><stop offset="0.105" stop-color="#a40f00"/><stop offset="0.158" stop-color="#9d0f00"/><stop offset="0.211" stop-color="#8c0f00"/><stop offset="0.263" stop-color="#8c0f00"/><stop offset="0.316" stop-color="#8e0f00"/><stop offset="0.368" stop-color="#870f00"/><stop offset="0.421" stop-color="#770f00"/><stop offset="0.474" stop-color="#750f00"/><stop offset="0.526" stop-color="#830f00"/><stop offset="0.579" stop-color="#7f0f00"/><stop offset="0.632" stop-color="#750f00"/><stop offset="0.684" stop-color="#770f00"/><stop offset="0.737" stop-color="#6b0f00"/><stop offset="0.789" stop-color="#500f00"/><stop offset="0.842" stop-color="#400f00"/><stop offset="0.895" stop-color="#490f00"/><stop offset="0.947" stop-color="#620f00"/><stop offset="1.000" stop-color="#690f00"/></linearGradient>
<rect x="0" y="64.20" width="96.30" height="4.51" fill="url(#gnp16)"/>
<linearGradient id="gnp17"><stop offset="0.000" stop-color="#4f0d00"/><stop offset="0.053" stop-color="#560d00"/><stop offset="0.105" stop-color="#710d00"/><stop offset="0.158" stop-color="#840d00"/><stop offset="0.211" stop-color="#890d00"/><stop offset="0.263" stop-color="#8b0d00"/><stop offset="0.316" stop-color="#940d00"/><stop offset="0.368" stop-color="#9a0d00"/><stop offset="0.421" stop-color="#870d00"/><stop offset="0.474" stop-color="#700d00"/><stop offset="0.526" stop-color="#6b0d00"/><stop offset="0.579" stop-color="#730d00"/><stop offset="0.632" stop-color="#7b0d00"/><stop offset="0.684" stop-color="#740d00"/><stop offset="0.737" stop-color="#670d00"/><stop offset="0.789" stop-color="#5d0d00"/><stop offset="0.842" stop-color="#5e0d00"/><stop offset="0.895" stop-color="#660d00"/><stop offset="0.947" stop-color="#700d00"/><stop offset="1.000" stop-color="#720d00"/></linearGradient>
<rect x="0" y="68.21" width="96.30" height="4.51" fill="url(#gnp17)"/>
<linearGradient id="gnp18"><stop offset="0.000" stop-color="#250c00"/><stop offset="0.053" stop-color="#2f0c00"/><stop offset="0.105" stop-color="#530c00"/><stop offset="0.158" stop-color="#6d0c00"/><stop offset="0.211" stop-color="#790c00"/><stop offset="0.263" stop-color="#860c00"/><stop offset="0.316" stop-color="#9b0c00"/><stop offset="0.368" stop-color="#ab0c00"/><stop offset="0.421" stop-color="#9a0c00"/><stop offset="0.474" stop-color="#800c00"/><stop offset="0.526" stop-color="#7b0c00"/><stop offset="0.579" stop-color="#910c00"/><stop offset="0.632" stop-color="#9d0c00"/><stop offset="0.684" stop-color="#7d0c00"/><stop offset="0.737" stop-color="#670c00"/><stop offset="0.789" stop-color="#6c0c00"/><stop offset="0.842" stop-color="#720c00"/><stop offset="0.895" stop-color="#6b0c00"/><stop offset="0.947" stop-color="#5e0c00"/><stop offset="1.000" stop-color="#5a0c00"/></linearGradient>
<rect x="0" y="72.23" width="96.30" height="4.51" fill="url(#gnp18)"/>
<linearGradient id="gnp19"><stop offset="0.000" stop-color="#0d0c00"/><stop offset="0.053" stop-color="#170c00"/><stop offset="0.105" stop-color="#3d0c00"/><stop offset="0.158" stop-color="#5d0c00"/><stop offset="0.211" stop-color="#6f0c00"/><stop offset="0.263" stop-color="#7e0c00"/><stop offset="0.316" stop-color="#900c00"/><stop offset="0.368" stop-color="#9e0c00"/><stop offset="0.421" stop-color="#990c00"/><stop offset="0.474" stop-color="#910c00"/><stop offset="0.526" stop-color="#960c00"/><stop offset="0.579" stop-color="#a80c00"/><stop offset="0.632" stop-color="#a80c00"/><stop offset="0.684" stop-color="#850c00"/><stop offset="0.737" stop-color="#6f0c00"/><stop offset="0.789" stop-color="#720c00"/><stop offset="0.842" stop-color="#760c00"/><stop offset="0.895" stop-color="#6c0c00"/><stop offset="0.947" stop-color="#590c00"/><stop offset="1.000" stop-color="#540c00"/></linearGradient>
<rect x="0" y="76.24" width="96.30" height="4.51" fill="url(#gnp19)"/>
<linearGradient id="gnp20"><stop offset="0.000" stop-color="#000b00"/><stop offset="0.053" stop-color="#080b00"/><stop offset="0.105" stop-color="#2d0b00"/><stop offset="0.158" stop-color="#560b00"/><stop offset="0.211" stop-color="#700b00"/><stop offset="0.263" stop-color="#780b00"/><stop offset="0.316" stop-color="#780b00"/><stop offset="0.368" stop-color="#7b0b00"/><stop offset="0.421" stop-color="#860b00"/><stop offset="0.474" stop-color="#980b00"/><stop offset="0.526" stop-color="#a80b00"/><stop offset="0.579" stop-color="#a50b00"/><stop offset="0.632" stop-color="#960b00"/><stop offset="0.684" stop-color="#8b0b00"/><stop offset="0.737" stop-color="#7d0b00"/><stop offset="0.789" stop-color="#700b00"/><stop offset="0.842" stop-color="#710b00"/><stop offset="0.895" stop-color="#710b00"/><stop offset="0.947" stop-color="#6a0b00"/><stop offset="1.000" stop-color="#680b00"/></linearGradient>
<rect x="0" y="80.25" width="96.30" height="4.51" fill="url(#gnp20)"/>
<linearGradient id="gnp21"><stop offset="0.000" stop-color="#000b00"/><stop offset="0.053" stop-color="#030b00"/><stop offset="0.105" stop-color="#260b00"/><stop offset="0.158" stop-color="#540b00"/><stop offset="0.211" stop-color="#730b00"/><stop offset="0.263" stop-color="#730b00"/><stop offset="0.316" stop-color="#6d0b00"/><stop offset="0.368" stop-color="#700b00"/><stop offset="0.421" stop-color="#7a0b00"/><stop offset="0.474" stop-color="#8e0b00"/><stop offset="0.526" stop-color="#a40b00"/><stop offset="0.579" stop-color="#9a0b00"/><stop offset="0.632" stop-color="#890b00"/><stop offset="0.684" stop-color="#940b00"/><stop offset="0.737" stop-color="#8f0b00"/><stop offset="0.789" stop-color="#780b00"/><stop offset="0.842" stop-color="#700b00"/><stop offset="0.895" stop-color="#720b00"/><stop offset="0.947" stop-color="#750b00"/><stop offset="1.000" stop-color="#760b00"/></linearGradient>
<rect x="0" y="84.26" width="96.30" height="4.51" fill="url(#gnp21)"/>
<linearGradient id="gnp22"><stop offset="0.000" stop-color="#000b00"/><stop offset="0.053" stop-color="#030b00"/><stop offset="0.105" stop-color="#260b00"/><stop offset="0.158" stop-color="#540b00"/><stop offset="0.211" stop-color="#720b00"/><stop offset="0.263" stop-color="#710b00"/><stop offset="0.316" stop-color="#750b00"/><stop offset="0.368" stop-color="#840b00"/><stop offset="0.421" stop-color="#7b0b00"/><stop offset="0.474" stop-color="#7a0b00"/><stop offset="0.526" stop-color="#910b00"/><stop offset="0.579" stop-color="#910b00"/><stop offset="0.632" stop-color="#8c0b00"/><stop offset="0.684" stop-color="#a00b00"/><stop offset="0.737" stop-color="#a10b00"/><stop offset="0.789" stop-color="#880b00"/><stop offset="0.842" stop-color="#760b00"/><stop offset="0.895" stop-color="#710b00"/><stop offset="0.947" stop-color="#730b00"/><stop offset="1.000" stop-color="#740b00"/></linearGradient>
<rect x="0" y="88.28" width="96.30" height="4.51" fill="url(#gnp22)"/>
<linearGradient id="gnp23"><stop offset="0.000" stop-color="#000a00"/><stop offset="0.053" stop-color="#050a00"/><stop offset="0.105" stop-color="#280a00"/><stop offset="0.158" stop-color="#550a00"/><stop offset="0.211" stop-color="#720a00"/><stop offset="0.263" stop-color="#700a00"/><stop offset="0.316" stop-color="#7c0a00"/><stop offset="0.368" stop-color="#920a00"/><stop offset="0.421" stop-color="#7e0a00"/><stop offset="0.474" stop-color="#6f0a00"/><stop offset="0.526" stop-color="#850a00"/><stop offset="0.579" stop-color="#8d0a00"/><stop offset="0.632" stop-color="#910a00"/><stop offset="0.684" stop-color="#a60a00"/><stop offset="0.737" stop-color="#a90a00"/><stop offset="0.789" stop-color="#920a00"/><stop offset="0.842" stop-color="#7a0a00"/><stop offset="0.895" stop-color="#6f0a00"/><stop offset="0.947" stop-color="#700a00"/><stop offset="1.000" stop-color="#710a00"/></linearGradient>
<rect x="0" y="92.29" width="96.30" height="4.51" fill="url(#gnp23)"/>
<ellipse cx="6.7" cy="47.3" rx="7.0" ry="15.0" fill="#ff7900"/>
<ellipse cx="37.7" cy="55.3" rx="4.5" ry="4.5" fill="#1c2400"/>
<ellipse cx="70.7" cy="44.3" rx="6.5" ry="8.0" fill="#1c9900"/>
<ellipse cx="85.7" cy="62.3" rx="10.0" ry="4.0" fill="#2a1500"/>
<ellipse cx="22.7" cy="47.3" rx="5.0" ry="3.5" fill="#477900"/>
<ellipse cx="51.2" cy="63.3" rx="6.0" ry="2.8" fill="#e31300"/>
<ellipse cx="34.2" cy="73.8" rx="4.5" ry="2.5" fill="#d40c00"/>
<ellipse cx="61.2" cy="80.3" rx="6.0" ry="2.5" fill="#d40c00"/>
<ellipse cx="42.7" cy="86.3" rx="6.0" ry="2.0" fill="#d40b00"/>
<ellipse cx="94.7" cy="52.3" rx="3.0" ry="3.5" fill="#f14400"/>
</g>
<path d="M57.1,61.2 L58.2,58.3 L60.7,55.9 L63.7,55.9 L64.1,59.3 L62.7,61.2" fill="none" stroke="#111" stroke-width="0.75" stroke-linejoin="round"/>
<path d="M54.2,67.7 L56.5,67.7" fill="none" stroke="#111" stroke-width="0.75" stroke-linejoin="round"/>
<path d="M54.2,86.4 L61.2,86.4" fill="none" stroke="#111" stroke-width="0.75" stroke-linejoin="round"/>
<path d="M8.5,59.4 L9.7,61.8 L12.0,61.8" fill="none" stroke="#111" stroke-width="0.75" stroke-linejoin="round"/>
</svg>
<filter id="hfni" x="0" y="0" width="1" height="1" color-interpolation-filters="sRGB"><feGaussianBlur in="SourceGraphic" stdDeviation="1.2" edgeMode="duplicate" result="base"/><feTurbulence type="fractalNoise" baseFrequency="0.38 0.09" numOctaves="1" seed="29" result="turb"/><feColorMatrix in="turb" type="matrix" values="1 0 0 0 0 0 0 0 0 0 0 0 0 0 0 0 0 0 0 1" result="n0"/><feComponentTransfer in="n0" result="n"><feFuncR type="table" tableValues="0 0.2 0.3 0.38 0.47 0.5 0.53 0.62 0.7 0.8 1"/></feComponentTransfer><feColorMatrix in="base" type="matrix" values="0 1 0 0 0 0 0 0 0 0 0 0 0 0 0 0 0 0 0 1" result="m"/><feComposite in="n" in2="m" operator="arithmetic" k1="5.0" k2="0" k3="-2.500" k4="0.5" result="pert"/><feComposite in="base" in2="pert" operator="arithmetic" k1="0" k2="1" k3="1" k4="-0.5" result="sum"/><feColorMatrix in="sum" type="matrix" values="1 0 0 0 0 1 0 0 0 0 1 0 0 0 0 0 0 0 0 1" result="gray"/><feComponentTransfer in="gray"><feFuncR type="table" tableValues="0.200 0.298 0.396 0.475 0.557 0.620 0.682 0.725 0.765 0.784 0.800 0.820 0.839 0.863 0.886 0.918 0.945 0.973 1.000"/><feFuncG type="table" tableValues="0.078 0.169 0.259 0.310 0.365 0.408 0.447 0.478 0.506 0.565 0.620 0.675 0.733 0.792 0.851 0.898 0.945 0.973 1.000"/><feFuncB type="table" tableValues="0.078 0.169 0.259 0.310 0.365 0.408 0.447 0.475 0.502 0.529 0.553 0.584 0.612 0.643 0.675 0.749 0.824 0.914 1.000"/></feComponentTransfer></filter>
<svg x="302.1" y="302.7" width="96.70" height="96.30" viewBox="0 0 96.70 96.30" preserveAspectRatio="none" overflow="hidden">
<g filter="url(#hfni)">
<linearGradient id="gni0"><stop offset="0.000" stop-color="#66ff00"/><stop offset="0.053" stop-color="#68ff00"/><stop offset="0.105" stop-color="#69ff00"/><stop offset="0.158" stop-color="#53ff00"/><stop offset="0.211" stop-color="#47ff00"/><stop offset="0.263" stop-color="#6eff00"/><stop offset="0.316" stop-color="#80ff00"/><stop offset="0.368" stop-color="#68ff00"/><stop offset="0.421" stop-color="#5bff00"/><stop offset="0.474" stop-color="#72ff00"/><stop offset="0.526" stop-color="#9aff00"/><stop offset="0.579" stop-color="#8cff00"/><stop offset="0.632" stop-color="#63ff00"/><stop offset="0.684" stop-color="#5cff00"/><stop offset="0.737" stop-color="#6fff00"/><stop offset="0.789" stop-color="#84ff00"/><stop offset="0.842" stop-color="#86ff00"/><stop offset="0.895" stop-color="#83ff00"/><stop offset="0.947" stop-color="#82ff00"/><stop offset="1.000" stop-color="#82ff00"/></linearGradient>
<rect x="0" y="0.00" width="96.70" height="4.51" fill="url(#gni0)"/>
<linearGradient id="gni1"><stop offset="0.000" stop-color="#62ff00"/><stop offset="0.053" stop-color="#66ff00"/><stop offset="0.105" stop-color="#6dff00"/><stop offset="0.158" stop-color="#5cff00"/><stop offset="0.211" stop-color="#51ff00"/><stop offset="0.263" stop-color="#78ff00"/><stop offset="0.316" stop-color="#88ff00"/><stop offset="0.368" stop-color="#6cff00"/><stop offset="0.421" stop-color="#5aff00"/><stop offset="0.474" stop-color="#71ff00"/><stop offset="0.526" stop-color="#9dff00"/><stop offset="0.579" stop-color="#8cff00"/><stop offset="0.632" stop-color="#62ff00"/><stop offset="0.684" stop-color="#64ff00"/><stop offset="0.737" stop-color="#75ff00"/><stop offset="0.789" stop-color="#7eff00"/><stop offset="0.842" stop-color="#7fff00"/><stop offset="0.895" stop-color="#7fff00"/><stop offset="0.947" stop-color="#82ff00"/><stop offset="1.000" stop-color="#83ff00"/></linearGradient>
<rect x="0" y="4.01" width="96.70" height="4.51" fill="url(#gni1)"/>
<linearGradient id="gni2"><stop offset="0.000" stop-color="#5fff00"/><stop offset="0.053" stop-color="#66ff00"/><stop offset="0.105" stop-color="#79ff00"/><stop offset="0.158" stop-color="#6dff00"/><stop offset="0.211" stop-color="#61ff00"/><stop offset="0.263" stop-color="#89ff00"/><stop offset="0.316" stop-color="#95ff00"/><stop offset="0.368" stop-color="#6fff00"/><stop offset="0.421" stop-color="#58ff00"/><stop offset="0.474" stop-color="#70ff00"/><stop offset="0.526" stop-color="#9eff00"/><stop offset="0.579" stop-color="#8bff00"/><stop offset="0.632" stop-color="#63ff00"/><stop offset="0.684" stop-color="#72ff00"/><stop offset="0.737" stop-color="#7dff00"/><stop offset="0.789" stop-color="#70ff00"/><stop offset="0.842" stop-color="#6dff00"/><stop offset="0.895" stop-color="#75ff00"/><stop offset="0.947" stop-color="#81ff00"/><stop offset="1.000" stop-color="#84ff00"/></linearGradient>
<rect x="0" y="8.03" width="96.70" height="4.51" fill="url(#gni2)"/>
<linearGradient id="gni3"><stop offset="0.000" stop-color="#69ff00"/><stop offset="0.053" stop-color="#72ff00"/><stop offset="0.105" stop-color="#8bff00"/><stop offset="0.158" stop-color="#7bff00"/><stop offset="0.211" stop-color="#68ff00"/><stop offset="0.263" stop-color="#92ff00"/><stop offset="0.316" stop-color="#96ff00"/><stop offset="0.368" stop-color="#62ff00"/><stop offset="0.421" stop-color="#57ff00"/><stop offset="0.474" stop-color="#78ff00"/><stop offset="0.526" stop-color="#98ff00"/><stop offset="0.579" stop-color="#83ff00"/><stop offset="0.632" stop-color="#68ff00"/><stop offset="0.684" stop-color="#7eff00"/><stop offset="0.737" stop-color="#7eff00"/><stop offset="0.789" stop-color="#5dff00"/><stop offset="0.842" stop-color="#51ff00"/><stop offset="0.895" stop-color="#62ff00"/><stop offset="0.947" stop-color="#7fff00"/><stop offset="1.000" stop-color="#87ff00"/></linearGradient>
<rect x="0" y="12.04" width="96.70" height="4.51" fill="url(#gni3)"/>
<linearGradient id="gni4"><stop offset="0.000" stop-color="#7aff00"/><stop offset="0.053" stop-color="#83ff00"/><stop offset="0.105" stop-color="#9cff00"/><stop offset="0.158" stop-color="#83ff00"/><stop offset="0.211" stop-color="#66ff00"/><stop offset="0.263" stop-color="#92ff00"/><stop offset="0.316" stop-color="#8eff00"/><stop offset="0.368" stop-color="#4fff00"/><stop offset="0.421" stop-color="#5aff00"/><stop offset="0.474" stop-color="#85ff00"/><stop offset="0.526" stop-color="#8cff00"/><stop offset="0.579" stop-color="#76ff00"/><stop offset="0.632" stop-color="#6bff00"/><stop offset="0.684" stop-color="#81ff00"/><stop offset="0.737" stop-color="#78ff00"/><stop offset="0.789" stop-color="#4dff00"/><stop offset="0.842" stop-color="#3cff00"/><stop offset="0.895" stop-color="#54ff00"/><stop offset="0.947" stop-color="#7eff00"/><stop offset="1.000" stop-color="#89ff00"/></linearGradient>
<rect x="0" y="16.05" width="96.70" height="4.51" fill="url(#gni4)"/>
<linearGradient id="gni5"><stop offset="0.000" stop-color="#7aff00"/><stop offset="0.053" stop-color="#85ff00"/><stop offset="0.105" stop-color="#a1ff00"/><stop offset="0.158" stop-color="#88ff00"/><stop offset="0.211" stop-color="#6aff00"/><stop offset="0.263" stop-color="#95ff00"/><stop offset="0.316" stop-color="#91ff00"/><stop offset="0.368" stop-color="#54ff00"/><stop offset="0.421" stop-color="#65ff00"/><stop offset="0.474" stop-color="#8fff00"/><stop offset="0.526" stop-color="#8aff00"/><stop offset="0.579" stop-color="#6bff00"/><stop offset="0.632" stop-color="#60ff00"/><stop offset="0.684" stop-color="#7aff00"/><stop offset="0.737" stop-color="#74ff00"/><stop offset="0.789" stop-color="#4fff00"/><stop offset="0.842" stop-color="#4cff00"/><stop offset="0.895" stop-color="#63ff00"/><stop offset="0.947" stop-color="#7dff00"/><stop offset="1.000" stop-color="#83ff00"/></linearGradient>
<rect x="0" y="20.06" width="96.70" height="4.51" fill="url(#gni5)"/>
<linearGradient id="gni6"><stop offset="0.000" stop-color="#69ff00"/><stop offset="0.053" stop-color="#75ff00"/><stop offset="0.105" stop-color="#9aff00"/><stop offset="0.158" stop-color="#90ff00"/><stop offset="0.211" stop-color="#78ff00"/><stop offset="0.263" stop-color="#99ff00"/><stop offset="0.316" stop-color="#9cff00"/><stop offset="0.368" stop-color="#73ff00"/><stop offset="0.421" stop-color="#75ff00"/><stop offset="0.474" stop-color="#8dff00"/><stop offset="0.526" stop-color="#8dff00"/><stop offset="0.579" stop-color="#65ff00"/><stop offset="0.632" stop-color="#4eff00"/><stop offset="0.684" stop-color="#72ff00"/><stop offset="0.737" stop-color="#78ff00"/><stop offset="0.789" stop-color="#60ff00"/><stop offset="0.842" stop-color="#77ff00"/><stop offset="0.895" stop-color="#8cff00"/><stop offset="0.947" stop-color="#81ff00"/><stop offset="1.000" stop-color="#7cff00"/></linearGradient>
<rect x="0" y="24.08" width="96.70" height="4.51" fill="url(#gni6)"/>
<linearGradient id="gni7"><stop offset="0.000" stop-color="#59ff00"/><stop offset="0.053" stop-color="#67ff00"/><stop offset="0.105" stop-color="#96ff00"/><stop offset="0.158" stop-color="#a1ff00"/><stop offset="0.211" stop-color="#8dff00"/><stop offset="0.263" stop-color="#8cff00"/><stop offset="0.316" stop-color="#94ff00"/><stop offset="0.368" stop-color="#94ff00"/><stop offset="0.421" stop-color="#82ff00"/><stop offset="0.474" stop-color="#7aff00"/><stop offset="0.526" stop-color="#7fff00"/><stop offset="0.579" stop-color="#61ff00"/><stop offset="0.632" stop-color="#50ff00"/><stop offset="0.684" stop-color="#7eff00"/><stop offset="0.737" stop-color="#82ff00"/><stop offset="0.789" stop-color="#66ff00"/><stop offset="0.842" stop-color="#90ff00"/><stop offset="0.895" stop-color="#adff00"/><stop offset="0.947" stop-color="#91ff00"/><stop offset="1.000" stop-color="#86ff00"/></linearGradient>
<rect x="0" y="28.09" width="96.70" height="4.51" fill="url(#gni7)"/>
<linearGradient id="gni8"><stop offset="0.000" stop-color="#5dff00"/><stop offset="0.053" stop-color="#6aff00"/><stop offset="0.105" stop-color="#98ff00"/><stop offset="0.158" stop-color="#b4ff00"/><stop offset="0.211" stop-color="#a1ff00"/><stop offset="0.263" stop-color="#70ff00"/><stop offset="0.316" stop-color="#76ff00"/><stop offset="0.368" stop-color="#a5ff00"/><stop offset="0.421" stop-color="#8eff00"/><stop offset="0.474" stop-color="#66ff00"/><stop offset="0.526" stop-color="#62ff00"/><stop offset="0.579" stop-color="#5cff00"/><stop offset="0.632" stop-color="#69ff00"/><stop offset="0.684" stop-color="#9bff00"/><stop offset="0.737" stop-color="#8cff00"/><stop offset="0.789" stop-color="#5cff00"/><stop offset="0.842" stop-color="#8aff00"/><stop offset="0.895" stop-color="#b7ff00"/><stop offset="0.947" stop-color="#a6ff00"/><stop offset="1.000" stop-color="#9eff00"/></linearGradient>
<rect x="0" y="32.10" width="96.70" height="4.51" fill="url(#gni8)"/>
<linearGradient id="gni9"><stop offset="0.000" stop-color="#86da00"/><stop offset="0.053" stop-color="#8ada00"/><stop offset="0.105" stop-color="#9fda00"/><stop offset="0.158" stop-color="#bada00"/><stop offset="0.211" stop-color="#acda00"/><stop offset="0.263" stop-color="#5eda00"/><stop offset="0.316" stop-color="#58da00"/><stop offset="0.368" stop-color="#a2da00"/><stop offset="0.421" stop-color="#a3da00"/><stop offset="0.474" stop-color="#71da00"/><stop offset="0.526" stop-color="#4fda00"/><stop offset="0.579" stop-color="#56da00"/><stop offset="0.632" stop-color="#84da00"/><stop offset="0.684" stop-color="#b1da00"/><stop offset="0.737" stop-color="#8eda00"/><stop offset="0.789" stop-color="#50da00"/><stop offset="0.842" stop-color="#7ada00"/><stop offset="0.895" stop-color="#afda00"/><stop offset="0.947" stop-color="#aeda00"/><stop offset="1.000" stop-color="#aada00"/></linearGradient>
<rect x="0" y="36.11" width="96.70" height="4.51" fill="url(#gni9)"/>
<linearGradient id="gni10"><stop offset="0.000" stop-color="#beb000"/><stop offset="0.053" stop-color="#b5b000"/><stop offset="0.105" stop-color="#9eb000"/><stop offset="0.158" stop-color="#abb000"/><stop offset="0.211" stop-color="#adb000"/><stop offset="0.263" stop-color="#63b000"/><stop offset="0.316" stop-color="#4fb000"/><stop offset="0.368" stop-color="#90b000"/><stop offset="0.421" stop-color="#b4b000"/><stop offset="0.474" stop-color="#94b000"/><stop offset="0.526" stop-color="#53b000"/><stop offset="0.579" stop-color="#58b000"/><stop offset="0.632" stop-color="#93b000"/><stop offset="0.684" stop-color="#b6b000"/><stop offset="0.737" stop-color="#8bb000"/><stop offset="0.789" stop-color="#4fb000"/><stop offset="0.842" stop-color="#70b000"/><stop offset="0.895" stop-color="#9eb000"/><stop offset="0.947" stop-color="#9eb000"/><stop offset="1.000" stop-color="#9bb000"/></linearGradient>
<rect x="0" y="40.12" width="96.70" height="4.51" fill="url(#gni10)"/>
<linearGradient id="gni11"><stop offset="0.000" stop-color="#ce8500"/><stop offset="0.053" stop-color="#bb8500"/><stop offset="0.105" stop-color="#828500"/><stop offset="0.158" stop-color="#858500"/><stop offset="0.211" stop-color="#a38500"/><stop offset="0.263" stop-color="#808500"/><stop offset="0.316" stop-color="#678500"/><stop offset="0.368" stop-color="#7f8500"/><stop offset="0.421" stop-color="#9d8500"/><stop offset="0.474" stop-color="#978500"/><stop offset="0.526" stop-color="#708500"/><stop offset="0.579" stop-color="#6e8500"/><stop offset="0.632" stop-color="#918500"/><stop offset="0.684" stop-color="#ab8500"/><stop offset="0.737" stop-color="#8f8500"/><stop offset="0.789" stop-color="#638500"/><stop offset="0.842" stop-color="#778500"/><stop offset="0.895" stop-color="#8e8500"/><stop offset="0.947" stop-color="#7e8500"/><stop offset="1.000" stop-color="#778500"/></linearGradient>
<rect x="0" y="44.14" width="96.70" height="4.51" fill="url(#gni11)"/>
<linearGradient id="gni12"><stop offset="0.000" stop-color="#ac5b00"/><stop offset="0.053" stop-color="#995b00"/><stop offset="0.105" stop-color="#5e5b00"/><stop offset="0.158" stop-color="#625b00"/><stop offset="0.211" stop-color="#955b00"/><stop offset="0.263" stop-color="#a35b00"/><stop offset="0.316" stop-color="#915b00"/><stop offset="0.368" stop-color="#765b00"/><stop offset="0.421" stop-color="#665b00"/><stop offset="0.474" stop-color="#755b00"/><stop offset="0.526" stop-color="#965b00"/><stop offset="0.579" stop-color="#8d5b00"/><stop offset="0.632" stop-color="#7e5b00"/><stop offset="0.684" stop-color="#9d5b00"/><stop offset="0.737" stop-color="#9e5b00"/><stop offset="0.789" stop-color="#835b00"/><stop offset="0.842" stop-color="#8a5b00"/><stop offset="0.895" stop-color="#845b00"/><stop offset="0.947" stop-color="#5f5b00"/><stop offset="1.000" stop-color="#545b00"/></linearGradient>
<rect x="0" y="48.15" width="96.70" height="4.51" fill="url(#gni12)"/>
<linearGradient id="gni13"><stop offset="0.000" stop-color="#7e3000"/><stop offset="0.053" stop-color="#7a3000"/><stop offset="0.105" stop-color="#6b3000"/><stop offset="0.158" stop-color="#713000"/><stop offset="0.211" stop-color="#8c3000"/><stop offset="0.263" stop-color="#a73000"/><stop offset="0.316" stop-color="#a53000"/><stop offset="0.368" stop-color="#7c3000"/><stop offset="0.421" stop-color="#473000"/><stop offset="0.474" stop-color="#583000"/><stop offset="0.526" stop-color="#a83000"/><stop offset="0.579" stop-color="#923000"/><stop offset="0.632" stop-color="#643000"/><stop offset="0.684" stop-color="#9b3000"/><stop offset="0.737" stop-color="#b33000"/><stop offset="0.789" stop-color="#933000"/><stop offset="0.842" stop-color="#903000"/><stop offset="0.895" stop-color="#853000"/><stop offset="0.947" stop-color="#623000"/><stop offset="1.000" stop-color="#573000"/></linearGradient>
<rect x="0" y="52.16" width="96.70" height="4.51" fill="url(#gni13)"/>
<linearGradient id="gni14"><stop offset="0.000" stop-color="#641b00"/><stop offset="0.053" stop-color="#741b00"/><stop offset="0.105" stop-color="#a41b00"/><stop offset="0.158" stop-color="#a71b00"/><stop offset="0.211" stop-color="#8b1b00"/><stop offset="0.263" stop-color="#8f1b00"/><stop offset="0.316" stop-color="#9b1b00"/><stop offset="0.368" stop-color="#8b1b00"/><stop offset="0.421" stop-color="#521b00"/><stop offset="0.474" stop-color="#571b00"/><stop offset="0.526" stop-color="#a51b00"/><stop offset="0.579" stop-color="#841b00"/><stop offset="0.632" stop-color="#531b00"/><stop offset="0.684" stop-color="#a41b00"/><stop offset="0.737" stop-color="#c31b00"/><stop offset="0.789" stop-color="#911b00"/><stop offset="0.842" stop-color="#891b00"/><stop offset="0.895" stop-color="#8d1b00"/><stop offset="0.947" stop-color="#811b00"/><stop offset="1.000" stop-color="#7d1b00"/></linearGradient>
<rect x="0" y="56.18" width="96.70" height="4.51" fill="url(#gni14)"/>
<linearGradient id="gni15"><stop offset="0.000" stop-color="#771500"/><stop offset="0.053" stop-color="#8a1500"/><stop offset="0.105" stop-color="#c41500"/><stop offset="0.158" stop-color="#c01500"/><stop offset="0.211" stop-color="#8f1500"/><stop offset="0.263" stop-color="#841500"/><stop offset="0.316" stop-color="#931500"/><stop offset="0.368" stop-color="#971500"/><stop offset="0.421" stop-color="#731500"/><stop offset="0.474" stop-color="#741500"/><stop offset="0.526" stop-color="#aa1500"/><stop offset="0.579" stop-color="#8d1500"/><stop offset="0.632" stop-color="#671500"/><stop offset="0.684" stop-color="#a81500"/><stop offset="0.737" stop-color="#bd1500"/><stop offset="0.789" stop-color="#901500"/><stop offset="0.842" stop-color="#861500"/><stop offset="0.895" stop-color="#911500"/><stop offset="0.947" stop-color="#941500"/><stop offset="1.000" stop-color="#941500"/></linearGradient>
<rect x="0" y="60.19" width="96.70" height="4.51" fill="url(#gni15)"/>
<linearGradient id="gni16"><stop offset="0.000" stop-color="#a10f00"/><stop offset="0.053" stop-color="#a70f00"/><stop offset="0.105" stop-color="#b90f00"/><stop offset="0.158" stop-color="#ad0f00"/><stop offset="0.211" stop-color="#910f00"/><stop offset="0.263" stop-color="#930f00"/><stop offset="0.316" stop-color="#9f0f00"/><stop offset="0.368" stop-color="#a20f00"/><stop offset="0.421" stop-color="#970f00"/><stop offset="0.474" stop-color="#9f0f00"/><stop offset="0.526" stop-color="#bd0f00"/><stop offset="0.579" stop-color="#b00f00"/><stop offset="0.632" stop-color="#950f00"/><stop offset="0.684" stop-color="#9e0f00"/><stop offset="0.737" stop-color="#a00f00"/><stop offset="0.789" stop-color="#910f00"/><stop offset="0.842" stop-color="#8c0f00"/><stop offset="0.895" stop-color="#8f0f00"/><stop offset="0.947" stop-color="#910f00"/><stop offset="1.000" stop-color="#920f00"/></linearGradient>
<rect x="0" y="64.20" width="96.70" height="4.51" fill="url(#gni16)"/>
<linearGradient id="gni17"><stop offset="0.000" stop-color="#a10d00"/><stop offset="0.053" stop-color="#a20d00"/><stop offset="0.105" stop-color="#a20d00"/><stop offset="0.158" stop-color="#8f0d00"/><stop offset="0.211" stop-color="#850d00"/><stop offset="0.263" stop-color="#ab0d00"/><stop offset="0.316" stop-color="#c30d00"/><stop offset="0.368" stop-color="#b70d00"/><stop offset="0.421" stop-color="#af0d00"/><stop offset="0.474" stop-color="#b70d00"/><stop offset="0.526" stop-color="#c70d00"/><stop offset="0.579" stop-color="#c80d00"/><stop offset="0.632" stop-color="#ae0d00"/><stop offset="0.684" stop-color="#850d00"/><stop offset="0.737" stop-color="#770d00"/><stop offset="0.789" stop-color="#860d00"/><stop offset="0.842" stop-color="#8d0d00"/><stop offset="0.895" stop-color="#8d0d00"/><stop offset="0.947" stop-color="#8c0d00"/><stop offset="1.000" stop-color="#8c0d00"/></linearGradient>
<rect x="0" y="68.21" width="96.70" height="4.51" fill="url(#gni17)"/>
<linearGradient id="gni18"><stop offset="0.000" stop-color="#7a0c00"/><stop offset="0.053" stop-color="#810c00"/><stop offset="0.105" stop-color="#920c00"/><stop offset="0.158" stop-color="#7e0c00"/><stop offset="0.211" stop-color="#740c00"/><stop offset="0.263" stop-color="#bc0c00"/><stop offset="0.316" stop-color="#e70c00"/><stop offset="0.368" stop-color="#cb0c00"/><stop offset="0.421" stop-color="#b30c00"/><stop offset="0.474" stop-color="#b50c00"/><stop offset="0.526" stop-color="#c50c00"/><stop offset="0.579" stop-color="#c80c00"/><stop offset="0.632" stop-color="#a80c00"/><stop offset="0.684" stop-color="#6b0c00"/><stop offset="0.737" stop-color="#580c00"/><stop offset="0.789" stop-color="#740c00"/><stop offset="0.842" stop-color="#890c00"/><stop offset="0.895" stop-color="#8f0c00"/><stop offset="0.947" stop-color="#8d0c00"/><stop offset="1.000" stop-color="#8c0c00"/></linearGradient>
<rect x="0" y="72.23" width="96.70" height="4.51" fill="url(#gni18)"/>
<linearGradient id="gni19"><stop offset="0.000" stop-color="#6e0c00"/><stop offset="0.053" stop-color="#760c00"/><stop offset="0.105" stop-color="#8b0c00"/><stop offset="0.158" stop-color="#800c00"/><stop offset="0.211" stop-color="#7b0c00"/><stop offset="0.263" stop-color="#ba0c00"/><stop offset="0.316" stop-color="#de0c00"/><stop offset="0.368" stop-color="#c10c00"/><stop offset="0.421" stop-color="#a30c00"/><stop offset="0.474" stop-color="#a50c00"/><stop offset="0.526" stop-color="#c00c00"/><stop offset="0.579" stop-color="#c40c00"/><stop offset="0.632" stop-color="#a10c00"/><stop offset="0.684" stop-color="#6b0c00"/><stop offset="0.737" stop-color="#5b0c00"/><stop offset="0.789" stop-color="#730c00"/><stop offset="0.842" stop-color="#880c00"/><stop offset="0.895" stop-color="#8f0c00"/><stop offset="0.947" stop-color="#8e0c00"/><stop offset="1.000" stop-color="#8e0c00"/></linearGradient>
<rect x="0" y="76.24" width="96.70" height="4.51" fill="url(#gni19)"/>
<linearGradient id="gni20"><stop offset="0.000" stop-color="#860b00"/><stop offset="0.053" stop-color="#870b00"/><stop offset="0.105" stop-color="#8c0b00"/><stop offset="0.158" stop-color="#8c0b00"/><stop offset="0.211" stop-color="#8f0b00"/><stop offset="0.263" stop-color="#a00b00"/><stop offset="0.316" stop-color="#a90b00"/><stop offset="0.368" stop-color="#9d0b00"/><stop offset="0.421" stop-color="#8d0b00"/><stop offset="0.474" stop-color="#980b00"/><stop offset="0.526" stop-color="#bf0b00"/><stop offset="0.579" stop-color="#c30b00"/><stop offset="0.632" stop-color="#a40b00"/><stop offset="0.684" stop-color="#840b00"/><stop offset="0.737" stop-color="#7c0b00"/><stop offset="0.789" stop-color="#860b00"/><stop offset="0.842" stop-color="#8c0b00"/><stop offset="0.895" stop-color="#8e0b00"/><stop offset="0.947" stop-color="#8e0b00"/><stop offset="1.000" stop-color="#8e0b00"/></linearGradient>
<rect x="0" y="80.25" width="96.70" height="4.51" fill="url(#gni20)"/>
<linearGradient id="gni21"><stop offset="0.000" stop-color="#8c0b00"/><stop offset="0.053" stop-color="#8d0b00"/><stop offset="0.105" stop-color="#8f0b00"/><stop offset="0.158" stop-color="#890b00"/><stop offset="0.211" stop-color="#7e0b00"/><stop offset="0.263" stop-color="#770b00"/><stop offset="0.316" stop-color="#7c0b00"/><stop offset="0.368" stop-color="#870b00"/><stop offset="0.421" stop-color="#880b00"/><stop offset="0.474" stop-color="#9b0b00"/><stop offset="0.526" stop-color="#c10b00"/><stop offset="0.579" stop-color="#c10b00"/><stop offset="0.632" stop-color="#a80b00"/><stop offset="0.684" stop-color="#9d0b00"/><stop offset="0.737" stop-color="#970b00"/><stop offset="0.789" stop-color="#910b00"/><stop offset="0.842" stop-color="#8e0b00"/><stop offset="0.895" stop-color="#8e0b00"/><stop offset="0.947" stop-color="#8e0b00"/><stop offset="1.000" stop-color="#8e0b00"/></linearGradient>
<rect x="0" y="84.26" width="96.70" height="4.51" fill="url(#gni21)"/>
<linearGradient id="gni22"><stop offset="0.000" stop-color="#760b00"/><stop offset="0.053" stop-color="#7e0b00"/><stop offset="0.105" stop-color="#900b00"/><stop offset="0.158" stop-color="#770b00"/><stop offset="0.211" stop-color="#4c0b00"/><stop offset="0.263" stop-color="#4d0b00"/><stop offset="0.316" stop-color="#6b0b00"/><stop offset="0.368" stop-color="#880b00"/><stop offset="0.421" stop-color="#970b00"/><stop offset="0.474" stop-color="#aa0b00"/><stop offset="0.526" stop-color="#c40b00"/><stop offset="0.579" stop-color="#bd0b00"/><stop offset="0.632" stop-color="#a90b00"/><stop offset="0.684" stop-color="#a80b00"/><stop offset="0.737" stop-color="#a10b00"/><stop offset="0.789" stop-color="#900b00"/><stop offset="0.842" stop-color="#8c0b00"/><stop offset="0.895" stop-color="#8e0b00"/><stop offset="0.947" stop-color="#8e0b00"/><stop offset="1.000" stop-color="#8d0b00"/></linearGradient>
<rect x="0" y="88.28" width="96.70" height="4.51" fill="url(#gni22)"/>
<linearGradient id="gni23"><stop offset="0.000" stop-color="#670a00"/><stop offset="0.053" stop-color="#730a00"/><stop offset="0.105" stop-color="#900a00"/><stop offset="0.158" stop-color="#6c0a00"/><stop offset="0.211" stop-color="#2e0a00"/><stop offset="0.263" stop-color="#3a0a00"/><stop offset="0.316" stop-color="#670a00"/><stop offset="0.368" stop-color="#8c0a00"/><stop offset="0.421" stop-color="#a10a00"/><stop offset="0.474" stop-color="#b40a00"/><stop offset="0.526" stop-color="#c60a00"/><stop offset="0.579" stop-color="#bb0a00"/><stop offset="0.632" stop-color="#a90a00"/><stop offset="0.684" stop-color="#ac0a00"/><stop offset="0.737" stop-color="#a20a00"/><stop offset="0.789" stop-color="#8d0a00"/><stop offset="0.842" stop-color="#8b0a00"/><stop offset="0.895" stop-color="#8f0a00"/><stop offset="0.947" stop-color="#8e0a00"/><stop offset="1.000" stop-color="#8d0a00"/></linearGradient>
<rect x="0" y="92.29" width="96.70" height="4.51" fill="url(#gni23)"/>
<ellipse cx="6.9" cy="46.3" rx="8.8" ry="6.2" fill="#f18400"/>
<ellipse cx="27.9" cy="73.3" rx="15.0" ry="5.6" fill="#e30c00"/>
<ellipse cx="49.9" cy="76.3" rx="12.5" ry="5.6" fill="#f10c00"/>
<ellipse cx="57.9" cy="85.3" rx="25.0" ry="5.0" fill="#f10b00"/>
<ellipse cx="49.9" cy="47.3" rx="7.5" ry="7.5" fill="#f17900"/>
<ellipse cx="69.9" cy="49.3" rx="6.2" ry="7.5" fill="#f16400"/>
<ellipse cx="10.9" cy="63.8" rx="7.5" ry="5.0" fill="#ff1200"/>
<ellipse cx="29.9" cy="75.3" rx="10.0" ry="5.0" fill="#ff0c00"/>
<ellipse cx="72.9" cy="58.3" rx="10.0" ry="7.5" fill="#e31b00"/>
<ellipse cx="6.5" cy="41.7" rx="6.4" ry="5.5" fill="#e3b500"/>
<ellipse cx="52.0" cy="42.5" rx="4.6" ry="6.5" fill="#e3ac00"/>
<ellipse cx="83.4" cy="43.2" rx="5.6" ry="7.4" fill="#e3a500"/>
<ellipse cx="6.4" cy="55.3" rx="3.1" ry="3.1" fill="#002400"/>
<ellipse cx="42.4" cy="50.8" rx="3.8" ry="3.8" fill="#0e5400"/>
<ellipse cx="60.9" cy="54.3" rx="4.4" ry="8.8" fill="#002f00"/>
<ellipse cx="41.4" cy="65.8" rx="5.0" ry="3.1" fill="#000f00"/>
<ellipse cx="32.9" cy="52.3" rx="2.8" ry="1.5" fill="#2a4400"/>
<ellipse cx="79.9" cy="71.8" rx="4.4" ry="2.5" fill="#0e0c00"/>
<ellipse cx="70.9" cy="76.5" rx="4.4" ry="2.5" fill="#1c0c00"/>
<ellipse cx="93.9" cy="54.3" rx="5.0" ry="5.0" fill="#002f00"/>
<ellipse cx="22.9" cy="93.3" rx="8.8" ry="3.8" fill="#000a00"/>
<ellipse cx="2.1" cy="64.5" rx="2.8" ry="2.8" fill="#1c1100"/>
<ellipse cx="2.9" cy="73.8" rx="3.8" ry="1.9" fill="#390c00"/>
<ellipse cx="54.9" cy="85.8" rx="4.6" ry="1.9" fill="#390b00"/>
<ellipse cx="26.4" cy="40.9" rx="3.8" ry="4.6" fill="#1cbd00"/>
<ellipse cx="26.9" cy="38.8" rx="4.4" ry="4.4" fill="#00d300"/>
<ellipse cx="58.9" cy="34.3" rx="3.8" ry="7.5" fill="#0eff00"/>
<ellipse cx="80.9" cy="30.3" rx="3.8" ry="5.6" fill="#0eff00"/>
<ellipse cx="1.9" cy="36.8" rx="3.1" ry="4.4" fill="#0ee800"/>
<ellipse cx="37.2" cy="24.8" rx="3.1" ry="4.4" fill="#1cff00"/>
<ellipse cx="16.3" cy="22.3" rx="3.1" ry="4.4" fill="#1cff00"/>
</g>
<path d="M-0.1,51.8 L3.4,52.4" fill="none" stroke="#ff1010" stroke-width="0.75" stroke-linejoin="round"/>
<path d="M5.8,60.0 L6.9,61.2 L11.6,61.2 L12.8,63.0 L15.2,64.1 L15.2,65.9 L8.1,65.9 L7.5,64.7" fill="none" stroke="#ff1010" stroke-width="0.75" stroke-linejoin="round"/>
<path d="M31.6,76.5 L35.1,77.1 L33.9,78.2 L32.4,77.8" fill="none" stroke="#ff1010" stroke-width="0.75" stroke-linejoin="round"/>
<path d="M52.6,48.3 L62.0,48.9 L62.6,50.1 L59.6,50.6" fill="none" stroke="#ff1010" stroke-width="0.75" stroke-linejoin="round"/>
<path d="M53.8,51.8 L54.9,53.3 L56.4,52.6 L58.5,53.6" fill="none" stroke="#ff1010" stroke-width="0.75" stroke-linejoin="round"/>
<path d="M59.6,55.3 L63.2,55.3 L63.2,57.7 L64.3,60.0 L62.6,61.8 L59.6,60.0 L58.5,58.9 Z" fill="none" stroke="#ff1010" stroke-width="0.75" stroke-linejoin="round"/>
<path d="M54.4,63.6 L56.1,61.8 L58.5,62.4 L59.6,64.7 L62.0,67.1 L64.3,67.7" fill="none" stroke="#ff1010" stroke-width="0.75" stroke-linejoin="round"/>
<path d="M72.5,55.9 L75.5,55.3 L76.7,57.7 L79.0,60.0 L78.4,61.8 L73.1,61.8 L72.0,60.0 Z" fill="none" stroke="#ff1010" stroke-width="0.75" stroke-linejoin="round"/>
<path d="M59.6,86.4 L65.5,84.7 L69.0,84.1 L76.1,84.7" fill="none" stroke="#ff1010" stroke-width="0.75" stroke-linejoin="round"/>
<path d="M69.0,88.8 L76.1,88.8" fill="none" stroke="#ff1010" stroke-width="0.75" stroke-linejoin="round"/>
<path d="M49.1,90.0 L62.0,90.0 L59.6,92.9 L49.7,92.9 Z" fill="none" stroke="#ff1010" stroke-width="0.75" stroke-linejoin="round"/>
<path d="M73.4,50.6 L74.5,53.1" fill="none" stroke="#ff1010" stroke-width="0.75" stroke-linejoin="round"/>
</svg>
<text x="46.0" y="50.1" font-family="&apos;Liberation Sans&apos;, sans-serif" font-size="7" fill="#333" text-anchor="end">64</text>
<text x="46.0" y="66.7" font-family="&apos;Liberation Sans&apos;, sans-serif" font-size="7" fill="#333" text-anchor="end">32</text>
<text x="46.0" y="83.3" font-family="&apos;Liberation Sans&apos;, sans-serif" font-size="7" fill="#333" text-anchor="end">16</text>
<text x="46.0" y="99.9" font-family="&apos;Liberation Sans&apos;, sans-serif" font-size="7" fill="#333" text-anchor="end">8</text>
<text x="46.0" y="116.5" font-family="&apos;Liberation Sans&apos;, sans-serif" font-size="7" fill="#333" text-anchor="end">4</text>
<text x="49.0" y="138.2" font-family="&apos;Liberation Sans&apos;, sans-serif" font-size="7" fill="#333" text-anchor="middle">0</text>
<line x1="49.0" y1="128.7" x2="49.0" y2="129.9" stroke="#222" stroke-width="0.6"/>
<text x="75.8" y="138.2" font-family="&apos;Liberation Sans&apos;, sans-serif" font-size="7" fill="#333" text-anchor="middle">500</text>
<line x1="75.8" y1="128.7" x2="75.8" y2="129.9" stroke="#222" stroke-width="0.6"/>
<text x="102.5" y="138.2" font-family="&apos;Liberation Sans&apos;, sans-serif" font-size="7" fill="#333" text-anchor="middle">1000</text>
<line x1="102.5" y1="128.7" x2="102.5" y2="129.9" stroke="#222" stroke-width="0.6"/>
<text x="129.2" y="138.2" font-family="&apos;Liberation Sans&apos;, sans-serif" font-size="7" fill="#333" text-anchor="middle">1500</text>
<line x1="129.2" y1="128.7" x2="129.2" y2="129.9" stroke="#222" stroke-width="0.6"/>
<text x="172.3" y="50.1" font-family="&apos;Liberation Sans&apos;, sans-serif" font-size="7" fill="#333" text-anchor="end">64</text>
<text x="172.3" y="66.7" font-family="&apos;Liberation Sans&apos;, sans-serif" font-size="7" fill="#333" text-anchor="end">32</text>
<text x="172.3" y="83.3" font-family="&apos;Liberation Sans&apos;, sans-serif" font-size="7" fill="#333" text-anchor="end">16</text>
<text x="172.3" y="99.9" font-family="&apos;Liberation Sans&apos;, sans-serif" font-size="7" fill="#333" text-anchor="end">8</text>
<text x="172.3" y="116.5" font-family="&apos;Liberation Sans&apos;, sans-serif" font-size="7" fill="#333" text-anchor="end">4</text>
<text x="175.3" y="138.2" font-family="&apos;Liberation Sans&apos;, sans-serif" font-size="7" fill="#333" text-anchor="middle">0</text>
<line x1="175.3" y1="128.7" x2="175.3" y2="129.9" stroke="#222" stroke-width="0.6"/>
<text x="202.1" y="138.2" font-family="&apos;Liberation Sans&apos;, sans-serif" font-size="7" fill="#333" text-anchor="middle">500</text>
<line x1="202.1" y1="128.7" x2="202.1" y2="129.9" stroke="#222" stroke-width="0.6"/>
<text x="228.8" y="138.2" font-family="&apos;Liberation Sans&apos;, sans-serif" font-size="7" fill="#333" text-anchor="middle">1000</text>
<line x1="228.8" y1="128.7" x2="228.8" y2="129.9" stroke="#222" stroke-width="0.6"/>
<text x="255.6" y="138.2" font-family="&apos;Liberation Sans&apos;, sans-serif" font-size="7" fill="#333" text-anchor="middle">1500</text>
<line x1="255.6" y1="128.7" x2="255.6" y2="129.9" stroke="#222" stroke-width="0.6"/>
<text x="299.1" y="50.1" font-family="&apos;Liberation Sans&apos;, sans-serif" font-size="7" fill="#333" text-anchor="end">64</text>
<text x="299.1" y="66.7" font-family="&apos;Liberation Sans&apos;, sans-serif" font-size="7" fill="#333" text-anchor="end">32</text>
<text x="299.1" y="83.3" font-family="&apos;Liberation Sans&apos;, sans-serif" font-size="7" fill="#333" text-anchor="end">16</text>
<text x="299.1" y="99.9" font-family="&apos;Liberation Sans&apos;, sans-serif" font-size="7" fill="#333" text-anchor="end">8</text>
<text x="299.1" y="116.5" font-family="&apos;Liberation Sans&apos;, sans-serif" font-size="7" fill="#333" text-anchor="end">4</text>
<text x="302.1" y="138.2" font-family="&apos;Liberation Sans&apos;, sans-serif" font-size="7" fill="#333" text-anchor="middle">0</text>
<line x1="302.1" y1="128.7" x2="302.1" y2="129.9" stroke="#222" stroke-width="0.6"/>
<text x="329.0" y="138.2" font-family="&apos;Liberation Sans&apos;, sans-serif" font-size="7" fill="#333" text-anchor="middle">500</text>
<line x1="329.0" y1="128.7" x2="329.0" y2="129.9" stroke="#222" stroke-width="0.6"/>
<text x="355.8" y="138.2" font-family="&apos;Liberation Sans&apos;, sans-serif" font-size="7" fill="#333" text-anchor="middle">1000</text>
<line x1="355.8" y1="128.7" x2="355.8" y2="129.9" stroke="#222" stroke-width="0.6"/>
<text x="382.7" y="138.2" font-family="&apos;Liberation Sans&apos;, sans-serif" font-size="7" fill="#333" text-anchor="middle">1500</text>
<line x1="382.7" y1="128.7" x2="382.7" y2="129.9" stroke="#222" stroke-width="0.6"/>
<text x="46.0" y="185.1" font-family="&apos;Liberation Sans&apos;, sans-serif" font-size="7" fill="#333" text-anchor="end">64</text>
<text x="46.0" y="201.7" font-family="&apos;Liberation Sans&apos;, sans-serif" font-size="7" fill="#333" text-anchor="end">32</text>
<text x="46.0" y="218.3" font-family="&apos;Liberation Sans&apos;, sans-serif" font-size="7" fill="#333" text-anchor="end">16</text>
<text x="46.0" y="234.9" font-family="&apos;Liberation Sans&apos;, sans-serif" font-size="7" fill="#333" text-anchor="end">8</text>
<text x="46.0" y="251.5" font-family="&apos;Liberation Sans&apos;, sans-serif" font-size="7" fill="#333" text-anchor="end">4</text>
<text x="75.8" y="273.2" font-family="&apos;Liberation Sans&apos;, sans-serif" font-size="7" fill="#333" text-anchor="middle">500</text>
<line x1="75.8" y1="263.7" x2="75.8" y2="264.9" stroke="#222" stroke-width="0.6"/>
<text x="102.5" y="273.2" font-family="&apos;Liberation Sans&apos;, sans-serif" font-size="7" fill="#333" text-anchor="middle">1000</text>
<line x1="102.5" y1="263.7" x2="102.5" y2="264.9" stroke="#222" stroke-width="0.6"/>
<text x="129.2" y="273.2" font-family="&apos;Liberation Sans&apos;, sans-serif" font-size="7" fill="#333" text-anchor="middle">1500</text>
<line x1="129.2" y1="263.7" x2="129.2" y2="264.9" stroke="#222" stroke-width="0.6"/>
<text x="172.3" y="185.1" font-family="&apos;Liberation Sans&apos;, sans-serif" font-size="7" fill="#333" text-anchor="end">64</text>
<text x="172.3" y="201.7" font-family="&apos;Liberation Sans&apos;, sans-serif" font-size="7" fill="#333" text-anchor="end">32</text>
<text x="172.3" y="218.3" font-family="&apos;Liberation Sans&apos;, sans-serif" font-size="7" fill="#333" text-anchor="end">16</text>
<text x="172.3" y="234.9" font-family="&apos;Liberation Sans&apos;, sans-serif" font-size="7" fill="#333" text-anchor="end">8</text>
<text x="172.3" y="251.5" font-family="&apos;Liberation Sans&apos;, sans-serif" font-size="7" fill="#333" text-anchor="end">4</text>
<text x="202.1" y="273.2" font-family="&apos;Liberation Sans&apos;, sans-serif" font-size="7" fill="#333" text-anchor="middle">500</text>
<line x1="202.1" y1="263.7" x2="202.1" y2="264.9" stroke="#222" stroke-width="0.6"/>
<text x="228.8" y="273.2" font-family="&apos;Liberation Sans&apos;, sans-serif" font-size="7" fill="#333" text-anchor="middle">1000</text>
<line x1="228.8" y1="263.7" x2="228.8" y2="264.9" stroke="#222" stroke-width="0.6"/>
<text x="255.6" y="273.2" font-family="&apos;Liberation Sans&apos;, sans-serif" font-size="7" fill="#333" text-anchor="middle">1500</text>
<line x1="255.6" y1="263.7" x2="255.6" y2="264.9" stroke="#222" stroke-width="0.6"/>
<text x="299.1" y="185.1" font-family="&apos;Liberation Sans&apos;, sans-serif" font-size="7" fill="#333" text-anchor="end">64</text>
<text x="299.1" y="201.7" font-family="&apos;Liberation Sans&apos;, sans-serif" font-size="7" fill="#333" text-anchor="end">32</text>
<text x="299.1" y="218.3" font-family="&apos;Liberation Sans&apos;, sans-serif" font-size="7" fill="#333" text-anchor="end">16</text>
<text x="299.1" y="234.9" font-family="&apos;Liberation Sans&apos;, sans-serif" font-size="7" fill="#333" text-anchor="end">8</text>
<text x="299.1" y="251.5" font-family="&apos;Liberation Sans&apos;, sans-serif" font-size="7" fill="#333" text-anchor="end">4</text>
<text x="302.1" y="273.2" font-family="&apos;Liberation Sans&apos;, sans-serif" font-size="7" fill="#333" text-anchor="middle">0</text>
<line x1="302.1" y1="263.7" x2="302.1" y2="264.9" stroke="#222" stroke-width="0.6"/>
<text x="329.0" y="273.2" font-family="&apos;Liberation Sans&apos;, sans-serif" font-size="7" fill="#333" text-anchor="middle">500</text>
<line x1="329.0" y1="263.7" x2="329.0" y2="264.9" stroke="#222" stroke-width="0.6"/>
<text x="355.8" y="273.2" font-family="&apos;Liberation Sans&apos;, sans-serif" font-size="7" fill="#333" text-anchor="middle">1000</text>
<line x1="355.8" y1="263.7" x2="355.8" y2="264.9" stroke="#222" stroke-width="0.6"/>
<text x="382.7" y="273.2" font-family="&apos;Liberation Sans&apos;, sans-serif" font-size="7" fill="#333" text-anchor="middle">1500</text>
<line x1="382.7" y1="263.7" x2="382.7" y2="264.9" stroke="#222" stroke-width="0.6"/>
<text x="46.0" y="319.6" font-family="&apos;Liberation Sans&apos;, sans-serif" font-size="7" fill="#333" text-anchor="end">64</text>
<text x="46.0" y="336.2" font-family="&apos;Liberation Sans&apos;, sans-serif" font-size="7" fill="#333" text-anchor="end">32</text>
<text x="46.0" y="352.8" font-family="&apos;Liberation Sans&apos;, sans-serif" font-size="7" fill="#333" text-anchor="end">16</text>
<text x="46.0" y="369.4" font-family="&apos;Liberation Sans&apos;, sans-serif" font-size="7" fill="#333" text-anchor="end">8</text>
<text x="46.0" y="386.0" font-family="&apos;Liberation Sans&apos;, sans-serif" font-size="7" fill="#333" text-anchor="end">4</text>
<text x="49.0" y="407.3" font-family="&apos;Liberation Sans&apos;, sans-serif" font-size="7" fill="#333" text-anchor="middle">0</text>
<line x1="49.0" y1="397.8" x2="49.0" y2="399.0" stroke="#222" stroke-width="0.6"/>
<text x="75.8" y="407.3" font-family="&apos;Liberation Sans&apos;, sans-serif" font-size="7" fill="#333" text-anchor="middle">500</text>
<line x1="75.8" y1="397.8" x2="75.8" y2="399.0" stroke="#222" stroke-width="0.6"/>
<text x="102.5" y="407.3" font-family="&apos;Liberation Sans&apos;, sans-serif" font-size="7" fill="#333" text-anchor="middle">1000</text>
<line x1="102.5" y1="397.8" x2="102.5" y2="399.0" stroke="#222" stroke-width="0.6"/>
<text x="129.2" y="407.3" font-family="&apos;Liberation Sans&apos;, sans-serif" font-size="7" fill="#333" text-anchor="middle">1500</text>
<line x1="129.2" y1="397.8" x2="129.2" y2="399.0" stroke="#222" stroke-width="0.6"/>
<text x="172.3" y="319.6" font-family="&apos;Liberation Sans&apos;, sans-serif" font-size="7" fill="#333" text-anchor="end">64</text>
<text x="172.3" y="336.2" font-family="&apos;Liberation Sans&apos;, sans-serif" font-size="7" fill="#333" text-anchor="end">32</text>
<text x="172.3" y="352.8" font-family="&apos;Liberation Sans&apos;, sans-serif" font-size="7" fill="#333" text-anchor="end">16</text>
<text x="172.3" y="369.4" font-family="&apos;Liberation Sans&apos;, sans-serif" font-size="7" fill="#333" text-anchor="end">8</text>
<text x="172.3" y="386.0" font-family="&apos;Liberation Sans&apos;, sans-serif" font-size="7" fill="#333" text-anchor="end">4</text>
<text x="175.3" y="407.3" font-family="&apos;Liberation Sans&apos;, sans-serif" font-size="7" fill="#333" text-anchor="middle">0</text>
<line x1="175.3" y1="397.8" x2="175.3" y2="399.0" stroke="#222" stroke-width="0.6"/>
<text x="202.1" y="407.3" font-family="&apos;Liberation Sans&apos;, sans-serif" font-size="7" fill="#333" text-anchor="middle">500</text>
<line x1="202.1" y1="397.8" x2="202.1" y2="399.0" stroke="#222" stroke-width="0.6"/>
<text x="228.8" y="407.3" font-family="&apos;Liberation Sans&apos;, sans-serif" font-size="7" fill="#333" text-anchor="middle">1000</text>
<line x1="228.8" y1="397.8" x2="228.8" y2="399.0" stroke="#222" stroke-width="0.6"/>
<text x="255.6" y="407.3" font-family="&apos;Liberation Sans&apos;, sans-serif" font-size="7" fill="#333" text-anchor="middle">1500</text>
<line x1="255.6" y1="397.8" x2="255.6" y2="399.0" stroke="#222" stroke-width="0.6"/>
<text x="299.1" y="319.6" font-family="&apos;Liberation Sans&apos;, sans-serif" font-size="7" fill="#333" text-anchor="end">64</text>
<text x="299.1" y="336.2" font-family="&apos;Liberation Sans&apos;, sans-serif" font-size="7" fill="#333" text-anchor="end">32</text>
<text x="299.1" y="352.8" font-family="&apos;Liberation Sans&apos;, sans-serif" font-size="7" fill="#333" text-anchor="end">16</text>
<text x="299.1" y="369.4" font-family="&apos;Liberation Sans&apos;, sans-serif" font-size="7" fill="#333" text-anchor="end">8</text>
<text x="299.1" y="386.0" font-family="&apos;Liberation Sans&apos;, sans-serif" font-size="7" fill="#333" text-anchor="end">4</text>
<text x="302.1" y="407.3" font-family="&apos;Liberation Sans&apos;, sans-serif" font-size="7" fill="#333" text-anchor="middle">0</text>
<line x1="302.1" y1="397.8" x2="302.1" y2="399.0" stroke="#222" stroke-width="0.6"/>
<text x="329.0" y="407.3" font-family="&apos;Liberation Sans&apos;, sans-serif" font-size="7" fill="#333" text-anchor="middle">500</text>
<line x1="329.0" y1="397.8" x2="329.0" y2="399.0" stroke="#222" stroke-width="0.6"/>
<text x="355.8" y="407.3" font-family="&apos;Liberation Sans&apos;, sans-serif" font-size="7" fill="#333" text-anchor="middle">1000</text>
<line x1="355.8" y1="397.8" x2="355.8" y2="399.0" stroke="#222" stroke-width="0.6"/>
<text x="382.7" y="407.3" font-family="&apos;Liberation Sans&apos;, sans-serif" font-size="7" fill="#333" text-anchor="middle">1500</text>
<line x1="382.7" y1="397.8" x2="382.7" y2="399.0" stroke="#222" stroke-width="0.6"/>
<text x="102.8" y="28.4" font-family="&apos;Liberation Sans&apos;, sans-serif" font-size="11.2" font-weight="normal" fill="#000" text-anchor="middle" stroke="#000" stroke-width="0.35">Anterior</text>
<text x="224.2" y="27.9" font-family="&apos;Liberation Sans&apos;, sans-serif" font-size="11.2" font-weight="normal" fill="#000" text-anchor="middle" stroke="#000" stroke-width="0.35">Posterior</text>
<text x="348" y="28.1" font-family="&apos;Liberation Sans&apos;, sans-serif" font-size="11.2" font-weight="normal" fill="#000" text-anchor="middle" stroke="#000" stroke-width="0.35">Interaction</text>
<text x="0" y="21.7" font-family="&apos;Liberation Sans&apos;, sans-serif" font-size="27.8" font-weight="bold" transform="translate(-0.8,0) scale(0.93,1)">A</text>
<text x="0" y="18.7" font-family="&apos;Liberation Sans&apos;, sans-serif" font-size="27.8" font-weight="bold" transform="translate(424,0) scale(0.8,1)">B</text>
<text x="0" y="0" font-family="&apos;Liberation Sans&apos;, sans-serif" font-size="10.3" font-weight="bold" text-anchor="middle" textLength="56.2" lengthAdjust="spacingAndGlyphs" transform="translate(13.2,81.7) rotate(-90)">Recollection</text>
<text x="0" y="0" font-family="&apos;Liberation Sans&apos;, sans-serif" font-size="10.3" font-weight="bold" text-anchor="middle" textLength="51.3" lengthAdjust="spacingAndGlyphs" transform="translate(13.2,214.2) rotate(-90)">Familiarity</text>
<text x="0" y="0" font-family="&apos;Liberation Sans&apos;, sans-serif" font-size="10.3" font-weight="bold" text-anchor="middle" textLength="37.0" lengthAdjust="spacingAndGlyphs" transform="translate(13.2,353.2) rotate(-90)">Novelty</text>
<text x="0" y="0" font-family="&apos;Liberation Sans&apos;, sans-serif" font-size="7.4" fill="#444" text-anchor="middle" transform="translate(34.6,81) rotate(-90)">Frequency (Hz)</text>
<text x="97.5" y="146.6" font-family="&apos;Liberation Sans&apos;, sans-serif" font-size="7.5" font-weight="normal" fill="#333" text-anchor="middle" textLength="32.6" lengthAdjust="spacingAndGlyphs">Time (ms)</text>
<defs><linearGradient id="gpar" x1="0" y1="1" x2="0" y2="0"><stop offset="0.0" stop-color="#3e26a8"/><stop offset="0.1111111111111111" stop-color="#4747eb"/><stop offset="0.2222222222222222" stop-color="#3e6fff"/><stop offset="0.3333333333333333" stop-color="#2797eb"/><stop offset="0.4444444444444444" stop-color="#08b5d0"/><stop offset="0.5555555555555556" stop-color="#31c69f"/><stop offset="0.6666666666666666" stop-color="#81cc59"/><stop offset="0.7777777777777778" stop-color="#dcbd29"/><stop offset="0.8888888888888888" stop-color="#fccf30"/><stop offset="1.0" stop-color="#f9fb0e"/></linearGradient></defs>
<defs><linearGradient id="gpink" x1="0" y1="1" x2="0" y2="0"><stop offset="0" stop-color="#331414"/><stop offset="0.1" stop-color="#654242"/><stop offset="0.2" stop-color="#8e5d5d"/><stop offset="0.3" stop-color="#ae7272"/><stop offset="0.38" stop-color="#c38180"/><stop offset="0.46" stop-color="#cc9e8d"/><stop offset="0.56" stop-color="#d6bb9c"/><stop offset="0.68" stop-color="#e2d9ac"/><stop offset="0.84" stop-color="#f1f1d2"/><stop offset="1.0" stop-color="#ffffff"/></linearGradient></defs>
<rect x="404.8" y="89.3" width="6.6" height="112.5" fill="url(#gpar)" stroke="#bbb" stroke-width="0.4"/>
<rect x="404.8" y="224.3" width="6.6" height="112.4" fill="url(#gpink)" stroke="#bbb" stroke-width="0.4"/>
<text x="415.3" y="96.7" font-family="&apos;Liberation Sans&apos;, sans-serif" font-size="9" font-weight="bold" fill="#000" text-anchor="start" >2</text>
<text x="413.8" y="201.2" font-family="&apos;Liberation Sans&apos;, sans-serif" font-size="9" font-weight="bold" fill="#000" text-anchor="start" >-2</text>
<text x="415.3" y="231.9" font-family="&apos;Liberation Sans&apos;, sans-serif" font-size="9" font-weight="bold" fill="#000" text-anchor="start" >2</text>
<text x="413.8" y="336.4" font-family="&apos;Liberation Sans&apos;, sans-serif" font-size="9" font-weight="bold" fill="#000" text-anchor="start" >-2</text>
<text x="0" y="0" font-family="&apos;Liberation Sans&apos;, sans-serif" font-size="6.6" font-weight="bold" text-anchor="middle" transform="translate(415.5,146.7) rotate(90)">Z-scored power</text>
<text x="0" y="0" font-family="&apos;Liberation Sans&apos;, sans-serif" font-size="6.6" font-weight="bold" text-anchor="middle" transform="translate(415.5,281.0) rotate(90)">Z-scored power</text>
<clipPath id="cp00"><rect x="459.4" y="33.5" width="98.7" height="96.8"/></clipPath>
<g clip-path="url(#cp00)">
<path d="M459.40,124.20 C459.70,122.63 460.53,117.60 461.20,114.78 C461.87,111.96 462.50,109.57 463.40,107.26 C464.30,104.96 465.55,102.71 466.60,100.94 C467.65,99.16 468.47,98.04 469.70,96.61 C470.93,95.18 472.58,93.97 474.00,92.38 C475.42,90.78 476.97,88.82 478.20,87.04 C479.43,85.26 480.33,83.49 481.40,81.71 C482.47,79.94 483.53,78.18 484.60,76.39 C485.67,74.59 486.73,72.57 487.80,70.96 C488.87,69.35 489.93,67.79 491.00,66.73 C492.07,65.67 492.97,65.21 494.20,64.61 C495.43,64.00 496.98,63.50 498.40,63.09 C499.82,62.69 501.28,62.47 502.70,62.18 C504.12,61.88 505.68,61.46 506.90,61.30 C508.12,61.14 509.08,61.03 510.00,61.20 C510.92,61.37 511.47,61.77 512.40,62.30 C513.33,62.83 514.53,63.52 515.60,64.40 C516.67,65.28 517.73,66.31 518.80,67.60 C519.87,68.89 520.93,70.63 522.00,72.16 C523.07,73.69 524.13,75.22 525.20,76.78 C526.27,78.33 527.35,79.97 528.40,81.49 C529.45,83.01 530.45,84.70 531.50,85.91 C532.55,87.12 533.63,88.19 534.70,88.73 C535.77,89.28 536.83,89.27 537.90,89.16 C538.97,89.05 540.03,88.36 541.10,88.08 C542.17,87.81 543.23,87.50 544.30,87.51 C545.37,87.51 546.55,87.66 547.50,88.13 C548.45,88.60 549.12,89.09 550.00,90.35 C550.88,91.60 551.98,93.90 552.80,95.67 C553.62,97.44 554.27,99.15 554.90,100.98 C555.53,102.82 556.32,105.74 556.60,106.70 L556.60,107.30 556.60,107.30 C556.32,106.36 555.53,103.44 554.90,101.62 C554.27,99.79 553.62,98.09 552.80,96.33 C551.98,94.57 550.88,92.30 550.00,91.05 C549.12,89.81 548.45,89.33 547.50,88.87 C546.55,88.41 545.37,88.29 544.30,88.29 C543.23,88.30 542.17,88.63 541.10,88.92 C540.03,89.21 538.97,89.92 537.90,90.04 C536.83,90.17 535.77,90.19 534.70,89.67 C533.63,89.14 532.55,88.02 531.50,86.89 C530.45,85.76 529.45,84.22 528.40,82.91 C527.35,81.60 526.27,80.30 525.20,79.02 C524.13,77.75 523.07,76.54 522.00,75.24 C520.93,73.94 519.87,72.41 518.80,71.20 C517.73,69.99 516.67,68.88 515.60,68.00 C514.53,67.12 513.33,66.43 512.40,65.90 C511.47,65.37 510.92,64.97 510.00,64.80 C509.08,64.63 508.12,64.83 506.90,64.90 C505.68,64.97 504.12,65.19 502.70,65.22 C501.28,65.26 499.82,65.01 498.40,65.11 C496.98,65.20 495.43,65.33 494.20,65.79 C492.97,66.25 492.07,66.83 491.00,67.87 C489.93,68.91 488.87,70.45 487.80,72.04 C486.73,73.63 485.67,75.64 484.60,77.41 C483.53,79.19 482.47,80.93 481.40,82.69 C480.33,84.44 479.43,86.20 478.20,87.96 C476.97,89.72 475.42,91.65 474.00,93.22 C472.58,94.80 470.93,95.98 469.70,97.39 C468.47,98.80 467.65,99.91 466.60,101.66 C465.55,103.42 464.30,105.64 463.40,107.94 C462.50,110.23 461.87,112.61 461.20,115.42 C460.53,118.23 459.70,123.24 459.40,124.80 Z" fill="#f8a8a8" opacity="0.85"/>
<path d="M463.60,132.18 C463.73,131.77 463.90,131.16 464.40,129.68 C464.90,128.19 465.72,125.76 466.60,123.27 C467.48,120.78 468.65,117.60 469.70,114.76 C470.75,111.92 471.83,109.27 472.90,106.25 C473.97,103.23 475.03,99.82 476.10,96.63 C477.17,93.45 478.23,90.48 479.30,87.12 C480.37,83.77 481.43,79.73 482.50,76.51 C483.57,73.29 484.63,70.47 485.70,67.80 C486.77,65.14 487.67,62.09 488.90,60.51 C490.13,58.92 491.70,58.98 493.10,58.29 C494.50,57.59 495.88,56.97 497.30,56.34 C498.72,55.71 500.18,54.96 501.60,54.50 C503.02,54.03 504.70,53.65 505.80,53.55 C506.90,53.45 507.27,53.64 508.20,53.89 C509.13,54.15 510.17,54.57 511.40,55.07 C512.63,55.57 514.18,56.22 515.60,56.89 C517.02,57.56 518.67,58.34 519.90,59.09 C521.13,59.85 521.95,60.33 523.00,61.45 C524.05,62.57 525.13,64.15 526.20,65.81 C527.27,67.47 528.33,69.51 529.40,71.40 C530.47,73.29 531.35,75.42 532.60,77.16 C533.85,78.89 535.48,80.33 536.90,81.81 C538.32,83.29 539.70,84.25 541.10,86.03 C542.50,87.80 544.07,90.31 545.30,92.45 C546.53,94.59 547.43,96.21 548.50,98.86 C549.57,101.52 550.63,105.19 551.70,108.38 C552.77,111.56 554.08,115.50 554.90,117.99 C555.72,120.48 556.32,122.41 556.60,123.30 L556.60,123.90 556.60,123.90 C556.32,123.02 555.72,121.09 554.90,118.61 C554.08,116.13 552.77,112.20 551.70,109.02 C550.63,105.85 549.57,102.18 548.50,99.54 C547.43,96.89 546.53,95.28 545.30,93.15 C544.07,91.03 542.50,88.53 541.10,86.77 C539.70,85.01 538.32,83.95 536.90,82.59 C535.48,81.24 533.85,80.11 532.60,78.64 C531.35,77.18 530.47,75.44 529.40,73.80 C528.33,72.16 527.27,70.30 526.20,68.79 C525.13,67.28 524.05,65.76 523.00,64.75 C521.95,63.74 521.13,63.38 519.90,62.70 C518.67,62.03 517.02,61.67 515.60,60.71 C514.18,59.74 512.63,57.83 511.40,56.93 C510.17,56.03 509.13,55.59 508.20,55.31 C507.27,55.03 506.90,55.02 505.80,55.25 C504.70,55.48 503.02,56.07 501.60,56.70 C500.18,57.34 498.72,58.26 497.30,59.06 C495.88,59.86 494.50,60.78 493.10,61.51 C491.70,62.25 490.13,62.24 488.90,63.49 C487.67,64.74 486.77,66.70 485.70,69.00 C484.63,71.30 483.57,74.14 482.50,77.29 C481.43,80.44 480.37,84.53 479.30,87.88 C478.23,91.22 477.17,94.19 476.10,97.37 C475.03,100.55 473.97,103.94 472.90,106.95 C471.83,109.97 470.75,112.61 469.70,115.44 C468.65,118.27 467.48,121.45 466.60,123.93 C465.72,126.41 464.90,128.84 464.40,130.32 C463.90,131.80 463.73,132.40 463.60,132.82 Z" fill="#a8a8fa" opacity="0.85"/>
<path d="M459.40,124.50 C459.70,122.93 460.53,117.92 461.20,115.10 C461.87,112.28 462.50,109.90 463.40,107.60 C464.30,105.30 465.55,103.07 466.60,101.30 C467.65,99.53 468.47,98.42 469.70,97.00 C470.93,95.58 472.58,94.38 474.00,92.80 C475.42,91.22 476.97,89.27 478.20,87.50 C479.43,85.73 480.33,83.97 481.40,82.20 C482.47,80.43 483.53,78.68 484.60,76.90 C485.67,75.12 486.73,73.10 487.80,71.50 C488.87,69.90 489.93,68.35 491.00,67.30 C492.07,66.25 492.97,65.73 494.20,65.20 C495.43,64.67 496.98,64.35 498.40,64.10 C499.82,63.85 501.28,63.87 502.70,63.70 C504.12,63.53 505.68,63.22 506.90,63.10 C508.12,62.98 509.08,62.83 510.00,63.00 C510.92,63.17 511.47,63.57 512.40,64.10 C513.33,64.63 514.53,65.32 515.60,66.20 C516.67,67.08 517.73,68.15 518.80,69.40 C519.87,70.65 520.93,72.28 522.00,73.70 C523.07,75.12 524.13,76.48 525.20,77.90 C526.27,79.32 527.35,80.78 528.40,82.20 C529.45,83.62 530.45,85.23 531.50,86.40 C532.55,87.57 533.63,88.67 534.70,89.20 C535.77,89.73 536.83,89.72 537.90,89.60 C538.97,89.48 540.03,88.78 541.10,88.50 C542.17,88.22 543.23,87.90 544.30,87.90 C545.37,87.90 546.55,88.03 547.50,88.50 C548.45,88.97 549.12,89.45 550.00,90.70 C550.88,91.95 551.98,94.23 552.80,96.00 C553.62,97.77 554.27,99.47 554.90,101.30 C555.53,103.13 556.32,106.05 556.60,107.00" fill="none" stroke="#ff0000" stroke-width="2.4" stroke-linejoin="round"/>
<path d="M463.60,132.50 C463.73,132.08 463.90,131.48 464.40,130.00 C464.90,128.52 465.72,126.08 466.60,123.60 C467.48,121.12 468.65,117.93 469.70,115.10 C470.75,112.27 471.83,109.62 472.90,106.60 C473.97,103.58 475.03,100.18 476.10,97.00 C477.17,93.82 478.23,90.85 479.30,87.50 C480.37,84.15 481.43,80.08 482.50,76.90 C483.57,73.72 484.63,70.88 485.70,68.40 C486.77,65.92 487.67,63.42 488.90,62.00 C490.13,60.58 491.70,60.62 493.10,59.90 C494.50,59.18 495.88,58.42 497.30,57.70 C498.72,56.98 500.18,56.15 501.60,55.60 C503.02,55.05 504.70,54.57 505.80,54.40 C506.90,54.23 507.27,54.33 508.20,54.60 C509.13,54.87 510.17,55.30 511.40,56.00 C512.63,56.70 514.18,57.98 515.60,58.80 C517.02,59.62 518.67,60.18 519.90,60.90 C521.13,61.62 521.95,62.03 523.00,63.10 C524.05,64.17 525.13,65.72 526.20,67.30 C527.27,68.88 528.33,70.83 529.40,72.60 C530.47,74.37 531.35,76.30 532.60,77.90 C533.85,79.50 535.48,80.78 536.90,82.20 C538.32,83.62 539.70,84.63 541.10,86.40 C542.50,88.17 544.07,90.67 545.30,92.80 C546.53,94.93 547.43,96.55 548.50,99.20 C549.57,101.85 550.63,105.52 551.70,108.70 C552.77,111.88 554.08,115.82 554.90,118.30 C555.72,120.78 556.32,122.72 556.60,123.60" fill="none" stroke="#0000ff" stroke-width="2.4" stroke-linejoin="round"/>
</g>
<line x1="459.4" y1="43.0" x2="474.8" y2="43.0" stroke="#ff0000" stroke-width="2.1"/>
<line x1="491.7" y1="43.0" x2="511.2" y2="43.0" stroke="#0000ff" stroke-width="2.1"/>
<line x1="520.1" y1="43.0" x2="535.7" y2="43.0" stroke="#0000ff" stroke-width="2.1"/>
<line x1="545" y1="43.0" x2="556.5" y2="43.0" stroke="#ff0000" stroke-width="2.1"/>
<rect x="459.4" y="33.5" width="97.2" height="96.8" fill="none" stroke="#777" stroke-width="0.8"/>
<line x1="486.4" y1="33.5" x2="486.4" y2="35.0" stroke="#777" stroke-width="0.6"/>
<line x1="486.4" y1="130.3" x2="486.4" y2="128.8" stroke="#777" stroke-width="0.6"/>
<line x1="513.4" y1="33.5" x2="513.4" y2="35.0" stroke="#777" stroke-width="0.6"/>
<line x1="513.4" y1="130.3" x2="513.4" y2="128.8" stroke="#777" stroke-width="0.6"/>
<line x1="540.4" y1="33.5" x2="540.4" y2="35.0" stroke="#777" stroke-width="0.6"/>
<line x1="540.4" y1="130.3" x2="540.4" y2="128.8" stroke="#777" stroke-width="0.6"/>
<line x1="459.4" y1="42.5" x2="460.9" y2="42.5" stroke="#777" stroke-width="0.6"/>
<line x1="556.6" y1="42.5" x2="555.1" y2="42.5" stroke="#777" stroke-width="0.6"/>
<text x="457.2" y="45.2" font-family="&apos;Liberation Sans&apos;, sans-serif" font-size="7.6" font-weight="normal" fill="#333" text-anchor="end" >2</text>
<line x1="459.4" y1="82.0" x2="460.9" y2="82.0" stroke="#777" stroke-width="0.6"/>
<line x1="556.6" y1="82.0" x2="555.1" y2="82.0" stroke="#777" stroke-width="0.6"/>
<text x="457.2" y="84.7" font-family="&apos;Liberation Sans&apos;, sans-serif" font-size="7.6" font-weight="normal" fill="#333" text-anchor="end" >0</text>
<line x1="459.4" y1="121.5" x2="460.9" y2="121.5" stroke="#777" stroke-width="0.6"/>
<line x1="556.6" y1="121.5" x2="555.1" y2="121.5" stroke="#777" stroke-width="0.6"/>
<text x="457.2" y="124.2" font-family="&apos;Liberation Sans&apos;, sans-serif" font-size="7.6" font-weight="normal" fill="#333" text-anchor="end" >-2</text>
<text x="459.4" y="140.1" font-family="&apos;Liberation Sans&apos;, sans-serif" font-size="7.6" font-weight="normal" fill="#333" text-anchor="middle" >0</text>
<text x="486.4" y="140.1" font-family="&apos;Liberation Sans&apos;, sans-serif" font-size="7.6" font-weight="normal" fill="#333" text-anchor="middle" >500</text>
<text x="513.4" y="140.1" font-family="&apos;Liberation Sans&apos;, sans-serif" font-size="7.6" font-weight="normal" fill="#333" text-anchor="middle" >1000</text>
<text x="540.4" y="140.1" font-family="&apos;Liberation Sans&apos;, sans-serif" font-size="7.6" font-weight="normal" fill="#333" text-anchor="middle" >1500</text>
<text x="508.0" y="29.9" font-family="&apos;Liberation Sans&apos;, sans-serif" font-size="8.8" font-weight="bold" fill="#000" text-anchor="middle" >Slow Theta</text>
<clipPath id="cp01"><rect x="586.9" y="33.5" width="98.6" height="96.8"/></clipPath>
<g clip-path="url(#cp01)">
<path d="M586.60,92.00 C587.17,90.82 588.87,86.64 590.00,84.92 C591.13,83.19 592.27,82.62 593.40,81.65 C594.53,80.67 595.78,79.37 596.80,79.08 C597.82,78.78 598.50,79.63 599.50,79.88 C600.50,80.14 601.68,80.27 602.80,80.61 C603.92,80.95 605.08,81.31 606.20,81.91 C607.32,82.52 608.60,84.32 609.50,84.22 C610.40,84.12 610.82,83.04 611.60,81.33 C612.38,79.61 613.30,75.51 614.20,73.93 C615.10,72.35 616.10,72.52 617.00,71.84 C617.90,71.16 618.60,70.51 619.60,69.85 C620.60,69.18 621.98,68.40 623.00,67.85 C624.02,67.31 624.80,67.34 625.70,66.56 C626.60,65.78 627.68,64.30 628.40,63.17 C629.12,62.04 629.35,60.84 630.00,59.77 C630.65,58.71 631.48,57.59 632.30,56.78 C633.12,55.96 633.98,54.55 634.90,54.88 C635.82,55.22 636.82,57.32 637.80,58.79 C638.78,60.26 639.82,61.91 640.80,63.70 C641.78,65.48 642.73,67.55 643.70,69.50 C644.67,71.46 645.62,73.44 646.60,75.41 C647.58,77.38 648.62,79.03 649.60,81.32 C650.58,83.60 651.68,86.84 652.50,89.12 C653.32,91.41 653.68,93.23 654.50,95.03 C655.32,96.83 656.27,98.30 657.40,99.94 C658.53,101.57 660.17,104.67 661.30,104.84 C662.43,105.01 663.22,102.52 664.20,100.95 C665.18,99.39 666.22,96.61 667.20,95.46 C668.18,94.31 669.12,94.78 670.10,94.06 C671.08,93.35 672.12,92.05 673.10,91.17 C674.08,90.29 675.03,88.78 676.00,88.78 C676.97,88.78 678.02,90.13 678.90,91.19 C679.78,92.24 680.35,93.09 681.30,95.09 C682.25,97.09 684.05,101.85 684.60,103.20 L684.60,104.80 684.60,104.80 C684.05,103.45 682.25,98.71 681.30,96.71 C680.35,94.71 679.78,93.86 678.90,92.81 C678.02,91.77 676.97,90.42 676.00,90.42 C675.03,90.42 674.08,91.94 673.10,92.83 C672.12,93.71 671.08,95.02 670.10,95.74 C669.12,96.45 668.18,95.99 667.20,97.14 C666.22,98.29 665.18,101.08 664.20,102.65 C663.22,104.22 662.43,106.72 661.30,106.56 C660.17,106.39 658.53,103.30 657.40,101.66 C656.27,100.03 655.32,98.57 654.50,96.77 C653.68,94.97 653.32,93.16 652.50,90.88 C651.68,88.60 650.58,85.36 649.60,83.08 C648.62,80.80 647.58,79.15 646.60,77.19 C645.62,75.23 644.67,73.24 643.70,71.30 C642.73,69.35 641.78,67.29 640.80,65.50 C639.82,63.72 638.78,62.08 637.80,60.61 C636.82,59.15 635.82,57.05 634.90,56.72 C633.98,56.39 633.12,57.81 632.30,58.62 C631.48,59.44 630.65,60.56 630.00,61.63 C629.35,62.70 629.12,63.90 628.40,65.03 C627.68,66.17 626.60,67.65 625.70,68.44 C624.80,69.22 624.02,69.19 623.00,69.75 C621.98,70.30 620.60,71.08 619.60,71.75 C618.60,72.42 617.90,73.07 617.00,73.76 C616.10,74.45 615.10,74.28 614.20,75.87 C613.30,77.45 612.38,81.55 611.60,83.27 C610.82,84.99 610.40,86.08 609.50,86.18 C608.60,86.28 607.32,84.48 606.20,83.89 C605.08,83.29 603.92,82.92 602.80,82.59 C601.68,82.27 600.50,82.13 599.50,81.92 C598.50,81.71 597.82,80.95 596.80,81.32 C595.78,81.70 594.53,83.09 593.40,84.15 C592.27,85.21 591.13,85.88 590.00,87.68 C588.87,89.49 587.17,93.78 586.60,95.00 Z" fill="#f8a8a8" opacity="0.85"/>
<path d="M586.60,86.00 C587.07,85.02 588.48,81.66 589.40,80.14 C590.32,78.63 591.20,77.72 592.10,76.91 C593.00,76.11 594.02,75.33 594.80,75.29 C595.58,75.25 596.13,76.32 596.80,76.67 C597.47,77.02 598.02,77.60 598.80,77.40 C599.58,77.20 600.60,76.23 601.50,75.45 C602.40,74.67 603.32,73.61 604.20,72.70 C605.08,71.79 605.92,70.67 606.80,70.00 C607.68,69.33 608.70,69.60 609.50,68.70 C610.30,67.80 610.92,66.50 611.60,64.60 C612.28,62.70 612.82,59.40 613.60,57.30 C614.38,55.20 615.40,53.14 616.30,52.01 C617.20,50.88 618.12,50.39 619.00,50.50 C619.88,50.61 620.72,51.72 621.60,52.68 C622.48,53.64 623.40,54.85 624.30,56.29 C625.20,57.72 626.22,59.89 627.00,61.27 C627.78,62.66 628.02,63.98 629.00,64.62 C629.98,65.25 631.75,64.83 632.90,65.08 C634.05,65.33 634.92,65.94 635.90,66.12 C636.88,66.31 637.83,65.67 638.80,66.17 C639.77,66.67 640.88,67.47 641.70,69.11 C642.52,70.76 643.03,73.42 643.70,76.05 C644.37,78.67 644.88,82.58 645.70,84.88 C646.52,87.17 647.63,88.66 648.60,89.82 C649.57,90.99 650.52,91.85 651.50,91.87 C652.48,91.88 653.58,91.22 654.50,89.91 C655.42,88.61 656.25,85.51 657.00,84.05 C657.75,82.60 658.28,80.89 659.00,81.18 C659.72,81.48 660.52,83.84 661.30,85.84 C662.08,87.84 662.98,90.83 663.70,93.16 C664.42,95.49 664.85,97.73 665.60,99.80 C666.35,101.87 667.12,104.57 668.20,105.60 C669.28,106.63 670.80,106.00 672.10,106.00 C673.40,106.00 674.87,105.73 676.00,105.60 C677.13,105.47 678.02,104.86 678.90,105.20 C679.78,105.54 680.35,105.93 681.30,107.65 C682.25,109.37 684.05,114.19 684.60,115.50 L684.60,118.50 684.60,118.50 C684.05,117.34 682.25,113.10 681.30,111.55 C680.35,110.00 679.78,109.53 678.90,109.20 C678.02,108.88 677.13,109.47 676.00,109.60 C674.87,109.73 673.40,110.00 672.10,110.00 C670.80,110.00 669.28,110.63 668.20,109.60 C667.12,108.57 666.35,105.96 665.60,103.80 C664.85,101.64 664.42,99.21 663.70,96.64 C662.98,94.07 662.08,90.60 661.30,88.36 C660.52,86.12 659.72,83.58 659.00,83.22 C658.28,82.85 657.75,84.67 657.00,86.15 C656.25,87.63 655.42,90.75 654.50,92.09 C653.58,93.42 652.48,94.12 651.50,94.13 C650.52,94.15 649.57,93.31 648.60,92.18 C647.63,91.04 646.52,89.59 645.70,87.32 C644.88,85.05 644.37,81.16 643.70,78.55 C643.03,75.95 642.52,73.31 641.70,71.69 C640.88,70.07 639.77,69.30 638.80,68.83 C637.83,68.36 636.88,69.03 635.90,68.88 C634.92,68.73 634.05,68.14 632.90,67.92 C631.75,67.71 629.98,67.98 629.00,67.58 C628.02,67.18 627.78,66.14 627.00,65.53 C626.22,64.91 625.20,64.48 624.30,63.91 C623.40,63.35 622.48,62.52 621.60,62.12 C620.72,61.72 619.88,61.62 619.00,61.50 C618.12,61.38 617.20,60.92 616.30,61.39 C615.40,61.86 614.38,63.27 613.60,64.30 C612.82,65.34 612.28,66.37 611.60,67.60 C610.92,68.83 610.30,70.80 609.50,71.70 C608.70,72.60 607.68,72.33 606.80,73.00 C605.92,73.67 605.08,74.38 604.20,75.70 C603.32,77.03 602.40,78.80 601.50,80.95 C600.60,83.10 599.58,86.64 598.80,88.60 C598.02,90.56 597.47,92.18 596.80,92.73 C596.13,93.28 595.58,91.65 594.80,91.91 C594.02,92.17 593.00,93.29 592.10,94.29 C591.20,95.28 590.32,96.24 589.40,97.86 C588.48,99.47 587.07,102.98 586.60,104.00 Z" fill="#a8a8fa" opacity="0.85"/>
<path d="M586.60,93.50 C587.17,92.30 588.87,88.07 590.00,86.30 C591.13,84.53 592.27,83.92 593.40,82.90 C594.53,81.88 595.78,80.53 596.80,80.20 C597.82,79.87 598.50,80.67 599.50,80.90 C600.50,81.13 601.68,81.27 602.80,81.60 C603.92,81.93 605.08,82.30 606.20,82.90 C607.32,83.50 608.60,85.30 609.50,85.20 C610.40,85.10 610.82,84.02 611.60,82.30 C612.38,80.58 613.30,76.48 614.20,74.90 C615.10,73.32 616.10,73.48 617.00,72.80 C617.90,72.12 618.60,71.47 619.60,70.80 C620.60,70.13 621.98,69.35 623.00,68.80 C624.02,68.25 624.80,68.28 625.70,67.50 C626.60,66.72 627.68,65.23 628.40,64.10 C629.12,62.97 629.35,61.77 630.00,60.70 C630.65,59.63 631.48,58.52 632.30,57.70 C633.12,56.88 633.98,55.47 634.90,55.80 C635.82,56.13 636.82,58.23 637.80,59.70 C638.78,61.17 639.82,62.82 640.80,64.60 C641.78,66.38 642.73,68.45 643.70,70.40 C644.67,72.35 645.62,74.33 646.60,76.30 C647.58,78.27 648.62,79.92 649.60,82.20 C650.58,84.48 651.68,87.72 652.50,90.00 C653.32,92.28 653.68,94.10 654.50,95.90 C655.32,97.70 656.27,99.17 657.40,100.80 C658.53,102.43 660.17,105.53 661.30,105.70 C662.43,105.87 663.22,103.37 664.20,101.80 C665.18,100.23 666.22,97.45 667.20,96.30 C668.18,95.15 669.12,95.62 670.10,94.90 C671.08,94.18 672.12,92.88 673.10,92.00 C674.08,91.12 675.03,89.60 676.00,89.60 C676.97,89.60 678.02,90.95 678.90,92.00 C679.78,93.05 680.35,93.90 681.30,95.90 C682.25,97.90 684.05,102.65 684.60,104.00" fill="none" stroke="#ff0000" stroke-width="2.4" stroke-linejoin="round"/>
<path d="M586.60,95.00 C587.07,94.00 588.48,90.57 589.40,89.00 C590.32,87.43 591.20,86.50 592.10,85.60 C593.00,84.70 594.02,83.75 594.80,83.60 C595.58,83.45 596.13,84.80 596.80,84.70 C597.47,84.60 598.02,84.08 598.80,83.00 C599.58,81.92 600.60,79.67 601.50,78.20 C602.40,76.73 603.32,75.32 604.20,74.20 C605.08,73.08 605.92,72.17 606.80,71.50 C607.68,70.83 608.70,71.10 609.50,70.20 C610.30,69.30 610.92,67.67 611.60,66.10 C612.28,64.53 612.82,62.37 613.60,60.80 C614.38,59.23 615.40,57.50 616.30,56.70 C617.20,55.90 618.12,55.88 619.00,56.00 C619.88,56.12 620.72,56.72 621.60,57.40 C622.48,58.08 623.40,59.10 624.30,60.10 C625.20,61.10 626.22,62.40 627.00,63.40 C627.78,64.40 628.02,65.58 629.00,66.10 C629.98,66.62 631.75,66.27 632.90,66.50 C634.05,66.73 634.92,67.33 635.90,67.50 C636.88,67.67 637.83,67.02 638.80,67.50 C639.77,67.98 640.88,68.77 641.70,70.40 C642.52,72.03 643.03,74.68 643.70,77.30 C644.37,79.92 644.88,83.82 645.70,86.10 C646.52,88.38 647.63,89.85 648.60,91.00 C649.57,92.15 650.52,93.00 651.50,93.00 C652.48,93.00 653.58,92.32 654.50,91.00 C655.42,89.68 656.25,86.57 657.00,85.10 C657.75,83.63 658.28,81.87 659.00,82.20 C659.72,82.53 660.52,84.98 661.30,87.10 C662.08,89.22 662.98,92.45 663.70,94.90 C664.42,97.35 664.85,99.68 665.60,101.80 C666.35,103.92 667.12,106.57 668.20,107.60 C669.28,108.63 670.80,108.00 672.10,108.00 C673.40,108.00 674.87,107.73 676.00,107.60 C677.13,107.47 678.02,106.87 678.90,107.20 C679.78,107.53 680.35,107.97 681.30,109.60 C682.25,111.23 684.05,115.77 684.60,117.00" fill="none" stroke="#0000ff" stroke-width="2.4" stroke-linejoin="round"/>
</g>
<line x1="603" y1="43.0" x2="620.4" y2="43.0" stroke="#0000ff" stroke-width="2.1"/>
<line x1="621.7" y1="43.0" x2="623" y2="43.0" stroke="#0000ff" stroke-width="2.1"/>
<line x1="630" y1="43.0" x2="640" y2="43.0" stroke="#ff0000" stroke-width="2.1"/>
<line x1="643.9" y1="43.0" x2="652" y2="43.0" stroke="#ff0000" stroke-width="2.1"/>
<line x1="655" y1="43.0" x2="664" y2="43.0" stroke="#0000ff" stroke-width="2.1"/>
<line x1="666" y1="43.0" x2="685" y2="43.0" stroke="#ff0000" stroke-width="2.1"/>
<rect x="586.9" y="33.5" width="97.1" height="96.8" fill="none" stroke="#777" stroke-width="0.8"/>
<line x1="613.9" y1="33.5" x2="613.9" y2="35.0" stroke="#777" stroke-width="0.6"/>
<line x1="613.9" y1="130.3" x2="613.9" y2="128.8" stroke="#777" stroke-width="0.6"/>
<line x1="640.9" y1="33.5" x2="640.9" y2="35.0" stroke="#777" stroke-width="0.6"/>
<line x1="640.9" y1="130.3" x2="640.9" y2="128.8" stroke="#777" stroke-width="0.6"/>
<line x1="667.9" y1="33.5" x2="667.9" y2="35.0" stroke="#777" stroke-width="0.6"/>
<line x1="667.9" y1="130.3" x2="667.9" y2="128.8" stroke="#777" stroke-width="0.6"/>
<line x1="586.9" y1="42.5" x2="588.4" y2="42.5" stroke="#777" stroke-width="0.6"/>
<line x1="684.0" y1="42.5" x2="682.5" y2="42.5" stroke="#777" stroke-width="0.6"/>
<text x="584.7" y="45.2" font-family="&apos;Liberation Sans&apos;, sans-serif" font-size="7.6" font-weight="normal" fill="#333" text-anchor="end" >2</text>
<line x1="586.9" y1="82.0" x2="588.4" y2="82.0" stroke="#777" stroke-width="0.6"/>
<line x1="684.0" y1="82.0" x2="682.5" y2="82.0" stroke="#777" stroke-width="0.6"/>
<text x="584.7" y="84.7" font-family="&apos;Liberation Sans&apos;, sans-serif" font-size="7.6" font-weight="normal" fill="#333" text-anchor="end" >0</text>
<line x1="586.9" y1="121.5" x2="588.4" y2="121.5" stroke="#777" stroke-width="0.6"/>
<line x1="684.0" y1="121.5" x2="682.5" y2="121.5" stroke="#777" stroke-width="0.6"/>
<text x="584.7" y="124.2" font-family="&apos;Liberation Sans&apos;, sans-serif" font-size="7.6" font-weight="normal" fill="#333" text-anchor="end" >-2</text>
<text x="586.9" y="140.1" font-family="&apos;Liberation Sans&apos;, sans-serif" font-size="7.6" font-weight="normal" fill="#333" text-anchor="middle" >0</text>
<text x="613.9" y="140.1" font-family="&apos;Liberation Sans&apos;, sans-serif" font-size="7.6" font-weight="normal" fill="#333" text-anchor="middle" >500</text>
<text x="640.9" y="140.1" font-family="&apos;Liberation Sans&apos;, sans-serif" font-size="7.6" font-weight="normal" fill="#333" text-anchor="middle" >1000</text>
<text x="667.9" y="140.1" font-family="&apos;Liberation Sans&apos;, sans-serif" font-size="7.6" font-weight="normal" fill="#333" text-anchor="middle" >1500</text>
<text x="635.5" y="29.9" font-family="&apos;Liberation Sans&apos;, sans-serif" font-size="8.8" font-weight="bold" fill="#000" text-anchor="middle" >Fast Theta</text>
<text x="0" y="0" font-family="&apos;Liberation Sans&apos;, sans-serif" font-size="8.3" fill="#444" text-anchor="middle" transform="translate(447.8,81.9) rotate(-90)">Recollection</text>
<rect x="479.4" y="106.6" width="56.2" height="18.4" fill="#fff" stroke="#aaa" stroke-width="0.7"/>
<line x1="482" y1="112.0" x2="504.5" y2="112.0" stroke="#ff0000" stroke-width="2"/>
<line x1="482" y1="119.89999999999999" x2="504.5" y2="119.89999999999999" stroke="#0000ff" stroke-width="2"/>
<text x="506.3" y="114.5" font-family="&apos;Liberation Sans&apos;, sans-serif" font-size="7" font-weight="normal" fill="#222" text-anchor="start" >Anterior</text>
<text x="506.3" y="122.4" font-family="&apos;Liberation Sans&apos;, sans-serif" font-size="7" font-weight="normal" fill="#222" text-anchor="start" >Posterior</text>
<clipPath id="cp10"><rect x="459.4" y="168.0" width="98.7" height="96.6"/></clipPath>
<g clip-path="url(#cp10)">
<path d="M459.30,264.20 C459.55,262.59 460.23,257.45 460.80,254.58 C461.37,251.71 461.90,249.84 462.70,246.96 C463.50,244.09 464.63,240.21 465.60,237.34 C466.57,234.46 467.55,231.93 468.50,229.71 C469.45,227.48 470.35,225.74 471.30,223.98 C472.25,222.22 473.23,220.50 474.20,219.15 C475.17,217.81 476.15,216.88 477.10,215.92 C478.05,214.97 478.80,214.06 479.90,213.40 C481.00,212.74 482.42,212.21 483.70,211.96 C484.98,211.72 486.32,211.87 487.60,211.92 C488.88,211.98 490.13,212.29 491.40,212.27 C492.67,212.25 493.93,211.82 495.20,211.80 C496.47,211.77 497.88,212.23 499.00,212.12 C500.12,212.01 500.90,211.02 501.90,211.16 C502.90,211.31 503.85,212.62 505.00,213.00 C506.15,213.38 507.53,213.30 508.80,213.42 C510.07,213.55 511.32,213.77 512.60,213.75 C513.88,213.72 515.22,213.37 516.50,213.27 C517.78,213.17 519.03,213.18 520.30,213.18 C521.57,213.18 522.83,213.46 524.10,213.27 C525.37,213.09 526.63,212.78 527.90,212.07 C529.17,211.35 530.42,209.82 531.70,208.98 C532.98,208.14 534.32,207.68 535.60,207.03 C536.88,206.37 538.13,205.72 539.40,205.07 C540.67,204.42 542.08,203.60 543.20,203.12 C544.32,202.65 545.15,202.15 546.10,202.21 C547.05,202.27 547.95,202.60 548.90,203.49 C549.85,204.38 550.90,205.74 551.80,207.58 C552.70,209.42 553.50,211.80 554.30,214.53 C555.10,217.26 556.22,222.39 556.60,223.96 L556.60,226.04 556.60,226.04 C556.22,224.54 555.10,219.64 554.30,217.07 C553.50,214.50 552.70,212.28 551.80,210.62 C550.90,208.96 549.85,207.81 548.90,207.11 C547.95,206.41 547.05,206.33 546.10,206.39 C545.15,206.45 544.32,206.99 543.20,207.48 C542.08,207.97 540.67,208.71 539.40,209.33 C538.13,209.94 536.88,210.56 535.60,211.17 C534.32,211.79 532.98,212.26 531.70,213.02 C530.42,213.78 529.17,215.18 527.90,215.73 C526.63,216.28 525.37,216.35 524.10,216.33 C522.83,216.31 521.57,215.76 520.30,215.62 C519.03,215.49 517.78,215.49 516.50,215.53 C515.22,215.57 513.88,215.88 512.60,215.85 C511.32,215.83 510.07,215.55 508.80,215.38 C507.53,215.20 506.15,215.22 505.00,214.80 C503.85,214.38 502.90,213.02 501.90,212.84 C500.90,212.65 500.12,213.62 499.00,213.68 C497.88,213.74 496.47,213.23 495.20,213.20 C493.93,213.18 492.67,213.55 491.40,213.53 C490.13,213.51 488.88,213.16 487.60,213.08 C486.32,213.00 484.98,212.82 483.70,213.04 C482.42,213.26 481.00,213.76 479.90,214.40 C478.80,215.04 478.05,215.93 477.10,216.88 C476.15,217.82 475.17,218.72 474.20,220.05 C473.23,221.37 472.25,223.08 471.30,224.82 C470.35,226.56 469.45,228.28 468.50,230.49 C467.55,232.70 466.57,235.21 465.60,238.06 C464.63,240.92 463.50,244.78 462.70,247.64 C461.90,250.49 461.37,252.36 460.80,255.22 C460.23,258.08 459.55,263.21 459.30,264.80 Z" fill="#f8a8a8" opacity="0.85"/>
<path d="M460.60,265.68 C460.95,264.14 461.87,259.58 462.70,256.45 C463.53,253.32 464.63,249.94 465.60,246.91 C466.57,243.88 467.55,240.98 468.50,238.26 C469.45,235.55 470.35,233.02 471.30,230.62 C472.25,228.23 473.23,225.98 474.20,223.88 C475.17,221.79 476.15,220.04 477.10,218.04 C478.05,216.04 478.95,213.60 479.90,211.90 C480.85,210.20 481.85,208.76 482.80,207.83 C483.75,206.90 484.65,206.39 485.60,206.31 C486.55,206.24 487.53,207.02 488.50,207.37 C489.47,207.72 490.45,208.58 491.40,208.43 C492.35,208.28 493.25,207.26 494.20,206.48 C495.15,205.70 496.13,204.51 497.10,203.74 C498.07,202.98 499.05,202.30 500.00,201.90 C500.95,201.50 501.85,201.26 502.80,201.37 C503.75,201.48 504.70,202.20 505.70,202.53 C506.70,202.87 507.65,202.96 508.80,203.39 C509.95,203.82 511.32,204.59 512.60,205.11 C513.88,205.63 515.22,206.10 516.50,206.50 C517.78,206.90 519.03,207.27 520.30,207.50 C521.57,207.73 522.83,207.68 524.10,207.90 C525.37,208.12 526.63,208.48 527.90,208.80 C529.17,209.12 530.42,209.63 531.70,209.80 C532.98,209.97 534.32,209.97 535.60,209.80 C536.88,209.63 538.13,209.23 539.40,208.80 C540.67,208.37 542.08,207.27 543.20,207.22 C544.32,207.17 545.15,207.61 546.10,208.51 C547.05,209.41 547.95,210.91 548.90,212.59 C549.85,214.27 550.90,216.27 551.80,218.58 C552.70,220.89 553.50,223.45 554.30,226.43 C555.10,229.41 556.22,234.79 556.60,236.46 L556.60,237.54 556.60,237.54 C556.22,235.94 555.10,230.79 554.30,227.97 C553.50,225.15 552.70,222.75 551.80,220.62 C550.90,218.49 549.85,216.70 548.90,215.21 C547.95,213.72 547.05,212.40 546.10,211.69 C545.15,210.98 544.32,210.73 543.20,210.98 C542.08,211.23 540.67,212.66 539.40,213.20 C538.13,213.74 536.88,214.03 535.60,214.20 C534.32,214.37 532.98,214.37 531.70,214.20 C530.42,214.03 529.17,213.52 527.90,213.20 C526.63,212.88 525.37,212.52 524.10,212.30 C522.83,212.08 521.57,212.13 520.30,211.90 C519.03,211.67 517.78,211.34 516.50,210.90 C515.22,210.46 513.88,209.90 512.60,209.29 C511.32,208.67 509.95,207.75 508.80,207.21 C507.65,206.67 506.70,206.50 505.70,206.07 C504.70,205.64 503.75,204.82 502.80,204.63 C501.85,204.44 500.95,204.53 500.00,204.90 C499.05,205.27 498.07,206.06 497.10,206.86 C496.13,207.66 495.15,208.90 494.20,209.72 C493.25,210.53 492.35,211.59 491.40,211.77 C490.45,211.96 489.47,211.14 488.50,210.83 C487.53,210.52 486.55,209.96 485.60,209.89 C484.65,209.81 483.75,209.84 482.80,210.37 C481.85,210.91 480.85,211.63 479.90,213.10 C478.95,214.56 478.05,217.19 477.10,219.16 C476.15,221.13 475.17,222.85 474.20,224.92 C473.23,226.99 472.25,229.21 471.30,231.58 C470.35,233.95 469.45,236.45 468.50,239.14 C467.55,241.82 466.57,244.69 465.60,247.69 C464.63,250.70 463.53,254.05 462.70,257.15 C461.87,260.26 460.95,264.79 460.60,266.32 Z" fill="#a8a8fa" opacity="0.85"/>
<path d="M459.30,264.50 C459.55,262.90 460.23,257.77 460.80,254.90 C461.37,252.03 461.90,250.17 462.70,247.30 C463.50,244.43 464.63,240.57 465.60,237.70 C466.57,234.83 467.55,232.32 468.50,230.10 C469.45,227.88 470.35,226.15 471.30,224.40 C472.25,222.65 473.23,220.93 474.20,219.60 C475.17,218.27 476.15,217.35 477.10,216.40 C478.05,215.45 478.80,214.55 479.90,213.90 C481.00,213.25 482.42,212.73 483.70,212.50 C484.98,212.27 486.32,212.43 487.60,212.50 C488.88,212.57 490.13,212.90 491.40,212.90 C492.67,212.90 493.93,212.50 495.20,212.50 C496.47,212.50 497.88,212.98 499.00,212.90 C500.12,212.82 500.90,211.83 501.90,212.00 C502.90,212.17 503.85,213.50 505.00,213.90 C506.15,214.30 507.53,214.25 508.80,214.40 C510.07,214.55 511.32,214.80 512.60,214.80 C513.88,214.80 515.22,214.47 516.50,214.40 C517.78,214.33 519.03,214.33 520.30,214.40 C521.57,214.47 522.83,214.88 524.10,214.80 C525.37,214.72 526.63,214.53 527.90,213.90 C529.17,213.27 530.42,211.80 531.70,211.00 C532.98,210.20 534.32,209.73 535.60,209.10 C536.88,208.47 538.13,207.83 539.40,207.20 C540.67,206.57 542.08,205.78 543.20,205.30 C544.32,204.82 545.15,204.30 546.10,204.30 C547.05,204.30 547.95,204.50 548.90,205.30 C549.85,206.10 550.90,207.35 551.80,209.10 C552.70,210.85 553.50,213.15 554.30,215.80 C555.10,218.45 556.22,223.47 556.60,225.00" fill="none" stroke="#ff0000" stroke-width="2.4" stroke-linejoin="round"/>
<path d="M460.60,266.00 C460.95,264.47 461.87,259.92 462.70,256.80 C463.53,253.68 464.63,250.32 465.60,247.30 C466.57,244.28 467.55,241.40 468.50,238.70 C469.45,236.00 470.35,233.48 471.30,231.10 C472.25,228.72 473.23,226.48 474.20,224.40 C475.17,222.32 476.15,220.58 477.10,218.60 C478.05,216.62 478.95,214.08 479.90,212.50 C480.85,210.92 481.85,209.83 482.80,209.10 C483.75,208.37 484.65,208.10 485.60,208.10 C486.55,208.10 487.53,208.77 488.50,209.10 C489.47,209.43 490.45,210.27 491.40,210.10 C492.35,209.93 493.25,208.90 494.20,208.10 C495.15,207.30 496.13,206.08 497.10,205.30 C498.07,204.52 499.05,203.78 500.00,203.40 C500.95,203.02 501.85,202.85 502.80,203.00 C503.75,203.15 504.70,203.92 505.70,204.30 C506.70,204.68 507.65,204.82 508.80,205.30 C509.95,205.78 511.32,206.63 512.60,207.20 C513.88,207.77 515.22,208.28 516.50,208.70 C517.78,209.12 519.03,209.47 520.30,209.70 C521.57,209.93 522.83,209.88 524.10,210.10 C525.37,210.32 526.63,210.68 527.90,211.00 C529.17,211.32 530.42,211.83 531.70,212.00 C532.98,212.17 534.32,212.17 535.60,212.00 C536.88,211.83 538.13,211.48 539.40,211.00 C540.67,210.52 542.08,209.25 543.20,209.10 C544.32,208.95 545.15,209.30 546.10,210.10 C547.05,210.90 547.95,212.32 548.90,213.90 C549.85,215.48 550.90,217.38 551.80,219.60 C552.70,221.82 553.50,224.30 554.30,227.20 C555.10,230.10 556.22,235.37 556.60,237.00" fill="none" stroke="#0000ff" stroke-width="2.4" stroke-linejoin="round"/>
</g>
<line x1="459.4" y1="177.7" x2="462.5" y2="177.7" stroke="#ff0000" stroke-width="2.1"/>
<line x1="499" y1="177.7" x2="511.7" y2="177.7" stroke="#0000ff" stroke-width="2.1"/>
<rect x="459.4" y="168.0" width="97.2" height="96.6" fill="none" stroke="#777" stroke-width="0.8"/>
<line x1="486.4" y1="168.0" x2="486.4" y2="169.5" stroke="#777" stroke-width="0.6"/>
<line x1="486.4" y1="264.6" x2="486.4" y2="263.1" stroke="#777" stroke-width="0.6"/>
<line x1="513.4" y1="168.0" x2="513.4" y2="169.5" stroke="#777" stroke-width="0.6"/>
<line x1="513.4" y1="264.6" x2="513.4" y2="263.1" stroke="#777" stroke-width="0.6"/>
<line x1="540.4" y1="168.0" x2="540.4" y2="169.5" stroke="#777" stroke-width="0.6"/>
<line x1="540.4" y1="264.6" x2="540.4" y2="263.1" stroke="#777" stroke-width="0.6"/>
<line x1="459.4" y1="177.6" x2="460.9" y2="177.6" stroke="#777" stroke-width="0.6"/>
<line x1="556.6" y1="177.6" x2="555.1" y2="177.6" stroke="#777" stroke-width="0.6"/>
<text x="457.2" y="180.3" font-family="&apos;Liberation Sans&apos;, sans-serif" font-size="7.6" font-weight="normal" fill="#333" text-anchor="end" >2</text>
<line x1="459.4" y1="216.2" x2="460.9" y2="216.2" stroke="#777" stroke-width="0.6"/>
<line x1="556.6" y1="216.2" x2="555.1" y2="216.2" stroke="#777" stroke-width="0.6"/>
<text x="457.2" y="218.9" font-family="&apos;Liberation Sans&apos;, sans-serif" font-size="7.6" font-weight="normal" fill="#333" text-anchor="end" >0</text>
<line x1="459.4" y1="254.8" x2="460.9" y2="254.8" stroke="#777" stroke-width="0.6"/>
<line x1="556.6" y1="254.8" x2="555.1" y2="254.8" stroke="#777" stroke-width="0.6"/>
<text x="457.2" y="257.5" font-family="&apos;Liberation Sans&apos;, sans-serif" font-size="7.6" font-weight="normal" fill="#333" text-anchor="end" >-2</text>
<text x="459.4" y="274.4" font-family="&apos;Liberation Sans&apos;, sans-serif" font-size="7.6" font-weight="normal" fill="#333" text-anchor="middle" >0</text>
<text x="486.4" y="274.4" font-family="&apos;Liberation Sans&apos;, sans-serif" font-size="7.6" font-weight="normal" fill="#333" text-anchor="middle" >500</text>
<text x="513.4" y="274.4" font-family="&apos;Liberation Sans&apos;, sans-serif" font-size="7.6" font-weight="normal" fill="#333" text-anchor="middle" >1000</text>
<text x="540.4" y="274.4" font-family="&apos;Liberation Sans&apos;, sans-serif" font-size="7.6" font-weight="normal" fill="#333" text-anchor="middle" >1500</text>
<text x="508.0" y="164.4" font-family="&apos;Liberation Sans&apos;, sans-serif" font-size="8.8" font-weight="bold" fill="#000" text-anchor="middle" >Slow Theta</text>
<clipPath id="cp11"><rect x="586.9" y="168.0" width="98.6" height="96.6"/></clipPath>
<g clip-path="url(#cp11)">
<path d="M586.60,254.43 C587.00,252.77 588.10,247.37 589.00,244.47 C589.90,241.57 591.00,238.83 592.00,237.03 C593.00,235.24 593.98,234.95 595.00,233.70 C596.02,232.45 597.08,231.60 598.10,229.54 C599.12,227.49 600.10,224.13 601.10,221.39 C602.10,218.66 603.10,215.16 604.10,213.14 C605.10,211.13 606.10,210.40 607.10,209.31 C608.10,208.22 609.10,207.51 610.10,206.61 C611.10,205.71 612.17,204.48 613.10,203.91 C614.03,203.34 614.87,204.09 615.70,203.17 C616.53,202.25 617.20,199.49 618.10,198.41 C619.00,197.33 620.08,197.01 621.10,196.71 C622.12,196.41 623.18,196.43 624.20,196.62 C625.22,196.81 626.20,197.72 627.20,197.88 C628.20,198.04 629.30,197.27 630.20,197.58 C631.10,197.89 631.77,198.65 632.60,199.74 C633.43,200.83 634.30,202.54 635.20,204.10 C636.10,205.65 637.03,207.06 638.00,209.06 C638.97,211.06 640.00,214.28 641.00,216.12 C642.00,217.96 643.08,219.43 644.00,220.08 C644.92,220.73 645.65,220.72 646.50,220.05 C647.35,219.37 648.17,217.69 649.10,216.01 C650.03,214.34 651.27,210.82 652.10,210.00 C652.93,209.18 653.27,209.87 654.10,211.09 C654.93,212.31 656.10,215.43 657.10,217.33 C658.10,219.23 659.10,221.76 660.10,222.47 C661.10,223.18 662.17,221.99 663.10,221.61 C664.03,221.24 664.87,220.26 665.70,220.22 C666.53,220.17 667.35,220.86 668.10,221.34 C668.85,221.82 669.35,223.86 670.20,223.10 C671.05,222.34 672.20,219.05 673.20,216.75 C674.20,214.46 675.20,211.07 676.20,209.31 C677.20,207.55 678.37,206.18 679.20,206.19 C680.03,206.19 680.53,207.60 681.20,209.33 C681.87,211.06 682.63,214.68 683.20,216.57 C683.77,218.46 684.37,219.99 684.60,220.67 L684.60,225.73 684.60,225.73 C684.37,225.08 683.77,223.64 683.20,221.83 C682.63,220.02 681.87,216.51 681.20,214.87 C680.53,213.24 680.03,212.01 679.20,212.01 C678.37,212.02 677.20,213.29 676.20,214.89 C675.20,216.50 674.20,219.58 673.20,221.65 C672.20,223.71 671.05,226.73 670.20,227.30 C669.35,227.87 668.85,225.71 668.10,225.06 C667.35,224.40 666.53,223.43 665.70,223.38 C664.87,223.34 664.03,224.36 663.10,224.79 C662.17,225.21 661.10,226.55 660.10,225.93 C659.10,225.31 658.10,222.87 657.10,221.07 C656.10,219.27 654.93,216.25 654.10,215.11 C653.27,213.96 652.93,213.32 652.10,214.20 C651.27,215.08 650.03,218.70 649.10,220.39 C648.17,222.08 647.35,223.70 646.50,224.35 C645.65,225.01 644.92,225.00 644.00,224.32 C643.08,223.64 642.00,222.14 641.00,220.28 C640.00,218.42 638.97,215.17 638.00,213.14 C637.03,211.11 636.10,209.75 635.20,208.10 C634.30,206.46 633.43,204.51 632.60,203.26 C631.77,202.01 631.10,201.11 630.20,200.62 C629.30,200.13 628.20,200.63 627.20,200.32 C626.20,200.01 625.22,198.92 624.20,198.78 C623.18,198.64 622.12,198.99 621.10,199.49 C620.08,199.99 619.00,200.53 618.10,201.79 C617.20,203.05 616.53,205.95 615.70,207.03 C614.87,208.11 614.03,207.53 613.10,208.29 C612.17,209.05 611.10,210.49 610.10,211.59 C609.10,212.69 608.10,213.65 607.10,214.89 C606.10,216.13 605.10,217.04 604.10,219.06 C603.10,221.07 602.10,224.37 601.10,227.00 C600.10,229.64 599.12,232.91 598.10,234.85 C597.08,236.80 596.02,237.61 595.00,238.70 C593.98,239.79 593.00,239.79 592.00,241.37 C591.00,242.94 589.90,245.43 589.00,248.13 C588.10,250.83 587.00,255.99 586.60,257.57 Z" fill="#f8a8a8" opacity="0.85"/>
<path d="M586.60,238.98 C586.90,237.17 587.77,231.77 588.40,228.11 C589.03,224.46 589.63,220.59 590.40,217.04 C591.17,213.50 592.07,209.07 593.00,206.85 C593.93,204.63 595.08,204.18 596.00,203.74 C596.92,203.31 597.82,204.61 598.50,204.25 C599.18,203.90 599.50,202.73 600.10,201.59 C600.70,200.46 601.43,199.00 602.10,197.45 C602.77,195.91 603.37,194.05 604.10,192.31 C604.83,190.58 605.67,187.79 606.50,187.04 C607.33,186.30 608.17,187.76 609.10,187.86 C610.03,187.96 611.20,187.74 612.10,187.65 C613.00,187.56 613.83,186.86 614.50,187.34 C615.17,187.82 615.50,189.28 616.10,190.53 C616.70,191.79 617.43,193.28 618.10,194.87 C618.77,196.46 619.42,198.26 620.10,200.09 C620.78,201.92 621.52,203.95 622.20,205.88 C622.88,207.81 623.53,209.90 624.20,211.68 C624.87,213.46 625.53,215.30 626.20,216.58 C626.87,217.86 627.37,218.95 628.20,219.38 C629.03,219.81 630.07,219.39 631.20,219.19 C632.33,218.98 633.87,218.49 635.00,218.15 C636.13,217.81 637.00,217.46 638.00,217.12 C639.00,216.78 640.00,215.77 641.00,216.09 C642.00,216.41 643.15,218.57 644.00,219.06 C644.85,219.55 645.42,219.55 646.10,219.04 C646.78,218.53 647.43,216.71 648.10,216.02 C648.77,215.33 649.43,214.72 650.10,214.91 C650.77,215.10 651.27,216.42 652.10,217.17 C652.93,217.92 654.10,218.33 655.10,219.41 C656.10,220.49 657.10,222.07 658.10,223.65 C659.10,225.23 660.17,227.15 661.10,228.89 C662.03,230.63 662.87,232.38 663.70,234.10 C664.53,235.81 665.37,238.85 666.10,239.20 C666.83,239.55 667.42,237.70 668.10,236.20 C668.78,234.70 669.35,231.87 670.20,230.20 C671.05,228.53 672.20,226.70 673.20,226.20 C674.20,225.70 675.20,226.37 676.20,227.20 C677.20,228.03 678.37,229.53 679.20,231.20 C680.03,232.87 680.53,235.18 681.20,237.20 C681.87,239.22 682.63,241.78 683.20,243.30 C683.77,244.82 684.37,245.80 684.60,246.30 L684.60,248.30 684.60,248.30 C684.37,247.80 683.77,246.82 683.20,245.30 C682.63,243.78 681.87,241.22 681.20,239.20 C680.53,237.18 680.03,234.87 679.20,233.20 C678.37,231.53 677.20,230.03 676.20,229.20 C675.20,228.37 674.20,227.70 673.20,228.20 C672.20,228.70 671.05,230.53 670.20,232.20 C669.35,233.87 668.78,236.70 668.10,238.20 C667.42,239.70 666.83,241.52 666.10,241.20 C665.37,240.88 664.53,237.92 663.70,236.30 C662.87,234.69 662.03,233.10 661.10,231.51 C660.17,229.92 659.10,228.17 658.10,226.75 C657.10,225.33 656.10,223.91 655.10,222.99 C654.10,222.07 652.93,221.85 652.10,221.23 C651.27,220.62 650.77,219.43 650.10,219.29 C649.43,219.15 648.77,219.70 648.10,220.38 C647.43,221.06 646.78,222.87 646.10,223.36 C645.42,223.85 644.85,223.85 644.00,223.34 C643.15,222.83 642.00,220.65 641.00,220.31 C640.00,219.97 639.00,220.96 638.00,221.28 C637.00,221.60 636.13,221.93 635.00,222.25 C633.87,222.57 632.33,223.08 631.20,223.21 C630.07,223.34 629.03,223.59 628.20,223.02 C627.37,222.45 626.87,221.24 626.20,219.82 C625.53,218.40 624.87,216.44 624.20,214.52 C623.53,212.60 622.88,210.39 622.20,208.32 C621.52,206.25 620.78,203.94 620.10,202.11 C619.42,200.28 618.77,198.77 618.10,197.33 C617.43,195.89 616.70,194.58 616.10,193.47 C615.50,192.36 615.17,190.98 614.50,190.66 C613.83,190.34 613.00,191.30 612.10,191.55 C611.20,191.79 610.03,192.24 609.10,192.14 C608.17,192.04 607.33,190.33 606.50,190.96 C605.67,191.58 604.83,194.25 604.10,195.89 C603.37,197.52 602.77,199.29 602.10,200.75 C601.43,202.20 600.70,203.54 600.10,204.61 C599.50,205.67 599.18,206.84 598.50,207.15 C597.82,207.45 596.92,206.09 596.00,206.46 C595.08,206.82 593.93,207.20 593.00,209.35 C592.07,211.50 591.17,215.87 590.40,219.36 C589.63,222.85 589.03,226.67 588.40,230.29 C587.77,233.90 586.90,239.23 586.60,241.02 Z" fill="#a8a8fa" opacity="0.85"/>
<path d="M586.60,256.00 C587.00,254.38 588.10,249.10 589.00,246.30 C589.90,243.50 591.00,240.88 592.00,239.20 C593.00,237.52 593.98,237.37 595.00,236.20 C596.02,235.03 597.08,234.20 598.10,232.20 C599.12,230.20 600.10,226.88 601.10,224.20 C602.10,221.52 603.10,218.12 604.10,216.10 C605.10,214.08 606.10,213.27 607.10,212.10 C608.10,210.93 609.10,210.10 610.10,209.10 C611.10,208.10 612.17,206.77 613.10,206.10 C614.03,205.43 614.87,206.10 615.70,205.10 C616.53,204.10 617.20,201.27 618.10,200.10 C619.00,198.93 620.08,198.50 621.10,198.10 C622.12,197.70 623.18,197.53 624.20,197.70 C625.22,197.87 626.20,198.87 627.20,199.10 C628.20,199.33 629.30,198.70 630.20,199.10 C631.10,199.50 631.77,200.33 632.60,201.50 C633.43,202.67 634.30,204.50 635.20,206.10 C636.10,207.70 637.03,209.08 638.00,211.10 C638.97,213.12 640.00,216.35 641.00,218.20 C642.00,220.05 643.08,221.53 644.00,222.20 C644.92,222.87 645.65,222.87 646.50,222.20 C647.35,221.53 648.17,219.88 649.10,218.20 C650.03,216.52 651.27,212.95 652.10,212.10 C652.93,211.25 653.27,211.92 654.10,213.10 C654.93,214.28 656.10,217.35 657.10,219.20 C658.10,221.05 659.10,223.53 660.10,224.20 C661.10,224.87 662.17,223.60 663.10,223.20 C664.03,222.80 664.87,221.80 665.70,221.80 C666.53,221.80 667.35,222.63 668.10,223.20 C668.85,223.77 669.35,225.87 670.20,225.20 C671.05,224.53 672.20,221.38 673.20,219.20 C674.20,217.02 675.20,213.78 676.20,212.10 C677.20,210.42 678.37,209.10 679.20,209.10 C680.03,209.10 680.53,210.42 681.20,212.10 C681.87,213.78 682.63,217.35 683.20,219.20 C683.77,221.05 684.37,222.53 684.60,223.20" fill="none" stroke="#ff0000" stroke-width="2.4" stroke-linejoin="round"/>
<path d="M586.60,240.00 C586.90,238.20 587.77,232.83 588.40,229.20 C589.03,225.57 589.63,221.72 590.40,218.20 C591.17,214.68 592.07,210.28 593.00,208.10 C593.93,205.92 595.08,205.50 596.00,205.10 C596.92,204.70 597.82,206.03 598.50,205.70 C599.18,205.37 599.50,204.20 600.10,203.10 C600.70,202.00 601.43,200.60 602.10,199.10 C602.77,197.60 603.37,195.78 604.10,194.10 C604.83,192.42 605.67,189.68 606.50,189.00 C607.33,188.32 608.17,189.90 609.10,190.00 C610.03,190.10 611.20,189.77 612.10,189.60 C613.00,189.43 613.83,188.60 614.50,189.00 C615.17,189.40 615.50,190.82 616.10,192.00 C616.70,193.18 617.43,194.58 618.10,196.10 C618.77,197.62 619.42,199.27 620.10,201.10 C620.78,202.93 621.52,205.10 622.20,207.10 C622.88,209.10 623.53,211.25 624.20,213.10 C624.87,214.95 625.53,216.85 626.20,218.20 C626.87,219.55 627.37,220.70 628.20,221.20 C629.03,221.70 630.07,221.37 631.20,221.20 C632.33,221.03 633.87,220.53 635.00,220.20 C636.13,219.87 637.00,219.53 638.00,219.20 C639.00,218.87 640.00,217.87 641.00,218.20 C642.00,218.53 643.15,220.70 644.00,221.20 C644.85,221.70 645.42,221.70 646.10,221.20 C646.78,220.70 647.43,218.88 648.10,218.20 C648.77,217.52 649.43,216.93 650.10,217.10 C650.77,217.27 651.27,218.52 652.10,219.20 C652.93,219.88 654.10,220.20 655.10,221.20 C656.10,222.20 657.10,223.70 658.10,225.20 C659.10,226.70 660.17,228.53 661.10,230.20 C662.03,231.87 662.87,233.53 663.70,235.20 C664.53,236.87 665.37,239.87 666.10,240.20 C666.83,240.53 667.42,238.70 668.10,237.20 C668.78,235.70 669.35,232.87 670.20,231.20 C671.05,229.53 672.20,227.70 673.20,227.20 C674.20,226.70 675.20,227.37 676.20,228.20 C677.20,229.03 678.37,230.53 679.20,232.20 C680.03,233.87 680.53,236.18 681.20,238.20 C681.87,240.22 682.63,242.78 683.20,244.30 C683.77,245.82 684.37,246.80 684.60,247.30" fill="none" stroke="#0000ff" stroke-width="2.4" stroke-linejoin="round"/>
</g>
<line x1="589" y1="177.7" x2="616.6" y2="177.7" stroke="#0000ff" stroke-width="2.1"/>
<line x1="621.4" y1="177.7" x2="636.9" y2="177.7" stroke="#ff0000" stroke-width="2.1"/>
<line x1="662.8" y1="177.7" x2="668.4" y2="177.7" stroke="#ff0000" stroke-width="2.1"/>
<line x1="676.3" y1="177.7" x2="685" y2="177.7" stroke="#ff0000" stroke-width="2.1"/>
<rect x="586.9" y="168.0" width="97.1" height="96.6" fill="none" stroke="#777" stroke-width="0.8"/>
<line x1="613.9" y1="168.0" x2="613.9" y2="169.5" stroke="#777" stroke-width="0.6"/>
<line x1="613.9" y1="264.6" x2="613.9" y2="263.1" stroke="#777" stroke-width="0.6"/>
<line x1="640.9" y1="168.0" x2="640.9" y2="169.5" stroke="#777" stroke-width="0.6"/>
<line x1="640.9" y1="264.6" x2="640.9" y2="263.1" stroke="#777" stroke-width="0.6"/>
<line x1="667.9" y1="168.0" x2="667.9" y2="169.5" stroke="#777" stroke-width="0.6"/>
<line x1="667.9" y1="264.6" x2="667.9" y2="263.1" stroke="#777" stroke-width="0.6"/>
<line x1="586.9" y1="177.6" x2="588.4" y2="177.6" stroke="#777" stroke-width="0.6"/>
<line x1="684.0" y1="177.6" x2="682.5" y2="177.6" stroke="#777" stroke-width="0.6"/>
<text x="584.7" y="180.3" font-family="&apos;Liberation Sans&apos;, sans-serif" font-size="7.6" font-weight="normal" fill="#333" text-anchor="end" >2</text>
<line x1="586.9" y1="216.2" x2="588.4" y2="216.2" stroke="#777" stroke-width="0.6"/>
<line x1="684.0" y1="216.2" x2="682.5" y2="216.2" stroke="#777" stroke-width="0.6"/>
<text x="584.7" y="218.9" font-family="&apos;Liberation Sans&apos;, sans-serif" font-size="7.6" font-weight="normal" fill="#333" text-anchor="end" >0</text>
<line x1="586.9" y1="254.8" x2="588.4" y2="254.8" stroke="#777" stroke-width="0.6"/>
<line x1="684.0" y1="254.8" x2="682.5" y2="254.8" stroke="#777" stroke-width="0.6"/>
<text x="584.7" y="257.5" font-family="&apos;Liberation Sans&apos;, sans-serif" font-size="7.6" font-weight="normal" fill="#333" text-anchor="end" >-2</text>
<text x="586.9" y="274.4" font-family="&apos;Liberation Sans&apos;, sans-serif" font-size="7.6" font-weight="normal" fill="#333" text-anchor="middle" >0</text>
<text x="613.9" y="274.4" font-family="&apos;Liberation Sans&apos;, sans-serif" font-size="7.6" font-weight="normal" fill="#333" text-anchor="middle" >500</text>
<text x="640.9" y="274.4" font-family="&apos;Liberation Sans&apos;, sans-serif" font-size="7.6" font-weight="normal" fill="#333" text-anchor="middle" >1000</text>
<text x="667.9" y="274.4" font-family="&apos;Liberation Sans&apos;, sans-serif" font-size="7.6" font-weight="normal" fill="#333" text-anchor="middle" >1500</text>
<text x="635.5" y="164.4" font-family="&apos;Liberation Sans&apos;, sans-serif" font-size="8.8" font-weight="bold" fill="#000" text-anchor="middle" >Fast Theta</text>
<text x="0" y="0" font-family="&apos;Liberation Sans&apos;, sans-serif" font-size="8.3" fill="#444" text-anchor="middle" transform="translate(447.8,216.3) rotate(-90)">Familiarity</text>
<rect x="479.4" y="241.4" width="56.2" height="18.4" fill="#fff" stroke="#aaa" stroke-width="0.7"/>
<line x1="482" y1="246.8" x2="504.5" y2="246.8" stroke="#ff0000" stroke-width="2"/>
<line x1="482" y1="254.70000000000002" x2="504.5" y2="254.70000000000002" stroke="#0000ff" stroke-width="2"/>
<text x="506.3" y="249.3" font-family="&apos;Liberation Sans&apos;, sans-serif" font-size="7" font-weight="normal" fill="#222" text-anchor="start" >Anterior</text>
<text x="506.3" y="257.2" font-family="&apos;Liberation Sans&apos;, sans-serif" font-size="7" font-weight="normal" fill="#222" text-anchor="start" >Posterior</text>
<clipPath id="cp20"><rect x="459.4" y="302.6" width="98.7" height="96.7"/></clipPath>
<g clip-path="url(#cp20)">
<path d="M461.30,400.69 C461.80,399.29 463.28,395.06 464.30,392.27 C465.32,389.49 466.37,386.55 467.40,383.96 C468.43,381.37 469.47,378.98 470.50,376.74 C471.53,374.51 472.57,372.62 473.60,370.53 C474.63,368.44 475.67,366.30 476.70,364.21 C477.73,362.13 478.77,359.90 479.80,358.00 C480.83,356.09 481.85,354.34 482.90,352.78 C483.95,351.23 485.05,350.06 486.10,348.67 C487.15,347.28 488.17,345.67 489.20,344.45 C490.23,343.23 491.27,342.11 492.30,341.34 C493.33,340.57 494.37,340.18 495.40,339.82 C496.43,339.47 497.47,339.15 498.50,339.21 C499.53,339.27 500.57,340.21 501.60,340.19 C502.63,340.17 503.62,339.85 504.70,339.07 C505.78,338.30 507.02,336.68 508.10,335.53 C509.18,334.39 510.17,333.25 511.20,332.20 C512.23,331.16 513.25,329.86 514.30,329.26 C515.35,328.66 516.45,328.81 517.50,328.60 C518.55,328.39 519.57,328.22 520.60,327.98 C521.63,327.75 522.67,327.45 523.70,327.20 C524.73,326.96 525.77,326.43 526.80,326.52 C527.83,326.61 528.87,327.31 529.90,327.74 C530.93,328.16 531.97,328.36 533.00,329.05 C534.03,329.74 535.07,330.56 536.10,331.88 C537.13,333.20 538.15,335.17 539.20,336.97 C540.25,338.77 541.35,340.79 542.40,342.68 C543.45,344.58 544.47,346.33 545.50,348.32 C546.53,350.32 547.57,352.19 548.60,354.65 C549.63,357.11 550.73,360.11 551.70,363.08 C552.67,366.05 553.58,369.47 554.40,372.49 C555.22,375.51 556.23,379.73 556.60,381.18 L556.60,381.82 556.60,381.82 C556.23,380.40 555.22,376.26 554.40,373.31 C553.58,370.36 552.67,367.01 551.70,364.12 C550.73,361.23 549.63,358.32 548.60,355.95 C547.57,353.58 546.53,351.68 545.50,349.88 C544.47,348.07 543.45,346.69 542.40,345.12 C541.35,343.54 540.25,341.89 539.20,340.43 C538.15,338.96 537.13,337.44 536.10,336.32 C535.07,335.21 534.03,334.42 533.00,333.75 C531.97,333.07 530.93,332.74 529.90,332.26 C528.87,331.79 527.83,331.03 526.80,330.88 C525.77,330.74 524.73,331.21 523.70,331.40 C522.67,331.59 521.63,331.88 520.60,332.02 C519.57,332.15 518.55,332.15 517.50,332.20 C516.45,332.25 515.35,331.91 514.30,332.34 C513.25,332.78 512.23,333.91 511.20,334.80 C510.17,335.68 509.18,336.68 508.10,337.67 C507.02,338.66 505.78,340.10 504.70,340.73 C503.62,341.35 502.63,341.50 501.60,341.41 C500.57,341.32 499.53,340.30 498.50,340.19 C497.47,340.09 496.43,340.43 495.40,340.78 C494.37,341.12 493.33,341.50 492.30,342.26 C491.27,343.02 490.23,344.14 489.20,345.35 C488.17,346.56 487.15,348.15 486.10,349.53 C485.05,350.91 483.95,352.07 482.90,353.62 C481.85,355.16 480.83,356.91 479.80,358.80 C478.77,360.70 477.73,362.91 476.70,364.99 C475.67,367.06 474.63,369.19 473.60,371.27 C472.57,373.35 471.53,375.23 470.50,377.46 C469.47,379.68 468.43,382.06 467.40,384.64 C466.37,387.22 465.32,390.15 464.30,392.93 C463.28,395.70 461.80,399.91 461.30,401.31 Z" fill="#f8a8a8" opacity="0.85"/>
<path d="M461.30,400.68 C461.80,398.59 463.28,392.14 464.30,388.15 C465.32,384.16 466.37,380.36 467.40,376.72 C468.43,373.08 469.63,368.73 470.50,366.29 C471.37,363.85 471.73,363.29 472.60,362.07 C473.47,360.84 474.67,360.15 475.70,358.94 C476.73,357.73 477.77,356.02 478.80,354.81 C479.83,353.60 480.87,352.56 481.90,351.68 C482.93,350.80 483.97,350.43 485.00,349.55 C486.03,348.67 487.07,347.46 488.10,346.42 C489.13,345.37 490.15,344.16 491.20,343.28 C492.25,342.40 493.35,341.67 494.40,341.14 C495.45,340.61 496.47,340.40 497.50,340.10 C498.53,339.80 499.57,339.56 500.60,339.36 C501.63,339.16 502.83,338.86 503.70,338.92 C504.57,338.97 504.93,339.77 505.80,339.69 C506.67,339.61 508.00,338.94 508.90,338.45 C509.80,337.95 510.12,337.02 511.20,336.72 C512.28,336.42 514.18,336.68 515.40,336.66 C516.62,336.65 517.47,336.38 518.50,336.62 C519.53,336.86 520.57,337.86 521.60,338.12 C522.63,338.37 523.67,338.21 524.70,338.15 C525.73,338.10 526.77,337.84 527.80,337.78 C528.83,337.73 529.85,337.74 530.90,337.82 C531.95,337.90 533.05,337.72 534.10,338.25 C535.15,338.78 536.17,339.84 537.20,340.99 C538.23,342.13 539.27,343.89 540.30,345.12 C541.33,346.35 542.37,347.13 543.40,348.35 C544.43,349.58 545.47,351.09 546.50,352.49 C547.53,353.88 548.57,355.16 549.60,356.72 C550.63,358.28 551.53,359.94 552.70,361.85 C553.87,363.77 555.95,367.14 556.60,368.20 L556.60,369.40 556.60,369.40 C555.95,368.36 553.87,365.03 552.70,363.15 C551.53,361.26 550.63,359.62 549.60,358.08 C548.57,356.54 547.53,355.29 546.50,353.91 C545.47,352.54 544.43,351.05 543.40,349.85 C542.37,348.64 541.33,347.89 540.30,346.68 C539.27,345.48 538.23,343.74 537.20,342.61 C536.17,341.49 535.15,340.45 534.10,339.95 C533.05,339.44 531.95,339.64 530.90,339.58 C529.85,339.53 528.83,339.54 527.80,339.62 C526.77,339.69 525.73,339.97 524.70,340.05 C523.67,340.13 522.63,340.33 521.60,340.08 C520.57,339.84 519.53,338.84 518.50,338.58 C517.47,338.32 516.62,338.55 515.40,338.54 C514.18,338.52 512.28,338.21 511.20,338.48 C510.12,338.75 509.80,339.68 508.90,340.15 C508.00,340.62 506.67,341.26 505.80,341.31 C504.93,341.37 504.57,340.56 503.70,340.48 C502.83,340.40 501.63,340.67 500.60,340.84 C499.57,341.01 498.53,341.23 497.50,341.50 C496.47,341.77 495.45,341.96 494.40,342.46 C493.35,342.96 492.25,343.66 491.20,344.52 C490.15,345.37 489.13,346.56 488.10,347.58 C487.07,348.60 486.03,349.79 485.00,350.65 C483.97,351.51 482.93,351.86 481.90,352.72 C480.87,353.58 479.83,354.60 478.80,355.79 C477.77,356.98 476.73,358.67 475.70,359.86 C474.67,361.05 473.47,361.72 472.60,362.93 C471.73,364.14 471.37,364.69 470.50,367.11 C469.63,369.54 468.43,373.86 467.40,377.48 C466.37,381.10 465.32,384.88 464.30,388.85 C463.28,392.82 461.80,399.24 461.30,401.32 Z" fill="#a8a8fa" opacity="0.85"/>
<path d="M461.30,401.00 C461.80,399.60 463.28,395.38 464.30,392.60 C465.32,389.82 466.37,386.88 467.40,384.30 C468.43,381.72 469.47,379.33 470.50,377.10 C471.53,374.87 472.57,372.98 473.60,370.90 C474.63,368.82 475.67,366.68 476.70,364.60 C477.73,362.52 478.77,360.30 479.80,358.40 C480.83,356.50 481.85,354.75 482.90,353.20 C483.95,351.65 485.05,350.48 486.10,349.10 C487.15,347.72 488.17,346.12 489.20,344.90 C490.23,343.68 491.27,342.57 492.30,341.80 C493.33,341.03 494.37,340.65 495.40,340.30 C496.43,339.95 497.47,339.62 498.50,339.70 C499.53,339.78 500.57,340.77 501.60,340.80 C502.63,340.83 503.62,340.60 504.70,339.90 C505.78,339.20 507.02,337.67 508.10,336.60 C509.18,335.53 510.17,334.47 511.20,333.50 C512.23,332.53 513.25,331.32 514.30,330.80 C515.35,330.28 516.45,330.53 517.50,330.40 C518.55,330.27 519.57,330.18 520.60,330.00 C521.63,329.82 522.67,329.52 523.70,329.30 C524.73,329.08 525.77,328.58 526.80,328.70 C527.83,328.82 528.87,329.55 529.90,330.00 C530.93,330.45 531.97,330.72 533.00,331.40 C534.03,332.08 535.07,332.88 536.10,334.10 C537.13,335.32 538.15,337.07 539.20,338.70 C540.25,340.33 541.35,342.17 542.40,343.90 C543.45,345.63 544.47,347.20 545.50,349.10 C546.53,351.00 547.57,352.88 548.60,355.30 C549.63,357.72 550.73,360.67 551.70,363.60 C552.67,366.53 553.58,369.92 554.40,372.90 C555.22,375.88 556.23,380.07 556.60,381.50" fill="none" stroke="#ff0000" stroke-width="2.4" stroke-linejoin="round"/>
<path d="M461.30,401.00 C461.80,398.92 463.28,392.48 464.30,388.50 C465.32,384.52 466.37,380.73 467.40,377.10 C468.43,373.47 469.63,369.13 470.50,366.70 C471.37,364.27 471.73,363.72 472.60,362.50 C473.47,361.28 474.67,360.60 475.70,359.40 C476.73,358.20 477.77,356.50 478.80,355.30 C479.83,354.10 480.87,353.07 481.90,352.20 C482.93,351.33 483.97,350.97 485.00,350.10 C486.03,349.23 487.07,348.03 488.10,347.00 C489.13,345.97 490.15,344.77 491.20,343.90 C492.25,343.03 493.35,342.32 494.40,341.80 C495.45,341.28 496.47,341.08 497.50,340.80 C498.53,340.52 499.57,340.28 500.60,340.10 C501.63,339.92 502.83,339.63 503.70,339.70 C504.57,339.77 504.93,340.57 505.80,340.50 C506.67,340.43 508.00,339.78 508.90,339.30 C509.80,338.82 510.12,337.88 511.20,337.60 C512.28,337.32 514.18,337.60 515.40,337.60 C516.62,337.60 517.47,337.35 518.50,337.60 C519.53,337.85 520.57,338.85 521.60,339.10 C522.63,339.35 523.67,339.17 524.70,339.10 C525.73,339.03 526.77,338.77 527.80,338.70 C528.83,338.63 529.85,338.63 530.90,338.70 C531.95,338.77 533.05,338.58 534.10,339.10 C535.15,339.62 536.17,340.67 537.20,341.80 C538.23,342.93 539.27,344.68 540.30,345.90 C541.33,347.12 542.37,347.88 543.40,349.10 C544.43,350.32 545.47,351.82 546.50,353.20 C547.53,354.58 548.57,355.85 549.60,357.40 C550.63,358.95 551.53,360.60 552.70,362.50 C553.87,364.40 555.95,367.75 556.60,368.80" fill="none" stroke="#0000ff" stroke-width="2.4" stroke-linejoin="round"/>
</g>
<line x1="467.3" y1="312.5" x2="483" y2="312.5" stroke="#0000ff" stroke-width="2.1"/>
<line x1="512.1" y1="312.5" x2="530.3" y2="312.5" stroke="#ff0000" stroke-width="2.1"/>
<line x1="552" y1="312.5" x2="556.6" y2="312.5" stroke="#0000ff" stroke-width="2.1"/>
<rect x="459.4" y="302.6" width="97.2" height="96.7" fill="none" stroke="#777" stroke-width="0.8"/>
<line x1="486.4" y1="302.6" x2="486.4" y2="304.1" stroke="#777" stroke-width="0.6"/>
<line x1="486.4" y1="399.3" x2="486.4" y2="397.8" stroke="#777" stroke-width="0.6"/>
<line x1="513.4" y1="302.6" x2="513.4" y2="304.1" stroke="#777" stroke-width="0.6"/>
<line x1="513.4" y1="399.3" x2="513.4" y2="397.8" stroke="#777" stroke-width="0.6"/>
<line x1="540.4" y1="302.6" x2="540.4" y2="304.1" stroke="#777" stroke-width="0.6"/>
<line x1="540.4" y1="399.3" x2="540.4" y2="397.8" stroke="#777" stroke-width="0.6"/>
<line x1="459.4" y1="312.6" x2="460.9" y2="312.6" stroke="#777" stroke-width="0.6"/>
<line x1="556.6" y1="312.6" x2="555.1" y2="312.6" stroke="#777" stroke-width="0.6"/>
<text x="457.2" y="315.3" font-family="&apos;Liberation Sans&apos;, sans-serif" font-size="7.6" font-weight="normal" fill="#333" text-anchor="end" >2</text>
<line x1="459.4" y1="351.4" x2="460.9" y2="351.4" stroke="#777" stroke-width="0.6"/>
<line x1="556.6" y1="351.4" x2="555.1" y2="351.4" stroke="#777" stroke-width="0.6"/>
<text x="457.2" y="354.1" font-family="&apos;Liberation Sans&apos;, sans-serif" font-size="7.6" font-weight="normal" fill="#333" text-anchor="end" >0</text>
<line x1="459.4" y1="390.2" x2="460.9" y2="390.2" stroke="#777" stroke-width="0.6"/>
<line x1="556.6" y1="390.2" x2="555.1" y2="390.2" stroke="#777" stroke-width="0.6"/>
<text x="457.2" y="392.9" font-family="&apos;Liberation Sans&apos;, sans-serif" font-size="7.6" font-weight="normal" fill="#333" text-anchor="end" >-2</text>
<text x="459.4" y="409.1" font-family="&apos;Liberation Sans&apos;, sans-serif" font-size="7.6" font-weight="normal" fill="#333" text-anchor="middle" >0</text>
<text x="486.4" y="409.1" font-family="&apos;Liberation Sans&apos;, sans-serif" font-size="7.6" font-weight="normal" fill="#333" text-anchor="middle" >500</text>
<text x="513.4" y="409.1" font-family="&apos;Liberation Sans&apos;, sans-serif" font-size="7.6" font-weight="normal" fill="#333" text-anchor="middle" >1000</text>
<text x="540.4" y="409.1" font-family="&apos;Liberation Sans&apos;, sans-serif" font-size="7.6" font-weight="normal" fill="#333" text-anchor="middle" >1500</text>
<text x="508.0" y="299.0" font-family="&apos;Liberation Sans&apos;, sans-serif" font-size="8.8" font-weight="bold" fill="#000" text-anchor="middle" >Slow Theta</text>
<clipPath id="cp21"><rect x="586.9" y="302.6" width="98.6" height="96.7"/></clipPath>
<g clip-path="url(#cp21)">
<path d="M586.60,376.45 C586.98,374.55 588.20,367.80 588.90,365.06 C589.60,362.32 589.98,361.32 590.80,360.00 C591.62,358.68 592.98,357.74 593.80,357.11 C594.62,356.48 594.98,355.87 595.70,356.23 C596.42,356.59 597.28,358.47 598.10,359.28 C598.92,360.10 599.75,360.93 600.60,361.12 C601.45,361.31 602.38,360.16 603.20,360.44 C604.02,360.72 604.72,362.09 605.50,362.78 C606.28,363.46 607.08,365.00 607.90,364.56 C608.72,364.11 609.57,362.19 610.40,360.13 C611.23,358.07 612.08,354.68 612.90,352.21 C613.72,349.73 614.52,347.62 615.30,345.26 C616.08,342.89 616.78,340.43 617.60,338.03 C618.42,335.63 619.35,333.08 620.20,330.86 C621.05,328.64 621.88,326.04 622.70,324.70 C623.52,323.36 624.32,322.70 625.10,322.80 C625.88,322.90 626.60,323.93 627.40,325.30 C628.20,326.67 629.08,328.99 629.90,331.01 C630.72,333.03 631.47,335.46 632.30,337.42 C633.13,339.38 633.97,342.56 634.90,342.78 C635.83,343.00 636.92,340.10 637.90,338.75 C638.88,337.41 639.77,336.13 640.80,334.71 C641.83,333.29 643.12,330.46 644.10,330.25 C645.08,330.03 645.78,331.76 646.70,333.42 C647.62,335.07 648.63,338.10 649.60,340.17 C650.57,342.24 651.52,344.41 652.50,345.82 C653.48,347.24 654.52,348.87 655.50,348.68 C656.48,348.48 657.43,345.98 658.40,344.63 C659.37,343.28 660.22,341.62 661.30,340.58 C662.38,339.55 663.92,337.93 664.90,338.40 C665.88,338.88 666.42,341.09 667.20,343.41 C667.98,345.73 668.78,349.19 669.60,352.33 C670.42,355.47 671.27,359.11 672.10,362.25 C672.93,365.40 673.78,369.09 674.60,371.18 C675.42,373.27 676.28,374.93 677.00,374.80 C677.72,374.67 678.18,371.59 678.90,370.39 C679.62,369.20 680.35,368.68 681.30,367.62 C682.25,366.55 684.05,364.59 684.60,363.98 L684.60,368.02 684.60,368.02 C684.05,368.68 682.25,370.82 681.30,371.99 C680.35,373.15 679.62,373.74 678.90,375.00 C678.18,376.27 677.72,379.40 677.00,379.60 C676.28,379.80 675.42,378.23 674.60,376.22 C673.78,374.21 672.93,370.60 672.10,367.54 C671.27,364.49 670.42,360.93 669.60,357.87 C668.78,354.81 667.98,351.44 667.20,349.19 C666.42,346.94 665.88,344.89 664.90,344.39 C663.92,343.90 662.38,345.29 661.30,346.21 C660.22,347.14 659.37,348.72 658.40,349.97 C657.43,351.22 656.48,353.62 655.50,353.72 C654.52,353.83 653.48,352.09 652.50,350.57 C651.52,349.06 650.57,346.80 649.60,344.63 C648.63,342.46 647.62,339.33 646.70,337.58 C645.78,335.84 645.08,334.04 644.10,334.15 C643.12,334.27 641.83,336.98 640.80,338.29 C639.77,339.61 638.88,340.79 637.90,342.04 C636.92,343.30 635.83,345.90 634.90,345.82 C633.97,345.74 633.13,343.18 632.30,341.58 C631.47,339.97 630.72,337.91 629.90,336.19 C629.08,334.48 628.20,332.53 627.40,331.30 C626.60,330.07 625.88,328.90 625.10,328.80 C624.32,328.70 623.52,329.44 622.70,330.70 C621.88,331.96 621.05,334.33 620.20,336.34 C619.35,338.35 618.42,340.60 617.60,342.77 C616.78,344.94 616.08,347.14 615.30,349.34 C614.52,351.55 613.72,353.61 612.90,356.00 C612.08,358.38 611.23,361.69 610.40,363.67 C609.57,365.64 608.72,367.49 607.90,367.84 C607.08,368.20 606.28,366.44 605.50,365.82 C604.72,365.21 604.02,364.15 603.20,364.16 C602.38,364.17 601.45,365.82 600.60,365.88 C599.75,365.94 598.92,365.20 598.10,364.52 C597.28,363.83 596.42,362.04 595.70,361.77 C594.98,361.50 594.62,362.22 593.80,362.89 C592.98,363.56 591.62,364.52 590.80,365.80 C589.98,367.08 589.60,367.92 588.90,370.54 C588.20,373.17 586.98,379.72 586.60,381.55 Z" fill="#f8a8a8" opacity="0.85"/>
<path d="M586.60,338.90 C586.98,337.40 588.20,332.07 588.90,329.92 C589.60,327.77 589.98,327.04 590.80,326.00 C591.62,324.96 592.92,324.07 593.80,323.70 C594.68,323.33 595.38,322.94 596.10,323.78 C596.82,324.62 597.45,326.65 598.10,328.74 C598.75,330.83 599.25,334.12 600.00,336.30 C600.75,338.48 601.68,340.07 602.60,341.80 C603.52,343.53 604.62,346.20 605.50,346.70 C606.38,347.20 607.08,345.77 607.90,344.80 C608.72,343.83 609.57,341.07 610.40,340.90 C611.23,340.73 612.08,342.67 612.90,343.80 C613.72,344.93 614.52,347.37 615.30,347.69 C616.08,348.00 616.78,346.53 617.60,345.67 C618.42,344.81 619.35,342.75 620.20,342.54 C621.05,342.33 621.88,343.64 622.70,344.42 C623.52,345.19 624.32,346.09 625.10,347.20 C625.88,348.31 626.60,351.10 627.40,351.10 C628.20,351.10 629.08,348.72 629.90,347.20 C630.72,345.68 631.47,343.78 632.30,342.00 C633.13,340.22 633.97,338.07 634.90,336.50 C635.83,334.93 636.92,333.60 637.90,332.60 C638.88,331.60 639.77,331.09 640.80,330.52 C641.83,329.95 643.12,328.64 644.10,329.19 C645.08,329.74 645.78,331.95 646.70,333.83 C647.62,335.70 648.63,338.06 649.60,340.44 C650.57,342.82 651.68,345.72 652.50,348.12 C653.32,350.52 653.68,353.09 654.50,354.85 C655.32,356.61 656.42,357.54 657.40,358.65 C658.38,359.77 659.42,360.60 660.40,361.55 C661.38,362.50 662.33,363.24 663.30,364.36 C664.27,365.47 665.22,367.25 666.20,368.26 C667.18,369.27 668.22,369.71 669.20,370.41 C670.18,371.11 671.13,371.59 672.10,372.46 C673.07,373.32 674.12,375.85 675.00,375.60 C675.88,375.35 676.58,371.84 677.40,370.94 C678.22,370.04 679.15,369.63 679.90,370.19 C680.65,370.75 681.12,373.16 681.90,374.29 C682.68,375.42 684.15,376.51 684.60,376.96 L684.60,381.04 684.60,381.04 C684.15,380.69 682.68,379.88 681.90,378.91 C681.12,377.94 680.65,375.62 679.90,375.21 C679.15,374.80 678.22,375.39 677.40,376.46 C676.58,377.52 675.88,381.22 675.00,381.60 C674.12,381.98 673.07,379.51 672.10,378.75 C671.13,377.98 670.18,377.59 669.20,376.99 C668.22,376.39 667.18,376.10 666.20,375.14 C665.22,374.18 664.27,372.39 663.30,371.24 C662.33,370.09 661.38,369.26 660.40,368.25 C659.42,367.23 658.38,366.33 657.40,365.15 C656.42,363.96 655.32,362.96 654.50,361.15 C653.68,359.34 653.32,356.75 652.50,354.28 C651.68,351.82 650.57,348.88 649.60,346.36 C648.63,343.84 647.62,341.23 646.70,339.17 C645.78,337.11 645.08,334.76 644.10,334.01 C643.12,333.26 641.83,334.25 640.80,334.68 C639.77,335.11 638.88,335.63 637.90,336.60 C636.92,337.57 635.83,338.93 634.90,340.50 C633.97,342.07 633.13,344.22 632.30,346.00 C631.47,347.78 630.72,349.68 629.90,351.20 C629.08,352.72 628.20,355.10 627.40,355.10 C626.60,355.10 625.88,352.35 625.10,351.20 C624.32,350.05 623.52,349.04 622.70,348.19 C621.88,347.33 621.05,345.94 620.20,346.06 C619.35,346.18 618.42,348.15 617.60,348.93 C616.78,349.71 616.08,351.07 615.30,350.71 C614.52,350.36 613.72,347.94 612.90,346.80 C612.08,345.66 611.23,343.73 610.40,343.90 C609.57,344.07 608.72,346.83 607.90,347.80 C607.08,348.77 606.38,350.20 605.50,349.70 C604.62,349.20 603.52,346.30 602.60,344.80 C601.68,343.30 600.75,341.76 600.00,340.70 C599.25,339.64 598.75,338.87 598.10,338.46 C597.45,338.05 596.82,337.71 596.10,338.22 C595.38,338.72 594.68,340.37 593.80,341.50 C592.92,342.63 591.62,343.77 590.80,345.00 C589.98,346.23 589.60,346.87 588.90,348.88 C588.20,350.90 586.98,355.73 586.60,357.10 Z" fill="#a8a8fa" opacity="0.85"/>
<path d="M586.60,379.00 C586.98,377.13 588.20,370.48 588.90,367.80 C589.60,365.12 589.98,364.20 590.80,362.90 C591.62,361.60 592.98,360.65 593.80,360.00 C594.62,359.35 594.98,358.68 595.70,359.00 C596.42,359.32 597.28,361.15 598.10,361.90 C598.92,362.65 599.75,363.43 600.60,363.50 C601.45,363.57 602.38,362.17 603.20,362.30 C604.02,362.43 604.72,363.65 605.50,364.30 C606.28,364.95 607.08,366.60 607.90,366.20 C608.72,365.80 609.57,363.92 610.40,361.90 C611.23,359.88 612.08,356.53 612.90,354.10 C613.72,351.67 614.52,349.58 615.30,347.30 C616.08,345.02 616.78,342.68 617.60,340.40 C618.42,338.12 619.35,335.72 620.20,333.60 C621.05,331.48 621.88,329.00 622.70,327.70 C623.52,326.40 624.32,325.70 625.10,325.80 C625.88,325.90 626.60,327.00 627.40,328.30 C628.20,329.60 629.08,331.73 629.90,333.60 C630.72,335.47 631.47,337.72 632.30,339.50 C633.13,341.28 633.97,344.15 634.90,344.30 C635.83,344.45 636.92,341.70 637.90,340.40 C638.88,339.10 639.77,337.87 640.80,336.50 C641.83,335.13 643.12,332.37 644.10,332.20 C645.08,332.03 645.78,333.80 646.70,335.50 C647.62,337.20 648.63,340.28 649.60,342.40 C650.57,344.52 651.52,346.73 652.50,348.20 C653.48,349.67 654.52,351.35 655.50,351.20 C656.48,351.05 657.43,348.60 658.40,347.30 C659.37,346.00 660.22,344.38 661.30,343.40 C662.38,342.42 663.92,340.92 664.90,341.40 C665.88,341.88 666.42,344.02 667.20,346.30 C667.98,348.58 668.78,352.00 669.60,355.10 C670.42,358.20 671.27,361.80 672.10,364.90 C672.93,368.00 673.78,371.65 674.60,373.70 C675.42,375.75 676.28,377.37 677.00,377.20 C677.72,377.03 678.18,373.93 678.90,372.70 C679.62,371.47 680.35,370.92 681.30,369.80 C682.25,368.68 684.05,366.63 684.60,366.00" fill="none" stroke="#ff0000" stroke-width="2.4" stroke-linejoin="round"/>
<path d="M586.60,348.00 C586.98,346.57 588.20,341.48 588.90,339.40 C589.60,337.32 589.98,336.63 590.80,335.50 C591.62,334.37 592.92,333.35 593.80,332.60 C594.68,331.85 595.38,330.83 596.10,331.00 C596.82,331.17 597.45,332.35 598.10,333.60 C598.75,334.85 599.25,336.88 600.00,338.50 C600.75,340.12 601.68,341.68 602.60,343.30 C603.52,344.92 604.62,347.70 605.50,348.20 C606.38,348.70 607.08,347.27 607.90,346.30 C608.72,345.33 609.57,342.57 610.40,342.40 C611.23,342.23 612.08,344.17 612.90,345.30 C613.72,346.43 614.52,348.87 615.30,349.20 C616.08,349.53 616.78,348.12 617.60,347.30 C618.42,346.48 619.35,344.47 620.20,344.30 C621.05,344.13 621.88,345.48 622.70,346.30 C623.52,347.12 624.32,348.07 625.10,349.20 C625.88,350.33 626.60,353.10 627.40,353.10 C628.20,353.10 629.08,350.72 629.90,349.20 C630.72,347.68 631.47,345.78 632.30,344.00 C633.13,342.22 633.97,340.07 634.90,338.50 C635.83,336.93 636.92,335.58 637.90,334.60 C638.88,333.62 639.77,333.10 640.80,332.60 C641.83,332.10 643.12,330.95 644.10,331.60 C645.08,332.25 645.78,334.53 646.70,336.50 C647.62,338.47 648.63,340.95 649.60,343.40 C650.57,345.85 651.68,348.77 652.50,351.20 C653.32,353.63 653.68,356.22 654.50,358.00 C655.32,359.78 656.42,360.75 657.40,361.90 C658.38,363.05 659.42,363.92 660.40,364.90 C661.38,365.88 662.33,366.67 663.30,367.80 C664.27,368.93 665.22,370.72 666.20,371.70 C667.18,372.68 668.22,373.05 669.20,373.70 C670.18,374.35 671.13,374.78 672.10,375.60 C673.07,376.42 674.12,378.92 675.00,378.60 C675.88,378.28 676.58,374.68 677.40,373.70 C678.22,372.72 679.15,372.22 679.90,372.70 C680.65,373.18 681.12,375.55 681.90,376.60 C682.68,377.65 684.15,378.60 684.60,379.00" fill="none" stroke="#0000ff" stroke-width="2.4" stroke-linejoin="round"/>
</g>
<line x1="587.1" y1="312.5" x2="612.9" y2="312.5" stroke="#0000ff" stroke-width="2.1"/>
<line x1="619.8" y1="312.5" x2="631.1" y2="312.5" stroke="#ff0000" stroke-width="2.1"/>
<line x1="656.2" y1="312.5" x2="671.4" y2="312.5" stroke="#ff0000" stroke-width="2.1"/>
<line x1="679.5" y1="312.5" x2="685" y2="312.5" stroke="#ff0000" stroke-width="2.1"/>
<rect x="586.9" y="302.6" width="97.1" height="96.7" fill="none" stroke="#777" stroke-width="0.8"/>
<line x1="613.9" y1="302.6" x2="613.9" y2="304.1" stroke="#777" stroke-width="0.6"/>
<line x1="613.9" y1="399.3" x2="613.9" y2="397.8" stroke="#777" stroke-width="0.6"/>
<line x1="640.9" y1="302.6" x2="640.9" y2="304.1" stroke="#777" stroke-width="0.6"/>
<line x1="640.9" y1="399.3" x2="640.9" y2="397.8" stroke="#777" stroke-width="0.6"/>
<line x1="667.9" y1="302.6" x2="667.9" y2="304.1" stroke="#777" stroke-width="0.6"/>
<line x1="667.9" y1="399.3" x2="667.9" y2="397.8" stroke="#777" stroke-width="0.6"/>
<line x1="586.9" y1="312.6" x2="588.4" y2="312.6" stroke="#777" stroke-width="0.6"/>
<line x1="684.0" y1="312.6" x2="682.5" y2="312.6" stroke="#777" stroke-width="0.6"/>
<text x="584.7" y="315.3" font-family="&apos;Liberation Sans&apos;, sans-serif" font-size="7.6" font-weight="normal" fill="#333" text-anchor="end" >2</text>
<line x1="586.9" y1="351.4" x2="588.4" y2="351.4" stroke="#777" stroke-width="0.6"/>
<line x1="684.0" y1="351.4" x2="682.5" y2="351.4" stroke="#777" stroke-width="0.6"/>
<text x="584.7" y="354.1" font-family="&apos;Liberation Sans&apos;, sans-serif" font-size="7.6" font-weight="normal" fill="#333" text-anchor="end" >0</text>
<line x1="586.9" y1="390.2" x2="588.4" y2="390.2" stroke="#777" stroke-width="0.6"/>
<line x1="684.0" y1="390.2" x2="682.5" y2="390.2" stroke="#777" stroke-width="0.6"/>
<text x="584.7" y="392.9" font-family="&apos;Liberation Sans&apos;, sans-serif" font-size="7.6" font-weight="normal" fill="#333" text-anchor="end" >-2</text>
<text x="586.9" y="409.1" font-family="&apos;Liberation Sans&apos;, sans-serif" font-size="7.6" font-weight="normal" fill="#333" text-anchor="middle" >0</text>
<text x="613.9" y="409.1" font-family="&apos;Liberation Sans&apos;, sans-serif" font-size="7.6" font-weight="normal" fill="#333" text-anchor="middle" >500</text>
<text x="640.9" y="409.1" font-family="&apos;Liberation Sans&apos;, sans-serif" font-size="7.6" font-weight="normal" fill="#333" text-anchor="middle" >1000</text>
<text x="667.9" y="409.1" font-family="&apos;Liberation Sans&apos;, sans-serif" font-size="7.6" font-weight="normal" fill="#333" text-anchor="middle" >1500</text>
<text x="635.5" y="299.0" font-family="&apos;Liberation Sans&apos;, sans-serif" font-size="8.8" font-weight="bold" fill="#000" text-anchor="middle" >Fast Theta</text>
<text x="0" y="0" font-family="&apos;Liberation Sans&apos;, sans-serif" font-size="8.3" fill="#444" text-anchor="middle" transform="translate(447.8,351.0) rotate(-90)">Novelty</text>
<rect x="479.4" y="375.9" width="56.2" height="18.4" fill="#fff" stroke="#aaa" stroke-width="0.7"/>
<line x1="482" y1="381.29999999999995" x2="504.5" y2="381.29999999999995" stroke="#ff0000" stroke-width="2"/>
<line x1="482" y1="389.2" x2="504.5" y2="389.2" stroke="#0000ff" stroke-width="2"/>
<text x="506.3" y="383.8" font-family="&apos;Liberation Sans&apos;, sans-serif" font-size="7" font-weight="normal" fill="#222" text-anchor="start" >Anterior</text>
<text x="506.3" y="391.7" font-family="&apos;Liberation Sans&apos;, sans-serif" font-size="7" font-weight="normal" fill="#222" text-anchor="start" >Posterior</text>
</svg>
</body></html>
